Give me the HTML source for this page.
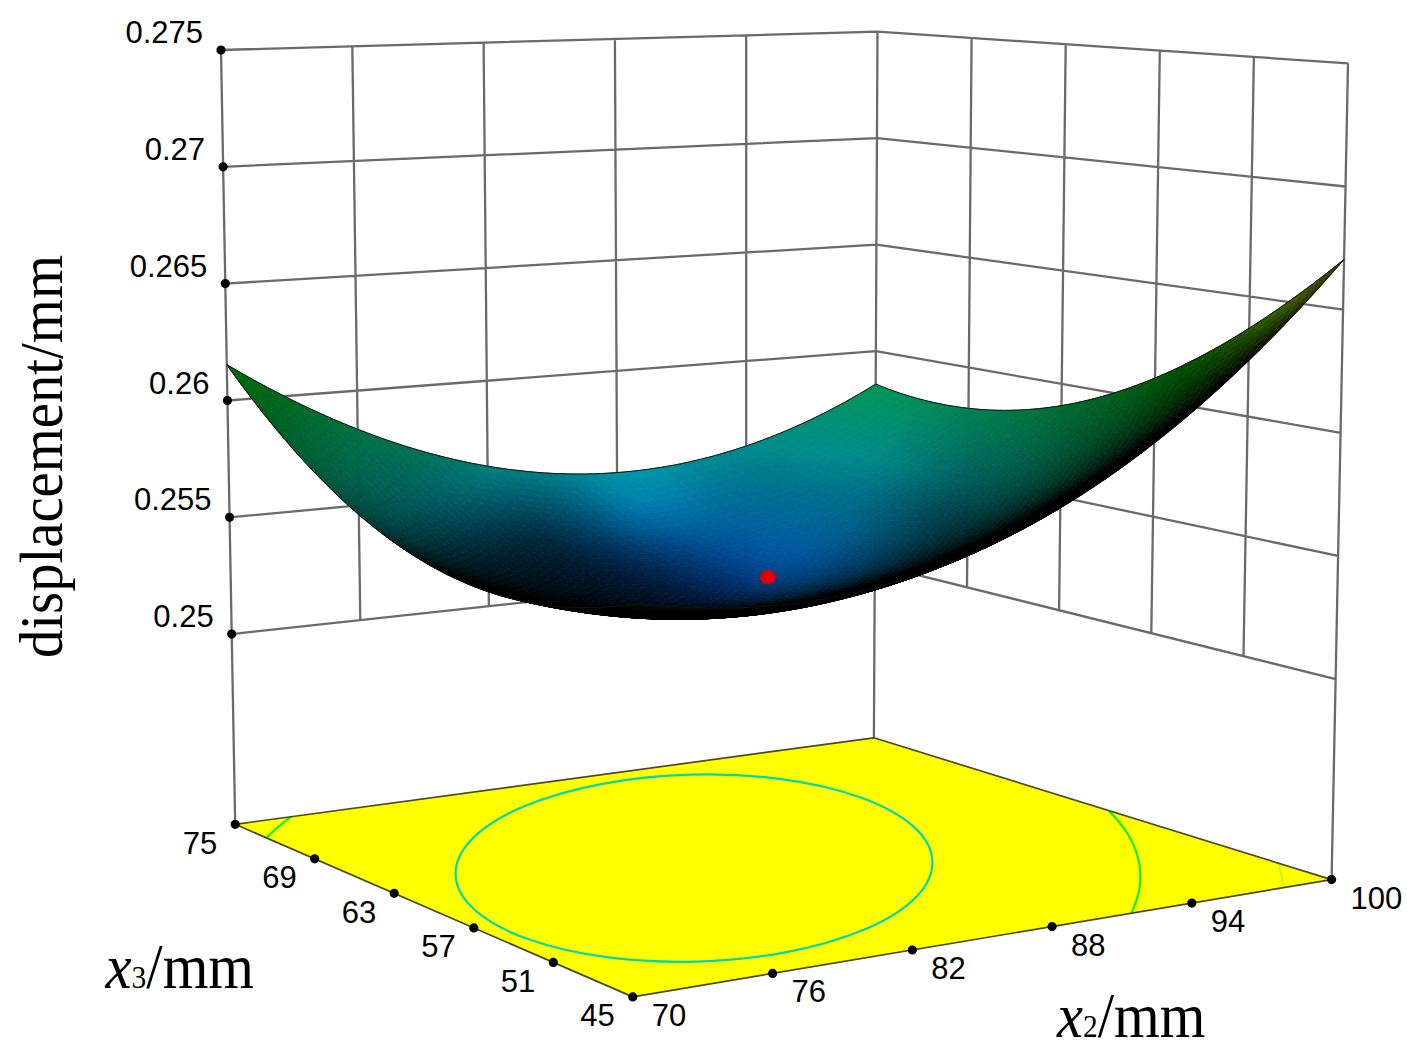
<!DOCTYPE html>
<html><head><meta charset="utf-8"><style>html,body{margin:0;padding:0;background:#fff;width:1407px;height:1062px;overflow:hidden}</style></head>
<body>
<svg width="1407" height="1062" viewBox="0 0 1407 1062" style="display:block">
<rect width="1407" height="1062" fill="#fff"/>
<path d="M235.2,824.3L221,50M360.3,620.2L352.3,46.3M488.9,606.2L483.6,42.6M617.6,592.2L614.9,39M746.2,578.3L746.2,35.3M873.9,737.8L877.5,31.6M231.7,634.1L874.8,564.3M229.6,517.3L875.3,457.8M227.4,400.5L875.9,351.2M225.3,283.6L876.4,244.7M223.1,166.8L877,138.1M221,50L877.5,31.6M967,587.3L971.6,37.9M1059.1,610.2L1065.7,44.3M1151.3,633.2L1159.8,50.6M1243.5,656.1L1253.9,57M1331.6,879.6L1348,63.3M874.8,564.3L1335.6,679.1M875.3,457.8L1338.1,555.9M875.9,351.2L1340.6,432.8M876.4,244.7L1343.1,309.6M877,138.1L1345.5,186.5M877.5,31.6L1348,63.3" stroke="#6a6a6a" stroke-width="2.3" fill="none"/>
<path d="M235.2,824.3L873.9,737.8L1331.6,879.6L632.8,996.9Z" fill="#ffff00"/>
<ellipse cx="694.0" cy="868.1" rx="238.5" ry="93.5" transform="rotate(-1.56 694.0 868.1)" fill="none" stroke="#00d8b0" stroke-width="2.2"/>
<path d="M291.2,816.7L289.9,817.6L288.9,818.4L287.9,819.2L286.9,819.9L285.9,820.7L285,821.5L284,822.3L283,823.1L281.9,824L280.8,824.9L279.7,825.8L278.6,826.7L277.6,827.6L276.5,828.5L275.5,829.4L274.5,830.3L273.5,831.1L272.6,832L271.7,832.8L270.8,833.6L269.9,834.5L269,835.3L268.2,836.1L267.3,837L266.4,837.8" stroke="#10f010" stroke-width="2.2" fill="none"/>
<path d="M1131.2,913.2L1131.6,912.4L1132.1,911.5L1132.5,910.4L1133,909.4L1133.4,908.4L1133.8,907.6L1134.1,906.8L1134.4,905.9L1134.8,905.1L1135.1,904.2L1135.5,903.2L1135.9,902.1L1136.2,901.2L1136.4,900.4L1136.7,899.6L1136.9,898.8L1137.2,897.9L1137.5,896.8L1137.8,895.8L1138,894.9L1138.2,894.1L1138.4,893.4L1138.6,892.5L1138.8,891.4L1139,890.4L1139.2,889.5L1139.3,888.8L1139.4,888L1139.6,887.1L1139.7,886L1139.8,885L1139.9,884.2L1140,883.5L1140.1,882.7L1140.2,881.6L1140.2,880.5L1140.3,879.7L1140.3,879L1140.3,878.2L1140.3,877.1L1140.3,876L1140.3,875.3L1140.3,874.6L1140.3,873.6L1140.3,872.5L1140.2,871.7L1140.2,870.9L1140.1,870.2L1140,869L1139.9,868L1139.8,867.3L1139.7,866.6L1139.6,865.5L1139.4,864.5L1139.3,863.7L1139.1,863L1139,862L1138.7,860.9L1138.6,860.2L1138.4,859.5L1138.2,858.4L1137.9,857.4L1137.7,856.7L1137.5,856L1137.2,854.8L1136.9,853.9L1136.7,853.2L1136.4,852.3L1136,851.2L1135.7,850.5L1135.5,849.8L1135,848.6L1134.7,847.8L1134.4,847.1L1134,846.1L1133.5,845L1133.2,844.4L1132.9,843.6L1132.3,842.3L1132,841.7L1131.6,841L1131,839.7L1130.6,839L1130.2,838.4L1129.5,837.1L1129.1,836.4L1128.7,835.7L1128,834.5L1127.5,833.7L1127.1,833.1L1126.3,831.8L1125.8,831.1L1125.4,830.5L1124.5,829.2L1124.1,828.5L1123.5,827.7L1122.7,826.6L1122.2,826L1121.4,825L1120.7,824.1L1120.2,823.4L1119.2,822.2L1118.7,821.5L1118,820.7L1117.1,819.6L1116.5,819L1115.5,817.9L1114.9,817.1L1114.2,816.4L1113.1,815.3L1112.5,814.6L1111.4,813.5L1110.7,812.8L1109.9,812L1108.9,811" stroke="#10f010" stroke-width="2.2" fill="none"/>
<path d="M1283.5,887.7L1283.4,887L1283.3,885.8L1283.1,884.8L1283,884.1L1282.9,883.4L1282.7,882.3L1282.6,881.2L1282.4,880.5L1282.3,879.8L1282.1,878.7L1281.9,877.7L1281.7,877L1281.6,876.3L1281.3,875.1L1281.1,874.1L1280.9,873.4L1280.7,872.7L1280.4,871.5L1280.2,870.6L1280,870L1279.7,869L1279.4,867.9L1279.2,867.2L1278.9,866.5L1278.6,865.4L1278.3,864.4L1278,863.7L1277.7,862.9" stroke="#b8f830" stroke-width="1.6" fill="none"/>
<path d="M632.8,996.9L235.2,824.3L873.9,737.8L1331.6,879.6L632.8,996.9" fill="none" stroke="#4a4a20" stroke-width="1.7" stroke-linejoin="round"/>
<path d="M227.1,634.1a4.6,4.6 0 1,0 9.2,0a4.6,4.6 0 1,0 -9.2,0zM225,517.3a4.6,4.6 0 1,0 9.2,0a4.6,4.6 0 1,0 -9.2,0zM222.8,400.5a4.6,4.6 0 1,0 9.2,0a4.6,4.6 0 1,0 -9.2,0zM220.7,283.6a4.6,4.6 0 1,0 9.2,0a4.6,4.6 0 1,0 -9.2,0zM218.5,166.8a4.6,4.6 0 1,0 9.2,0a4.6,4.6 0 1,0 -9.2,0zM216.4,50a4.6,4.6 0 1,0 9.2,0a4.6,4.6 0 1,0 -9.2,0zM230.6,824.3a4.6,4.6 0 1,0 9.2,0a4.6,4.6 0 1,0 -9.2,0zM628.2,996.9a4.6,4.6 0 1,0 9.2,0a4.6,4.6 0 1,0 -9.2,0zM310.1,858.8a4.6,4.6 0 1,0 9.2,0a4.6,4.6 0 1,0 -9.2,0zM768,973.4a4.6,4.6 0 1,0 9.2,0a4.6,4.6 0 1,0 -9.2,0zM389.6,893.3a4.6,4.6 0 1,0 9.2,0a4.6,4.6 0 1,0 -9.2,0zM907.7,950a4.6,4.6 0 1,0 9.2,0a4.6,4.6 0 1,0 -9.2,0zM469.2,927.9a4.6,4.6 0 1,0 9.2,0a4.6,4.6 0 1,0 -9.2,0zM1047.5,926.5a4.6,4.6 0 1,0 9.2,0a4.6,4.6 0 1,0 -9.2,0zM548.7,962.4a4.6,4.6 0 1,0 9.2,0a4.6,4.6 0 1,0 -9.2,0zM1187.2,903.1a4.6,4.6 0 1,0 9.2,0a4.6,4.6 0 1,0 -9.2,0zM628.2,996.9a4.6,4.6 0 1,0 9.2,0a4.6,4.6 0 1,0 -9.2,0zM1327,879.6a4.6,4.6 0 1,0 9.2,0a4.6,4.6 0 1,0 -9.2,0z" fill="#000"/>
<g font-family="Liberation Sans, sans-serif" font-size="31" fill="#000">
<text x="213.7" y="627.1" text-anchor="end">0.25</text>
<text x="211.6" y="510.3" text-anchor="end">0.255</text>
<text x="209.4" y="393.5" text-anchor="end">0.26</text>
<text x="207.3" y="276.6" text-anchor="end">0.265</text>
<text x="205.1" y="159.8" text-anchor="end">0.27</text>
<text x="203" y="43" text-anchor="end">0.275</text>
<text x="217.2" y="853.8" text-anchor="end">75</text>
<text x="296.7" y="888.3" text-anchor="end">69</text>
<text x="376.2" y="922.8" text-anchor="end">63</text>
<text x="455.8" y="957.4" text-anchor="end">57</text>
<text x="535.3" y="991.9" text-anchor="end">51</text>
<text x="614.8" y="1026.4" text-anchor="end">45</text>
<text x="651.8" y="1025.9" text-anchor="start">70</text>
<text x="791.6" y="1002.4" text-anchor="start">76</text>
<text x="931.3" y="979" text-anchor="start">82</text>
<text x="1071.1" y="955.5" text-anchor="start">88</text>
<text x="1210.8" y="932.1" text-anchor="start">94</text>
<text x="1350.6" y="908.6" text-anchor="start">100</text>
</g>
<g stroke-width=".8">
<path fill="#009557" stroke="#009557" d="M864.9 390.6l10.8-6.5 7.7 3.1-10.8 6.7z"/>
<path fill="#00955e" stroke="#00955e" d="M854.1 396.9l10.8-6.3 7.7 3.3-10.8 6.4z"/>
<path fill="#009459" stroke="#009459" d="M872.6 393.9l10.8-6.7 7.8 2.9-10.9 6.8z"/>
<path fill="#00935a" stroke="#00935a" d="M880.3 396.9l10.9-6.8 7.7 2.7-10.9 6.9z"/>
<path fill="#009464" stroke="#009464" d="M843.3 403l10.8-6.1 7.7 3.4-10.9 6.2z"/>
<path fill="#009460" stroke="#009460" d="M861.8 400.3l10.8-6.4 7.7 3-10.8 6.5z"/>
<path fill="#00936a" stroke="#00936a" d="M832.5 408.8l10.8-5.8 7.6 3.5-10.8 5.9z"/>
<path fill="#009361" stroke="#009361" d="M869.5 403.4l10.8-6.5 7.7 2.8-10.9 6.7z"/>
<path fill="#00925a" stroke="#00925a" d="M888 399.7l10.9-6.9 7.7 2.5-10.9 7z"/>
<path fill="#009466" stroke="#009466" d="M850.9 406.5l10.9-6.2 7.7 3.1-10.9 6.3z"/>
<path fill="#00926f" stroke="#00926f" d="M821.7 414.3l10.8-5.5 7.6 3.6-10.8 5.6z"/>
<path fill="#00905b" stroke="#00905b" d="M895.7 402.3l10.9-7 7.7 2.3-10.9 7.2z"/>
<path fill="#00936c" stroke="#00936c" d="M840.1 412.4l10.8-5.9 7.7 3.2-10.8 6.1z"/>
<path fill="#009368" stroke="#009368" d="M858.6 409.7l10.9-6.3 7.6 3-10.8 6.4z"/>
<path fill="#009262" stroke="#009262" d="M877.1 406.4l10.9-6.7 7.7 2.6-10.9 6.9z"/>
<path fill="#009174" stroke="#009174" d="M810.9 419.6l10.8-5.3 7.6 3.7-10.8 5.4z"/>
<path fill="#009271" stroke="#009271" d="M829.3 418l10.8-5.6 7.7 3.4-10.9 5.8z"/>
<path fill="#00926e" stroke="#00926e" d="M847.8 415.8l10.8-6.1 7.7 3.1-10.9 6.2z"/>
<path fill="#009162" stroke="#009162" d="M884.8 409.2l10.9-6.9 7.7 2.5-10.9 6.9z"/>
<path fill="#008f5b" stroke="#008f5b" d="M903.4 404.8l10.9-7.2 7.8 2.1-11 7.3z"/>
<path fill="#009269" stroke="#009269" d="M866.3 412.8l10.8-6.4 7.7 2.8-10.8 6.5z"/>
<path fill="#009173" stroke="#009173" d="M836.9 421.6l10.9-5.8 7.6 3.2-10.8 5.9z"/>
<path fill="#009078" stroke="#009078" d="M800.1 424.6l10.8-5 7.6 3.8-10.8 5.2z"/>
<path fill="#009076" stroke="#009076" d="M818.5 423.4l10.8-5.4 7.6 3.6-10.8 5.5z"/>
<path fill="#00916f" stroke="#00916f" d="M855.4 419l10.9-6.2 7.7 2.9-10.9 6.3z"/>
<path fill="#009169" stroke="#009169" d="M874 415.7l10.8-6.5 7.7 2.5-10.9 6.7z"/>
<path fill="#008f62" stroke="#008f62" d="M892.5 411.7l10.9-6.9 7.7 2.2-10.9 7.1z"/>
<path fill="#008d5a" stroke="#008d5a" d="M911.1 407l11-7.3 7.7 1.9-10.9 7.5z"/>
<path fill="#008e7c" stroke="#008e7c" d="M789.3 429.4l10.8-4.8 7.6 4-10.8 4.9z"/>
<path fill="#009078" stroke="#009078" d="M826.1 427.1l10.8-5.5 7.7 3.3-10.8 5.6z"/>
<path fill="#009175" stroke="#009175" d="M844.6 424.9l10.8-5.9 7.7 3-10.9 6z"/>
<path fill="#009070" stroke="#009070" d="M863.1 422l10.9-6.3 7.6 2.7-10.8 6.4z"/>
<path fill="#008d62" stroke="#008d62" d="M900.2 414.1l10.9-7.1 7.8 2.1-11 7.1z"/>
<path fill="#008b59" stroke="#008b59" d="M918.9 409.1l10.9-7.5 7.7 1.7-10.9 7.6z"/>
<path fill="#008f7a" stroke="#008f7a" d="M807.7 428.6l10.8-5.2 7.6 3.7-10.8 5.2z"/>
<path fill="#008f6a" stroke="#008f6a" d="M881.6 418.4l10.9-6.7 7.7 2.4-10.9 6.8z"/>
<path fill="#008d7f" stroke="#008d7f" d="M778.5 433.9l10.8-4.5 7.6 4.1-10.8 4.6z"/>
<path fill="#009076" stroke="#009076" d="M852.2 428l10.9-6 7.7 2.8-10.9 6.2z"/>
<path fill="#008958" stroke="#008958" d="M926.6 410.9l10.9-7.6 7.8 1.6-11 7.7z"/>
<path fill="#008e7e" stroke="#008e7e" d="M796.9 433.5l10.8-4.9 7.6 3.7-10.8 5.1z"/>
<path fill="#008f7d" stroke="#008f7d" d="M815.3 432.3l10.8-5.2 7.7 3.4-10.9 5.4z"/>
<path fill="#00907a" stroke="#00907a" d="M833.8 430.5l10.8-5.6 7.6 3.1-10.8 5.8z"/>
<path fill="#008f70" stroke="#008f70" d="M870.8 424.8l10.8-6.4 7.7 2.5-10.9 6.5z"/>
<path fill="#008b61" stroke="#008b61" d="M907.9 416.2l11-7.1 7.7 1.8-11 7.3z"/>
<path fill="#008e69" stroke="#008e69" d="M889.3 420.9l10.9-6.8 7.7 2.1-10.9 7z"/>
<path fill="#008c83" stroke="#008c83" d="M767.7 438.2l10.8-4.3 7.6 4.2-10.8 4.4z"/>
<path fill="#008d82" stroke="#008d82" d="M786.1 438.1l10.8-4.6 7.6 3.9-10.8 4.7z"/>
<path fill="#008e81" stroke="#008e81" d="M804.5 437.4l10.8-5.1 7.6 3.6-10.8 5.2z"/>
<path fill="#008f7b" stroke="#008f7b" d="M841.4 433.8l10.8-5.8 7.7 3-10.9 5.9z"/>
<path fill="#008f76" stroke="#008f76" d="M859.9 431l10.9-6.2 7.6 2.6-10.9 6.3z"/>
<path fill="#008757" stroke="#008757" d="M934.3 412.6l11-7.7 7.7 1.3-11 7.8z"/>
<path fill="#008f7e" stroke="#008f7e" d="M822.9 435.9l10.9-5.4 7.6 3.3-10.9 5.5z"/>
<path fill="#008e70" stroke="#008e70" d="M878.4 427.4l10.9-6.5 7.7 2.3-10.9 6.6z"/>
<path fill="#008c69" stroke="#008c69" d="M897 423.2l10.9-7 7.7 2-10.9 7.1z"/>
<path fill="#008960" stroke="#008960" d="M915.6 418.2l11-7.3 7.7 1.7-11 7.4z"/>
<path fill="#008d84" stroke="#008d84" d="M793.7 442.1l10.8-4.7 7.6 3.7-10.8 4.9z"/>
<path fill="#008c86" stroke="#008c86" d="M757 442.2l10.7-4 7.6 4.3-10.8 4.2z"/>
<path fill="#008c85" stroke="#008c85" d="M775.3 442.5l10.8-4.4 7.6 4-10.8 4.6z"/>
<path fill="#008d83" stroke="#008d83" d="M812.1 441.1l10.8-5.2 7.6 3.4-10.8 5.3z"/>
<path fill="#008e80" stroke="#008e80" d="M830.5 439.3l10.9-5.5 7.6 3.1-10.9 5.6z"/>
<path fill="#008e7c" stroke="#008e7c" d="M849 436.9l10.9-5.9 7.6 2.7-10.9 6z"/>
<path fill="#008e77" stroke="#008e77" d="M867.5 433.7l10.9-6.3 7.7 2.4-10.9 6.4z"/>
<path fill="#008c70" stroke="#008c70" d="M886.1 429.8l10.9-6.6 7.7 2.1-11 6.8z"/>
<path fill="#008967" stroke="#008967" d="M904.7 425.3l10.9-7.1 7.7 1.8-10.9 7.2z"/>
<path fill="#00875e" stroke="#00875e" d="M923.3 420l11-7.4 7.7 1.4-11 7.6z"/>
<path fill="#008555" stroke="#008555" d="M942 414l11-7.8 7.7 1.2-11 7.9z"/>
<path fill="#008c8a" stroke="#008c8a" d="M746.2 446l10.8-3.8 7.5 4.5-10.8 3.9z"/>
<path fill="#008c88" stroke="#008c88" d="M782.9 446.7l10.8-4.6 7.6 3.9-10.9 4.6z"/>
<path fill="#008c86" stroke="#008c86" d="M801.3 446l10.8-4.9 7.6 3.5-10.9 5z"/>
<path fill="#008d84" stroke="#008d84" d="M819.7 444.6l10.8-5.3 7.6 3.2-10.8 5.4z"/>
<path fill="#008d7d" stroke="#008d7d" d="M856.6 439.7l10.9-6 7.7 2.5-10.9 6.2z"/>
<path fill="#008c76" stroke="#008c76" d="M875.2 436.2l10.9-6.4 7.6 2.3-10.9 6.5z"/>
<path fill="#008a6f" stroke="#008a6f" d="M893.7 432.1l11-6.8 7.7 1.9-11 6.9z"/>
<path fill="#00855d" stroke="#00855d" d="M931 421.6l11-7.6 7.7 1.3-11 7.7z"/>
<path fill="#008254" stroke="#008254" d="M949.7 415.3l11-7.9 7.8 0.9-11.1 8.1z"/>
<path fill="#008c89" stroke="#008c89" d="M764.5 446.7l10.8-4.2 7.6 4.2-10.8 4.2z"/>
<path fill="#008e81" stroke="#008e81" d="M838.1 442.5l10.9-5.6 7.6 2.8-10.9 5.8z"/>
<path fill="#008766" stroke="#008766" d="M912.4 427.2l10.9-7.2 7.7 1.6-11 7.3z"/>
<path fill="#008b8c" stroke="#008b8c" d="M735.4 449.5l10.8-3.5 7.5 4.6-10.8 3.6z"/>
<path fill="#008c88" stroke="#008c88" d="M808.8 449.6l10.9-5 7.6 3.3-10.9 5.1z"/>
<path fill="#008a75" stroke="#008a75" d="M882.8 438.6l10.9-6.5 7.7 2-10.9 6.6z"/>
<path fill="#008b8b" stroke="#008b8b" d="M753.7 450.6l10.8-3.9 7.6 4.2-10.8 4.1z"/>
<path fill="#008b8b" stroke="#008b8b" d="M772.1 450.9l10.8-4.2 7.5 3.9-10.8 4.4z"/>
<path fill="#008c8a" stroke="#008c8a" d="M790.4 450.6l10.9-4.6 7.5 3.6-10.8 4.8z"/>
<path fill="#008d86" stroke="#008d86" d="M827.3 447.9l10.8-5.4 7.6 3-10.8 5.5z"/>
<path fill="#008c7c" stroke="#008c7c" d="M864.3 442.4l10.9-6.2 7.6 2.4-10.9 6.3z"/>
<path fill="#00876d" stroke="#00876d" d="M901.4 434.1l11-6.9 7.6 1.7-10.9 7z"/>
<path fill="#00825b" stroke="#00825b" d="M938.7 423l11-7.7 7.7 1.1-11 7.8z"/>
<path fill="#008052" stroke="#008052" d="M957.4 416.4l11.1-8.1 7.7 0.8-11 8.2z"/>
<path fill="#008d82" stroke="#008d82" d="M845.7 445.5l10.9-5.8 7.7 2.7-10.9 5.9z"/>
<path fill="#008564" stroke="#008564" d="M920 428.9l11-7.3 7.7 1.4-11 7.4z"/>
<path fill="#00888c" stroke="#00888c" d="M742.9 454.2l10.8-3.6 7.6 4.4-10.9 3.7z"/>
<path fill="#00878b" stroke="#00878b" d="M761.3 455l10.8-4.1 7.5 4.1-10.8 4.2z"/>
<path fill="#008b8b" stroke="#008b8b" d="M798 454.4l10.8-4.8 7.6 3.4-10.8 4.9z"/>
<path fill="#008c8a" stroke="#008c8a" d="M816.4 453l10.9-5.1 7.6 3.1-10.9 5.3z"/>
<path fill="#008874" stroke="#008874" d="M890.5 440.7l10.9-6.6 7.7 1.8-11 6.8z"/>
<path fill="#007f50" stroke="#007f50" d="M965.2 417.3l11-8.2 7.7 0.6-11 8.3z"/>
<path fill="#00898d" stroke="#00898d" d="M724.6 452.8l10.8-3.3 7.5 4.7-10.8 3.4z"/>
<path fill="#00888b" stroke="#00888b" d="M779.6 455l10.8-4.4 7.6 3.8-10.8 4.5z"/>
<path fill="#008c87" stroke="#008c87" d="M834.9 451l10.8-5.5 7.7 2.8-10.9 5.6z"/>
<path fill="#008c82" stroke="#008c82" d="M853.4 448.3l10.9-5.9 7.6 2.5-10.9 6z"/>
<path fill="#008a7c" stroke="#008a7c" d="M871.9 444.9l10.9-6.3 7.7 2.1-11 6.4z"/>
<path fill="#00856b" stroke="#00856b" d="M909.1 435.9l10.9-7 7.7 1.5-11 7.2z"/>
<path fill="#008262" stroke="#008262" d="M927.7 430.4l11-7.4 7.7 1.2-11 7.6z"/>
<path fill="#008059" stroke="#008059" d="M946.4 424.2l11-7.8 7.8 0.9-11.1 7.9z"/>
<path fill="#00848c" stroke="#00848c" d="M750.4 458.7l10.9-3.7 7.5 4.2-10.8 3.9z"/>
<path fill="#00888f" stroke="#00888f" d="M713.9 455.9l10.7-3.1 7.5 4.8-10.7 3.2z"/>
<path fill="#00848b" stroke="#00848b" d="M768.8 459.2l10.8-4.2 7.6 3.9-10.9 4.2z"/>
<path fill="#00868b" stroke="#00868b" d="M787.2 458.9l10.8-4.5 7.6 3.5-10.9 4.6z"/>
<path fill="#00888b" stroke="#00888b" d="M805.6 457.9l10.8-4.9 7.6 3.3-10.9 5z"/>
<path fill="#008c8b" stroke="#008c8b" d="M824 456.3l10.9-5.3 7.6 2.9-10.9 5.4z"/>
<path fill="#008c88" stroke="#008c88" d="M842.5 453.9l10.9-5.6 7.6 2.6-10.9 5.7z"/>
<path fill="#008a82" stroke="#008a82" d="M861 450.9l10.9-6 7.6 2.2-10.9 6.2z"/>
<path fill="#00887b" stroke="#00887b" d="M879.5 447.1l11-6.4 7.6 2-11 6.5z"/>
<path fill="#008572" stroke="#008572" d="M898.1 442.7l11-6.8 7.6 1.7-10.9 6.9z"/>
<path fill="#008269" stroke="#008269" d="M916.7 437.6l11-7.2 7.7 1.4-11 7.2z"/>
<path fill="#007e57" stroke="#007e57" d="M954.1 425.2l11.1-7.9 7.7 0.7-11.1 8.1z"/>
<path fill="#007d4e" stroke="#007d4e" d="M972.9 418l11-8.3 7.8 0.4-11.1 8.5z"/>
<path fill="#00858d" stroke="#00858d" d="M732.1 457.6l10.8-3.4 7.5 4.5-10.7 3.6z"/>
<path fill="#008060" stroke="#008060" d="M935.4 431.8l11-7.6 7.7 1-11 7.7z"/>
<path fill="#008891" stroke="#008891" d="M703.1 458.7l10.8-2.8 7.5 4.9-10.8 2.9z"/>
<path fill="#00818b" stroke="#00818b" d="M758 463.1l10.8-3.9 7.5 3.9-10.8 4.1z"/>
<path fill="#00828b" stroke="#00828b" d="M776.3 463.1l10.9-4.2 7.5 3.6-10.9 4.4z"/>
<path fill="#00878b" stroke="#00878b" d="M813.1 461.3l10.9-5 7.6 3-10.9 5.1z"/>
<path fill="#008a8b" stroke="#008a8b" d="M831.6 459.3l10.9-5.4 7.6 2.7-11 5.5z"/>
<path fill="#008b88" stroke="#008b88" d="M850.1 456.6l10.9-5.7 7.6 2.4-10.9 5.9z"/>
<path fill="#008679" stroke="#008679" d="M887.1 449.2l11-6.5 7.7 1.8-11 6.6z"/>
<path fill="#008370" stroke="#008370" d="M905.8 444.5l10.9-6.9 7.7 1.4-11 7.1z"/>
<path fill="#007b4b" stroke="#007b4b" d="M980.6 418.6l11.1-8.5 7.7 0.2-11.1 8.6z"/>
<path fill="#00848e" stroke="#00848e" d="M721.4 460.8l10.7-3.2 7.6 4.7-10.8 3.3z"/>
<path fill="#00828c" stroke="#00828c" d="M739.7 462.3l10.7-3.6 7.6 4.4-10.8 3.6z"/>
<path fill="#00848b" stroke="#00848b" d="M794.7 462.5l10.9-4.6 7.5 3.4-10.9 4.7z"/>
<path fill="#008981" stroke="#008981" d="M868.6 453.3l10.9-6.2 7.6 2.1-10.9 6.3z"/>
<path fill="#008066" stroke="#008066" d="M924.4 439l11-7.2 7.7 1.1-11 7.4z"/>
<path fill="#007d5d" stroke="#007d5d" d="M943.1 432.9l11-7.7 7.7 0.9-11 7.8z"/>
<path fill="#007c55" stroke="#007c55" d="M961.8 426.1l11.1-8.1 7.7 0.6-11.1 8.1z"/>
<path fill="#007e8b" stroke="#007e8b" d="M765.5 467.2l10.8-4.1 7.5 3.8-10.8 4.2z"/>
<path fill="#00888b" stroke="#00888b" d="M839.1 462.1l11-5.5 7.6 2.6-11 5.6z"/>
<path fill="#008995" stroke="#008995" d="M692.3 461.2l10.8-2.5 7.5 5-10.8 2.7z"/>
<path fill="#008491" stroke="#008491" d="M710.6 463.7l10.8-2.9 7.5 4.8-10.8 3z"/>
<path fill="#00808e" stroke="#00808e" d="M728.9 465.6l10.8-3.3 7.5 4.4-10.9 3.4z"/>
<path fill="#00808b" stroke="#00808b" d="M783.8 466.9l10.9-4.4 7.5 3.5-10.8 4.5z"/>
<path fill="#00858b" stroke="#00858b" d="M820.7 464.4l10.9-5.1 7.5 2.8-10.9 5.3z"/>
<path fill="#008987" stroke="#008987" d="M857.7 459.2l10.9-5.9 7.6 2.2-11 6z"/>
<path fill="#008377" stroke="#008377" d="M894.8 451.1l11-6.6 7.6 1.6-11 6.7z"/>
<path fill="#00806d" stroke="#00806d" d="M913.4 446.1l11-7.1 7.7 1.3-11 7.2z"/>
<path fill="#007d64" stroke="#007d64" d="M932.1 440.3l11-7.4 7.7 1-11.1 7.5z"/>
<path fill="#007a52" stroke="#007a52" d="M969.5 426.7l11.1-8.1 7.7 0.3-11.1 8.3z"/>
<path fill="#007949" stroke="#007949" d="M988.3 418.9l11.1-8.6 7.8 0.1-11.1 8.7z"/>
<path fill="#007f8c" stroke="#007f8c" d="M747.2 466.7l10.8-3.6 7.5 4.1-10.8 3.7z"/>
<path fill="#00828b" stroke="#00828b" d="M802.2 466l10.9-4.7 7.6 3.1-10.9 4.9z"/>
<path fill="#008780" stroke="#008780" d="M876.2 455.5l10.9-6.3 7.7 1.9-11 6.4z"/>
<path fill="#007b5b" stroke="#007b5b" d="M950.8 433.9l11-7.8 7.7 0.6-11 7.9z"/>
<path fill="#008090" stroke="#008090" d="M718.1 468.6l10.8-3 7.4 4.5-10.8 3.2z"/>
<path fill="#007c8b" stroke="#007c8b" d="M773 471.1l10.8-4.2 7.6 3.6-10.9 4.3z"/>
<path fill="#00868a" stroke="#00868a" d="M846.7 464.8l11-5.6 7.5 2.3-10.9 5.7z"/>
<path fill="#007d6a" stroke="#007d6a" d="M921.1 447.5l11-7.2 7.6 1.1-11 7.3z"/>
<path fill="#007746" stroke="#007746" d="M996.1 419.1l11.1-8.7 7.7-0.2-11.1 8.8z"/>
<path fill="#008a98" stroke="#008a98" d="M681.6 463.6l10.7-2.4 7.5 5.2-10.8 2.5z"/>
<path fill="#008494" stroke="#008494" d="M699.8 466.4l10.8-2.7 7.5 4.9-10.8 2.8z"/>
<path fill="#007d8e" stroke="#007d8e" d="M736.3 470.1l10.9-3.4 7.5 4.2-10.9 3.6z"/>
<path fill="#007c8c" stroke="#007c8c" d="M754.7 470.9l10.8-3.7 7.5 3.9-10.8 3.9z"/>
<path fill="#007e8b" stroke="#007e8b" d="M791.4 470.5l10.8-4.5 7.6 3.3-10.9 4.6z"/>
<path fill="#00808b" stroke="#00808b" d="M809.8 469.3l10.9-4.9 7.5 3-10.9 5z"/>
<path fill="#00838b" stroke="#00838b" d="M828.2 467.4l10.9-5.3 7.6 2.7-10.9 5.3z"/>
<path fill="#008786" stroke="#008786" d="M865.2 461.5l11-6 7.6 2-11 6.1z"/>
<path fill="#00847d" stroke="#00847d" d="M883.8 457.5l11-6.4 7.6 1.7-11 6.5z"/>
<path fill="#008074" stroke="#008074" d="M902.4 452.8l11-6.7 7.7 1.4-11.1 6.8z"/>
<path fill="#007a61" stroke="#007a61" d="M939.7 441.4l11.1-7.5 7.7 0.7-11.1 7.7z"/>
<path fill="#007959" stroke="#007959" d="M958.5 434.6l11-7.9 7.7 0.5-11 8z"/>
<path fill="#007850" stroke="#007850" d="M977.2 427.2l11.1-8.3 7.8 0.2-11.1 8.4z"/>
<path fill="#008c9c" stroke="#008c9c" d="M670.8 465.7l10.8-2.1 7.4 5.3-10.8 2.2z"/>
<path fill="#008093" stroke="#008093" d="M707.3 471.4l10.8-2.8 7.4 4.7-10.8 2.9z"/>
<path fill="#007c90" stroke="#007c90" d="M725.5 473.3l10.8-3.2 7.5 4.4-10.8 3.2z"/>
<path fill="#007a8d" stroke="#007a8d" d="M743.8 474.5l10.9-3.6 7.5 4.1-10.9 3.6z"/>
<path fill="#007a8c" stroke="#007a8c" d="M780.5 474.8l10.9-4.3 7.5 3.4-10.9 4.4z"/>
<path fill="#007c8b" stroke="#007c8b" d="M798.9 473.9l10.9-4.6 7.5 3.1-10.9 4.7z"/>
<path fill="#007f8b" stroke="#007f8b" d="M817.3 472.4l10.9-5 7.6 2.7-10.9 5.2z"/>
<path fill="#00818a" stroke="#00818a" d="M835.8 470.1l10.9-5.3 7.6 2.4-10.9 5.5z"/>
<path fill="#008488" stroke="#008488" d="M854.3 467.2l10.9-5.7 7.6 2.1-10.9 5.9z"/>
<path fill="#008584" stroke="#008584" d="M872.8 463.6l11-6.1 7.6 1.8-11 6.3z"/>
<path fill="#007d71" stroke="#007d71" d="M910 454.3l11.1-6.8 7.6 1.2-11 7z"/>
<path fill="#007a67" stroke="#007a67" d="M928.7 448.7l11-7.3 7.7 0.9-11 7.4z"/>
<path fill="#00785f" stroke="#00785f" d="M947.4 442.3l11.1-7.7 7.7 0.6-11.1 7.8z"/>
<path fill="#00764d" stroke="#00764d" d="M985 427.5l11.1-8.4 7.7-0.1-11.1 8.6z"/>
<path fill="#007544" stroke="#007544" d="M1003.8 419l11.1-8.8 7.8-0.3-11.2 8.9z"/>
<path fill="#008698" stroke="#008698" d="M689 468.9l10.8-2.5 7.5 5-10.8 2.6z"/>
<path fill="#00798c" stroke="#00798c" d="M762.2 475l10.8-3.9 7.5 3.7-10.8 4z"/>
<path fill="#00817b" stroke="#00817b" d="M891.4 459.3l11-6.5 7.6 1.5-11 6.7z"/>
<path fill="#007756" stroke="#007756" d="M966.2 435.2l11-8 7.8 0.3-11.1 8.1z"/>
<path fill="#008fa1" stroke="#008fa1" d="M660 467.5l10.8-1.8 7.4 5.4-10.7 2z"/>
<path fill="#00798f" stroke="#00798f" d="M733 477.7l10.8-3.2 7.5 4.1-10.8 3.4z"/>
<path fill="#00788c" stroke="#00788c" d="M788 478.3l10.9-4.4 7.5 3.2-10.9 4.5z"/>
<path fill="#007a8b" stroke="#007a8b" d="M806.4 477.1l10.9-4.7 7.6 2.9-10.9 4.8z"/>
<path fill="#008089" stroke="#008089" d="M843.4 472.7l10.9-5.5 7.6 2.3-11 5.6z"/>
<path fill="#008286" stroke="#008286" d="M861.9 469.5l10.9-5.9 7.6 2-10.9 6z"/>
<path fill="#007764" stroke="#007764" d="M936.4 449.7l11-7.4 7.7 0.7-11.1 7.5z"/>
<path fill="#007441" stroke="#007441" d="M1011.5 418.8l11.2-8.9 7.7-0.5-11.1 9.1z"/>
<path fill="#00889c" stroke="#00889c" d="M678.2 471.1l10.8-2.2 7.5 5.1-10.8 2.3z"/>
<path fill="#008197" stroke="#008197" d="M696.5 474l10.8-2.6 7.4 4.8-10.8 2.7z"/>
<path fill="#007c92" stroke="#007c92" d="M714.7 476.2l10.8-2.9 7.5 4.4-10.8 3.1z"/>
<path fill="#00778d" stroke="#00778d" d="M751.3 478.6l10.9-3.6 7.5 3.8-10.9 3.8z"/>
<path fill="#007d8a" stroke="#007d8a" d="M824.9 475.3l10.9-5.2 7.6 2.6-11 5.3z"/>
<path fill="#008382" stroke="#008382" d="M880.4 465.6l11-6.3 7.6 1.7-11 6.3z"/>
<path fill="#007e78" stroke="#007e78" d="M899 461l11-6.7 7.7 1.4-11 6.7z"/>
<path fill="#007a6e" stroke="#007a6e" d="M917.7 455.7l11-7 7.7 1-11.1 7.1z"/>
<path fill="#00765c" stroke="#00765c" d="M955.1 443l11.1-7.8 7.7 0.4-11.1 7.9z"/>
<path fill="#007554" stroke="#007554" d="M973.9 435.6l11.1-8.1 7.7 0.1-11.2 8.3z"/>
<path fill="#00754b" stroke="#00754b" d="M992.7 427.6l11.1-8.6 7.7-0.2-11.1 8.7z"/>
<path fill="#00778c" stroke="#00778c" d="M769.7 478.8l10.8-4 7.5 3.5-10.8 4.1z"/>
<path fill="#00778c" stroke="#00778c" d="M795.5 481.6l10.9-4.5 7.6 3-10.9 4.6z"/>
<path fill="#0091a4" stroke="#0091a4" d="M649.3 469.1l10.7-1.6 7.5 5.6-10.8 1.7z"/>
<path fill="#008aa0" stroke="#008aa0" d="M667.5 473.1l10.7-2 7.5 5.2-10.8 2.1z"/>
<path fill="#00839b" stroke="#00839b" d="M685.7 476.3l10.8-2.3 7.4 4.9-10.8 2.4z"/>
<path fill="#007892" stroke="#007892" d="M722.2 480.8l10.8-3.1 7.5 4.3-10.9 3.2z"/>
<path fill="#00768f" stroke="#00768f" d="M740.5 482l10.8-3.4 7.5 4-10.9 3.5z"/>
<path fill="#00798b" stroke="#00798b" d="M814 480.1l10.9-4.8 7.5 2.7-10.9 4.9z"/>
<path fill="#007e88" stroke="#007e88" d="M850.9 475.1l11-5.6 7.6 2.1-11 5.7z"/>
<path fill="#007f84" stroke="#007f84" d="M869.5 471.6l10.9-6 7.6 1.7-11 6.1z"/>
<path fill="#00807f" stroke="#00807f" d="M888 467.3l11-6.3 7.7 1.4-11.1 6.5z"/>
<path fill="#00776a" stroke="#00776a" d="M925.3 456.8l11.1-7.1 7.6 0.8-11.1 7.3z"/>
<path fill="#007561" stroke="#007561" d="M944 450.5l11.1-7.5 7.7 0.5-11.1 7.7z"/>
<path fill="#007459" stroke="#007459" d="M962.8 443.5l11.1-7.9 7.6 0.3-11.1 8z"/>
<path fill="#007348" stroke="#007348" d="M1000.4 427.5l11.1-8.7 7.8-0.3-11.2 8.7z"/>
<path fill="#00723e" stroke="#00723e" d="M1019.3 418.5l11.1-9.1 7.8-0.7-11.2 9.2z"/>
<path fill="#007c96" stroke="#007c96" d="M703.9 478.9l10.8-2.7 7.5 4.6-10.8 2.8z"/>
<path fill="#00758e" stroke="#00758e" d="M758.8 482.6l10.9-3.8 7.5 3.6-10.9 3.9z"/>
<path fill="#00758d" stroke="#00758d" d="M777.2 482.4l10.8-4.1 7.5 3.3-10.8 4.3z"/>
<path fill="#007c8a" stroke="#007c8a" d="M832.4 478l11-5.3 7.5 2.4-10.9 5.4z"/>
<path fill="#007b74" stroke="#007b74" d="M906.7 462.4l11-6.7 7.6 1.1-11 6.9z"/>
<path fill="#007451" stroke="#007451" d="M981.5 435.9l11.2-8.3 7.7-0.1-11.2 8.4z"/>
<path fill="#0085a0" stroke="#0085a0" d="M674.9 478.4l10.8-2.1 7.4 5-10.8 2.2z"/>
<path fill="#00768c" stroke="#00768c" d="M803.1 484.7l10.9-4.6 7.5 2.8-10.9 4.8z"/>
<path fill="#007d81" stroke="#007d81" d="M877 473.4l11-6.1 7.6 1.6-11 6.2z"/>
<path fill="#00735f" stroke="#00735f" d="M951.7 451.2l11.1-7.7 7.6 0.4-11.1 7.7z"/>
<path fill="#00703b" stroke="#00703b" d="M1027 417.9l11.2-9.2 7.8-0.9-11.2 9.3z"/>
<path fill="#0092a7" stroke="#0092a7" d="M638.5 470.5l10.8-1.4 7.4 5.7-10.8 1.5z"/>
<path fill="#008ca5" stroke="#008ca5" d="M656.7 474.8l10.8-1.7 7.4 5.3-10.8 1.9z"/>
<path fill="#007e9a" stroke="#007e9a" d="M693.1 481.3l10.8-2.4 7.5 4.7-10.9 2.6z"/>
<path fill="#007895" stroke="#007895" d="M711.4 483.6l10.8-2.8 7.4 4.4-10.8 2.9z"/>
<path fill="#007592" stroke="#007592" d="M729.6 485.2l10.9-3.2 7.4 4.1-10.8 3.3z"/>
<path fill="#00738f" stroke="#00738f" d="M747.9 486.1l10.9-3.5 7.5 3.7-10.9 3.7z"/>
<path fill="#00738e" stroke="#00738e" d="M766.3 486.3l10.9-3.9 7.5 3.5-10.9 4z"/>
<path fill="#00748d" stroke="#00748d" d="M784.7 485.9l10.8-4.3 7.6 3.1-11 4.4z"/>
<path fill="#00788b" stroke="#00788b" d="M821.5 482.9l10.9-4.9 7.6 2.5-11 5.1z"/>
<path fill="#007a89" stroke="#007a89" d="M840 480.5l10.9-5.4 7.6 2.2-11 5.5z"/>
<path fill="#007c86" stroke="#007c86" d="M858.5 477.3l11-5.7 7.5 1.8-10.9 5.9z"/>
<path fill="#007c7b" stroke="#007c7b" d="M895.6 468.9l11.1-6.5 7.6 1.3-11.1 6.6z"/>
<path fill="#007871" stroke="#007871" d="M914.3 463.7l11-6.9 7.6 1-11 6.9z"/>
<path fill="#007467" stroke="#007467" d="M932.9 457.8l11.1-7.3 7.7 0.7-11.1 7.3z"/>
<path fill="#007257" stroke="#007257" d="M970.4 443.9l11.1-8 7.7 0-11.1 8.1z"/>
<path fill="#00724e" stroke="#00724e" d="M989.2 435.9l11.2-8.4 7.7-0.3-11.2 8.6z"/>
<path fill="#007145" stroke="#007145" d="M1008.1 427.2l11.2-8.7 7.7-0.6-11.2 8.9z"/>
<path fill="#0093a8" stroke="#0093a8" d="M627.7 471.7l10.8-1.2 7.4 5.8-10.8 1.3z"/>
<path fill="#0087a4" stroke="#0087a4" d="M664.1 480.3l10.8-1.9 7.4 5.1-10.8 2z"/>
<path fill="#00809f" stroke="#00809f" d="M682.3 483.5l10.8-2.2 7.4 4.9-10.8 2.3z"/>
<path fill="#007999" stroke="#007999" d="M700.5 486.2l10.9-2.6 7.4 4.5-10.8 2.7z"/>
<path fill="#007292" stroke="#007292" d="M737.1 489.4l10.8-3.3 7.5 3.9-10.9 3.4z"/>
<path fill="#007190" stroke="#007190" d="M755.4 490l10.9-3.7 7.5 3.6-10.9 3.7z"/>
<path fill="#00718e" stroke="#00718e" d="M773.8 489.9l10.9-4 7.4 3.2-10.9 4.1z"/>
<path fill="#00748c" stroke="#00748c" d="M810.6 487.7l10.9-4.8 7.5 2.7-10.9 4.8z"/>
<path fill="#00768a" stroke="#00768a" d="M829 485.6l11-5.1 7.5 2.3-10.9 5.2z"/>
<path fill="#007983" stroke="#007983" d="M866.1 479.3l10.9-5.9 7.6 1.7-11 6z"/>
<path fill="#007a7e" stroke="#007a7e" d="M884.6 475.1l11-6.2 7.6 1.4-11 6.3z"/>
<path fill="#007977" stroke="#007977" d="M903.2 470.3l11.1-6.6 7.6 1-11.1 6.8z"/>
<path fill="#007264" stroke="#007264" d="M940.6 458.5l11.1-7.3 7.6 0.4-11.1 7.5z"/>
<path fill="#00715c" stroke="#00715c" d="M959.3 451.6l11.1-7.7 7.7 0.1-11.1 7.9z"/>
<path fill="#007154" stroke="#007154" d="M978.1 444l11.1-8.1 7.7-0.1-11.1 8.2z"/>
<path fill="#007042" stroke="#007042" d="M1015.8 426.8l11.2-8.9 7.8-0.8-11.2 9.1z"/>
<path fill="#006e38" stroke="#006e38" d="M1034.8 417.1l11.2-9.3 7.7-1-11.2 9.4z"/>
<path fill="#008ea8" stroke="#008ea8" d="M645.9 476.3l10.8-1.5 7.4 5.5-10.8 1.6z"/>
<path fill="#007595" stroke="#007595" d="M718.8 488.1l10.8-2.9 7.5 4.2-10.9 3z"/>
<path fill="#00738d" stroke="#00738d" d="M792.1 489.1l11-4.4 7.5 3-11 4.5z"/>
<path fill="#007887" stroke="#007887" d="M847.5 482.8l11-5.5 7.6 2-11 5.6z"/>
<path fill="#00746d" stroke="#00746d" d="M921.9 464.7l11-6.9 7.7 0.7-11.1 7.1z"/>
<path fill="#00704c" stroke="#00704c" d="M996.9 435.8l11.2-8.6 7.7-0.4-11.1 8.6z"/>
<path fill="#0092a7" stroke="#0092a7" d="M617 472.6l10.7-0.9 7.4 5.9-10.7 1z"/>
<path fill="#007b9e" stroke="#007b9e" d="M689.7 488.5l10.8-2.3 7.5 4.6-10.9 2.4z"/>
<path fill="#006f90" stroke="#006f90" d="M762.9 493.6l10.9-3.7 7.4 3.3-10.9 3.9z"/>
<path fill="#00738c" stroke="#00738c" d="M818.1 490.4l10.9-4.8 7.6 2.4-11 5z"/>
<path fill="#00767a" stroke="#00767a" d="M892.2 476.6l11-6.3 7.6 1.2-11 6.4z"/>
<path fill="#006f59" stroke="#006f59" d="M967 451.9l11.1-7.9 7.7 0-11.1 8z"/>
<path fill="#006c35" stroke="#006c35" d="M1042.5 416.2l11.2-9.4 7.8-1.2-11.2 9.5z"/>
<path fill="#008faa" stroke="#008faa" d="M635.1 477.6l10.8-1.3 7.4 5.6-10.8 1.4z"/>
<path fill="#0089a8" stroke="#0089a8" d="M653.3 481.9l10.8-1.6 7.4 5.2-10.8 1.7z"/>
<path fill="#0082a4" stroke="#0082a4" d="M671.5 485.5l10.8-2 7.4 5-10.8 2.1z"/>
<path fill="#007598" stroke="#007598" d="M708 490.8l10.8-2.7 7.4 4.3-10.8 2.8z"/>
<path fill="#007092" stroke="#007092" d="M744.5 493.4l10.9-3.4 7.5 3.6-10.9 3.5z"/>
<path fill="#00708f" stroke="#00708f" d="M781.2 493.2l10.9-4.1 7.5 3.1-10.9 4.2z"/>
<path fill="#007589" stroke="#007589" d="M836.6 488l10.9-5.2 7.6 2.1-11 5.3z"/>
<path fill="#007686" stroke="#007686" d="M855.1 484.9l11-5.6 7.5 1.8-11 5.7z"/>
<path fill="#007780" stroke="#007780" d="M873.6 481.1l11-6 7.6 1.5-11 6.1z"/>
<path fill="#007573" stroke="#007573" d="M910.8 471.5l11.1-6.8 7.6 0.9-11.1 6.9z"/>
<path fill="#007169" stroke="#007169" d="M929.5 465.6l11.1-7.1 7.6 0.6-11.1 7.2z"/>
<path fill="#006f61" stroke="#006f61" d="M948.2 459.1l11.1-7.5 7.7 0.3-11.1 7.6z"/>
<path fill="#006f51" stroke="#006f51" d="M985.8 444l11.1-8.2 7.8-0.4-11.2 8.4z"/>
<path fill="#006f49" stroke="#006f49" d="M1004.7 435.4l11.1-8.6 7.8-0.6-11.2 8.7z"/>
<path fill="#006e3f" stroke="#006e3f" d="M1023.6 426.2l11.2-9.1 7.7-0.9-11.2 9.2z"/>
<path fill="#007194" stroke="#007194" d="M726.2 492.4l10.9-3 7.4 4-10.8 3.1z"/>
<path fill="#00718e" stroke="#00718e" d="M799.6 492.2l11-4.5 7.5 2.7-11 4.6z"/>
<path fill="#0090a4" stroke="#0090a4" d="M606.2 473.3l10.8-0.7 7.4 6-10.8 0.8z"/>
<path fill="#008ea9" stroke="#008ea9" d="M624.4 478.6l10.7-1 7.4 5.7-10.8 1.1z"/>
<path fill="#008bab" stroke="#008bab" d="M642.5 483.3l10.8-1.4 7.4 5.3-10.8 1.5z"/>
<path fill="#007da2" stroke="#007da2" d="M678.9 490.6l10.8-2.1 7.4 4.7-10.8 2.2z"/>
<path fill="#00769c" stroke="#00769c" d="M697.1 493.2l10.9-2.4 7.4 4.4-10.9 2.5z"/>
<path fill="#006e91" stroke="#006e91" d="M770.3 497.1l10.9-3.9 7.5 3.2-10.9 4z"/>
<path fill="#00728b" stroke="#00728b" d="M825.6 493l11-5 7.5 2.2-11 5.1z"/>
<path fill="#007388" stroke="#007388" d="M844.1 490.2l11-5.3 7.5 1.9-11 5.5z"/>
<path fill="#00747d" stroke="#00747d" d="M881.2 482.7l11-6.1 7.6 1.3-11.1 6.2z"/>
<path fill="#007377" stroke="#007377" d="M899.8 477.9l11-6.4 7.6 1-11 6.6z"/>
<path fill="#00716f" stroke="#00716f" d="M918.4 472.5l11.1-6.9 7.6 0.7-11.1 7z"/>
<path fill="#006d5e" stroke="#006d5e" d="M955.9 459.5l11.1-7.6 7.7 0.1-11.2 7.7z"/>
<path fill="#006d56" stroke="#006d56" d="M974.7 452l11.1-8 7.7-0.2-11.2 8.1z"/>
<path fill="#006e4f" stroke="#006e4f" d="M993.5 443.8l11.2-8.4 7.7-0.5-11.2 8.5z"/>
<path fill="#006b32" stroke="#006b32" d="M1050.3 415.1l11.2-9.5 7.8-1.4-11.3 9.7z"/>
<path fill="#0084a8" stroke="#0084a8" d="M660.7 487.2l10.8-1.7 7.4 5.1-10.8 1.8z"/>
<path fill="#007297" stroke="#007297" d="M715.4 495.2l10.8-2.8 7.5 4.1-10.9 2.9z"/>
<path fill="#006f94" stroke="#006f94" d="M733.7 496.5l10.8-3.1 7.5 3.7-10.9 3.3z"/>
<path fill="#006e92" stroke="#006e92" d="M752 497.1l10.9-3.5 7.4 3.5-10.9 3.6z"/>
<path fill="#006f8f" stroke="#006f8f" d="M788.7 496.4l10.9-4.2 7.5 2.8-10.9 4.4z"/>
<path fill="#00708e" stroke="#00708e" d="M807.1 495l11-4.6 7.5 2.6-11 4.7z"/>
<path fill="#007483" stroke="#007483" d="M862.6 486.8l11-5.7 7.6 1.6-11 5.8z"/>
<path fill="#006e65" stroke="#006e65" d="M937.1 466.3l11.1-7.2 7.7 0.4-11.1 7.4z"/>
<path fill="#006d46" stroke="#006d46" d="M1012.4 434.9l11.2-8.7 7.7-0.8-11.2 8.9z"/>
<path fill="#006c3c" stroke="#006c3c" d="M1031.3 425.4l11.2-9.2 7.8-1.1-11.3 9.3z"/>
<path fill="#008bab" stroke="#008bab" d="M631.7 484.4l10.8-1.1 7.4 5.4-10.8 1.3z"/>
<path fill="#00718a" stroke="#00718a" d="M833.1 495.3l11-5.1 7.5 2.1-11 5.2z"/>
<path fill="#007073" stroke="#007073" d="M907.4 479.1l11-6.6 7.6 0.8-11 6.7z"/>
<path fill="#006c54" stroke="#006c54" d="M982.3 451.9l11.2-8.1 7.7-0.4-11.2 8.3z"/>
<path fill="#008ca0" stroke="#008ca0" d="M595.4 473.8l10.8-0.5 7.4 6.1-10.8 0.6z"/>
<path fill="#008da7" stroke="#008da7" d="M613.6 479.4l10.8-0.8 7.3 5.8-10.8 0.9z"/>
<path fill="#0086ab" stroke="#0086ab" d="M649.9 488.7l10.8-1.5 7.4 5.2-10.8 1.6z"/>
<path fill="#007fa7" stroke="#007fa7" d="M668.1 492.4l10.8-1.8 7.4 4.8-10.8 2z"/>
<path fill="#0078a1" stroke="#0078a1" d="M686.3 495.4l10.8-2.2 7.4 4.5-10.8 2.4z"/>
<path fill="#00729b" stroke="#00729b" d="M704.5 497.7l10.9-2.5 7.4 4.2-10.9 2.7z"/>
<path fill="#006e97" stroke="#006e97" d="M722.8 499.4l10.9-2.9 7.4 3.9-10.9 3z"/>
<path fill="#006d94" stroke="#006d94" d="M741.1 500.4l10.9-3.3 7.4 3.6-10.9 3.4z"/>
<path fill="#006c93" stroke="#006c93" d="M759.4 500.7l10.9-3.6 7.5 3.3-10.9 3.7z"/>
<path fill="#006d91" stroke="#006d91" d="M777.8 500.4l10.9-4 7.5 3-10.9 4.1z"/>
<path fill="#006e8f" stroke="#006e8f" d="M796.2 499.4l10.9-4.4 7.5 2.7-10.9 4.4z"/>
<path fill="#007186" stroke="#007186" d="M851.6 492.3l11-5.5 7.6 1.7-11.1 5.6z"/>
<path fill="#007180" stroke="#007180" d="M870.2 488.5l11-5.8 7.5 1.4-11 6z"/>
<path fill="#007079" stroke="#007079" d="M888.7 484.1l11.1-6.2 7.6 1.2-11.1 6.3z"/>
<path fill="#006e6b" stroke="#006e6b" d="M926 473.3l11.1-7 7.7 0.6-11.1 7z"/>
<path fill="#006c62" stroke="#006c62" d="M944.8 466.9l11.1-7.4 7.6 0.2-11.1 7.5z"/>
<path fill="#006b5b" stroke="#006b5b" d="M963.5 459.7l11.2-7.7 7.6-0.1-11.1 7.9z"/>
<path fill="#006c4c" stroke="#006c4c" d="M1001.2 443.4l11.2-8.5 7.7-0.6-11.2 8.6z"/>
<path fill="#006c43" stroke="#006c43" d="M1020.1 434.3l11.2-8.9 7.7-1-11.2 9z"/>
<path fill="#006a39" stroke="#006a39" d="M1039 424.4l11.3-9.3 7.7-1.2-11.3 9.4z"/>
<path fill="#00692f" stroke="#00692f" d="M1058 413.9l11.3-9.7 7.7-1.5-11.2 9.7z"/>
<path fill="#006f8d" stroke="#006f8d" d="M814.6 497.7l11-4.7 7.5 2.3-11 4.8z"/>
<path fill="#00889b" stroke="#00889b" d="M584.7 474l10.7-0.2 7.4 6.2-10.8 0.3z"/>
<path fill="#0089aa" stroke="#0089aa" d="M620.9 485.3l10.8-0.9 7.4 5.6-10.8 1z"/>
<path fill="#0086ac" stroke="#0086ac" d="M639.1 490l10.8-1.3 7.4 5.3-10.9 1.4z"/>
<path fill="#0081aa" stroke="#0081aa" d="M657.3 494l10.8-1.6 7.4 5-10.9 1.7z"/>
<path fill="#00739f" stroke="#00739f" d="M693.7 500.1l10.8-2.4 7.4 4.4-10.8 2.4z"/>
<path fill="#006e9a" stroke="#006e9a" d="M711.9 502.1l10.9-2.7 7.4 4-10.9 2.8z"/>
<path fill="#006c97" stroke="#006c97" d="M730.2 503.4l10.9-3 7.4 3.7-10.9 3.2z"/>
<path fill="#006b93" stroke="#006b93" d="M766.9 504.1l10.9-3.7 7.5 3.1-11 3.8z"/>
<path fill="#006c92" stroke="#006c92" d="M785.3 503.5l10.9-4.1 7.5 2.7-11 4.3z"/>
<path fill="#006f89" stroke="#006f89" d="M840.6 497.5l11-5.2 7.5 1.8-11 5.3z"/>
<path fill="#006f83" stroke="#006f83" d="M859.1 494.1l11.1-5.6 7.5 1.6-11 5.7z"/>
<path fill="#006d75" stroke="#006d75" d="M896.3 485.4l11.1-6.3 7.6 0.9-11.1 6.4z"/>
<path fill="#006d6f" stroke="#006d6f" d="M915 480l11-6.7 7.7 0.6-11.2 6.9z"/>
<path fill="#006b67" stroke="#006b67" d="M933.7 473.9l11.1-7 7.6 0.3-11.1 7.2z"/>
<path fill="#006a58" stroke="#006a58" d="M971.2 459.8l11.1-7.9 7.7-0.2-11.2 7.9z"/>
<path fill="#006a51" stroke="#006a51" d="M990 451.7l11.2-8.3 7.7-0.5-11.2 8.3z"/>
<path fill="#006b49" stroke="#006b49" d="M1008.9 442.9l11.2-8.6 7.7-0.9-11.2 8.8z"/>
<path fill="#00672c" stroke="#00672c" d="M1065.8 412.4l11.2-9.7 7.8-1.8-11.3 9.9z"/>
<path fill="#0089a3" stroke="#0089a3" d="M602.8 480l10.8-0.6 7.3 5.9-10.8 0.7z"/>
<path fill="#007aa5" stroke="#007aa5" d="M675.5 497.4l10.8-2 7.4 4.7-10.9 2z"/>
<path fill="#006b95" stroke="#006b95" d="M748.5 504.1l10.9-3.4 7.5 3.4-10.9 3.5z"/>
<path fill="#006d8f" stroke="#006d8f" d="M803.7 502.1l10.9-4.4 7.5 2.4-10.9 4.6z"/>
<path fill="#006e8d" stroke="#006e8d" d="M822.1 500.1l11-4.8 7.5 2.2-11 4.9z"/>
<path fill="#006e7c" stroke="#006e7c" d="M877.7 490.1l11-6 7.6 1.3-11 6z"/>
<path fill="#00695f" stroke="#00695f" d="M952.4 467.2l11.1-7.5 7.7 0.1-11.2 7.6z"/>
<path fill="#006a40" stroke="#006a40" d="M1027.8 433.4l11.2-9 7.7-1.1-11.2 9.1z"/>
<path fill="#006836" stroke="#006836" d="M1046.7 423.3l11.3-9.4 7.8-1.5-11.3 9.6z"/>
<path fill="#008495" stroke="#008495" d="M573.9 474l10.8 0 7.3 6.3-10.8 0.2z"/>
<path fill="#0081ac" stroke="#0081ac" d="M646.4 495.4l10.9-1.4 7.3 5.1-10.8 1.5z"/>
<path fill="#006b99" stroke="#006b99" d="M719.3 506.2l10.9-2.8 7.4 3.9-10.8 2.9z"/>
<path fill="#006d86" stroke="#006d86" d="M848.1 499.4l11-5.3 7.6 1.7-11.1 5.4z"/>
<path fill="#006a6b" stroke="#006a6b" d="M922.5 480.8l11.2-6.9 7.6 0.5-11.2 6.9z"/>
<path fill="#00694e" stroke="#00694e" d="M997.7 451.2l11.2-8.3 7.7-0.7-11.3 8.4z"/>
<path fill="#00859d" stroke="#00859d" d="M592 480.3l10.8-0.3 7.3 6-10.8 0.5z"/>
<path fill="#0086a6" stroke="#0086a6" d="M610.1 486l10.8-0.7 7.4 5.7-10.8 0.9z"/>
<path fill="#0085ab" stroke="#0085ab" d="M628.3 491l10.8-1 7.3 5.4-10.8 1.2z"/>
<path fill="#007ba8" stroke="#007ba8" d="M664.6 499.1l10.9-1.7 7.3 4.7-10.8 1.9z"/>
<path fill="#006f9d" stroke="#006f9d" d="M701.1 504.5l10.8-2.4 7.4 4.1-10.8 2.6z"/>
<path fill="#006a97" stroke="#006a97" d="M737.6 507.3l10.9-3.2 7.5 3.5-10.9 3.3z"/>
<path fill="#006a94" stroke="#006a94" d="M774.3 507.3l11-3.8 7.4 2.9-10.9 3.9z"/>
<path fill="#006b92" stroke="#006b92" d="M792.7 506.4l11-4.3 7.5 2.6-11 4.4z"/>
<path fill="#006c8f" stroke="#006c8f" d="M811.2 504.7l10.9-4.6 7.5 2.3-11 4.7z"/>
<path fill="#006d80" stroke="#006d80" d="M866.7 495.8l11-5.7 7.6 1.3-11.1 5.8z"/>
<path fill="#006b78" stroke="#006b78" d="M885.3 491.4l11-6 7.6 1-11.1 6.2z"/>
<path fill="#006a71" stroke="#006a71" d="M903.9 486.4l11.1-6.4 7.5 0.8-11 6.5z"/>
<path fill="#006863" stroke="#006863" d="M941.3 474.4l11.1-7.2 7.6 0.2-11.1 7.3z"/>
<path fill="#00675c" stroke="#00675c" d="M960 467.4l11.2-7.6 7.6-0.2-11.2 7.7z"/>
<path fill="#006855" stroke="#006855" d="M978.8 459.6l11.2-7.9 7.7-0.5-11.2 8.1z"/>
<path fill="#006946" stroke="#006946" d="M1016.6 442.2l11.2-8.8 7.7-1-11.3 8.9z"/>
<path fill="#006732" stroke="#006732" d="M1054.5 422l11.3-9.6 7.7-1.6-11.3 9.7z"/>
<path fill="#006628" stroke="#006628" d="M1073.5 410.8l11.3-9.9 7.8-1.9-11.3 10.1z"/>
<path fill="#0074a3" stroke="#0074a3" d="M682.8 502.1l10.9-2 7.4 4.4-10.9 2.2z"/>
<path fill="#006995" stroke="#006995" d="M756 507.6l10.9-3.5 7.4 3.2-10.9 3.6z"/>
<path fill="#006d8c" stroke="#006d8c" d="M829.6 502.4l11-4.9 7.5 1.9-11 5.1z"/>
<path fill="#00683c" stroke="#00683c" d="M1035.5 432.4l11.2-9.1 7.8-1.3-11.3 9.2z"/>
<path fill="#008197" stroke="#008197" d="M581.2 480.5l10.8-0.2 7.3 6.2-10.8 0.2z"/>
<path fill="#0082a0" stroke="#0082a0" d="M599.3 486.5l10.8-0.5 7.4 5.9-10.8 0.5z"/>
<path fill="#0081ac" stroke="#0081ac" d="M635.6 496.6l10.8-1.2 7.4 5.2-10.8 1.3z"/>
<path fill="#007cab" stroke="#007cab" d="M653.8 500.6l10.8-1.5 7.4 4.9-10.9 1.6z"/>
<path fill="#006899" stroke="#006899" d="M726.8 510.2l10.8-2.9 7.5 3.6-10.9 3z"/>
<path fill="#006a92" stroke="#006a92" d="M800.2 509.1l11-4.4 7.4 2.4-10.9 4.5z"/>
<path fill="#006b84" stroke="#006b84" d="M855.6 501.2l11.1-5.4 7.5 1.4-11 5.6z"/>
<path fill="#006a7c" stroke="#006a7c" d="M874.2 497.2l11.1-5.8 7.5 1.2-11.1 5.9z"/>
<path fill="#00676d" stroke="#00676d" d="M911.5 487.3l11-6.5 7.6 0.5-11.1 6.7z"/>
<path fill="#006868" stroke="#006868" d="M930.1 481.3l11.2-6.9 7.6 0.3-11.2 7z"/>
<path fill="#00665f" stroke="#00665f" d="M948.9 474.7l11.1-7.3 7.6-0.1-11.1 7.5z"/>
<path fill="#00684b" stroke="#00684b" d="M1005.3 450.6l11.3-8.4 7.6-0.9-11.2 8.5z"/>
<path fill="#006425" stroke="#006425" d="M1081.3 409.1l11.3-10.1 7.8-2-11.3 10.1z"/>
<path fill="#00818f" stroke="#00818f" d="M563.1 473.8l10.8 0.2 7.3 6.5-10.8-0.1z"/>
<path fill="#0083a8" stroke="#0083a8" d="M617.5 491.9l10.8-0.9 7.3 5.6-10.8 0.9z"/>
<path fill="#0076a6" stroke="#0076a6" d="M672 504l10.8-1.9 7.4 4.6-10.8 2z"/>
<path fill="#006fa1" stroke="#006fa1" d="M690.2 506.7l10.9-2.2 7.4 4.3-10.9 2.3z"/>
<path fill="#006b9c" stroke="#006b9c" d="M708.5 508.8l10.8-2.6 7.5 4-10.9 2.6z"/>
<path fill="#006897" stroke="#006897" d="M745.1 510.9l10.9-3.3 7.4 3.3-10.9 3.4z"/>
<path fill="#006896" stroke="#006896" d="M763.4 510.9l10.9-3.6 7.5 3-11 3.8z"/>
<path fill="#006994" stroke="#006994" d="M781.8 510.3l10.9-3.9 7.5 2.7-11 4z"/>
<path fill="#006b8e" stroke="#006b8e" d="M818.6 507.1l11-4.7 7.5 2.1-11 4.8z"/>
<path fill="#006b8a" stroke="#006b8a" d="M837.1 504.5l11-5.1 7.5 1.8-11 5.2z"/>
<path fill="#006874" stroke="#006874" d="M892.8 492.6l11.1-6.2 7.6 0.9-11.1 6.3z"/>
<path fill="#006659" stroke="#006659" d="M967.6 467.3l11.2-7.7 7.7-0.3-11.2 7.8z"/>
<path fill="#006752" stroke="#006752" d="M986.5 459.3l11.2-8.1 7.6-0.6-11.2 8.2z"/>
<path fill="#006743" stroke="#006743" d="M1024.2 441.3l11.3-8.9 7.7-1.2-11.3 9z"/>
<path fill="#006639" stroke="#006639" d="M1043.2 431.2l11.3-9.2 7.7-1.5-11.3 9.3z"/>
<path fill="#00652f" stroke="#00652f" d="M1062.2 420.5l11.3-9.7 7.8-1.7-11.3 9.7z"/>
<path fill="#007d99" stroke="#007d99" d="M588.5 486.7l10.8-0.2 7.4 5.9-10.9 0.4z"/>
<path fill="#006880" stroke="#006880" d="M863.2 502.8l11-5.6 7.5 1.3-11 5.7z"/>
<path fill="#006563" stroke="#006563" d="M937.7 481.7l11.2-7 7.6 0.1-11.2 7.1z"/>
<path fill="#007fa2" stroke="#007fa2" d="M606.7 492.4l10.8-0.5 7.3 5.6-10.8 0.7z"/>
<path fill="#007cab" stroke="#007cab" d="M643 501.9l10.8-1.3 7.3 5-10.8 1.4z"/>
<path fill="#0076a9" stroke="#0076a9" d="M661.1 505.6l10.9-1.6 7.4 4.7-10.9 1.7z"/>
<path fill="#0070a4" stroke="#0070a4" d="M679.4 508.7l10.8-2 7.4 4.4-10.9 2z"/>
<path fill="#00689b" stroke="#00689b" d="M715.9 512.8l10.9-2.6 7.4 3.7-11 2.8z"/>
<path fill="#006699" stroke="#006699" d="M734.2 513.9l10.9-3 7.4 3.4-10.9 3.1z"/>
<path fill="#006698" stroke="#006698" d="M752.5 514.3l10.9-3.4 7.4 3.2-10.9 3.4z"/>
<path fill="#006894" stroke="#006894" d="M789.2 513.1l11-4 7.5 2.5-11 4.2z"/>
<path fill="#006991" stroke="#006991" d="M807.7 511.6l10.9-4.5 7.5 2.2-11 4.6z"/>
<path fill="#006a8d" stroke="#006a8d" d="M826.1 509.3l11-4.8 7.5 1.9-11 4.9z"/>
<path fill="#006778" stroke="#006778" d="M881.7 498.5l11.1-5.9 7.6 1-11.1 6z"/>
<path fill="#00656f" stroke="#00656f" d="M900.4 493.6l11.1-6.3 7.5 0.7-11.1 6.4z"/>
<path fill="#006469" stroke="#006469" d="M919 488l11.1-6.7 7.6 0.4-11.1 6.8z"/>
<path fill="#00645c" stroke="#00645c" d="M956.5 474.8l11.1-7.5 7.7-0.2-11.2 7.6z"/>
<path fill="#006650" stroke="#006650" d="M994.1 458.8l11.2-8.2 7.7-0.8-11.2 8.4z"/>
<path fill="#006648" stroke="#006648" d="M1013 449.8l11.2-8.5 7.7-1.1-11.2 8.7z"/>
<path fill="#00663f" stroke="#00663f" d="M1031.9 440.2l11.3-9 7.7-1.4-11.2 9.1z"/>
<path fill="#00632c" stroke="#00632c" d="M1070 418.8l11.3-9.7 7.8-2-11.4 9.9z"/>
<path fill="#006222" stroke="#006222" d="M1089.1 407.1l11.3-10.1 7.8-2.3-11.4 10.3z"/>
<path fill="#007d8a" stroke="#007d8a" d="M552.3 473.4l10.8 0.4 7.3 6.6-10.8-0.3z"/>
<path fill="#007fa9" stroke="#007fa9" d="M624.8 497.5l10.8-0.9 7.4 5.3-10.9 1z"/>
<path fill="#006b9f" stroke="#006b9f" d="M697.6 511.1l10.9-2.3 7.4 4-10.9 2.4z"/>
<path fill="#006456" stroke="#006456" d="M975.3 467.1l11.2-7.8 7.6-0.5-11.2 8z"/>
<path fill="#007c90" stroke="#007c90" d="M570.4 480.4l10.8 0.1 7.3 6.2-10.8 0z"/>
<path fill="#006797" stroke="#006797" d="M770.8 514.1l11-3.8 7.4 2.8-10.9 3.9z"/>
<path fill="#006a87" stroke="#006a87" d="M844.6 506.4l11-5.2 7.6 1.6-11.1 5.3z"/>
<path fill="#006436" stroke="#006436" d="M1050.9 429.8l11.3-9.3 7.8-1.7-11.3 9.5z"/>
<path fill="#007a9b" stroke="#007a9b" d="M595.8 492.8l10.9-0.4 7.3 5.8-10.8 0.4z"/>
<path fill="#0071a6" stroke="#0071a6" d="M668.5 510.4l10.9-1.7 7.3 4.4-10.9 1.9z"/>
<path fill="#006599" stroke="#006599" d="M741.6 517.4l10.9-3.1 7.4 3.2-10.9 3.3z"/>
<path fill="#006891" stroke="#006891" d="M815.1 513.9l11-4.6 7.5 2-11 4.7z"/>
<path fill="#00667c" stroke="#00667c" d="M870.7 504.2l11-5.7 7.6 1.1-11.1 5.8z"/>
<path fill="#006373" stroke="#006373" d="M889.3 499.6l11.1-6 7.5 0.8-11.1 6.2z"/>
<path fill="#006265" stroke="#006265" d="M926.6 488.5l11.1-6.8 7.6 0.2-11.1 6.9z"/>
<path fill="#00625f" stroke="#00625f" d="M945.3 481.9l11.2-7.1 7.6-0.1-11.2 7.3z"/>
<path fill="#006545" stroke="#006545" d="M1020.7 448.9l11.2-8.7 7.8-1.3-11.3 8.9z"/>
<path fill="#00611e" stroke="#00611e" d="M1096.8 405l11.4-10.3 7.8-2.3-11.4 10.3z"/>
<path fill="#007b86" stroke="#007b86" d="M541.6 472.7l10.7 0.7 7.3 6.7-10.7-0.6z"/>
<path fill="#007ba4" stroke="#007ba4" d="M614 498.2l10.8-0.7 7.3 5.4-10.8 0.8z"/>
<path fill="#0076a9" stroke="#0076a9" d="M650.3 507l10.8-1.4 7.4 4.8-10.9 1.5z"/>
<path fill="#006ba1" stroke="#006ba1" d="M686.7 513.1l10.9-2 7.4 4.1-10.9 2.2z"/>
<path fill="#00659a" stroke="#00659a" d="M723.2 516.7l11-2.8 7.4 3.5-11 2.9z"/>
<path fill="#006259" stroke="#006259" d="M964.1 474.7l11.2-7.6 7.6-0.3-11.2 7.6z"/>
<path fill="#00788a" stroke="#00788a" d="M559.6 480.1l10.8 0.3 7.3 6.3-10.8-0.2z"/>
<path fill="#007aa9" stroke="#007aa9" d="M632.1 502.9l10.9-1 7.3 5.1-10.9 1.1z"/>
<path fill="#00679d" stroke="#00679d" d="M705 515.2l10.9-2.4 7.3 3.9-10.9 2.5z"/>
<path fill="#006599" stroke="#006599" d="M759.9 517.5l10.9-3.4 7.5 2.9-11 3.6z"/>
<path fill="#006697" stroke="#006697" d="M778.3 517l10.9-3.9 7.5 2.7-11 3.9z"/>
<path fill="#006794" stroke="#006794" d="M796.7 515.8l11-4.2 7.4 2.3-11 4.3z"/>
<path fill="#00688b" stroke="#00688b" d="M833.6 511.3l11-4.9 7.5 1.7-11 5z"/>
<path fill="#006784" stroke="#006784" d="M852.1 508.1l11.1-5.3 7.5 1.4-11.1 5.4z"/>
<path fill="#00616b" stroke="#00616b" d="M907.9 494.4l11.1-6.4 7.6 0.5-11.1 6.5z"/>
<path fill="#006353" stroke="#006353" d="M982.9 466.8l11.2-8 7.7-0.6-11.2 8z"/>
<path fill="#00654d" stroke="#00654d" d="M1001.8 458.2l11.2-8.4 7.7-0.9-11.3 8.4z"/>
<path fill="#00643c" stroke="#00643c" d="M1039.7 438.9l11.2-9.1 7.8-1.5-11.3 9.2z"/>
<path fill="#006232" stroke="#006232" d="M1058.7 428.3l11.3-9.5 7.7-1.8-11.3 9.6z"/>
<path fill="#006128" stroke="#006128" d="M1077.7 417l11.4-9.9 7.7-2.1-11.3 10z"/>
<path fill="#007892" stroke="#007892" d="M577.7 486.7l10.8 0 7.3 6.1-10.8 0.1z"/>
<path fill="#006378" stroke="#006378" d="M878.2 505.4l11.1-5.8 7.5 1-11.1 5.9z"/>
<path fill="#005f1b" stroke="#005f1b" d="M1104.6 402.7l11.4-10.3 7.8-2.6-11.4 10.5z"/>
<path fill="#00769d" stroke="#00769d" d="M603.2 498.6l10.8-0.4 7.3 5.5-10.8 0.6z"/>
<path fill="#006ba3" stroke="#006ba3" d="M675.8 515l10.9-1.9 7.4 4.3-10.9 2z"/>
<path fill="#00605c" stroke="#00605c" d="M952.9 482l11.2-7.3 7.6-0.3-11.2 7.4z"/>
<path fill="#007585" stroke="#007585" d="M548.9 479.5l10.7 0.6 7.3 6.4-10.8-0.4z"/>
<path fill="#0077a4" stroke="#0077a4" d="M621.3 503.7l10.8-0.8 7.3 5.2-10.8 0.9z"/>
<path fill="#0070a7" stroke="#0070a7" d="M657.6 511.9l10.9-1.5 7.3 4.6-10.8 1.6z"/>
<path fill="#00679e" stroke="#00679e" d="M694.1 517.4l10.9-2.2 7.3 4-10.9 2.3z"/>
<path fill="#00639a" stroke="#00639a" d="M730.6 520.3l11-2.9 7.4 3.4-11 3z"/>
<path fill="#00649a" stroke="#00649a" d="M749 520.8l10.9-3.3 7.4 3.1-11 3.3z"/>
<path fill="#006599" stroke="#006599" d="M767.3 520.6l11-3.6 7.4 2.7-11 3.7z"/>
<path fill="#006694" stroke="#006694" d="M804.1 518.2l11-4.3 7.5 2.1-11 4.4z"/>
<path fill="#00678f" stroke="#00678f" d="M822.6 516l11-4.7 7.5 1.8-11.1 4.8z"/>
<path fill="#006689" stroke="#006689" d="M841.1 513.1l11-5 7.5 1.5-11 5.2z"/>
<path fill="#00606e" stroke="#00606e" d="M896.8 500.6l11.1-6.2 7.6 0.6-11.1 6.3z"/>
<path fill="#005f67" stroke="#005f67" d="M915.5 495l11.1-6.5 7.6 0.3-11.2 6.7z"/>
<path fill="#005f62" stroke="#005f62" d="M934.2 488.8l11.1-6.9 7.6 0.1-11.1 7z"/>
<path fill="#006056" stroke="#006056" d="M971.7 474.4l11.2-7.6 7.7-0.6-11.3 7.8z"/>
<path fill="#00634a" stroke="#00634a" d="M1009.4 457.3l11.3-8.4 7.7-1.1-11.3 8.5z"/>
<path fill="#006342" stroke="#006342" d="M1028.4 447.8l11.3-8.9 7.7-1.4-11.3 9z"/>
<path fill="#006238" stroke="#006238" d="M1047.4 437.5l11.3-9.2 7.7-1.7-11.3 9.3z"/>
<path fill="#006025" stroke="#006025" d="M1085.5 415l11.3-10 7.8-2.3-11.4 10.2z"/>
<path fill="#007a83" stroke="#007a83" d="M530.8 471.8l10.8 0.9 7.3 6.8-10.8-0.8z"/>
<path fill="#00738a" stroke="#00738a" d="M566.9 486.5l10.8 0.2 7.3 6.2-10.8-0.1z"/>
<path fill="#0075a8" stroke="#0075a8" d="M639.4 508.1l10.9-1.1 7.3 4.9-10.8 1.2z"/>
<path fill="#00649c" stroke="#00649c" d="M712.3 519.2l10.9-2.5 7.4 3.6-10.9 2.7z"/>
<path fill="#007493" stroke="#007493" d="M585 492.9l10.8-0.1 7.4 5.8-10.9 0.3z"/>
<path fill="#006597" stroke="#006597" d="M785.7 519.7l11-3.9 7.4 2.4-11 4.1z"/>
<path fill="#006581" stroke="#006581" d="M859.6 509.6l11.1-5.4 7.5 1.2-11.1 5.6z"/>
<path fill="#006251" stroke="#006251" d="M990.6 466.2l11.2-8 7.6-0.9-11.2 8.2z"/>
<path fill="#00602f" stroke="#00602f" d="M1066.4 426.6l11.3-9.6 7.8-2-11.4 9.7z"/>
<path fill="#00729d" stroke="#00729d" d="M610.5 504.3l10.8-0.6 7.3 5.3-10.9 0.7z"/>
<path fill="#0066a0" stroke="#0066a0" d="M683.2 519.4l10.9-2 7.3 4.1-10.9 2.1z"/>
<path fill="#00639b" stroke="#00639b" d="M756.3 523.9l11-3.3 7.4 2.8-11 3.5z"/>
<path fill="#00658d" stroke="#00658d" d="M830 517.9l11.1-4.8 7.5 1.7-11.1 4.9z"/>
<path fill="#005f73" stroke="#005f73" d="M885.7 506.5l11.1-5.9 7.6 0.7-11.2 6z"/>
<path fill="#005d69" stroke="#005d69" d="M904.4 501.3l11.1-6.3 7.5 0.5-11.1 6.4z"/>
<path fill="#005e59" stroke="#005e59" d="M960.5 481.8l11.2-7.4 7.6-0.4-11.2 7.5z"/>
<path fill="#00613e" stroke="#00613e" d="M1036.1 446.5l11.3-9 7.7-1.6-11.3 9.1z"/>
<path fill="#005e21" stroke="#005e21" d="M1093.2 412.9l11.4-10.2 7.8-2.4-11.4 10.2z"/>
<path fill="#007a80" stroke="#007a80" d="M520 470.7l10.8 1.1 7.3 6.9-10.8-0.9z"/>
<path fill="#006f84" stroke="#006f84" d="M556.1 486.1l10.8 0.4 7.3 6.3-10.8-0.3z"/>
<path fill="#0072a3" stroke="#0072a3" d="M628.6 509l10.8-0.9 7.4 5-10.9 1.1z"/>
<path fill="#006ba3" stroke="#006ba3" d="M665 516.6l10.8-1.6 7.4 4.4-10.9 1.7z"/>
<path fill="#00639c" stroke="#00639c" d="M701.4 521.5l10.9-2.3 7.4 3.8-10.9 2.4z"/>
<path fill="#005e5f" stroke="#005e5f" d="M941.8 489l11.1-7 7.6-0.2-11.2 7.2z"/>
<path fill="#007381" stroke="#007381" d="M538.1 478.7l10.8 0.8 7.2 6.6-10.8-0.6z"/>
<path fill="#006f8b" stroke="#006f8b" d="M574.2 492.8l10.8 0.1 7.3 6-10.8 0z"/>
<path fill="#006fa5" stroke="#006fa5" d="M646.8 513.1l10.8-1.2 7.4 4.7-10.9 1.3z"/>
<path fill="#00619b" stroke="#00619b" d="M719.7 523l10.9-2.7 7.4 3.5-10.9 2.7z"/>
<path fill="#00619b" stroke="#00619b" d="M738 523.8l11-3 7.3 3.1-10.9 3.2z"/>
<path fill="#00649a" stroke="#00649a" d="M774.7 523.4l11-3.7 7.4 2.6-11 3.8z"/>
<path fill="#006597" stroke="#006597" d="M793.1 522.3l11-4.1 7.5 2.2-11 4.2z"/>
<path fill="#006593" stroke="#006593" d="M811.6 520.4l11-4.4 7.4 1.9-11 4.6z"/>
<path fill="#006486" stroke="#006486" d="M848.6 514.8l11-5.2 7.5 1.4-11.1 5.2z"/>
<path fill="#00627c" stroke="#00627c" d="M867.1 511l11.1-5.6 7.5 1.1-11.1 5.6z"/>
<path fill="#005c62" stroke="#005c62" d="M923 495.5l11.2-6.7 7.6 0.2-11.2 6.8z"/>
<path fill="#005f53" stroke="#005f53" d="M979.3 474l11.3-7.8 7.6-0.7-11.2 7.9z"/>
<path fill="#00614e" stroke="#00614e" d="M998.2 465.5l11.2-8.2 7.7-1-11.3 8.3z"/>
<path fill="#006247" stroke="#006247" d="M1017.1 456.3l11.3-8.5 7.7-1.3-11.3 8.6z"/>
<path fill="#006035" stroke="#006035" d="M1055.1 435.9l11.3-9.3 7.7-1.9-11.3 9.5z"/>
<path fill="#005f2b" stroke="#005f2b" d="M1074.1 424.7l11.4-9.7 7.7-2.1-11.3 9.8z"/>
<path fill="#005d17" stroke="#005d17" d="M1112.4 400.3l11.4-10.5 7.8-2.7-11.4 10.6z"/>
<path fill="#007094" stroke="#007094" d="M592.3 498.9l10.9-0.3 7.3 5.7-10.9 0.3z"/>
<path fill="#005c6d" stroke="#005c6d" d="M893.2 507.3l11.2-6 7.5 0.6-11.1 6.1z"/>
<path fill="#006d9d" stroke="#006d9d" d="M617.7 509.7l10.9-0.7 7.3 5.2-10.9 0.7z"/>
<path fill="#00629d" stroke="#00629d" d="M690.5 523.6l10.9-2.1 7.4 3.9-10.9 2.1z"/>
<path fill="#00727e" stroke="#00727e" d="M527.3 477.8l10.8 0.9 7.2 6.8-10.8-0.9z"/>
<path fill="#006a83" stroke="#006a83" d="M563.4 492.5l10.8 0.3 7.3 6.1-10.8-0.2z"/>
<path fill="#006ca2" stroke="#006ca2" d="M635.9 514.2l10.9-1.1 7.3 4.8-10.9 1.2z"/>
<path fill="#0065a0" stroke="#0065a0" d="M672.3 521.1l10.9-1.7 7.3 4.2-10.9 1.8z"/>
<path fill="#00609b" stroke="#00609b" d="M708.8 525.4l10.9-2.4 7.4 3.5-11 2.6z"/>
<path fill="#00609c" stroke="#00609c" d="M745.4 527.1l10.9-3.2 7.4 3-10.9 3.2z"/>
<path fill="#00629b" stroke="#00629b" d="M763.7 526.9l11-3.5 7.4 2.7-11 3.6z"/>
<path fill="#00639a" stroke="#00639a" d="M782.1 526.1l11-3.8 7.5 2.3-11.1 4z"/>
<path fill="#006491" stroke="#006491" d="M819 522.5l11-4.6 7.5 1.8-11 4.7z"/>
<path fill="#00638a" stroke="#00638a" d="M837.5 519.7l11.1-4.9 7.4 1.4-11 5.1z"/>
<path fill="#006282" stroke="#006282" d="M856 516.2l11.1-5.2 7.5 1.1-11.1 5.4z"/>
<path fill="#005a65" stroke="#005a65" d="M911.9 501.9l11.1-6.4 7.6 0.3-11.2 6.5z"/>
<path fill="#005c5c" stroke="#005c5c" d="M949.3 489l11.2-7.2 7.6-0.3-11.2 7.3z"/>
<path fill="#005c56" stroke="#005c56" d="M968.1 481.5l11.2-7.5 7.7-0.6-11.3 7.6z"/>
<path fill="#005e51" stroke="#005e51" d="M987 473.4l11.2-7.9 7.6-0.9-11.2 8z"/>
<path fill="#006043" stroke="#006043" d="M1024.8 455.1l11.3-8.6 7.7-1.5-11.4 8.8z"/>
<path fill="#005f3b" stroke="#005f3b" d="M1043.8 445l11.3-9.1 7.7-1.7-11.4 9.1z"/>
<path fill="#005e31" stroke="#005e31" d="M1062.8 434.2l11.3-9.5 7.8-2-11.4 9.6z"/>
<path fill="#005d28" stroke="#005d28" d="M1081.9 422.7l11.3-9.8 7.8-2.4-11.4 10z"/>
<path fill="#005b14" stroke="#005b14" d="M1120.2 397.7l11.4-10.6 7.8-2.9-11.5 10.8z"/>
<path fill="#007a7e" stroke="#007a7e" d="M509.2 469.4l10.8 1.3 7.3 7.1-10.8-1.2z"/>
<path fill="#006c7f" stroke="#006c7f" d="M545.3 485.5l10.8 0.6 7.3 6.4-10.8-0.6z"/>
<path fill="#006a8b" stroke="#006a8b" d="M581.5 498.9l10.8 0 7.3 5.7-10.8 0.1z"/>
<path fill="#0069a2" stroke="#0069a2" d="M654.1 517.9l10.9-1.3 7.3 4.5-10.9 1.5z"/>
<path fill="#005a5f" stroke="#005a5f" d="M930.6 495.8l11.2-6.8 7.5 0-11.1 6.8z"/>
<path fill="#006c95" stroke="#006c95" d="M599.6 504.6l10.9-0.3 7.2 5.4-10.8 0.5z"/>
<path fill="#005f9b" stroke="#005f9b" d="M727.1 526.5l10.9-2.7 7.4 3.3-11 2.8z"/>
<path fill="#006496" stroke="#006496" d="M800.6 524.6l11-4.2 7.4 2.1-11 4.3z"/>
<path fill="#005f78" stroke="#005f78" d="M874.6 512.1l11.1-5.6 7.5 0.8-11.1 5.8z"/>
<path fill="#00604b" stroke="#00604b" d="M1005.8 464.6l11.3-8.3 7.7-1.2-11.3 8.4z"/>
<path fill="#005c1e" stroke="#005c1e" d="M1101 410.5l11.4-10.2 7.8-2.6-11.5 10.4z"/>
<path fill="#00699c" stroke="#00699c" d="M625 514.9l10.9-0.7 7.3 4.9-10.9 0.9z"/>
<path fill="#005e9b" stroke="#005e9b" d="M697.9 527.5l10.9-2.1 7.3 3.7-10.9 2.2z"/>
<path fill="#00619c" stroke="#00619c" d="M771.1 529.7l11-3.6 7.4 2.5-11 3.7z"/>
<path fill="#006187" stroke="#006187" d="M845 521.3l11-5.1 7.5 1.3-11.1 5.1z"/>
<path fill="#005868" stroke="#005868" d="M900.8 508l11.1-6.1 7.5 0.4-11.1 6.2z"/>
<path fill="#005b53" stroke="#005b53" d="M975.7 481l11.3-7.6 7.6-0.8-11.3 7.7z"/>
<path fill="#005d37" stroke="#005d37" d="M1051.4 443.3l11.4-9.1 7.7-1.9-11.4 9.2z"/>
<path fill="#005c2d" stroke="#005c2d" d="M1070.5 432.3l11.4-9.6 7.7-2.2-11.4 9.7z"/>
<path fill="#005911" stroke="#005911" d="M1127.9 395l11.5-10.8 7.8-3-11.5 10.8z"/>
<path fill="#007b7d" stroke="#007b7d" d="M498.4 467.9l10.8 1.5 7.3 7.2-10.8-1.4z"/>
<path fill="#006b7b" stroke="#006b7b" d="M534.5 484.6l10.8 0.9 7.3 6.4-10.8-0.7z"/>
<path fill="#006582" stroke="#006582" d="M570.7 498.7l10.8 0.2 7.3 5.8-10.9-0.1z"/>
<path fill="#00679f" stroke="#00679f" d="M643.2 519.1l10.9-1.2 7.3 4.7-10.9 1.2z"/>
<path fill="#00609c" stroke="#00609c" d="M679.6 525.4l10.9-1.8 7.4 3.9-11 2z"/>
<path fill="#005760" stroke="#005760" d="M919.4 502.3l11.2-6.5 7.6 0-11.2 6.7z"/>
<path fill="#00727b" stroke="#00727b" d="M516.5 476.6l10.8 1.2 7.2 6.8-10.8-1.1z"/>
<path fill="#00667d" stroke="#00667d" d="M552.6 491.9l10.8 0.6 7.3 6.2-10.9-0.5z"/>
<path fill="#00668b" stroke="#00668b" d="M588.8 504.7l10.8-0.1 7.3 5.6-10.9 0.2z"/>
<path fill="#00649f" stroke="#00649f" d="M661.4 522.6l10.9-1.5 7.3 4.3-10.9 1.6z"/>
<path fill="#005d9a" stroke="#005d9a" d="M716.1 529.1l11-2.6 7.3 3.4-10.9 2.7z"/>
<path fill="#005e9b" stroke="#005e9b" d="M734.4 529.9l11-2.8 7.4 3-11 3z"/>
<path fill="#00609c" stroke="#00609c" d="M752.8 530.1l10.9-3.2 7.4 2.8-10.9 3.3z"/>
<path fill="#006299" stroke="#006299" d="M789.5 528.6l11.1-4 7.4 2.2-11 4z"/>
<path fill="#006395" stroke="#006395" d="M808 526.8l11-4.3 7.5 1.9-11.1 4.4z"/>
<path fill="#00628f" stroke="#00628f" d="M826.5 524.4l11-4.7 7.5 1.6-11.1 4.7z"/>
<path fill="#005f7d" stroke="#005f7d" d="M863.5 517.5l11.1-5.4 7.5 1-11.1 5.5z"/>
<path fill="#005c72" stroke="#005c72" d="M882.1 513.1l11.1-5.8 7.6 0.7-11.2 5.9z"/>
<path fill="#00585b" stroke="#00585b" d="M938.2 495.8l11.1-6.8 7.6-0.2-11.2 7z"/>
<path fill="#005a58" stroke="#005a58" d="M956.9 488.8l11.2-7.3 7.6-0.5-11.2 7.4z"/>
<path fill="#005d4e" stroke="#005d4e" d="M994.6 472.6l11.2-8 7.7-1.1-11.3 8.1z"/>
<path fill="#005f48" stroke="#005f48" d="M1013.5 463.5l11.3-8.4 7.6-1.3-11.3 8.5z"/>
<path fill="#005f40" stroke="#005f40" d="M1032.4 453.8l11.4-8.8 7.6-1.7-11.3 8.9z"/>
<path fill="#005a1a" stroke="#005a1a" d="M1108.7 408.1l11.5-10.4 7.7-2.7-11.4 10.4z"/>
<path fill="#006895" stroke="#006895" d="M606.9 510.2l10.8-0.5 7.3 5.2-10.8 0.6z"/>
<path fill="#005b24" stroke="#005b24" d="M1089.6 420.5l11.4-10 7.7-2.4-11.4 10z"/>
<path fill="#005b33" stroke="#005b33" d="M1059.1 441.5l11.4-9.2 7.7-2.1-11.4 9.4z"/>
<path fill="#00639a" stroke="#00639a" d="M632.3 520l10.9-0.9 7.3 4.7-10.9 1z"/>
<path fill="#005563" stroke="#005563" d="M908.3 508.5l11.1-6.2 7.6 0.2-11.2 6.3z"/>
<path fill="#00737a" stroke="#00737a" d="M505.7 475.2l10.8 1.4 7.2 6.9-10.8-1.3z"/>
<path fill="#006478" stroke="#006478" d="M541.8 491.2l10.8 0.7 7.2 6.3-10.8-0.6z"/>
<path fill="#006182" stroke="#006182" d="M577.9 504.6l10.9 0.1 7.2 5.7-10.8 0z"/>
<path fill="#00619b" stroke="#00619b" d="M650.5 523.8l10.9-1.2 7.3 4.4-10.9 1.3z"/>
<path fill="#005c99" stroke="#005c99" d="M686.9 529.5l11-2 7.3 3.8-10.9 2.1z"/>
<path fill="#005b99" stroke="#005b99" d="M705.2 531.3l10.9-2.2 7.4 3.5-11 2.3z"/>
<path fill="#005b9a" stroke="#005b9a" d="M723.5 532.6l10.9-2.7 7.4 3.2-11 2.8z"/>
<path fill="#005f9d" stroke="#005f9d" d="M760.2 533l10.9-3.3 7.4 2.6-11 3.4z"/>
<path fill="#00609c" stroke="#00609c" d="M778.5 532.3l11-3.7 7.5 2.2-11.1 3.8z"/>
<path fill="#006198" stroke="#006198" d="M797 530.8l11-4 7.4 2-11 4.1z"/>
<path fill="#00608c" stroke="#00608c" d="M833.9 526l11.1-4.7 7.4 1.3-11 4.9z"/>
<path fill="#005f82" stroke="#005f82" d="M852.4 522.6l11.1-5.1 7.5 1.1-11.1 5.2z"/>
<path fill="#005c78" stroke="#005c78" d="M871 518.6l11.1-5.5 7.5 0.8-11.1 5.6z"/>
<path fill="#00545c" stroke="#00545c" d="M927 502.5l11.2-6.7 7.5 0-11.2 6.7z"/>
<path fill="#005855" stroke="#005855" d="M964.5 488.4l11.2-7.4 7.6-0.7-11.2 7.5z"/>
<path fill="#005a50" stroke="#005a50" d="M983.3 480.3l11.3-7.7 7.6-1-11.2 7.9z"/>
<path fill="#005c4b" stroke="#005c4b" d="M1002.2 471.6l11.3-8.1 7.6-1.2-11.2 8.2z"/>
<path fill="#005d3c" stroke="#005d3c" d="M1040.1 452.2l11.3-8.9 7.7-1.8-11.3 9.1z"/>
<path fill="#005817" stroke="#005817" d="M1116.5 405.4l11.4-10.4 7.8-3-11.4 10.6z"/>
<path fill="#00570d" stroke="#00570d" d="M1135.7 392l11.5-10.8 7.8-3.2-11.5 11z"/>
<path fill="#007b7b" stroke="#007b7b" d="M487.6 466.2l10.8 1.7 7.3 7.3-10.9-1.7z"/>
<path fill="#006a78" stroke="#006a78" d="M523.7 483.5l10.8 1.1 7.3 6.6-10.9-1z"/>
<path fill="#00607b" stroke="#00607b" d="M559.8 498.2l10.9 0.5 7.2 5.9-10.8-0.3z"/>
<path fill="#00628b" stroke="#00628b" d="M596 510.4l10.9-0.2 7.3 5.3-10.9 0.4z"/>
<path fill="#005e9b" stroke="#005e9b" d="M668.7 527l10.9-1.6 7.3 4.1-10.9 1.7z"/>
<path fill="#006494" stroke="#006494" d="M614.2 515.5l10.8-0.6 7.3 5.1-10.8 0.7z"/>
<path fill="#005d9c" stroke="#005d9c" d="M741.8 533.1l11-3 7.4 2.9-11 3.1z"/>
<path fill="#006193" stroke="#006193" d="M815.4 528.8l11.1-4.4 7.4 1.6-11.1 4.6z"/>
<path fill="#00586d" stroke="#00586d" d="M889.6 513.9l11.2-5.9 7.5 0.5-11.2 6z"/>
<path fill="#005659" stroke="#005659" d="M945.7 495.8l11.2-7 7.6-0.4-11.2 7.1z"/>
<path fill="#005d45" stroke="#005d45" d="M1021.1 462.3l11.3-8.5 7.7-1.6-11.3 8.7z"/>
<path fill="#005a2a" stroke="#005a2a" d="M1078.2 430.2l11.4-9.7 7.7-2.4-11.4 9.8z"/>
<path fill="#005921" stroke="#005921" d="M1097.3 418.1l11.4-10 7.8-2.7-11.4 10.2z"/>
<path fill="#005e96" stroke="#005e96" d="M639.6 524.8l10.9-1 7.3 4.5-10.9 1.2z"/>
<path fill="#005898" stroke="#005898" d="M712.5 534.9l11-2.3 7.3 3.3-10.9 2.5z"/>
<path fill="#00609b" stroke="#00609b" d="M785.9 534.6l11.1-3.8 7.4 2.1-11.1 3.9z"/>
<path fill="#005c7e" stroke="#005c7e" d="M859.9 523.8l11.1-5.2 7.5 0.9-11.1 5.4z"/>
<path fill="#00525e" stroke="#00525e" d="M915.8 508.8l11.2-6.3 7.5 0-11.2 6.5z"/>
<path fill="#00594e" stroke="#00594e" d="M991 479.5l11.2-7.9 7.7-1.1-11.3 8z"/>
<path fill="#005b39" stroke="#005b39" d="M1047.8 450.6l11.3-9.1 7.7-1.9-11.3 9.1z"/>
<path fill="#006b76" stroke="#006b76" d="M512.9 482.2l10.8 1.3 7.2 6.7-10.8-1.2z"/>
<path fill="#005d75" stroke="#005d75" d="M549 497.6l10.8 0.6 7.3 6.1-10.9-0.5z"/>
<path fill="#005c81" stroke="#005c81" d="M585.2 510.4l10.8 0 7.3 5.5-10.9 0.1z"/>
<path fill="#005c98" stroke="#005c98" d="M657.8 528.3l10.9-1.3 7.3 4.2-10.9 1.4z"/>
<path fill="#007a77" stroke="#007a77" d="M476.8 464.2l10.8 2 7.2 7.3-10.8-1.8z"/>
<path fill="#007479" stroke="#007479" d="M494.8 473.5l10.9 1.7 7.2 7-10.8-1.5z"/>
<path fill="#006274" stroke="#006274" d="M530.9 490.2l10.9 1 7.2 6.4-10.8-0.9z"/>
<path fill="#005b79" stroke="#005b79" d="M567.1 504.3l10.8 0.3 7.3 5.8-10.9-0.2z"/>
<path fill="#005e8b" stroke="#005e8b" d="M603.3 515.9l10.9-0.4 7.3 5.2-10.9 0.4z"/>
<path fill="#005a97" stroke="#005a97" d="M676 531.2l10.9-1.7 7.4 3.9-11 1.8z"/>
<path fill="#005897" stroke="#005897" d="M694.3 533.4l10.9-2.1 7.3 3.6-10.9 2.2z"/>
<path fill="#005a9b" stroke="#005a9b" d="M730.8 535.9l11-2.8 7.4 3-11 2.9z"/>
<path fill="#005c9d" stroke="#005c9d" d="M749.2 536.1l11-3.1 7.3 2.7-11 3.2z"/>
<path fill="#005e9e" stroke="#005e9e" d="M767.5 535.7l11-3.4 7.4 2.3-11 3.6z"/>
<path fill="#006097" stroke="#006097" d="M804.4 532.9l11-4.1 7.4 1.8-11 4.2z"/>
<path fill="#006090" stroke="#006090" d="M822.8 530.6l11.1-4.6 7.5 1.5-11.1 4.7z"/>
<path fill="#005e88" stroke="#005e88" d="M841.4 527.5l11-4.9 7.5 1.2-11.1 5z"/>
<path fill="#005872" stroke="#005872" d="M878.5 519.5l11.1-5.6 7.5 0.6-11.1 5.7z"/>
<path fill="#005259" stroke="#005259" d="M934.5 502.5l11.2-6.7 7.6-0.3-11.2 6.8z"/>
<path fill="#005556" stroke="#005556" d="M953.3 495.5l11.2-7.1 7.6-0.6-11.2 7.2z"/>
<path fill="#005752" stroke="#005752" d="M972.1 487.8l11.2-7.5 7.7-0.8-11.3 7.6z"/>
<path fill="#005b48" stroke="#005b48" d="M1009.9 470.5l11.2-8.2 7.7-1.4-11.3 8.3z"/>
<path fill="#005c41" stroke="#005c41" d="M1028.8 460.9l11.3-8.7 7.7-1.6-11.3 8.7z"/>
<path fill="#00592f" stroke="#00592f" d="M1066.8 439.6l11.4-9.4 7.7-2.3-11.3 9.5z"/>
<path fill="#005826" stroke="#005826" d="M1085.9 427.9l11.4-9.8 7.8-2.5-11.4 9.9z"/>
<path fill="#00571d" stroke="#00571d" d="M1105.1 415.6l11.4-10.2 7.8-2.8-11.5 10.3z"/>
<path fill="#005614" stroke="#005614" d="M1124.3 402.6l11.4-10.6 7.8-3-11.4 10.7z"/>
<path fill="#00550a" stroke="#00550a" d="M1143.5 389l11.5-11 7.8-3.3-11.5 11z"/>
<path fill="#005f92" stroke="#005f92" d="M621.5 520.7l10.8-0.7 7.3 4.8-10.9 0.8z"/>
<path fill="#005567" stroke="#005567" d="M897.1 514.5l11.2-6 7.5 0.3-11.2 6.1z"/>
<path fill="#005993" stroke="#005993" d="M646.9 529.5l10.9-1.2 7.3 4.3-10.9 1.3z"/>
<path fill="#006272" stroke="#006272" d="M520.1 489l10.8 1.2 7.3 6.5-10.9-1.1z"/>
<path fill="#005772" stroke="#005772" d="M556.2 503.8l10.9 0.5 7.2 5.9-10.8-0.4z"/>
<path fill="#005881" stroke="#005881" d="M592.4 516l10.9-0.1 7.3 5.2-10.9 0.2z"/>
<path fill="#005794" stroke="#005794" d="M665.1 532.6l10.9-1.4 7.3 4-10.9 1.6z"/>
<path fill="#005595" stroke="#005595" d="M701.6 537.1l10.9-2.2 7.4 3.5-11 2.2z"/>
<path fill="#005698" stroke="#005698" d="M719.9 538.4l10.9-2.5 7.4 3.1-11 2.6z"/>
<path fill="#00599b" stroke="#00599b" d="M738.2 539l11-2.9 7.3 2.8-11 3z"/>
<path fill="#005e9d" stroke="#005e9d" d="M774.9 538.2l11-3.6 7.4 2.2-11 3.7z"/>
<path fill="#005f9a" stroke="#005f9a" d="M793.3 536.8l11.1-3.9 7.4 1.9-11.1 4.1z"/>
<path fill="#005f94" stroke="#005f94" d="M811.8 534.8l11-4.2 7.5 1.6-11.1 4.3z"/>
<path fill="#005c83" stroke="#005c83" d="M848.8 528.8l11.1-5 7.5 1.1-11.1 5.1z"/>
<path fill="#005978" stroke="#005978" d="M867.4 524.9l11.1-5.4 7.5 0.7-11.1 5.5z"/>
<path fill="#00505a" stroke="#00505a" d="M923.3 509l11.2-6.5 7.6-0.2-11.2 6.6z"/>
<path fill="#005155" stroke="#005155" d="M942.1 502.3l11.2-6.8 7.6-0.5-11.3 7z"/>
<path fill="#00564f" stroke="#00564f" d="M979.7 487.1l11.3-7.6 7.6-1-11.3 7.7z"/>
<path fill="#00584b" stroke="#00584b" d="M998.6 478.5l11.3-8 7.6-1.3-11.3 8.1z"/>
<path fill="#005a45" stroke="#005a45" d="M1017.5 469.2l11.3-8.3 7.7-1.6-11.4 8.5z"/>
<path fill="#005a3e" stroke="#005a3e" d="M1036.5 459.3l11.3-8.7 7.7-1.9-11.4 8.9z"/>
<path fill="#00572c" stroke="#00572c" d="M1074.6 437.4l11.3-9.5 7.8-2.4-11.4 9.7z"/>
<path fill="#005623" stroke="#005623" d="M1093.7 425.5l11.4-9.9 7.7-2.7-11.4 10.1z"/>
<path fill="#005307" stroke="#005307" d="M1151.3 385.7l11.5-11 7.9-3.5-11.6 11.2z"/>
<path fill="#007872" stroke="#007872" d="M466 462.1l10.8 2.1 7.2 7.5-10.8-2.1z"/>
<path fill="#007678" stroke="#007678" d="M484 471.7l10.8 1.8 7.3 7.2-10.9-1.8z"/>
<path fill="#006c75" stroke="#006c75" d="M502.1 480.7l10.8 1.5 7.2 6.8-10.8-1.4z"/>
<path fill="#005b70" stroke="#005b70" d="M538.2 496.7l10.8 0.9 7.2 6.2-10.8-0.8z"/>
<path fill="#005778" stroke="#005778" d="M574.3 510.2l10.9 0.2 7.2 5.6-10.8-0.1z"/>
<path fill="#005a89" stroke="#005a89" d="M610.6 521.1l10.9-0.4 7.2 4.9-10.9 0.6z"/>
<path fill="#00556d" stroke="#00556d" d="M886 520.2l11.1-5.7 7.5 0.4-11.1 5.9z"/>
<path fill="#005a90" stroke="#005a90" d="M628.7 525.6l10.9-0.8 7.3 4.7-10.9 0.8z"/>
<path fill="#005594" stroke="#005594" d="M683.3 535.2l11-1.8 7.3 3.7-11 1.9z"/>
<path fill="#005c9e" stroke="#005c9e" d="M756.5 538.9l11-3.2 7.4 2.5-11 3.3z"/>
<path fill="#005e8d" stroke="#005e8d" d="M830.3 532.2l11.1-4.7 7.4 1.3-11.1 4.8z"/>
<path fill="#005162" stroke="#005162" d="M904.6 514.9l11.2-6.1 7.5 0.2-11.1 6.2z"/>
<path fill="#005454" stroke="#005454" d="M960.9 495l11.2-7.2 7.6-0.7-11.3 7.3z"/>
<path fill="#005835" stroke="#005835" d="M1055.5 448.7l11.3-9.1 7.8-2.2-11.4 9.3z"/>
<path fill="#00551a" stroke="#00551a" d="M1112.8 412.9l11.5-10.3 7.8-2.9-11.5 10.4z"/>
<path fill="#005410" stroke="#005410" d="M1132.1 399.7l11.4-10.7 7.8-3.3-11.5 10.9z"/>
<path fill="#00548f" stroke="#00548f" d="M654.2 533.9l10.9-1.3 7.3 4.2-10.9 1.3z"/>
<path fill="#005599" stroke="#005599" d="M727.2 541.6l11-2.6 7.3 2.9-11 2.7z"/>
<path fill="#005d98" stroke="#005d98" d="M800.7 538.9l11.1-4.1 7.4 1.7-11.1 4.2z"/>
<path fill="#004d56" stroke="#004d56" d="M930.9 508.9l11.2-6.6 7.5-0.3-11.2 6.7z"/>
<path fill="#005748" stroke="#005748" d="M1006.2 477.3l11.3-8.1 7.6-1.4-11.3 8.2z"/>
<path fill="#005842" stroke="#005842" d="M1025.1 467.8l11.4-8.5 7.6-1.7-11.3 8.6z"/>
<path fill="#005528" stroke="#005528" d="M1082.3 435.2l11.4-9.7 7.7-2.5-11.4 9.7z"/>
<path fill="#005103" stroke="#005103" d="M1159.1 382.4l11.6-11.2 7.8-3.7-11.5 11.3z"/>
<path fill="#005a6d" stroke="#005a6d" d="M527.3 495.6l10.9 1.1 7.2 6.3-10.9-1z"/>
<path fill="#005270" stroke="#005270" d="M563.5 509.8l10.8 0.4 7.3 5.7-10.9-0.4z"/>
<path fill="#00547f" stroke="#00547f" d="M599.7 521.3l10.9-0.2 7.2 5.1-10.9 0.3z"/>
<path fill="#005672" stroke="#005672" d="M874.9 525.7l11.1-5.5 7.5 0.6-11.2 5.5z"/>
<path fill="#007676" stroke="#007676" d="M473.2 469.6l10.8 2.1 7.2 7.2-10.8-1.9z"/>
<path fill="#006e75" stroke="#006e75" d="M491.2 478.9l10.9 1.8 7.2 6.9-10.9-1.6z"/>
<path fill="#006471" stroke="#006471" d="M509.3 487.6l10.8 1.4 7.2 6.6-10.8-1.3z"/>
<path fill="#00546d" stroke="#00546d" d="M545.4 503l10.8 0.8 7.3 6-10.9-0.7z"/>
<path fill="#005277" stroke="#005277" d="M581.6 515.9l10.8 0.1 7.3 5.3-10.9 0z"/>
<path fill="#005587" stroke="#005587" d="M617.8 526.2l10.9-0.6 7.3 4.7-10.9 0.7z"/>
<path fill="#005290" stroke="#005290" d="M672.4 536.8l10.9-1.6 7.3 3.8-10.9 1.7z"/>
<path fill="#005292" stroke="#005292" d="M690.6 539l11-1.9 7.3 3.5-11 2z"/>
<path fill="#005395" stroke="#005395" d="M708.9 540.6l11-2.2 7.3 3.2-11 2.3z"/>
<path fill="#00589c" stroke="#00589c" d="M745.5 541.9l11-3 7.4 2.6-11 3.1z"/>
<path fill="#005b9e" stroke="#005b9e" d="M763.9 541.5l11-3.3 7.4 2.3-11 3.4z"/>
<path fill="#005d9d" stroke="#005d9d" d="M782.3 540.5l11-3.7 7.4 2.1-11 3.7z"/>
<path fill="#005d91" stroke="#005d91" d="M819.2 536.5l11.1-4.3 7.4 1.4-11.1 4.5z"/>
<path fill="#005c89" stroke="#005c89" d="M837.7 533.6l11.1-4.8 7.5 1.2-11.1 4.8z"/>
<path fill="#00597e" stroke="#00597e" d="M856.3 530l11.1-5.1 7.5 0.8-11.2 5.2z"/>
<path fill="#005267" stroke="#005267" d="M893.5 520.8l11.1-5.9 7.6 0.3-11.2 5.9z"/>
<path fill="#004f53" stroke="#004f53" d="M949.6 502l11.3-7 7.5-0.6-11.2 7.1z"/>
<path fill="#005350" stroke="#005350" d="M968.4 494.4l11.3-7.3 7.6-0.9-11.3 7.5z"/>
<path fill="#00554c" stroke="#00554c" d="M987.3 486.2l11.3-7.7 7.6-1.2-11.3 7.9z"/>
<path fill="#005631" stroke="#005631" d="M1063.2 446.7l11.4-9.3 7.7-2.2-11.4 9.3z"/>
<path fill="#00541f" stroke="#00541f" d="M1101.4 423l11.4-10.1 7.8-2.8-11.5 10.1z"/>
<path fill="#00520d" stroke="#00520d" d="M1139.8 396.6l11.5-10.9 7.8-3.3-11.5 10.9z"/>
<path fill="#00766d" stroke="#00766d" d="M455.2 459.7l10.8 2.4 7.2 7.5-10.8-2.2z"/>
<path fill="#00558c" stroke="#00558c" d="M636 530.3l10.9-0.8 7.3 4.4-10.9 1z"/>
<path fill="#004e5d" stroke="#004e5d" d="M912.2 515.2l11.1-6.2 7.6-0.1-11.2 6.3z"/>
<path fill="#00583a" stroke="#00583a" d="M1044.1 457.6l11.4-8.9 7.7-2-11.4 9z"/>
<path fill="#005316" stroke="#005316" d="M1120.6 410.1l11.5-10.4 7.7-3.1-11.4 10.5z"/>
<path fill="#005645" stroke="#005645" d="M1013.8 476l11.3-8.2 7.7-1.6-11.4 8.3z"/>
<path fill="#005369" stroke="#005369" d="M534.5 502l10.9 1 7.2 6.1-10.9-0.9z"/>
<path fill="#004d6e" stroke="#004d6e" d="M570.7 515.5l10.9 0.4 7.2 5.4-10.9-0.2z"/>
<path fill="#00507e" stroke="#00507e" d="M606.9 526.5l10.9-0.3 7.3 4.8-10.9 0.5z"/>
<path fill="#004f8b" stroke="#004f8b" d="M661.5 538.1l10.9-1.3 7.3 3.9-11 1.5z"/>
<path fill="#004f8d" stroke="#004f8d" d="M679.7 540.7l10.9-1.7 7.3 3.6-10.9 1.8z"/>
<path fill="#005194" stroke="#005194" d="M716.2 543.9l11-2.3 7.3 3-11 2.5z"/>
<path fill="#005599" stroke="#005599" d="M734.5 544.6l11-2.7 7.4 2.7-11 2.8z"/>
<path fill="#00589d" stroke="#00589d" d="M752.9 544.6l11-3.1 7.4 2.4-11.1 3.2z"/>
<path fill="#005c9b" stroke="#005c9b" d="M789.7 542.6l11-3.7 7.4 1.8-11 3.9z"/>
<path fill="#005c96" stroke="#005c96" d="M808.1 540.7l11.1-4.2 7.4 1.6-11.1 4.2z"/>
<path fill="#005b8e" stroke="#005b8e" d="M826.6 538.1l11.1-4.5 7.5 1.2-11.2 4.6z"/>
<path fill="#00526c" stroke="#00526c" d="M882.3 526.3l11.2-5.5 7.5 0.3-11.2 5.7z"/>
<path fill="#004b52" stroke="#004b52" d="M938.4 508.7l11.2-6.7 7.6-0.5-11.3 6.8z"/>
<path fill="#004f50" stroke="#004f50" d="M957.2 501.5l11.2-7.1 7.6-0.7-11.3 7.1z"/>
<path fill="#00544a" stroke="#00544a" d="M994.9 485.2l11.3-7.9 7.6-1.3-11.3 7.9z"/>
<path fill="#00542d" stroke="#00542d" d="M1070.9 444.5l11.4-9.3 7.7-2.5-11.4 9.5z"/>
<path fill="#005224" stroke="#005224" d="M1090 432.7l11.4-9.7 7.7-2.8-11.4 9.9z"/>
<path fill="#004f09" stroke="#004f09" d="M1147.6 393.3l11.5-10.9 7.9-3.6-11.6 11.1z"/>
<path fill="#004f00" stroke="#004f00" d="M1167 378.8l11.5-11.3 7.8-3.8-11.5 11.5z"/>
<path fill="#007468" stroke="#007468" d="M444.4 457.1l10.8 2.6 7.2 7.7-10.8-2.5z"/>
<path fill="#007074" stroke="#007074" d="M480.4 477l10.8 1.9 7.2 7.1-10.8-1.9z"/>
<path fill="#006570" stroke="#006570" d="M498.4 486l10.9 1.6 7.2 6.7-10.9-1.5z"/>
<path fill="#005b6c" stroke="#005b6c" d="M516.5 494.3l10.8 1.3 7.2 6.4-10.8-1.2z"/>
<path fill="#004e69" stroke="#004e69" d="M552.6 509.1l10.9 0.7 7.2 5.7-10.9-0.5z"/>
<path fill="#004e75" stroke="#004e75" d="M588.8 521.3l10.9 0 7.2 5.2-10.9 0.1z"/>
<path fill="#005084" stroke="#005084" d="M625.1 531l10.9-0.7 7.3 4.6-11 0.8z"/>
<path fill="#005678" stroke="#005678" d="M863.7 530.9l11.2-5.2 7.4 0.6-11.1 5.4z"/>
<path fill="#007571" stroke="#007571" d="M462.4 467.4l10.8 2.2 7.2 7.4-10.8-2.2z"/>
<path fill="#005089" stroke="#005089" d="M643.3 534.9l10.9-1 7.3 4.2-11 1.1z"/>
<path fill="#004f90" stroke="#004f90" d="M697.9 542.6l11-2 7.3 3.3-11 2.2z"/>
<path fill="#005b9e" stroke="#005b9e" d="M771.3 543.9l11-3.4 7.4 2.1-11.1 3.6z"/>
<path fill="#005984" stroke="#005984" d="M845.2 534.8l11.1-4.8 7.4 0.9-11.1 5z"/>
<path fill="#004e61" stroke="#004e61" d="M901 521.1l11.2-5.9 7.5 0-11.2 6.1z"/>
<path fill="#004c58" stroke="#004c58" d="M919.7 515.2l11.2-6.3 7.5-0.2-11.2 6.4z"/>
<path fill="#00514e" stroke="#00514e" d="M976 493.7l11.3-7.5 7.6-1-11.3 7.5z"/>
<path fill="#00573e" stroke="#00573e" d="M1032.8 466.2l11.3-8.6 7.7-1.9-11.4 8.7z"/>
<path fill="#005536" stroke="#005536" d="M1051.8 455.7l11.4-9 7.7-2.2-11.4 9.1z"/>
<path fill="#00511c" stroke="#00511c" d="M1109.1 420.2l11.5-10.1 7.8-3-11.5 10.3z"/>
<path fill="#005013" stroke="#005013" d="M1128.4 407.1l11.4-10.5 7.8-3.3-11.5 10.7z"/>
<path fill="#004b88" stroke="#004b88" d="M668.7 542.2l11-1.5 7.3 3.7-11 1.6z"/>
<path fill="#00549a" stroke="#00549a" d="M741.9 547.4l11-2.8 7.3 2.5-11 3z"/>
<path fill="#005a92" stroke="#005a92" d="M815.5 542.3l11.1-4.2 7.4 1.3-11.1 4.4z"/>
<path fill="#004a4f" stroke="#004a4f" d="M945.9 508.3l11.3-6.8 7.5-0.7-11.2 7z"/>
<path fill="#005347" stroke="#005347" d="M1002.5 483.9l11.3-7.9 7.6-1.5-11.3 8z"/>
<path fill="#004c64" stroke="#004c64" d="M541.7 508.2l10.9 0.9 7.2 5.9-10.8-0.8z"/>
<path fill="#00496c" stroke="#00496c" d="M577.9 521.1l10.9 0.2 7.2 5.3-10.9-0.1z"/>
<path fill="#004b7b" stroke="#004b7b" d="M614.2 531.5l10.9-0.5 7.2 4.7-10.9 0.5z"/>
<path fill="#00736c" stroke="#00736c" d="M451.6 464.9l10.8 2.5 7.2 7.4-10.9-2.3z"/>
<path fill="#006870" stroke="#006870" d="M487.6 484.1l10.8 1.9 7.2 6.8-10.8-1.7z"/>
<path fill="#005d6b" stroke="#005d6b" d="M505.6 492.8l10.9 1.5 7.2 6.5-10.9-1.4z"/>
<path fill="#005367" stroke="#005367" d="M523.7 500.8l10.8 1.2 7.2 6.2-10.8-1.1z"/>
<path fill="#004966" stroke="#004966" d="M559.8 515l10.9 0.5 7.2 5.6-10.9-0.4z"/>
<path fill="#004a74" stroke="#004a74" d="M596 526.6l10.9-0.1 7.3 5-10.9 0.2z"/>
<path fill="#004c81" stroke="#004c81" d="M632.3 535.7l11-0.8 7.2 4.3-10.9 0.9z"/>
<path fill="#004c8b" stroke="#004c8b" d="M687 544.4l10.9-1.8 7.3 3.5-10.9 1.9z"/>
<path fill="#004d8f" stroke="#004d8f" d="M705.2 546.1l11-2.2 7.3 3.2-11 2.2z"/>
<path fill="#005095" stroke="#005095" d="M723.5 547.1l11-2.5 7.4 2.8-11 2.6z"/>
<path fill="#00589e" stroke="#00589e" d="M760.2 547.1l11.1-3.2 7.3 2.3-11 3.3z"/>
<path fill="#005a9d" stroke="#005a9d" d="M778.6 546.2l11.1-3.6 7.4 2-11.1 3.6z"/>
<path fill="#005b99" stroke="#005b99" d="M797.1 544.6l11-3.9 7.4 1.6-11.1 4z"/>
<path fill="#005989" stroke="#005989" d="M834 539.4l11.2-4.6 7.4 1.1-11.1 4.7z"/>
<path fill="#005372" stroke="#005372" d="M871.2 531.7l11.1-5.4 7.5 0.5-11.2 5.5z"/>
<path fill="#004f66" stroke="#004f66" d="M889.8 526.8l11.2-5.7 7.5 0.2-11.2 5.8z"/>
<path fill="#004b5b" stroke="#004b5b" d="M908.5 521.3l11.2-6.1 7.5-0.1-11.2 6.2z"/>
<path fill="#004e4f" stroke="#004e4f" d="M964.7 500.8l11.3-7.1 7.6-1-11.3 7.3z"/>
<path fill="#00504b" stroke="#00504b" d="M983.6 492.7l11.3-7.5 7.6-1.3-11.3 7.7z"/>
<path fill="#005542" stroke="#005542" d="M1021.4 474.5l11.4-8.3 7.6-1.8-11.3 8.4z"/>
<path fill="#00543a" stroke="#00543a" d="M1040.4 464.4l11.4-8.7 7.7-2.1-11.4 8.8z"/>
<path fill="#005332" stroke="#005332" d="M1059.5 453.6l11.4-9.1 7.7-2.3-11.5 9.2z"/>
<path fill="#005129" stroke="#005129" d="M1078.6 442.2l11.4-9.5 7.7-2.6-11.4 9.6z"/>
<path fill="#005021" stroke="#005021" d="M1097.7 430.1l11.4-9.9 7.8-2.8-11.5 9.9z"/>
<path fill="#004f18" stroke="#004f18" d="M1116.9 417.4l11.5-10.3 7.7-3.1-11.5 10.3z"/>
<path fill="#004e0f" stroke="#004e0f" d="M1136.1 404l11.5-10.7 7.8-3.4-11.5 10.8z"/>
<path fill="#004d06" stroke="#004d06" d="M1155.4 389.9l11.6-11.1 7.8-3.6-11.6 11.1z"/>
<path fill="#024e00" stroke="#024e00" d="M1174.8 375.2l11.5-11.5 7.9-3.9-11.6 11.5z"/>
<path fill="#007363" stroke="#007363" d="M433.6 454.3l10.8 2.8 7.2 7.8-10.9-2.7z"/>
<path fill="#007173" stroke="#007173" d="M469.6 474.8l10.8 2.2 7.2 7.1-10.8-2z"/>
<path fill="#00567e" stroke="#00567e" d="M852.6 535.9l11.1-5 7.5 0.8-11.2 5z"/>
<path fill="#004b85" stroke="#004b85" d="M650.5 539.2l11-1.1 7.2 4.1-10.9 1.2z"/>
<path fill="#004954" stroke="#004954" d="M927.2 515.1l11.2-6.4 7.5-0.4-11.2 6.6z"/>
<path fill="#004660" stroke="#004660" d="M549 514.2l10.8 0.8 7.2 5.7-10.9-0.7z"/>
<path fill="#00456a" stroke="#00456a" d="M585.1 526.5l10.9 0.1 7.3 5.1-10.9 0z"/>
<path fill="#004778" stroke="#004778" d="M621.4 536.2l10.9-0.5 7.3 4.4-10.9 0.7z"/>
<path fill="#004885" stroke="#004885" d="M676 546l11-1.6 7.3 3.6-11 1.7z"/>
<path fill="#004989" stroke="#004989" d="M694.3 548l10.9-1.9 7.3 3.2-11 2z"/>
<path fill="#005096" stroke="#005096" d="M730.9 550l11-2.6 7.3 2.7-11 2.7z"/>
<path fill="#00549b" stroke="#00549b" d="M749.2 550.1l11-3 7.4 2.4-11.1 3z"/>
<path fill="#00579d" stroke="#00579d" d="M767.6 549.5l11-3.3 7.4 2-11.1 3.4z"/>
<path fill="#005996" stroke="#005996" d="M804.4 546.3l11.1-4 7.4 1.5-11.1 4.1z"/>
<path fill="#00588e" stroke="#00588e" d="M822.9 543.8l11.1-4.4 7.5 1.2-11.2 4.5z"/>
<path fill="#004b60" stroke="#004b60" d="M897.3 527.1l11.2-5.8 7.5 0-11.2 5.9z"/>
<path fill="#00494d" stroke="#00494d" d="M953.5 507.8l11.2-7 7.6-0.8-11.3 7z"/>
<path fill="#004d4c" stroke="#004d4c" d="M972.3 500l11.3-7.3 7.6-1.1-11.3 7.4z"/>
<path fill="#004f48" stroke="#004f48" d="M991.2 491.6l11.3-7.7 7.6-1.4-11.3 7.8z"/>
<path fill="#00533e" stroke="#00533e" d="M1029.1 472.8l11.3-8.4 7.7-2-11.4 8.6z"/>
<path fill="#005237" stroke="#005237" d="M1048.1 462.4l11.4-8.8 7.6-2.2-11.4 8.9z"/>
<path fill="#004e1d" stroke="#004e1d" d="M1105.4 427.3l11.5-9.9 7.7-3.1-11.5 10.1z"/>
<path fill="#004d15" stroke="#004d15" d="M1124.6 414.3l11.5-10.3 7.8-3.3-11.5 10.4z"/>
<path fill="#054d00" stroke="#054d00" d="M1182.6 371.3l11.6-11.5 7.8-4.1-11.6 11.7z"/>
<path fill="#00715f" stroke="#00715f" d="M422.7 451.4l10.9 2.9 7.1 7.9-10.8-2.9z"/>
<path fill="#007170" stroke="#007170" d="M458.7 472.5l10.9 2.3 7.2 7.3-10.9-2.3z"/>
<path fill="#005f6b" stroke="#005f6b" d="M494.8 491.1l10.8 1.7 7.2 6.6-10.8-1.6z"/>
<path fill="#005466" stroke="#005466" d="M512.8 499.4l10.9 1.4 7.2 6.3-10.9-1.3z"/>
<path fill="#004b61" stroke="#004b61" d="M530.9 507.1l10.8 1.1 7.3 6-10.9-1z"/>
<path fill="#004464" stroke="#004464" d="M567 520.7l10.9 0.4 7.2 5.4-10.9-0.3z"/>
<path fill="#004672" stroke="#004672" d="M603.3 531.7l10.9-0.2 7.2 4.7-10.9 0.3z"/>
<path fill="#005684" stroke="#005684" d="M841.5 540.6l11.1-4.7 7.4 0.8-11.1 4.9z"/>
<path fill="#007168" stroke="#007168" d="M440.7 462.2l10.9 2.7 7.1 7.6-10.8-2.6z"/>
<path fill="#006a70" stroke="#006a70" d="M476.8 482.1l10.8 2 7.2 7-10.9-2z"/>
<path fill="#00477e" stroke="#00477e" d="M639.6 540.1l10.9-0.9 7.3 4.2-11 1z"/>
<path fill="#004781" stroke="#004781" d="M657.8 543.4l10.9-1.2 7.3 3.8-11 1.3z"/>
<path fill="#004c8f" stroke="#004c8f" d="M712.5 549.3l11-2.2 7.4 2.9-11.1 2.4z"/>
<path fill="#00599c" stroke="#00599c" d="M786 548.2l11.1-3.6 7.3 1.7-11 3.8z"/>
<path fill="#005378" stroke="#005378" d="M860 536.7l11.2-5 7.4 0.6-11.1 5.1z"/>
<path fill="#004f6c" stroke="#004f6c" d="M878.6 532.3l11.2-5.5 7.5 0.3-11.2 5.6z"/>
<path fill="#004856" stroke="#004856" d="M916 521.3l11.2-6.2 7.5-0.2-11.2 6.3z"/>
<path fill="#004750" stroke="#004750" d="M934.7 514.9l11.2-6.6 7.6-0.5-11.3 6.6z"/>
<path fill="#005244" stroke="#005244" d="M1010.1 482.5l11.3-8 7.7-1.7-11.4 8.2z"/>
<path fill="#00512e" stroke="#00512e" d="M1067.1 451.4l11.5-9.2 7.7-2.5-11.5 9.3z"/>
<path fill="#004f26" stroke="#004f26" d="M1086.3 439.7l11.4-9.6 7.7-2.8-11.4 9.7z"/>
<path fill="#004c0c" stroke="#004c0c" d="M1143.9 400.7l11.5-10.8 7.8-3.6-11.5 10.9z"/>
<path fill="#004b03" stroke="#004b03" d="M1163.2 386.3l11.6-11.1 7.8-3.9-11.6 11.3z"/>
<path fill="#004583" stroke="#004583" d="M683.3 549.7l11-1.7 7.2 3.3-10.9 1.8z"/>
<path fill="#00549c" stroke="#00549c" d="M756.5 552.5l11.1-3 7.3 2.1-11 3.2z"/>
<path fill="#00494b" stroke="#00494b" d="M961 507l11.3-7 7.6-1-11.3 7.1z"/>
<path fill="#004c49" stroke="#004c49" d="M979.9 499l11.3-7.4 7.6-1.3-11.4 7.5z"/>
<path fill="#00513a" stroke="#00513a" d="M1036.7 471l11.4-8.6 7.6-2.1-11.4 8.7z"/>
<path fill="#004c1a" stroke="#004c1a" d="M1113.1 424.4l11.5-10.1 7.8-3.2-11.5 10.2z"/>
<path fill="#084c00" stroke="#084c00" d="M1190.4 367.4l11.6-11.7 7.9-4.2-11.7 11.7z"/>
<path fill="#00415d" stroke="#00415d" d="M556.1 520l10.9 0.7 7.2 5.5-10.9-0.6z"/>
<path fill="#004168" stroke="#004168" d="M592.4 531.7l10.9 0 7.2 4.8-10.9 0.1z"/>
<path fill="#005689" stroke="#005689" d="M830.3 545.1l11.2-4.5 7.4 1-11.2 4.5z"/>
<path fill="#007063" stroke="#007063" d="M429.9 459.3l10.8 2.9 7.2 7.7-10.8-2.8z"/>
<path fill="#006c6f" stroke="#006c6f" d="M465.9 479.8l10.9 2.3 7.1 7-10.8-2.1z"/>
<path fill="#005666" stroke="#005666" d="M502 497.8l10.8 1.6 7.2 6.4-10.9-1.5z"/>
<path fill="#004c60" stroke="#004c60" d="M520 505.8l10.9 1.3 7.2 6.1-10.9-1.2z"/>
<path fill="#00455c" stroke="#00455c" d="M538.1 513.2l10.9 1 7.1 5.8-10.8-0.9z"/>
<path fill="#004061" stroke="#004061" d="M574.2 526.2l10.9 0.3 7.3 5.2-11-0.3z"/>
<path fill="#00426f" stroke="#00426f" d="M610.5 536.5l10.9-0.3 7.3 4.6-11 0.4z"/>
<path fill="#004375" stroke="#004375" d="M628.7 540.8l10.9-0.7 7.2 4.3-10.9 0.7z"/>
<path fill="#00437a" stroke="#00437a" d="M646.8 544.4l11-1 7.2 3.9-10.9 1.1z"/>
<path fill="#004789" stroke="#004789" d="M701.5 551.3l11-2 7.3 3.1-11 2.1z"/>
<path fill="#004b90" stroke="#004b90" d="M719.8 552.4l11.1-2.4 7.3 2.8-11.1 2.4z"/>
<path fill="#005097" stroke="#005097" d="M738.2 552.8l11-2.7 7.3 2.4-11 2.8z"/>
<path fill="#00579d" stroke="#00579d" d="M774.9 551.6l11.1-3.4 7.4 1.9-11.1 3.5z"/>
<path fill="#005899" stroke="#005899" d="M793.4 550.1l11-3.8 7.4 1.6-11.1 3.9z"/>
<path fill="#005792" stroke="#005792" d="M811.8 547.9l11.1-4.1 7.4 1.3-11.1 4.2z"/>
<path fill="#00547e" stroke="#00547e" d="M848.9 541.6l11.1-4.9 7.5 0.7-11.2 5z"/>
<path fill="#004c66" stroke="#004c66" d="M886.1 532.7l11.2-5.6 7.5 0.1-11.2 5.7z"/>
<path fill="#00485a" stroke="#00485a" d="M904.8 527.2l11.2-5.9 7.5-0.1-11.3 6z"/>
<path fill="#004551" stroke="#004551" d="M923.5 521.2l11.2-6.3 7.5-0.5-11.2 6.4z"/>
<path fill="#005041" stroke="#005041" d="M1017.7 481l11.4-8.2 7.6-1.8-11.4 8.2z"/>
<path fill="#005033" stroke="#005033" d="M1055.7 460.3l11.4-8.9 7.7-2.4-11.4 9z"/>
<path fill="#004d22" stroke="#004d22" d="M1094 437l11.4-9.7 7.7-2.9-11.4 9.8z"/>
<path fill="#004a11" stroke="#004a11" d="M1132.4 411.1l11.5-10.4 7.8-3.5-11.6 10.6z"/>
<path fill="#004900" stroke="#004900" d="M1171 382.6l11.6-11.3 7.8-3.9-11.6 11.4z"/>
<path fill="#00705a" stroke="#00705a" d="M411.9 448.2l10.8 3.2 7.2 7.9-10.8-3z"/>
<path fill="#00706b" stroke="#00706b" d="M447.9 469.9l10.8 2.6 7.2 7.3-10.8-2.4z"/>
<path fill="#00626c" stroke="#00626c" d="M483.9 489.1l10.9 2 7.2 6.7-10.9-1.8z"/>
<path fill="#00447e" stroke="#00447e" d="M665 547.3l11-1.3 7.3 3.7-11 1.4z"/>
<path fill="#005072" stroke="#005072" d="M867.5 537.4l11.1-5.1 7.5 0.4-11.2 5.3z"/>
<path fill="#00454c" stroke="#00454c" d="M942.2 514.4l11.3-6.6 7.5-0.8-11.2 6.8z"/>
<path fill="#004e45" stroke="#004e45" d="M998.8 490.3l11.3-7.8 7.6-1.5-11.3 7.9z"/>
<path fill="#004e2a" stroke="#004e2a" d="M1074.8 449l11.5-9.3 7.7-2.7-11.5 9.5z"/>
<path fill="#004909" stroke="#004909" d="M1151.7 397.2l11.5-10.9 7.8-3.7-11.5 11z"/>
<path fill="#004849" stroke="#004849" d="M968.6 506.1l11.3-7.1 7.5-1.2-11.3 7.3z"/>
<path fill="#003c5a" stroke="#003c5a" d="M563.3 525.6l10.9 0.6 7.2 5.2-10.9-0.4z"/>
<path fill="#003d66" stroke="#003d66" d="M599.6 536.6l10.9-0.1 7.2 4.7-10.9 0.2z"/>
<path fill="#003f72" stroke="#003f72" d="M635.9 545.1l10.9-0.7 7.3 4-11 0.9z"/>
<path fill="#004382" stroke="#004382" d="M690.6 553.1l10.9-1.8 7.3 3.2-11 1.9z"/>
<path fill="#004689" stroke="#004689" d="M708.8 554.5l11-2.1 7.3 2.8-11 2.3z"/>
<path fill="#005098" stroke="#005098" d="M745.5 555.3l11-2.8 7.4 2.3-11.1 2.9z"/>
<path fill="#00539c" stroke="#00539c" d="M763.9 554.8l11-3.2 7.4 2-11.1 3.3z"/>
<path fill="#00569b" stroke="#00569b" d="M782.3 553.6l11.1-3.5 7.3 1.7-11.1 3.6z"/>
<path fill="#005383" stroke="#005383" d="M837.7 546.1l11.2-4.5 7.4 0.8-11.2 4.7z"/>
<path fill="#004455" stroke="#004455" d="M912.2 527.2l11.3-6 7.5-0.4-11.3 6.2z"/>
<path fill="#004f3d" stroke="#004f3d" d="M1025.3 479.2l11.4-8.2 7.6-2-11.4 8.4z"/>
<path fill="#004f37" stroke="#004f37" d="M1044.3 469l11.4-8.7 7.7-2.3-11.4 8.8z"/>
<path fill="#004a1e" stroke="#004a1e" d="M1101.7 434.2l11.4-9.8 7.8-3.1-11.5 10z"/>
<path fill="#004916" stroke="#004916" d="M1120.9 421.3l11.5-10.2 7.7-3.3-11.5 10.3z"/>
<path fill="#024800" stroke="#024800" d="M1178.8 378.8l11.6-11.4 7.8-4.2-11.6 11.5z"/>
<path fill="#0b4c00" stroke="#0b4c00" d="M1198.2 363.2l11.7-11.7 7.8-4.4-11.6 11.9z"/>
<path fill="#007056" stroke="#007056" d="M401.1 444.8l10.8 3.4 7.2 8.1-10.9-3.3z"/>
<path fill="#006e67" stroke="#006e67" d="M437.1 467.1l10.8 2.8 7.2 7.5-10.9-2.7z"/>
<path fill="#00646c" stroke="#00646c" d="M473.1 487l10.8 2.1 7.2 6.9-10.9-2.1z"/>
<path fill="#004e60" stroke="#004e60" d="M509.1 504.3l10.9 1.5 7.2 6.2-10.9-1.4z"/>
<path fill="#00445a" stroke="#00445a" d="M527.2 512l10.9 1.2 7.2 5.9-10.9-1.1z"/>
<path fill="#003f58" stroke="#003f58" d="M545.3 519.1l10.8 0.9 7.2 5.6-10.9-0.8z"/>
<path fill="#003c5f" stroke="#003c5f" d="M581.4 531.4l11 0.3 7.2 4.9-11-0.1z"/>
<path fill="#00558e" stroke="#00558e" d="M819.2 549.3l11.1-4.2 7.4 1-11.1 4.4z"/>
<path fill="#006f5e" stroke="#006f5e" d="M419.1 456.3l10.8 3 7.2 7.8-10.9-3z"/>
<path fill="#006e6e" stroke="#006e6e" d="M455.1 477.4l10.8 2.4 7.2 7.2-10.9-2.4z"/>
<path fill="#005967" stroke="#005967" d="M491.1 496l10.9 1.8 7.1 6.5-10.8-1.7z"/>
<path fill="#003e6d" stroke="#003e6d" d="M617.7 541.2l11-0.4 7.2 4.3-11 0.6z"/>
<path fill="#004077" stroke="#004077" d="M654.1 548.4l10.9-1.1 7.3 3.8-11 1.2z"/>
<path fill="#00417c" stroke="#00417c" d="M672.3 551.1l11-1.4 7.3 3.4-11 1.6z"/>
<path fill="#004b91" stroke="#004b91" d="M727.1 555.2l11.1-2.4 7.3 2.5-11.1 2.6z"/>
<path fill="#005696" stroke="#005696" d="M800.7 551.8l11.1-3.9 7.4 1.4-11.1 3.9z"/>
<path fill="#005078" stroke="#005078" d="M856.3 542.4l11.2-5 7.4 0.6-11.2 5z"/>
<path fill="#004d6b" stroke="#004d6b" d="M874.9 538l11.2-5.3 7.5 0.2-11.2 5.4z"/>
<path fill="#00485f" stroke="#00485f" d="M893.6 532.9l11.2-5.7 7.4 0-11.2 5.8z"/>
<path fill="#00434d" stroke="#00434d" d="M931 520.8l11.2-6.4 7.6-0.6-11.3 6.5z"/>
<path fill="#004449" stroke="#004449" d="M949.8 513.8l11.2-6.8 7.6-0.9-11.3 6.9z"/>
<path fill="#004b46" stroke="#004b46" d="M987.4 497.8l11.4-7.5 7.6-1.4-11.4 7.6z"/>
<path fill="#004d42" stroke="#004d42" d="M1006.4 488.9l11.3-7.9 7.6-1.8-11.3 8z"/>
<path fill="#004d2f" stroke="#004d2f" d="M1063.4 458l11.4-9 7.7-2.5-11.4 9.1z"/>
<path fill="#004c26" stroke="#004c26" d="M1082.5 446.5l11.5-9.5 7.7-2.8-11.5 9.6z"/>
<path fill="#00480e" stroke="#00480e" d="M1140.1 407.8l11.6-10.6 7.8-3.6-11.6 10.7z"/>
<path fill="#004706" stroke="#004706" d="M1159.5 393.6l11.5-11 7.8-3.8-11.6 11.1z"/>
<path fill="#004181" stroke="#004181" d="M697.8 556.4l11-1.9 7.3 3-11 1.9z"/>
<path fill="#00539b" stroke="#00539b" d="M771.2 556.9l11.1-3.3 7.3 1.8-11.1 3.3z"/>
<path fill="#003857" stroke="#003857" d="M570.5 531l10.9 0.4 7.2 5.1-10.9-0.3z"/>
<path fill="#006e5a" stroke="#006e5a" d="M408.2 453l10.9 3.3 7.1 7.8-10.8-3.1z"/>
<path fill="#006d6a" stroke="#006d6a" d="M444.2 474.7l10.9 2.7 7.1 7.2-10.8-2.6z"/>
<path fill="#005c67" stroke="#005c67" d="M480.2 493.9l10.9 2.1 7.2 6.6-10.9-2z"/>
<path fill="#00465a" stroke="#00465a" d="M516.3 510.6l10.9 1.4 7.2 6-10.9-1.3z"/>
<path fill="#003e55" stroke="#003e55" d="M534.4 518l10.9 1.1 7.1 5.7-10.9-1z"/>
<path fill="#003a54" stroke="#003a54" d="M552.4 524.8l10.9 0.8 7.2 5.4-10.9-0.7z"/>
<path fill="#00395d" stroke="#00395d" d="M588.6 536.5l11 0.1 7.2 4.8-11 0z"/>
<path fill="#003a64" stroke="#003a64" d="M606.8 541.4l10.9-0.2 7.2 4.5-10.9 0.3z"/>
<path fill="#003c6f" stroke="#003c6f" d="M643.1 549.3l11-0.9 7.2 3.9-11 1z"/>
<path fill="#003d74" stroke="#003d74" d="M661.3 552.3l11-1.2 7.3 3.6-11 1.3z"/>
<path fill="#004689" stroke="#004689" d="M716.1 557.5l11-2.3 7.3 2.7-11 2.3z"/>
<path fill="#004b92" stroke="#004b92" d="M734.4 557.9l11.1-2.6 7.3 2.4-11.1 2.7z"/>
<path fill="#004f98" stroke="#004f98" d="M752.8 557.7l11.1-2.9 7.3 2.1-11.1 3z"/>
<path fill="#005498" stroke="#005498" d="M789.6 555.4l11.1-3.6 7.4 1.4-11.1 3.8z"/>
<path fill="#005388" stroke="#005388" d="M826.6 550.5l11.1-4.4 7.4 1-11.1 4.4z"/>
<path fill="#00517d" stroke="#00517d" d="M845.1 547.1l11.2-4.7 7.4 0.6-11.1 4.8z"/>
<path fill="#004d71" stroke="#004d71" d="M863.7 543l11.2-5 7.5 0.3-11.2 5.2z"/>
<path fill="#004559" stroke="#004559" d="M901 533l11.2-5.8 7.5-0.2-11.2 5.8z"/>
<path fill="#00424f" stroke="#00424f" d="M919.7 527l11.3-6.2 7.5-0.5-11.3 6.3z"/>
<path fill="#004149" stroke="#004149" d="M938.5 520.3l11.3-6.5 7.5-0.8-11.3 6.6z"/>
<path fill="#004347" stroke="#004347" d="M957.3 513l11.3-6.9 7.5-1-11.3 7z"/>
<path fill="#004746" stroke="#004746" d="M976.1 505.1l11.3-7.3 7.6-1.3-11.3 7.4z"/>
<path fill="#004a43" stroke="#004a43" d="M995 496.5l11.4-7.6 7.6-1.7-11.4 7.8z"/>
<path fill="#004c3f" stroke="#004c3f" d="M1014 487.2l11.3-8 7.6-1.8-11.3 8.1z"/>
<path fill="#004d3a" stroke="#004d3a" d="M1032.9 477.4l11.4-8.4 7.7-2.2-11.4 8.5z"/>
<path fill="#004c33" stroke="#004c33" d="M1052 466.8l11.4-8.8 7.7-2.4-11.5 8.9z"/>
<path fill="#004b2b" stroke="#004b2b" d="M1071.1 455.6l11.4-9.1 7.7-2.7-11.5 9.2z"/>
<path fill="#004923" stroke="#004923" d="M1090.2 443.8l11.5-9.6 7.7-2.9-11.5 9.6z"/>
<path fill="#00481b" stroke="#00481b" d="M1109.4 431.3l11.5-10 7.7-3.2-11.5 10.1z"/>
<path fill="#004613" stroke="#004613" d="M1128.6 418.1l11.5-10.3 7.8-3.5-11.5 10.5z"/>
<path fill="#00450b" stroke="#00450b" d="M1147.9 404.3l11.6-10.7 7.7-3.7-11.5 10.8z"/>
<path fill="#004503" stroke="#004503" d="M1167.2 389.9l11.6-11.1 7.8-4.1-11.6 11.3z"/>
<path fill="#054600" stroke="#054600" d="M1186.6 374.7l11.6-11.5 7.9-4.2-11.7 11.6z"/>
<path fill="#0f4c00" stroke="#0f4c00" d="M1206.1 359l11.6-11.9 7.9-4.5-11.7 12z"/>
<path fill="#007052" stroke="#007052" d="M390.2 441.2l10.9 3.6 7.1 8.2-10.8-3.5z"/>
<path fill="#003b6a" stroke="#003b6a" d="M624.9 545.7l11-0.6 7.2 4.2-10.9 0.7z"/>
<path fill="#006d62" stroke="#006d62" d="M426.2 464.1l10.9 3 7.1 7.6-10.9-2.9z"/>
<path fill="#00666b" stroke="#00666b" d="M462.2 484.6l10.9 2.4 7.1 6.9-10.8-2.2z"/>
<path fill="#005061" stroke="#005061" d="M498.3 502.6l10.8 1.7 7.2 6.3-10.9-1.6z"/>
<path fill="#005491" stroke="#005491" d="M808.1 553.2l11.1-3.9 7.4 1.2-11.1 4.1z"/>
<path fill="#003e7a" stroke="#003e7a" d="M679.6 554.7l11-1.6 7.2 3.3-11 1.6z"/>
<path fill="#004965" stroke="#004965" d="M882.4 538.3l11.2-5.4 7.4 0.1-11.2 5.5z"/>
<path fill="#003555" stroke="#003555" d="M577.7 536.2l10.9 0.3 7.2 4.9-10.9-0.2z"/>
<path fill="#00386c" stroke="#00386c" d="M650.3 553.3l11-1 7.3 3.7-11 1.1z"/>
<path fill="#004081" stroke="#004081" d="M705.1 559.4l11-1.9 7.3 2.7-11 2.1z"/>
<path fill="#00458a" stroke="#00458a" d="M723.4 560.2l11-2.3 7.3 2.5-11 2.4z"/>
<path fill="#004f98" stroke="#004f98" d="M760.1 559.9l11.1-3 7.3 1.8-11.1 3.2z"/>
<path fill="#005299" stroke="#005299" d="M778.5 558.7l11.1-3.3 7.4 1.6-11.1 3.5z"/>
<path fill="#004e77" stroke="#004e77" d="M852.6 547.8l11.1-4.8 7.5 0.5-11.2 4.9z"/>
<path fill="#003f4b" stroke="#003f4b" d="M927.2 526.6l11.3-6.3 7.5-0.7-11.3 6.4z"/>
<path fill="#003f46" stroke="#003f46" d="M946 519.6l11.3-6.6 7.5-0.9-11.3 6.7z"/>
<path fill="#004643" stroke="#004643" d="M983.7 503.9l11.3-7.4 7.6-1.5-11.4 7.5z"/>
<path fill="#004840" stroke="#004840" d="M1002.6 495l11.4-7.8 7.6-1.7-11.4 7.8z"/>
<path fill="#00492f" stroke="#00492f" d="M1059.6 464.5l11.5-8.9 7.6-2.6-11.4 9z"/>
<path fill="#004827" stroke="#004827" d="M1078.7 453l11.5-9.2 7.7-2.9-11.5 9.4z"/>
<path fill="#004410" stroke="#004410" d="M1136.4 414.8l11.5-10.5 7.8-3.6-11.6 10.5z"/>
<path fill="#004308" stroke="#004308" d="M1155.7 400.7l11.5-10.8 7.8-3.9-11.6 10.9z"/>
<path fill="#124d00" stroke="#124d00" d="M1213.9 354.6l11.7-12 7.8-4.7-11.6 12.1z"/>
<path fill="#003661" stroke="#003661" d="M614 546l10.9-0.3 7.3 4.3-11 0.4z"/>
<path fill="#00704f" stroke="#00704f" d="M379.4 437.4l10.8 3.8 7.2 8.3-10.9-3.7z"/>
<path fill="#006c5e" stroke="#006c5e" d="M415.4 461l10.8 3.1 7.1 7.7-10.8-3.1z"/>
<path fill="#00696a" stroke="#00696a" d="M451.4 482l10.8 2.6 7.2 7.1-10.9-2.5z"/>
<path fill="#005362" stroke="#005362" d="M487.4 500.6l10.9 2 7.1 6.4-10.9-1.8z"/>
<path fill="#003e54" stroke="#003e54" d="M523.5 516.7l10.9 1.3 7.1 5.8-10.9-1.2z"/>
<path fill="#003850" stroke="#003850" d="M541.5 523.8l10.9 1 7.2 5.5-10.9-0.9z"/>
<path fill="#003551" stroke="#003551" d="M559.6 530.3l10.9 0.7 7.2 5.2-10.9-0.6z"/>
<path fill="#005394" stroke="#005394" d="M797 557l11.1-3.8 7.4 1.4-11.2 3.8z"/>
<path fill="#006e56" stroke="#006e56" d="M397.4 449.5l10.8 3.5 7.2 8-10.9-3.4z"/>
<path fill="#00355b" stroke="#00355b" d="M595.8 541.4l11 0 7.2 4.6-11 0.1z"/>
<path fill="#003767" stroke="#003767" d="M632.2 550l10.9-0.7 7.2 4-10.9 0.7z"/>
<path fill="#006b66" stroke="#006b66" d="M433.3 471.8l10.9 2.9 7.2 7.3-10.9-2.7z"/>
<path fill="#005f67" stroke="#005f67" d="M469.4 491.7l10.8 2.2 7.2 6.7-10.9-2.1z"/>
<path fill="#00485a" stroke="#00485a" d="M505.4 509l10.9 1.6 7.2 6.1-10.9-1.5z"/>
<path fill="#003a72" stroke="#003a72" d="M668.6 556l11-1.3 7.2 3.3-11 1.4z"/>
<path fill="#003d79" stroke="#003d79" d="M686.8 558l11-1.6 7.3 3-11 1.8z"/>
<path fill="#004b93" stroke="#004b93" d="M741.7 560.4l11.1-2.7 7.3 2.2-11.1 2.8z"/>
<path fill="#00528c" stroke="#00528c" d="M815.5 554.6l11.1-4.1 7.4 1-11.2 4.2z"/>
<path fill="#005082" stroke="#005082" d="M834 551.5l11.1-4.4 7.5 0.7-11.2 4.5z"/>
<path fill="#004a6a" stroke="#004a6a" d="M871.2 543.5l11.2-5.2 7.4 0.2-11.2 5.2z"/>
<path fill="#00455e" stroke="#00455e" d="M889.8 538.5l11.2-5.5 7.5-0.2-11.2 5.7z"/>
<path fill="#004153" stroke="#004153" d="M908.5 532.8l11.2-5.8 7.5-0.4-11.2 6z"/>
<path fill="#004a3c" stroke="#004a3c" d="M1021.6 485.5l11.3-8.1 7.7-2.1-11.4 8.2z"/>
<path fill="#004b36" stroke="#004b36" d="M1040.6 475.3l11.4-8.5 7.6-2.3-11.4 8.6z"/>
<path fill="#00461f" stroke="#00461f" d="M1097.9 440.9l11.5-9.6 7.7-3.1-11.5 9.7z"/>
<path fill="#004517" stroke="#004517" d="M1117.1 428.2l11.5-10.1 7.8-3.3-11.6 10.1z"/>
<path fill="#004300" stroke="#004300" d="M1175 386l11.6-11.3 7.8-4.1-11.6 11.3z"/>
<path fill="#084500" stroke="#084500" d="M1194.4 370.6l11.7-11.6 7.8-4.4-11.6 11.7z"/>
<path fill="#004245" stroke="#004245" d="M964.8 512.1l11.3-7 7.6-1.2-11.3 7.1z"/>
<path fill="#004082" stroke="#004082" d="M712.4 562.3l11-2.1 7.3 2.6-11.1 2.2z"/>
<path fill="#003d46" stroke="#003d46" d="M934.7 526l11.3-6.4 7.5-0.8-11.3 6.5z"/>
<path fill="#004540" stroke="#004540" d="M991.2 502.5l11.4-7.5 7.6-1.7-11.4 7.6z"/>
<path fill="#00472a" stroke="#00472a" d="M1067.3 462l11.4-9 7.7-2.7-11.5 9.1z"/>
<path fill="#00410c" stroke="#00410c" d="M1144.1 411.2l11.6-10.5 7.7-3.8-11.6 10.7z"/>
<path fill="#164e00" stroke="#164e00" d="M1221.8 350l11.6-12.1 7.9-4.8-11.7 12.3z"/>
<path fill="#005196" stroke="#005196" d="M785.9 560.5l11.1-3.5 7.3 1.4-11.1 3.6z"/>
<path fill="#003253" stroke="#003253" d="M584.9 541.2l10.9 0.2 7.2 4.7-10.9-0.2z"/>
<path fill="#00335f" stroke="#00335f" d="M621.2 550.4l11-0.4 7.2 4-11 0.5z"/>
<path fill="#00704b" stroke="#00704b" d="M368.5 433.4l10.9 4 7.1 8.4-10.9-3.9z"/>
<path fill="#006e53" stroke="#006e53" d="M386.5 445.8l10.9 3.7 7.1 8.1-10.9-3.6z"/>
<path fill="#006a61" stroke="#006a61" d="M422.5 468.7l10.8 3.1 7.2 7.5-10.9-3z"/>
<path fill="#006167" stroke="#006167" d="M458.5 489.2l10.9 2.5 7.1 6.8-10.9-2.4z"/>
<path fill="#004b5c" stroke="#004b5c" d="M494.5 507.2l10.9 1.8 7.2 6.2-10.9-1.7z"/>
<path fill="#00384e" stroke="#00384e" d="M530.6 522.6l10.9 1.2 7.2 5.6-10.9-1.1z"/>
<path fill="#00334c" stroke="#00334c" d="M548.7 529.4l10.9 0.9 7.2 5.3-10.9-0.8z"/>
<path fill="#00314e" stroke="#00314e" d="M566.8 535.6l10.9 0.6 7.2 5-10.9-0.5z"/>
<path fill="#003464" stroke="#003464" d="M639.4 554l10.9-0.7 7.3 3.8-11 0.8z"/>
<path fill="#00366a" stroke="#00366a" d="M657.6 557.1l11-1.1 7.2 3.4-11 1.2z"/>
<path fill="#003871" stroke="#003871" d="M675.8 559.4l11-1.4 7.3 3.2-11.1 1.5z"/>
<path fill="#00458c" stroke="#00458c" d="M730.7 562.8l11-2.4 7.3 2.3-11 2.5z"/>
<path fill="#004b94" stroke="#004b94" d="M749 562.7l11.1-2.8 7.3 2-11.1 2.9z"/>
<path fill="#004f97" stroke="#004f97" d="M767.4 561.9l11.1-3.2 7.4 1.8-11.1 3.2z"/>
<path fill="#005190" stroke="#005190" d="M804.3 558.4l11.2-3.8 7.3 1.1-11.1 3.9z"/>
<path fill="#004d7c" stroke="#004d7c" d="M841.4 552.3l11.2-4.5 7.4 0.6-11.2 4.6z"/>
<path fill="#004a70" stroke="#004a70" d="M860 548.4l11.2-4.9 7.4 0.2-11.2 5z"/>
<path fill="#004663" stroke="#004663" d="M878.6 543.7l11.2-5.2 7.5 0-11.3 5.3z"/>
<path fill="#003e4d" stroke="#003e4d" d="M916 532.6l11.2-6 7.5-0.6-11.3 6.1z"/>
<path fill="#00473d" stroke="#00473d" d="M1010.2 493.3l11.4-7.8 7.6-2-11.4 8z"/>
<path fill="#004832" stroke="#004832" d="M1048.2 473.1l11.4-8.6 7.7-2.5-11.5 8.8z"/>
<path fill="#004523" stroke="#004523" d="M1086.4 450.3l11.5-9.4 7.7-3-11.5 9.5z"/>
<path fill="#004214" stroke="#004214" d="M1124.8 424.9l11.6-10.1 7.7-3.6-11.6 10.3z"/>
<path fill="#004005" stroke="#004005" d="M1163.4 396.9l11.6-10.9 7.8-4.1-11.6 11.1z"/>
<path fill="#0a4500" stroke="#0a4500" d="M1202.3 366.3l11.6-11.7 7.9-4.6-11.7 11.9z"/>
<path fill="#003259" stroke="#003259" d="M603 546.1l11-0.1 7.2 4.4-11 0.2z"/>
<path fill="#006c5a" stroke="#006c5a" d="M404.5 457.6l10.9 3.4 7.1 7.7-10.9-3.2z"/>
<path fill="#006968" stroke="#006968" d="M440.5 479.3l10.9 2.7 7.1 7.2-10.9-2.7z"/>
<path fill="#005763" stroke="#005763" d="M476.5 498.5l10.9 2.1 7.1 6.6-10.9-2.1z"/>
<path fill="#004054" stroke="#004054" d="M512.6 515.2l10.9 1.5 7.1 5.9-10.9-1.4z"/>
<path fill="#003b78" stroke="#003b78" d="M694.1 561.2l11-1.8 7.3 2.9-11.1 1.9z"/>
<path fill="#005087" stroke="#005087" d="M822.8 555.7l11.2-4.2 7.4 0.8-11.2 4.3z"/>
<path fill="#004257" stroke="#004257" d="M897.3 538.5l11.2-5.7 7.5-0.2-11.3 5.7z"/>
<path fill="#003e43" stroke="#003e43" d="M953.5 518.8l11.3-6.7 7.6-1.1-11.4 6.8z"/>
<path fill="#004243" stroke="#004243" d="M972.4 511l11.3-7.1 7.5-1.4-11.3 7.2z"/>
<path fill="#004838" stroke="#004838" d="M1029.2 483.5l11.4-8.2 7.6-2.2-11.4 8.3z"/>
<path fill="#00441b" stroke="#00441b" d="M1105.6 437.9l11.5-9.7 7.7-3.3-11.5 9.9z"/>
<path fill="#024100" stroke="#024100" d="M1182.8 381.9l11.6-11.3 7.9-4.3-11.7 11.5z"/>
<path fill="#00305c" stroke="#00305c" d="M628.4 554.5l11-0.5 7.2 3.9-11 0.6z"/>
<path fill="#003468" stroke="#003468" d="M664.8 560.6l11-1.2 7.2 3.3-11 1.3z"/>
<path fill="#004083" stroke="#004083" d="M719.6 565l11.1-2.2 7.3 2.4-11.1 2.3z"/>
<path fill="#00468d" stroke="#00468d" d="M738 565.2l11-2.5 7.3 2.1-11 2.6z"/>
<path fill="#004f92" stroke="#004f92" d="M793.2 562l11.1-3.6 7.4 1.2-11.2 3.7z"/>
<path fill="#004769" stroke="#004769" d="M867.4 548.7l11.2-5 7.4 0.1-11.2 5.2z"/>
<path fill="#003b48" stroke="#003b48" d="M923.4 532.1l11.3-6.1 7.5-0.7-11.3 6.2z"/>
<path fill="#00433d" stroke="#00433d" d="M998.8 500.9l11.4-7.6 7.6-1.8-11.4 7.7z"/>
<path fill="#00452e" stroke="#00452e" d="M1055.8 470.8l11.5-8.8 7.6-2.6-11.4 8.8z"/>
<path fill="#004426" stroke="#004426" d="M1074.9 459.4l11.5-9.1 7.7-2.9-11.5 9.2z"/>
<path fill="#004011" stroke="#004011" d="M1132.5 421.5l11.6-10.3 7.7-3.6-11.5 10.3z"/>
<path fill="#003e09" stroke="#003e09" d="M1151.8 407.6l11.6-10.7 7.8-3.9-11.6 10.8z"/>
<path fill="#0e4500" stroke="#0e4500" d="M1210.1 361.9l11.7-11.9 7.8-4.6-11.7 11.9z"/>
<path fill="#002f51" stroke="#002f51" d="M592.1 545.9l10.9 0.2 7.2 4.5-10.9-0.1z"/>
<path fill="#007146" stroke="#007146" d="M357.7 429.2l10.8 4.2 7.1 8.5-10.8-4z"/>
<path fill="#006e4f" stroke="#006e4f" d="M375.6 441.9l10.9 3.9 7.1 8.2-10.8-3.8z"/>
<path fill="#006c56" stroke="#006c56" d="M393.6 454l10.9 3.6 7.1 7.9-10.9-3.5z"/>
<path fill="#006864" stroke="#006864" d="M429.6 476.3l10.9 3 7.1 7.2-10.9-2.8z"/>
<path fill="#005a63" stroke="#005a63" d="M465.6 496.1l10.9 2.4 7.1 6.6-10.9-2.2z"/>
<path fill="#004355" stroke="#004355" d="M501.7 513.5l10.9 1.7 7.1 6-10.9-1.6z"/>
<path fill="#003249" stroke="#003249" d="M537.8 528.3l10.9 1.1 7.2 5.4-11-1z"/>
<path fill="#002f49" stroke="#002f49" d="M555.9 534.8l10.9 0.8 7.2 5.1-11-0.7z"/>
<path fill="#004e95" stroke="#004e95" d="M774.8 563.7l11.1-3.2 7.3 1.5-11.1 3.3z"/>
<path fill="#002e4c" stroke="#002e4c" d="M574 540.7l10.9 0.5 7.2 4.7-11-0.3z"/>
<path fill="#002f57" stroke="#002f57" d="M610.2 550.6l11-0.2 7.2 4.1-11 0.3z"/>
<path fill="#006a5d" stroke="#006a5d" d="M411.6 465.5l10.9 3.2 7.1 7.6-10.9-3.2z"/>
<path fill="#006467" stroke="#006467" d="M447.6 486.5l10.9 2.7 7.1 6.9-10.9-2.5z"/>
<path fill="#004e5d" stroke="#004e5d" d="M483.6 505.1l10.9 2.1 7.2 6.3-10.9-2z"/>
<path fill="#00394e" stroke="#00394e" d="M519.7 521.2l10.9 1.4 7.2 5.7-10.9-1.3z"/>
<path fill="#003262" stroke="#003262" d="M646.6 557.9l11-0.8 7.2 3.5-11 1z"/>
<path fill="#003770" stroke="#003770" d="M683 562.7l11.1-1.5 7.2 3-11 1.6z"/>
<path fill="#003b79" stroke="#003b79" d="M701.3 564.2l11.1-1.9 7.2 2.7-11 2z"/>
<path fill="#004b94" stroke="#004b94" d="M756.3 564.8l11.1-2.9 7.4 1.8-11.1 3z"/>
<path fill="#004f8a" stroke="#004f8a" d="M811.7 559.6l11.1-3.9 7.4 0.9-11.2 4.1z"/>
<path fill="#004d80" stroke="#004d80" d="M830.2 556.6l11.2-4.3 7.4 0.7-11.2 4.4z"/>
<path fill="#004a75" stroke="#004a75" d="M848.8 553l11.2-4.6 7.4 0.3-11.2 4.8z"/>
<path fill="#00435c" stroke="#00435c" d="M886 543.8l11.3-5.3 7.4-0.2-11.2 5.5z"/>
<path fill="#003e51" stroke="#003e51" d="M904.7 538.3l11.3-5.7 7.4-0.5-11.2 5.8z"/>
<path fill="#003b43" stroke="#003b43" d="M942.2 525.3l11.3-6.5 7.5-1-11.3 6.6z"/>
<path fill="#003d40" stroke="#003d40" d="M961 517.8l11.4-6.8 7.5-1.3-11.4 6.9z"/>
<path fill="#004140" stroke="#004140" d="M979.9 509.7l11.3-7.2 7.6-1.6-11.4 7.3z"/>
<path fill="#00453a" stroke="#00453a" d="M1017.8 491.5l11.4-8 7.6-2.1-11.5 8.1z"/>
<path fill="#004635" stroke="#004635" d="M1036.8 481.4l11.4-8.3 7.6-2.3-11.4 8.4z"/>
<path fill="#00421f" stroke="#00421f" d="M1094.1 447.4l11.5-9.5 7.7-3.1-11.5 9.6z"/>
<path fill="#004118" stroke="#004118" d="M1113.3 434.8l11.5-9.9 7.7-3.4-11.5 10z"/>
<path fill="#003e02" stroke="#003e02" d="M1171.2 393l11.6-11.1 7.8-4.1-11.6 11.1z"/>
<path fill="#043f00" stroke="#043f00" d="M1190.6 377.8l11.7-11.5 7.8-4.4-11.7 11.6z"/>
<path fill="#1a5000" stroke="#1a5000" d="M1229.6 345.4l11.7-12.3 7.9-4.9-11.7 12.4z"/>
<path fill="#004084" stroke="#004084" d="M726.9 567.5l11.1-2.3 7.3 2.2-11.1 2.4z"/>
<path fill="#002c4f" stroke="#002c4f" d="M599.3 550.5l10.9 0.1 7.2 4.2-11 0.1z"/>
<path fill="#006f4b" stroke="#006f4b" d="M364.8 437.9l10.8 4 7.2 8.3-10.9-3.9z"/>
<path fill="#006c53" stroke="#006c53" d="M382.8 450.2l10.8 3.8 7.1 8-10.8-3.7z"/>
<path fill="#006a5a" stroke="#006a5a" d="M400.7 462l10.9 3.5 7.1 7.6-10.9-3.3z"/>
<path fill="#006666" stroke="#006666" d="M436.7 483.7l10.9 2.8 7.1 7.1-10.9-2.8z"/>
<path fill="#00525e" stroke="#00525e" d="M472.7 502.9l10.9 2.2 7.2 6.4-10.9-2.1z"/>
<path fill="#003b4e" stroke="#003b4e" d="M508.8 519.6l10.9 1.6 7.2 5.8-11-1.5z"/>
<path fill="#002e45" stroke="#002e45" d="M544.9 533.8l11 1 7.1 5.2-10.9-0.9z"/>
<path fill="#002d54" stroke="#002d54" d="M617.4 554.8l11-0.3 7.2 4-11 0.4z"/>
<path fill="#002e5a" stroke="#002e5a" d="M635.6 558.5l11-0.6 7.2 3.7-11 0.7z"/>
<path fill="#003060" stroke="#003060" d="M653.8 561.6l11-1 7.2 3.4-11 1.1z"/>
<path fill="#003267" stroke="#003267" d="M672 564l11-1.3 7.3 3.1-11.1 1.4z"/>
<path fill="#00366f" stroke="#00366f" d="M690.3 565.8l11-1.6 7.3 2.8-11.1 1.7z"/>
<path fill="#00468d" stroke="#00468d" d="M745.3 567.4l11-2.6 7.4 1.9-11.2 2.7z"/>
<path fill="#004d92" stroke="#004d92" d="M782.1 565.3l11.1-3.3 7.3 1.3-11.1 3.5z"/>
<path fill="#004d8d" stroke="#004d8d" d="M800.5 563.3l11.2-3.7 7.3 1.1-11.1 3.8z"/>
<path fill="#004c84" stroke="#004c84" d="M819 560.7l11.2-4.1 7.4 0.8-11.2 4.2z"/>
<path fill="#00476e" stroke="#00476e" d="M856.2 553.5l11.2-4.8 7.4 0.3-11.2 4.8z"/>
<path fill="#004362" stroke="#004362" d="M874.8 549l11.2-5.2 7.5 0-11.3 5.2z"/>
<path fill="#003f56" stroke="#003f56" d="M893.5 543.8l11.2-5.5 7.5-0.4-11.3 5.6z"/>
<path fill="#003b4b" stroke="#003b4b" d="M912.2 537.9l11.2-5.8 7.5-0.6-11.3 5.9z"/>
<path fill="#00393f" stroke="#00393f" d="M949.7 524.4l11.3-6.6 7.5-1.2-11.3 6.7z"/>
<path fill="#003c3e" stroke="#003c3e" d="M968.5 516.6l11.4-6.9 7.5-1.5-11.3 7.1z"/>
<path fill="#00423a" stroke="#00423a" d="M1006.4 499.2l11.4-7.7 7.5-2-11.4 7.8z"/>
<path fill="#004336" stroke="#004336" d="M1025.3 489.5l11.5-8.1 7.6-2.2-11.5 8.2z"/>
<path fill="#004431" stroke="#004431" d="M1044.4 479.2l11.4-8.4 7.7-2.6-11.5 8.6z"/>
<path fill="#00422a" stroke="#00422a" d="M1063.5 468.2l11.4-8.8 7.7-2.8-11.5 9z"/>
<path fill="#004123" stroke="#004123" d="M1082.6 456.6l11.5-9.2 7.7-3-11.6 9.3z"/>
<path fill="#003f1b" stroke="#003f1b" d="M1101.8 444.4l11.5-9.6 7.7-3.3-11.6 9.7z"/>
<path fill="#003e15" stroke="#003e15" d="M1121 431.5l11.5-10 7.8-3.6-11.6 10.1z"/>
<path fill="#003d0e" stroke="#003d0e" d="M1140.3 417.9l11.5-10.3 7.8-3.8-11.6 10.5z"/>
<path fill="#003c07" stroke="#003c07" d="M1159.6 403.8l11.6-10.8 7.8-4.1-11.6 10.9z"/>
<path fill="#003c00" stroke="#003c00" d="M1179 388.9l11.6-11.1 7.8-4.3-11.6 11.2z"/>
<path fill="#073e00" stroke="#073e00" d="M1198.4 373.5l11.7-11.6 7.8-4.6-11.7 11.7z"/>
<path fill="#1f5300" stroke="#1f5300" d="M1237.5 340.6l11.7-12.4 7.9-5.1-11.8 12.5z"/>
<path fill="#007041" stroke="#007041" d="M346.8 424.9l10.9 4.3 7.1 8.7-10.9-4.3z"/>
<path fill="#002c46" stroke="#002c46" d="M563 540l11 0.7 7.1 4.9-10.9-0.6z"/>
<path fill="#002b4a" stroke="#002b4a" d="M581.1 545.6l11 0.3 7.2 4.6-11-0.2z"/>
<path fill="#006860" stroke="#006860" d="M418.7 473.1l10.9 3.2 7.1 7.4-10.9-3.1z"/>
<path fill="#005d64" stroke="#005d64" d="M454.7 493.6l10.9 2.5 7.1 6.8-10.9-2.5z"/>
<path fill="#004657" stroke="#004657" d="M490.8 511.5l10.9 2 7.1 6.1-10.9-1.8z"/>
<path fill="#003348" stroke="#003348" d="M526.9 527l10.9 1.3 7.1 5.5-10.9-1.2z"/>
<path fill="#004a93" stroke="#004a93" d="M763.7 566.7l11.1-3 7.3 1.6-11.1 3.1z"/>
<path fill="#003a79" stroke="#003a79" d="M708.6 567l11-2 7.3 2.5-11.1 2.1z"/>
<path fill="#004a7a" stroke="#004a7a" d="M837.6 557.4l11.2-4.4 7.4 0.5-11.2 4.5z"/>
<path fill="#003944" stroke="#003944" d="M930.9 531.5l11.3-6.2 7.5-0.9-11.3 6.3z"/>
<path fill="#00403d" stroke="#00403d" d="M987.4 508.2l11.4-7.3 7.6-1.7-11.4 7.4z"/>
<path fill="#114600" stroke="#114600" d="M1217.9 357.3l11.7-11.9 7.9-4.8-11.8 12z"/>
<path fill="#00294d" stroke="#00294d" d="M606.4 554.9l11-0.1 7.2 4.1-11 0.2z"/>
<path fill="#002c58" stroke="#002c58" d="M642.8 562.3l11-0.7 7.2 3.5-11 0.8z"/>
<path fill="#003166" stroke="#003166" d="M679.2 567.2l11.1-1.4 7.2 2.9-11 1.5z"/>
<path fill="#004085" stroke="#004085" d="M734.2 569.8l11.1-2.4 7.2 2-11.1 2.6z"/>
<path fill="#004b87" stroke="#004b87" d="M807.9 564.5l11.1-3.8 7.4 0.9-11.2 3.9z"/>
<path fill="#00405a" stroke="#00405a" d="M882.2 549l11.3-5.2 7.4-0.3-11.3 5.4z"/>
<path fill="#003b4f" stroke="#003b4f" d="M900.9 543.5l11.3-5.6 7.4-0.5-11.3 5.7z"/>
<path fill="#00383c" stroke="#00383c" d="M957.2 523.3l11.3-6.7 7.6-1.3-11.4 6.8z"/>
<path fill="#004037" stroke="#004037" d="M1013.9 497.3l11.4-7.8 7.6-2.1-11.4 7.9z"/>
<path fill="#004132" stroke="#004132" d="M1032.9 487.4l11.5-8.2 7.6-2.4-11.5 8.3z"/>
<path fill="#003e1f" stroke="#003e1f" d="M1090.2 453.7l11.6-9.3 7.6-3.2-11.5 9.4z"/>
<path fill="#003c18" stroke="#003c18" d="M1109.4 441.2l11.6-9.7 7.7-3.5-11.6 9.9z"/>
<path fill="#003904" stroke="#003904" d="M1167.4 399.8l11.6-10.9 7.8-4.2-11.7 11z"/>
<path fill="#023a00" stroke="#023a00" d="M1186.8 384.7l11.6-11.2 7.8-4.5-11.6 11.4z"/>
<path fill="#245500" stroke="#245500" d="M1245.3 335.6l11.8-12.5 7.8-5.1-11.7 12.5z"/>
<path fill="#006d4f" stroke="#006d4f" d="M371.9 446.3l10.9 3.9 7.1 8.1-10.9-3.9z"/>
<path fill="#006a56" stroke="#006a56" d="M389.9 458.3l10.8 3.7 7.1 7.8-10.8-3.6z"/>
<path fill="#00675c" stroke="#00675c" d="M407.8 469.8l10.9 3.3 7.1 7.5-10.9-3.3z"/>
<path fill="#005f63" stroke="#005f63" d="M443.8 490.8l10.9 2.8 7.1 6.8-10.9-2.7z"/>
<path fill="#004a59" stroke="#004a59" d="M479.9 509.4l10.9 2.1 7.1 6.3-10.9-2.1z"/>
<path fill="#003448" stroke="#003448" d="M515.9 525.5l11 1.5 7.1 5.6-11-1.4z"/>
<path fill="#00468d" stroke="#00468d" d="M752.5 569.4l11.2-2.7 7.3 1.7-11.2 2.9z"/>
<path fill="#006f3c" stroke="#006f3c" d="M335.9 420.3l10.9 4.6 7.1 8.7-10.9-4.5z"/>
<path fill="#006f47" stroke="#006f47" d="M353.9 433.6l10.9 4.3 7.1 8.4-10.9-4.2z"/>
<path fill="#002a42" stroke="#002a42" d="M552.1 539.1l10.9 0.9 7.2 5-11-0.8z"/>
<path fill="#002944" stroke="#002944" d="M570.2 545l10.9 0.6 7.2 4.7-11-0.5z"/>
<path fill="#002948" stroke="#002948" d="M588.3 550.3l11 0.2 7.1 4.4-11-0.1z"/>
<path fill="#006662" stroke="#006662" d="M425.8 480.6l10.9 3.1 7.1 7.1-10.9-3z"/>
<path fill="#00555f" stroke="#00555f" d="M461.8 500.4l10.9 2.5 7.2 6.5-11-2.4z"/>
<path fill="#003e50" stroke="#003e50" d="M497.9 517.8l10.9 1.8 7.1 5.9-10.9-1.7z"/>
<path fill="#002d43" stroke="#002d43" d="M534 532.6l10.9 1.2 7.2 5.3-11-1.1z"/>
<path fill="#002a52" stroke="#002a52" d="M624.6 558.9l11-0.4 7.2 3.8-11 0.5z"/>
<path fill="#002e5e" stroke="#002e5e" d="M661 565.1l11-1.1 7.2 3.2-11 1.2z"/>
<path fill="#003570" stroke="#003570" d="M697.5 568.7l11.1-1.7 7.2 2.6-11 1.8z"/>
<path fill="#003a7b" stroke="#003a7b" d="M715.8 569.6l11.1-2.1 7.3 2.3-11.1 2.2z"/>
<path fill="#004a91" stroke="#004a91" d="M771 568.4l11.1-3.1 7.3 1.5-11.1 3.2z"/>
<path fill="#004b8e" stroke="#004b8e" d="M789.4 566.8l11.1-3.5 7.4 1.2-11.2 3.5z"/>
<path fill="#004a7e" stroke="#004a7e" d="M826.4 561.6l11.2-4.2 7.4 0.6-11.2 4.3z"/>
<path fill="#004773" stroke="#004773" d="M845 558l11.2-4.5 7.4 0.3-11.3 4.6z"/>
<path fill="#004467" stroke="#004467" d="M863.6 553.8l11.2-4.8 7.4 0-11.2 5z"/>
<path fill="#00373f" stroke="#00373f" d="M938.4 530.7l11.3-6.3 7.5-1.1-11.3 6.4z"/>
<path fill="#003c3c" stroke="#003c3c" d="M976.1 515.3l11.3-7.1 7.6-1.6-11.4 7.2z"/>
<path fill="#00412c" stroke="#00412c" d="M1052 476.8l11.5-8.6 7.6-2.6-11.5 8.6z"/>
<path fill="#003f26" stroke="#003f26" d="M1071.1 465.6l11.5-9 7.6-2.9-11.5 9.1z"/>
<path fill="#003b11" stroke="#003b11" d="M1128.7 428l11.6-10.1 7.7-3.6-11.6 10.2z"/>
<path fill="#003a0b" stroke="#003a0b" d="M1148 414.3l11.6-10.5 7.8-4-11.7 10.6z"/>
<path fill="#144700" stroke="#144700" d="M1225.7 352.6l11.8-12 7.8-5-11.7 12.2z"/>
<path fill="#003846" stroke="#003846" d="M919.6 537.4l11.3-5.9 7.5-0.8-11.3 6z"/>
<path fill="#003e3a" stroke="#003e3a" d="M995 506.6l11.4-7.4 7.5-1.9-11.4 7.6z"/>
<path fill="#0a3e00" stroke="#0a3e00" d="M1206.2 369l11.7-11.7 7.8-4.7-11.7 11.8z"/>
<path fill="#003c53" stroke="#003c53" d="M889.6 548.9l11.3-5.4 7.4-0.4-11.3 5.5z"/>
<path fill="#003e33" stroke="#003e33" d="M1021.5 495.3l11.4-7.9 7.6-2.3-11.4 8z"/>
<path fill="#003a1b" stroke="#003a1b" d="M1097.9 450.6l11.5-9.4 7.7-3.3-11.5 9.5z"/>
<path fill="#003601" stroke="#003601" d="M1175.1 395.7l11.7-11 7.8-4.3-11.7 11.1z"/>
<path fill="#004186" stroke="#004186" d="M741.4 572l11.1-2.6 7.3 1.9-11.1 2.6z"/>
<path fill="#006a52" stroke="#006a52" d="M379 454.4l10.9 3.9 7.1 7.9-10.9-3.8z"/>
<path fill="#006759" stroke="#006759" d="M397 466.2l10.8 3.6 7.1 7.5-10.9-3.5z"/>
<path fill="#005860" stroke="#005860" d="M450.9 497.7l10.9 2.7 7.1 6.6-10.9-2.5z"/>
<path fill="#004252" stroke="#004252" d="M487 515.7l10.9 2.1 7.1 6-10.9-2z"/>
<path fill="#002e42" stroke="#002e42" d="M523 531.2l11 1.4 7.1 5.4-10.9-1.3z"/>
<path fill="#002646" stroke="#002646" d="M595.4 554.8l11 0.1 7.2 4.2-11 0z"/>
<path fill="#00274b" stroke="#00274b" d="M613.6 559.1l11-0.2 7.2 3.9-11 0.3z"/>
<path fill="#002850" stroke="#002850" d="M631.8 562.8l11-0.5 7.2 3.6-11 0.6z"/>
<path fill="#002a56" stroke="#002a56" d="M650 565.9l11-0.8 7.2 3.3-11 0.9z"/>
<path fill="#002d5d" stroke="#002d5d" d="M668.2 568.4l11-1.2 7.3 3-11.1 1.3z"/>
<path fill="#003066" stroke="#003066" d="M686.5 570.2l11-1.5 7.3 2.7-11.1 1.6z"/>
<path fill="#003570" stroke="#003570" d="M704.8 571.4l11-1.8 7.3 2.4-11.1 2z"/>
<path fill="#00468d" stroke="#00468d" d="M759.8 571.3l11.2-2.9 7.3 1.6-11.2 3z"/>
<path fill="#004989" stroke="#004989" d="M796.7 568l11.2-3.5 7.3 1-11.2 3.6z"/>
<path fill="#004981" stroke="#004981" d="M815.2 565.5l11.2-3.9 7.4 0.7-11.2 4z"/>
<path fill="#004777" stroke="#004777" d="M833.8 562.3l11.2-4.3 7.3 0.4-11.2 4.4z"/>
<path fill="#00405f" stroke="#00405f" d="M871 554l11.2-5 7.4-0.1-11.2 5z"/>
<path fill="#00353c" stroke="#00353c" d="M945.9 529.7l11.3-6.4 7.5-1.2-11.3 6.5z"/>
<path fill="#00373a" stroke="#00373a" d="M964.7 522.1l11.4-6.8 7.5-1.5-11.4 6.9z"/>
<path fill="#003f2e" stroke="#003f2e" d="M1040.5 485.1l11.5-8.3 7.6-2.6-11.5 8.4z"/>
<path fill="#003c22" stroke="#003c22" d="M1078.7 462.8l11.5-9.1 7.7-3.1-11.5 9.2z"/>
<path fill="#003915" stroke="#003915" d="M1117.1 437.9l11.6-9.9 7.7-3.5-11.6 9.9z"/>
<path fill="#003708" stroke="#003708" d="M1155.7 410.4l11.7-10.6 7.7-4.1-11.6 10.7z"/>
<path fill="#184800" stroke="#184800" d="M1233.6 347.8l11.7-12.2 7.9-5.1-11.8 12.3z"/>
<path fill="#295700" stroke="#295700" d="M1253.2 330.5l11.7-12.5 7.9-5.4-11.8 12.7z"/>
<path fill="#006e37" stroke="#006e37" d="M325 415.6l10.9 4.7 7.1 8.8-10.9-4.6z"/>
<path fill="#006e42" stroke="#006e42" d="M343 429.1l10.9 4.5 7.1 8.5-10.9-4.4z"/>
<path fill="#00655f" stroke="#00655f" d="M414.9 477.3l10.9 3.3 7.1 7.2-10.9-3.1z"/>
<path fill="#00273f" stroke="#00273f" d="M559.2 544.2l11 0.8 7.1 4.8-11-0.7z"/>
<path fill="#002642" stroke="#002642" d="M577.3 549.8l11 0.5 7.1 4.5-10.9-0.4z"/>
<path fill="#006d4b" stroke="#006d4b" d="M361 442.1l10.9 4.2 7.1 8.1-10.9-4z"/>
<path fill="#006263" stroke="#006263" d="M432.9 487.8l10.9 3 7.1 6.9-10.9-2.8z"/>
<path fill="#004d5a" stroke="#004d5a" d="M468.9 507l11 2.4 7.1 6.3-11-2.3z"/>
<path fill="#003749" stroke="#003749" d="M505 523.8l10.9 1.7 7.1 5.7-10.9-1.6z"/>
<path fill="#00293f" stroke="#00293f" d="M541.1 538l11 1.1 7.1 5.1-11-1z"/>
<path fill="#003b7c" stroke="#003b7c" d="M723.1 572l11.1-2.2 7.2 2.2-11.1 2.3z"/>
<path fill="#00498d" stroke="#00498d" d="M778.3 570l11.1-3.2 7.3 1.2-11.1 3.4z"/>
<path fill="#00446b" stroke="#00446b" d="M852.3 558.4l11.3-4.6 7.4 0.2-11.3 4.7z"/>
<path fill="#003849" stroke="#003849" d="M908.3 543.1l11.3-5.7 7.5-0.7-11.3 5.8z"/>
<path fill="#003541" stroke="#003541" d="M927.1 536.7l11.3-6 7.5-1-11.4 6.2z"/>
<path fill="#003a39" stroke="#003a39" d="M983.6 513.8l11.4-7.2 7.5-1.7-11.4 7.2z"/>
<path fill="#003c37" stroke="#003c37" d="M1002.5 504.9l11.4-7.6 7.6-2-11.4 7.6z"/>
<path fill="#003e28" stroke="#003e28" d="M1059.6 474.2l11.5-8.6 7.6-2.8-11.5 8.7z"/>
<path fill="#00380e" stroke="#00380e" d="M1136.4 424.5l11.6-10.2 7.7-3.9-11.6 10.3z"/>
<path fill="#043800" stroke="#043800" d="M1194.6 380.4l11.6-11.4 7.8-4.6-11.6 11.5z"/>
<path fill="#0c3d00" stroke="#0c3d00" d="M1214 364.4l11.7-11.8 7.9-4.8-11.7 11.9z"/>
<path fill="#002549" stroke="#002549" d="M620.8 563.1l11-0.3 7.2 3.7-11.1 0.4z"/>
<path fill="#002955" stroke="#002955" d="M657.2 569.3l11-0.9 7.2 3.1-11 1z"/>
<path fill="#003066" stroke="#003066" d="M693.7 573l11.1-1.6 7.2 2.6-11.1 1.7z"/>
<path fill="#004186" stroke="#004186" d="M748.7 573.9l11.1-2.6 7.3 1.7-11.1 2.7z"/>
<path fill="#00467a" stroke="#00467a" d="M822.6 566.3l11.2-4 7.3 0.5-11.2 4.1z"/>
<path fill="#003c58" stroke="#003c58" d="M878.4 553.9l11.2-5 7.4-0.3-11.2 5.1z"/>
<path fill="#003c30" stroke="#003c30" d="M1029.1 493.1l11.4-8 7.6-2.5-11.4 8.2z"/>
<path fill="#00391e" stroke="#00391e" d="M1086.4 459.8l11.5-9.2 7.7-3.2-11.6 9.3z"/>
<path fill="#003718" stroke="#003718" d="M1105.6 447.4l11.5-9.5 7.7-3.5-11.5 9.6z"/>
<path fill="#003405" stroke="#003405" d="M1163.5 406.4l11.6-10.7 7.8-4.2-11.7 10.8z"/>
<path fill="#006856" stroke="#006856" d="M386.1 462.4l10.9 3.8 7 7.6-10.9-3.6z"/>
<path fill="#00515c" stroke="#00515c" d="M458 504.5l10.9 2.5 7.1 6.4-10.9-2.4z"/>
<path fill="#003a4c" stroke="#003a4c" d="M494.1 521.8l10.9 2 7.1 5.8-10.9-1.9z"/>
<path fill="#002440" stroke="#002440" d="M584.5 554.4l10.9 0.4 7.2 4.3-11-0.3z"/>
<path fill="#006d31" stroke="#006d31" d="M314.1 410.6l10.9 5 7.1 8.9-10.9-4.8z"/>
<path fill="#006e3d" stroke="#006e3d" d="M332.1 424.5l10.9 4.6 7.1 8.6-10.9-4.5z"/>
<path fill="#00655b" stroke="#00655b" d="M404 473.8l10.9 3.5 7.1 7.4-10.9-3.4z"/>
<path fill="#006361" stroke="#006361" d="M422 484.7l10.9 3.1 7.1 7.1-10.9-3.1z"/>
<path fill="#00293e" stroke="#00293e" d="M530.2 536.7l10.9 1.3 7.1 5.2-10.9-1.2z"/>
<path fill="#00243d" stroke="#00243d" d="M566.3 549.1l11 0.7 7.2 4.6-11-0.6z"/>
<path fill="#006d47" stroke="#006d47" d="M350.1 437.7l10.9 4.4 7.1 8.3-10.9-4.3z"/>
<path fill="#006b4f" stroke="#006b4f" d="M368.1 450.4l10.9 4 7.1 8-10.9-3.9z"/>
<path fill="#005b60" stroke="#005b60" d="M440 494.9l10.9 2.8 7.1 6.8-10.9-2.8z"/>
<path fill="#004655" stroke="#004655" d="M476 513.4l11 2.3 7.1 6.1-11-2.1z"/>
<path fill="#003043" stroke="#003043" d="M512.1 529.6l10.9 1.6 7.2 5.5-11-1.5z"/>
<path fill="#002444" stroke="#002444" d="M602.6 559.1l11 0 7.2 4-11.1 0.1z"/>
<path fill="#00274f" stroke="#00274f" d="M639 566.5l11-0.6 7.2 3.4-11.1 0.7z"/>
<path fill="#002c5d" stroke="#002c5d" d="M675.4 571.5l11.1-1.3 7.2 2.8-11.1 1.4z"/>
<path fill="#003572" stroke="#003572" d="M712 574l11.1-2 7.2 2.3-11.1 2z"/>
<path fill="#00458a" stroke="#00458a" d="M767.1 573l11.2-3 7.3 1.4-11.2 3z"/>
<path fill="#004789" stroke="#004789" d="M785.6 571.4l11.1-3.4 7.3 1.1-11.1 3.5z"/>
<path fill="#004783" stroke="#004783" d="M804 569.1l11.2-3.6 7.4 0.8-11.2 3.8z"/>
<path fill="#00436f" stroke="#00436f" d="M841.1 562.8l11.2-4.4 7.4 0.3-11.2 4.5z"/>
<path fill="#004064" stroke="#004064" d="M859.7 558.7l11.3-4.7 7.4-0.1-11.3 4.9z"/>
<path fill="#00384c" stroke="#00384c" d="M897 548.6l11.3-5.5 7.5-0.6-11.3 5.6z"/>
<path fill="#003543" stroke="#003543" d="M915.8 542.5l11.3-5.8 7.4-0.8-11.3 5.9z"/>
<path fill="#00333c" stroke="#00333c" d="M934.5 535.9l11.4-6.2 7.5-1.1-11.4 6.3z"/>
<path fill="#003338" stroke="#003338" d="M953.4 528.6l11.3-6.5 7.5-1.4-11.4 6.6z"/>
<path fill="#003637" stroke="#003637" d="M972.2 520.7l11.4-6.9 7.5-1.7-11.4 7z"/>
<path fill="#003936" stroke="#003936" d="M991.1 512.1l11.4-7.2 7.6-2-11.4 7.4z"/>
<path fill="#003b33" stroke="#003b33" d="M1010.1 502.9l11.4-7.6 7.6-2.2-11.5 7.8z"/>
<path fill="#003c2a" stroke="#003c2a" d="M1048.1 482.6l11.5-8.4 7.6-2.7-11.5 8.5z"/>
<path fill="#003a24" stroke="#003a24" d="M1067.2 471.5l11.5-8.7 7.7-3-11.5 8.9z"/>
<path fill="#003611" stroke="#003611" d="M1124.8 434.4l11.6-9.9 7.7-3.8-11.6 10.1z"/>
<path fill="#00350b" stroke="#00350b" d="M1144.1 420.7l11.6-10.3 7.8-4-11.6 10.5z"/>
<path fill="#003400" stroke="#003400" d="M1182.9 391.5l11.7-11.1 7.8-4.5-11.7 11.2z"/>
<path fill="#073700" stroke="#073700" d="M1202.4 375.9l11.6-11.5 7.9-4.7-11.7 11.6z"/>
<path fill="#0f3d00" stroke="#0f3d00" d="M1221.9 359.7l11.7-11.9 7.8-5-11.7 12z"/>
<path fill="#1c4900" stroke="#1c4900" d="M1241.4 342.8l11.8-12.3 7.8-5.2-11.7 12.4z"/>
<path fill="#2e5900" stroke="#2e5900" d="M1261 325.3l11.8-12.7 7.9-5.4-11.8 12.8z"/>
<path fill="#00253c" stroke="#00253c" d="M548.2 543.2l11 1 7.1 4.9-10.9-0.9z"/>
<path fill="#003b7d" stroke="#003b7d" d="M730.3 574.3l11.1-2.3 7.3 1.9-11.1 2.4z"/>
<path fill="#004a56" stroke="#004a56" d="M465.1 511l10.9 2.4 7.1 6.3-10.9-2.4z"/>
<path fill="#003345" stroke="#003345" d="M501.2 527.7l10.9 1.9 7.1 5.6-10.9-1.8z"/>
<path fill="#00223b" stroke="#00223b" d="M573.5 553.8l11 0.6 7.1 4.4-11-0.5z"/>
<path fill="#002243" stroke="#002243" d="M609.7 563.2l11.1-0.1 7.1 3.8-11 0.2z"/>
<path fill="#002347" stroke="#002347" d="M627.9 566.9l11.1-0.4 7.1 3.5-11 0.5z"/>
<path fill="#00254d" stroke="#00254d" d="M646.1 570l11.1-0.7 7.2 3.2-11.1 0.9z"/>
<path fill="#002854" stroke="#002854" d="M664.4 572.5l11-1 7.2 2.9-11 1.2z"/>
<path fill="#002b5d" stroke="#002b5d" d="M682.6 574.4l11.1-1.4 7.2 2.7-11.1 1.5z"/>
<path fill="#003067" stroke="#003067" d="M700.9 575.7l11.1-1.7 7.2 2.3-11.1 1.8z"/>
<path fill="#004185" stroke="#004185" d="M756 575.7l11.1-2.7 7.3 1.4-11.1 2.9z"/>
<path fill="#004487" stroke="#004487" d="M774.4 574.4l11.2-3 7.3 1.2-11.2 3.1z"/>
<path fill="#00457c" stroke="#00457c" d="M811.4 570.1l11.2-3.8 7.3 0.6-11.2 3.9z"/>
<path fill="#004372" stroke="#004372" d="M829.9 566.9l11.2-4.1 7.4 0.4-11.2 4.2z"/>
<path fill="#004067" stroke="#004067" d="M848.5 563.2l11.2-4.5 7.4 0.1-11.2 4.5z"/>
<path fill="#003d5c" stroke="#003d5c" d="M867.1 558.8l11.3-4.9 7.4-0.2-11.3 5z"/>
<path fill="#003546" stroke="#003546" d="M904.5 548.1l11.3-5.6 7.4-0.7-11.3 5.6z"/>
<path fill="#00323d" stroke="#00323d" d="M923.2 541.8l11.3-5.9 7.5-1-11.3 6z"/>
<path fill="#003535" stroke="#003535" d="M979.7 519.1l11.4-7 7.6-1.8-11.5 7.1z"/>
<path fill="#003733" stroke="#003733" d="M998.7 510.3l11.4-7.4 7.5-2-11.4 7.4z"/>
<path fill="#00392c" stroke="#00392c" d="M1036.7 490.8l11.4-8.2 7.6-2.6-11.4 8.3z"/>
<path fill="#003926" stroke="#003926" d="M1055.7 480l11.5-8.5 7.7-2.8-11.5 8.6z"/>
<path fill="#003720" stroke="#003720" d="M1074.9 468.7l11.5-8.9 7.6-3.1-11.5 9z"/>
<path fill="#00351a" stroke="#00351a" d="M1094 456.7l11.6-9.3 7.7-3.4-11.6 9.4z"/>
<path fill="#003414" stroke="#003414" d="M1113.3 444l11.5-9.6 7.7-3.6-11.6 9.7z"/>
<path fill="#00330e" stroke="#00330e" d="M1132.5 430.8l11.6-10.1 7.8-3.8-11.7 10.1z"/>
<path fill="#003209" stroke="#003209" d="M1151.9 416.9l11.6-10.5 7.7-4.1-11.6 10.6z"/>
<path fill="#023200" stroke="#023200" d="M1190.7 387.1l11.7-11.2 7.8-4.6-11.7 11.3z"/>
<path fill="#093600" stroke="#093600" d="M1210.2 371.3l11.7-11.6 7.8-4.9-11.7 11.8z"/>
<path fill="#335a00" stroke="#335a00" d="M1268.9 320l11.8-12.8 7.9-5.6-11.8 13z"/>
<path fill="#006b2c" stroke="#006b2c" d="M303.2 405.5l10.9 5.1 7.1 9.1-10.9-5.1z"/>
<path fill="#006c37" stroke="#006c37" d="M321.2 419.7l10.9 4.8 7.1 8.7-10.9-4.7z"/>
<path fill="#006558" stroke="#006558" d="M393.1 470.2l10.9 3.6 7.1 7.5-10.9-3.6z"/>
<path fill="#00635d" stroke="#00635d" d="M411.1 481.3l10.9 3.4 7.1 7.1-10.9-3.3z"/>
<path fill="#005e60" stroke="#005e60" d="M429.1 491.8l10.9 3.1 7.1 6.8-10.9-3z"/>
<path fill="#002539" stroke="#002539" d="M537.3 542l10.9 1.2 7.2 5-11-1.1z"/>
<path fill="#006d42" stroke="#006d42" d="M339.2 433.2l10.9 4.5 7.1 8.4-10.9-4.4z"/>
<path fill="#006b4b" stroke="#006b4b" d="M357.2 446.1l10.9 4.3 7.1 8.1-11-4.2z"/>
<path fill="#006952" stroke="#006952" d="M375.2 458.5l10.9 3.9 7 7.8-10.9-3.9z"/>
<path fill="#00545c" stroke="#00545c" d="M447.1 501.7l10.9 2.8 7.1 6.5-10.9-2.7z"/>
<path fill="#003e4e" stroke="#003e4e" d="M483.1 519.7l11 2.1 7.1 5.9-11-2z"/>
<path fill="#00223e" stroke="#00223e" d="M591.6 558.8l11 0.3 7.1 4.1-11-0.2z"/>
<path fill="#003573" stroke="#003573" d="M719.2 576.3l11.1-2 7.3 2-11.1 2.2z"/>
<path fill="#002a3e" stroke="#002a3e" d="M519.2 535.2l11 1.5 7.1 5.3-11-1.4z"/>
<path fill="#002239" stroke="#002239" d="M555.4 548.2l10.9 0.9 7.2 4.7-11-0.8z"/>
<path fill="#003b7e" stroke="#003b7e" d="M737.6 576.3l11.1-2.4 7.3 1.8-11.2 2.5z"/>
<path fill="#004584" stroke="#004584" d="M792.9 572.6l11.1-3.5 7.4 1-11.2 3.5z"/>
<path fill="#003950" stroke="#003950" d="M885.8 553.7l11.2-5.1 7.5-0.5-11.3 5.3z"/>
<path fill="#003038" stroke="#003038" d="M942 534.9l11.4-6.3 7.4-1.3-11.3 6.4z"/>
<path fill="#003235" stroke="#003235" d="M960.8 527.3l11.4-6.6 7.5-1.6-11.4 6.8z"/>
<path fill="#003830" stroke="#003830" d="M1017.6 500.9l11.5-7.8 7.6-2.3-11.5 7.8z"/>
<path fill="#003103" stroke="#003103" d="M1171.2 402.3l11.7-10.8 7.8-4.4-11.7 11z"/>
<path fill="#123e00" stroke="#123e00" d="M1229.7 354.8l11.7-12 7.9-5.1-11.8 12.2z"/>
<path fill="#204b00" stroke="#204b00" d="M1249.3 337.7l11.7-12.4 7.9-5.3-11.8 12.5z"/>
<path fill="#002246" stroke="#002246" d="M635.1 570.5l11-0.5 7.2 3.4-11 0.5z"/>
<path fill="#002754" stroke="#002754" d="M671.6 575.6l11-1.2 7.2 2.8-11.1 1.2z"/>
<path fill="#004083" stroke="#004083" d="M763.3 577.3l11.1-2.9 7.3 1.3-11.2 3z"/>
<path fill="#00406b" stroke="#00406b" d="M837.3 567.4l11.2-4.2 7.4 0.1-11.3 4.4z"/>
<path fill="#003d60" stroke="#003d60" d="M855.9 563.3l11.2-4.5 7.4-0.1-11.3 4.7z"/>
<path fill="#003140" stroke="#003140" d="M911.9 547.4l11.3-5.6 7.5-0.9-11.4 5.7z"/>
<path fill="#003332" stroke="#003332" d="M987.2 517.4l11.5-7.1 7.5-2-11.4 7.3z"/>
<path fill="#003628" stroke="#003628" d="M1044.3 488.3l11.4-8.3 7.7-2.7-11.6 8.3z"/>
<path fill="#003522" stroke="#003522" d="M1063.4 477.3l11.5-8.6 7.6-3-11.5 8.7z"/>
<path fill="#003111" stroke="#003111" d="M1120.9 440.5l11.6-9.7 7.7-3.8-11.6 9.9z"/>
<path fill="#00300c" stroke="#00300c" d="M1140.2 427l11.7-10.1 7.7-4-11.6 10.2z"/>
<path fill="#043000" stroke="#043000" d="M1198.5 382.6l11.7-11.3 7.8-4.7-11.8 11.4z"/>
<path fill="#385a00" stroke="#385a00" d="M1276.8 314.6l11.8-13 7.9-5.7-11.8 13.1z"/>
<path fill="#004251" stroke="#004251" d="M472.2 517.3l10.9 2.4 7.1 6-10.9-2.3z"/>
<path fill="#00203d" stroke="#00203d" d="M598.7 563l11 0.2 7.2 3.9-11-0.1z"/>
<path fill="#003068" stroke="#003068" d="M708.1 578.1l11.1-1.8 7.3 2.2-11.1 1.9z"/>
<path fill="#006a26" stroke="#006a26" d="M292.3 400.2l10.9 5.3 7.1 9.1-10.9-5.2z"/>
<path fill="#006b31" stroke="#006b31" d="M310.3 414.6l10.9 5.1 7.1 8.8-10.9-5z"/>
<path fill="#00635a" stroke="#00635a" d="M400.2 477.7l10.9 3.6 7.1 7.2-10.9-3.4z"/>
<path fill="#00605f" stroke="#00605f" d="M418.2 488.5l10.9 3.3 7.1 6.9-11-3.1z"/>
<path fill="#00585d" stroke="#00585d" d="M436.2 498.7l10.9 3 7.1 6.6-11-2.8z"/>
<path fill="#002d3f" stroke="#002d3f" d="M508.3 533.4l10.9 1.8 7.1 5.4-11-1.7z"/>
<path fill="#002236" stroke="#002236" d="M544.4 547.1l11 1.1 7.1 4.8-11-1z"/>
<path fill="#006c3d" stroke="#006c3d" d="M328.3 428.5l10.9 4.7 7.1 8.5-10.9-4.6z"/>
<path fill="#006b47" stroke="#006b47" d="M346.3 441.7l10.9 4.4 7 8.2-10.9-4.3z"/>
<path fill="#00694f" stroke="#00694f" d="M364.2 454.3l11 4.2 7 7.8-10.9-4z"/>
<path fill="#006655" stroke="#006655" d="M382.2 466.3l10.9 3.9 7.1 7.5-10.9-3.7z"/>
<path fill="#004d58" stroke="#004d58" d="M454.2 508.3l10.9 2.7 7.1 6.3-11-2.6z"/>
<path fill="#003748" stroke="#003748" d="M490.2 525.7l11 2 7.1 5.7-11-1.9z"/>
<path fill="#002037" stroke="#002037" d="M562.5 553l11 0.8 7.1 4.5-11-0.7z"/>
<path fill="#002039" stroke="#002039" d="M580.6 558.3l11 0.5 7.1 4.2-11-0.4z"/>
<path fill="#002141" stroke="#002141" d="M616.9 567.1l11-0.2 7.2 3.6-11 0.3z"/>
<path fill="#00244c" stroke="#00244c" d="M653.3 573.4l11.1-0.9 7.2 3.1-11.1 0.9z"/>
<path fill="#002b5d" stroke="#002b5d" d="M689.8 577.2l11.1-1.5 7.2 2.4-11.1 1.6z"/>
<path fill="#003674" stroke="#003674" d="M726.5 578.5l11.1-2.2 7.2 1.9-11.1 2.2z"/>
<path fill="#004383" stroke="#004383" d="M781.7 575.7l11.2-3.1 7.3 1-11.2 3.3z"/>
<path fill="#00437d" stroke="#00437d" d="M800.2 573.6l11.2-3.5 7.3 0.7-11.2 3.6z"/>
<path fill="#004275" stroke="#004275" d="M818.7 570.8l11.2-3.9 7.4 0.5-11.3 4z"/>
<path fill="#003549" stroke="#003549" d="M893.2 553.4l11.3-5.3 7.4-0.7-11.3 5.4z"/>
<path fill="#002f38" stroke="#002f38" d="M930.7 540.9l11.3-6 7.5-1.2-11.4 6.1z"/>
<path fill="#003032" stroke="#003032" d="M968.3 525.9l11.4-6.8 7.5-1.7-11.4 6.9z"/>
<path fill="#00352f" stroke="#00352f" d="M1006.2 508.3l11.4-7.4 7.6-2.3-11.5 7.6z"/>
<path fill="#00341c" stroke="#00341c" d="M1082.5 465.7l11.5-9 7.7-3.3-11.6 9.1z"/>
<path fill="#003217" stroke="#003217" d="M1101.7 453.4l11.6-9.4 7.6-3.5-11.5 9.5z"/>
<path fill="#002e01" stroke="#002e01" d="M1179 398.1l11.7-11 7.8-4.5-11.7 11.1z"/>
<path fill="#0b3500" stroke="#0b3500" d="M1218 366.6l11.7-11.8 7.8-4.9-11.7 11.8z"/>
<path fill="#254d00" stroke="#254d00" d="M1257.1 332.5l11.8-12.5 7.9-5.4-11.8 12.6z"/>
<path fill="#002639" stroke="#002639" d="M526.3 540.6l11 1.4 7.1 5.1-11-1.3z"/>
<path fill="#003c7d" stroke="#003c7d" d="M744.8 578.2l11.2-2.5 7.3 1.6-11.2 2.6z"/>
<path fill="#003954" stroke="#003954" d="M874.5 558.7l11.3-5 7.4-0.3-11.3 5z"/>
<path fill="#002e34" stroke="#002e34" d="M949.5 533.7l11.3-6.4 7.5-1.4-11.3 6.5z"/>
<path fill="#00362c" stroke="#00362c" d="M1025.2 498.6l11.5-7.8 7.6-2.5-11.5 7.9z"/>
<path fill="#002f06" stroke="#002f06" d="M1159.6 412.9l11.6-10.6 7.8-4.2-11.7 10.6z"/>
<path fill="#163f00" stroke="#163f00" d="M1237.5 349.9l11.8-12.2 7.8-5.2-11.7 12.3z"/>
<path fill="#003c63" stroke="#003c63" d="M844.6 567.7l11.3-4.4 7.3 0.1-11.2 4.4z"/>
<path fill="#003324" stroke="#003324" d="M1051.8 485.6l11.6-8.3 7.6-2.9-11.6 8.4z"/>
<path fill="#002d0e" stroke="#002d0e" d="M1128.6 436.9l11.6-9.9 7.8-3.9-11.7 10z"/>
<path fill="#003a4a" stroke="#003a4a" d="M479.3 523.4l10.9 2.3 7.1 5.8-11-2.2z"/>
<path fill="#001f33" stroke="#001f33" d="M551.5 552l11 1 7.1 4.6-11-0.9z"/>
<path fill="#001e38" stroke="#001e38" d="M587.7 562.6l11 0.4 7.2 4-11.1-0.3z"/>
<path fill="#001f40" stroke="#001f40" d="M624.1 570.8l11-0.3 7.2 3.4-11.1 0.4z"/>
<path fill="#002145" stroke="#002145" d="M642.3 573.9l11-0.5 7.2 3.1-11.1 0.7z"/>
<path fill="#00234c" stroke="#00234c" d="M660.5 576.5l11.1-0.9 7.1 2.8-11 1z"/>
<path fill="#002654" stroke="#002654" d="M678.7 578.4l11.1-1.2 7.2 2.5-11.1 1.3z"/>
<path fill="#003069" stroke="#003069" d="M715.4 580.4l11.1-1.9 7.2 1.9-11.1 2z"/>
<path fill="#003f80" stroke="#003f80" d="M770.5 578.7l11.2-3 7.3 1.2-11.2 3z"/>
<path fill="#00417d" stroke="#00417d" d="M789 576.9l11.2-3.3 7.3 0.8-11.2 3.4z"/>
<path fill="#003f6d" stroke="#003f6d" d="M826 571.4l11.3-4 7.3 0.3-11.2 4z"/>
<path fill="#003142" stroke="#003142" d="M900.6 552.8l11.3-5.4 7.4-0.8-11.3 5.5z"/>
<path fill="#002e3a" stroke="#002e3a" d="M919.3 546.6l11.4-5.7 7.4-1.1-11.3 5.9z"/>
<path fill="#002f30" stroke="#002f30" d="M975.8 524.3l11.4-6.9 7.6-1.8-11.5 6.9z"/>
<path fill="#00312e" stroke="#00312e" d="M994.8 515.6l11.4-7.3 7.5-2.1-11.4 7.3z"/>
<path fill="#00321e" stroke="#00321e" d="M1071 474.4l11.5-8.7 7.6-3.2-11.5 8.9z"/>
<path fill="#002f13" stroke="#002f13" d="M1109.4 450l11.5-9.5 7.7-3.6-11.6 9.6z"/>
<path fill="#002c00" stroke="#002c00" d="M1186.8 393.7l11.7-11.1 7.7-4.6-11.7 11.2z"/>
<path fill="#062e00" stroke="#062e00" d="M1206.2 378l11.8-11.4 7.8-4.9-11.8 11.5z"/>
<path fill="#294d00" stroke="#294d00" d="M1265 327.2l11.8-12.6 7.9-5.6-11.8 12.7z"/>
<path fill="#3b5800" stroke="#3b5800" d="M1284.7 309l11.8-13.1 7.9-5.8-11.8 13.2z"/>
<path fill="#006921" stroke="#006921" d="M281.4 394.7l10.9 5.5 7.1 9.2-10.9-5.3z"/>
<path fill="#00692c" stroke="#00692c" d="M299.4 409.4l10.9 5.2 7.1 8.9-10.9-5.1z"/>
<path fill="#00605c" stroke="#00605c" d="M407.3 485.1l10.9 3.4 7 7.1-10.9-3.4z"/>
<path fill="#005b5d" stroke="#005b5d" d="M425.2 495.6l11 3.1 7 6.8-10.9-3.1z"/>
<path fill="#005159" stroke="#005159" d="M443.2 505.5l11 2.8 7 6.4-10.9-2.7z"/>
<path fill="#002739" stroke="#002739" d="M515.3 538.9l11 1.7 7.1 5.2-11-1.6z"/>
<path fill="#006a37" stroke="#006a37" d="M317.4 423.5l10.9 5 7.1 8.6-11-4.9z"/>
<path fill="#006b42" stroke="#006b42" d="M335.4 437.1l10.9 4.6 7 8.3-10.9-4.6z"/>
<path fill="#006a4b" stroke="#006a4b" d="M353.3 450l10.9 4.3 7.1 8-10.9-4.3z"/>
<path fill="#006752" stroke="#006752" d="M371.3 462.3l10.9 4 7.1 7.7-10.9-4z"/>
<path fill="#006357" stroke="#006357" d="M389.3 474l10.9 3.7 7.1 7.4-11-3.7z"/>
<path fill="#004653" stroke="#004653" d="M461.2 514.7l11 2.6 7.1 6.1-11-2.4z"/>
<path fill="#001e3b" stroke="#001e3b" d="M605.9 567l11 0.1 7.2 3.7-11.1 0z"/>
<path fill="#002b5e" stroke="#002b5e" d="M697 579.7l11.1-1.6 7.3 2.3-11.2 1.7z"/>
<path fill="#003041" stroke="#003041" d="M497.3 531.5l11 1.9 7 5.5-10.9-1.8z"/>
<path fill="#002235" stroke="#002235" d="M533.4 545.8l11 1.3 7.1 4.9-11-1.2z"/>
<path fill="#001e35" stroke="#001e35" d="M569.6 557.6l11 0.7 7.1 4.3-11-0.6z"/>
<path fill="#003674" stroke="#003674" d="M733.7 580.4l11.1-2.2 7.3 1.7-11.2 2.3z"/>
<path fill="#003c7c" stroke="#003c7c" d="M752.1 579.9l11.2-2.6 7.2 1.4-11.1 2.7z"/>
<path fill="#004076" stroke="#004076" d="M807.5 574.4l11.2-3.6 7.3 0.6-11.2 3.7z"/>
<path fill="#003958" stroke="#003958" d="M863.2 563.4l11.3-4.7 7.4-0.3-11.3 4.8z"/>
<path fill="#00354d" stroke="#00354d" d="M881.9 558.4l11.3-5 7.4-0.6-11.3 5.2z"/>
<path fill="#002c34" stroke="#002c34" d="M938.1 539.8l11.4-6.1 7.5-1.3-11.4 6.2z"/>
<path fill="#002d31" stroke="#002d31" d="M957 532.4l11.3-6.5 7.5-1.6-11.4 6.6z"/>
<path fill="#00322c" stroke="#00322c" d="M1013.7 506.2l11.5-7.6 7.6-2.4-11.5 7.7z"/>
<path fill="#003328" stroke="#003328" d="M1032.8 496.2l11.5-7.9 7.5-2.7-11.5 8.1z"/>
<path fill="#003019" stroke="#003019" d="M1090.1 462.5l11.6-9.1 7.7-3.4-11.6 9.2z"/>
<path fill="#002c09" stroke="#002c09" d="M1148 423.1l11.6-10.2 7.7-4.2-11.6 10.4z"/>
<path fill="#002c04" stroke="#002c04" d="M1167.3 408.7l11.7-10.6 7.8-4.4-11.7 10.7z"/>
<path fill="#0e3500" stroke="#0e3500" d="M1225.8 361.7l11.7-11.8 7.9-5.1-11.8 11.9z"/>
<path fill="#193f00" stroke="#193f00" d="M1245.4 344.8l11.7-12.3 7.9-5.3-11.8 12.3z"/>
<path fill="#002044" stroke="#002044" d="M649.4 577.2l11.1-0.7 7.2 2.9-11.1 0.8z"/>
<path fill="#003e7b" stroke="#003e7b" d="M777.8 579.9l11.2-3 7.3 0.9-11.2 3.1z"/>
<path fill="#003b65" stroke="#003b65" d="M833.4 571.7l11.2-4 7.4 0.1-11.3 4.2z"/>
<path fill="#002f1f" stroke="#002f1f" d="M1059.4 482.8l11.6-8.4 7.6-3-11.6 8.5z"/>
<path fill="#002b10" stroke="#002b10" d="M1117 446.5l11.6-9.6 7.7-3.8-11.6 9.7z"/>
<path fill="#001d3a" stroke="#001d3a" d="M613 570.8l11.1 0 7.1 3.5-11.1 0.2z"/>
<path fill="#002654" stroke="#002654" d="M685.9 581l11.1-1.3 7.2 2.4-11.1 1.4z"/>
<path fill="#006826" stroke="#006826" d="M288.5 404.1l10.9 5.3 7.1 9-10.9-5.2z"/>
<path fill="#005d5d" stroke="#005d5d" d="M414.3 492.2l10.9 3.4 7.1 6.8-10.9-3.3z"/>
<path fill="#00545a" stroke="#00545a" d="M432.3 502.4l10.9 3.1 7.1 6.5-11-3z"/>
<path fill="#004a54" stroke="#004a54" d="M450.3 512l10.9 2.7 7.1 6.3-11-2.7z"/>
<path fill="#003344" stroke="#003344" d="M486.3 529.3l11 2.2 7.1 5.6-11-2.1z"/>
<path fill="#002335" stroke="#002335" d="M522.4 544.2l11 1.6 7.1 5-11-1.5z"/>
<path fill="#00681b" stroke="#00681b" d="M270.5 389.1l10.9 5.6 7.1 9.4-10.9-5.6z"/>
<path fill="#006931" stroke="#006931" d="M306.5 418.4l10.9 5.1 7 8.7-10.9-5z"/>
<path fill="#006a3c" stroke="#006a3c" d="M324.4 432.2l11 4.9 7 8.3-10.9-4.7z"/>
<path fill="#006a46" stroke="#006a46" d="M342.4 445.4l10.9 4.6 7.1 8-10.9-4.4z"/>
<path fill="#00684e" stroke="#00684e" d="M360.4 458l10.9 4.3 7.1 7.7-11-4.1z"/>
<path fill="#006454" stroke="#006454" d="M378.4 470l10.9 4 7 7.4-10.9-3.8z"/>
<path fill="#006159" stroke="#006159" d="M396.3 481.4l11 3.7 7 7.1-10.9-3.6z"/>
<path fill="#003f4d" stroke="#003f4d" d="M468.3 521l11 2.4 7 5.9-10.9-2.3z"/>
<path fill="#001f32" stroke="#001f32" d="M540.5 550.8l11 1.2 7.1 4.7-11-1.1z"/>
<path fill="#001d31" stroke="#001d31" d="M558.6 556.7l11 0.9 7.1 4.4-11-0.8z"/>
<path fill="#001c33" stroke="#001c33" d="M576.7 562l11 0.6 7.1 4.1-11-0.5z"/>
<path fill="#001c36" stroke="#001c36" d="M594.8 566.7l11.1 0.3 7.1 3.8-11-0.1z"/>
<path fill="#001e3e" stroke="#001e3e" d="M631.2 574.3l11.1-0.4 7.1 3.3-11.1 0.4z"/>
<path fill="#00224b" stroke="#00224b" d="M667.7 579.4l11-1 7.2 2.6-11.1 1.2z"/>
<path fill="#002b5f" stroke="#002b5f" d="M704.2 582.1l11.2-1.7 7.2 2-11.2 1.8z"/>
<path fill="#00316a" stroke="#00316a" d="M722.6 582.4l11.1-2 7.2 1.8-11.1 2.1z"/>
<path fill="#003674" stroke="#003674" d="M740.9 582.2l11.2-2.3 7.3 1.5-11.2 2.4z"/>
<path fill="#003e77" stroke="#003e77" d="M796.3 577.8l11.2-3.4 7.3 0.7-11.2 3.5z"/>
<path fill="#003d6f" stroke="#003d6f" d="M814.8 575.1l11.2-3.7 7.4 0.3-11.3 3.9z"/>
<path fill="#00395b" stroke="#00395b" d="M852 567.8l11.2-4.4 7.4-0.2-11.3 4.5z"/>
<path fill="#003550" stroke="#003550" d="M870.6 563.2l11.3-4.8 7.4-0.4-11.3 4.9z"/>
<path fill="#003145" stroke="#003145" d="M889.3 558l11.3-5.2 7.4-0.7-11.3 5.3z"/>
<path fill="#002e3c" stroke="#002e3c" d="M908 552.1l11.3-5.5 7.5-0.9-11.4 5.6z"/>
<path fill="#002b34" stroke="#002b34" d="M926.8 545.7l11.3-5.9 7.5-1.2-11.4 6z"/>
<path fill="#002a30" stroke="#002a30" d="M945.6 538.6l11.4-6.2 7.4-1.5-11.4 6.3z"/>
<path fill="#002b2d" stroke="#002b2d" d="M964.4 530.9l11.4-6.6 7.5-1.8-11.4 6.7z"/>
<path fill="#002d2d" stroke="#002d2d" d="M983.3 522.5l11.5-6.9 7.5-2.1-11.5 7.1z"/>
<path fill="#002f2b" stroke="#002f2b" d="M1002.3 513.5l11.4-7.3 7.6-2.3-11.5 7.5z"/>
<path fill="#003028" stroke="#003028" d="M1021.3 503.9l11.5-7.7 7.5-2.5-11.5 7.8z"/>
<path fill="#003024" stroke="#003024" d="M1040.3 493.7l11.5-8.1 7.6-2.8-11.5 8.2z"/>
<path fill="#002e1a" stroke="#002e1a" d="M1078.6 471.4l11.5-8.9 7.7-3.3-11.6 9z"/>
<path fill="#002c15" stroke="#002c15" d="M1097.8 459.2l11.6-9.2 7.6-3.5-11.6 9.3z"/>
<path fill="#002a0b" stroke="#002a0b" d="M1136.3 433.1l11.7-10 7.7-4-11.7 10.1z"/>
<path fill="#002906" stroke="#002906" d="M1155.7 419.1l11.6-10.4 7.8-4.3-11.7 10.5z"/>
<path fill="#002902" stroke="#002902" d="M1175.1 404.4l11.7-10.7 7.7-4.5-11.7 10.8z"/>
<path fill="#022a00" stroke="#022a00" d="M1194.5 389.2l11.7-11.2 7.8-4.8-11.7 11.3z"/>
<path fill="#082d00" stroke="#082d00" d="M1214 373.2l11.8-11.5 7.8-5-11.8 11.7z"/>
<path fill="#103400" stroke="#103400" d="M1233.6 356.7l11.8-11.9 7.8-5.3-11.8 12.1z"/>
<path fill="#1c4000" stroke="#1c4000" d="M1253.2 339.5l11.8-12.3 7.9-5.5-11.9 12.5z"/>
<path fill="#2d4d00" stroke="#2d4d00" d="M1272.9 321.7l11.8-12.7 7.9-5.7-11.9 12.8z"/>
<path fill="#3d5400" stroke="#3d5400" d="M1292.6 303.3l11.8-13.2 7.9-5.9-11.8 13.3z"/>
<path fill="#002a3b" stroke="#002a3b" d="M504.4 537.1l10.9 1.8 7.1 5.3-11-1.7z"/>
<path fill="#003b7a" stroke="#003b7a" d="M759.4 581.4l11.1-2.7 7.3 1.2-11.2 2.8z"/>
<path fill="#001f31" stroke="#001f31" d="M529.5 549.3l11 1.5 7.1 4.8-11-1.4z"/>
<path fill="#001b30" stroke="#001b30" d="M565.7 561.2l11 0.8 7.1 4.2-11-0.7z"/>
<path fill="#001b35" stroke="#001b35" d="M602 570.7l11 0.1 7.1 3.7-11-0.1z"/>
<path fill="#001d3d" stroke="#001d3d" d="M638.3 577.6l11.1-0.4 7.2 3-11.1 0.6z"/>
<path fill="#001f44" stroke="#001f44" d="M656.6 580.2l11.1-0.8 7.1 2.8-11.1 0.9z"/>
<path fill="#002655" stroke="#002655" d="M693.1 583.5l11.1-1.4 7.2 2.1-11.1 1.6z"/>
<path fill="#00316a" stroke="#00316a" d="M729.8 584.3l11.1-2.1 7.3 1.6-11.2 2.3z"/>
<path fill="#003c75" stroke="#003c75" d="M785.1 580.9l11.2-3.1 7.3 0.8-11.2 3.2z"/>
<path fill="#003c6f" stroke="#003c6f" d="M803.6 578.6l11.2-3.5 7.3 0.5-11.2 3.6z"/>
<path fill="#003a67" stroke="#003a67" d="M822.1 575.6l11.3-3.9 7.3 0.3-11.3 3.9z"/>
<path fill="#003553" stroke="#003553" d="M859.3 567.7l11.3-4.5 7.4-0.3-11.3 4.6z"/>
<path fill="#003148" stroke="#003148" d="M878 562.9l11.3-4.9 7.4-0.6-11.4 5z"/>
<path fill="#002830" stroke="#002830" d="M934.2 544.6l11.4-6 7.4-1.4-11.4 6.1z"/>
<path fill="#00282c" stroke="#00282c" d="M953 537.2l11.4-6.3 7.5-1.7-11.4 6.4z"/>
<path fill="#002c27" stroke="#002c27" d="M1009.8 511.4l11.5-7.5 7.5-2.4-11.4 7.5z"/>
<path fill="#002d24" stroke="#002d24" d="M1028.8 501.5l11.5-7.8 7.6-2.7-11.5 7.9z"/>
<path fill="#002c1b" stroke="#002c1b" d="M1067 479.9l11.6-8.5 7.6-3.2-11.6 8.6z"/>
<path fill="#002a17" stroke="#002a17" d="M1086.2 468.2l11.6-9 7.6-3.4-11.6 9z"/>
<path fill="#002912" stroke="#002912" d="M1105.4 455.8l11.6-9.3 7.7-3.7-11.6 9.4z"/>
<path fill="#002709" stroke="#002709" d="M1144 429.2l11.7-10.1 7.7-4.2-11.7 10.2z"/>
<path fill="#002604" stroke="#002604" d="M1163.4 414.9l11.7-10.5 7.7-4.4-11.7 10.6z"/>
<path fill="#0a2c00" stroke="#0a2c00" d="M1221.8 368.4l11.8-11.7 7.8-5.1-11.8 11.7z"/>
<path fill="#133400" stroke="#133400" d="M1241.4 351.6l11.8-12.1 7.8-5.3-11.8 12.1z"/>
<path fill="#3d4f00" stroke="#3d4f00" d="M1300.5 297.5l11.8-13.3 8-6-11.9 13.3z"/>
<path fill="#00575a" stroke="#00575a" d="M421.4 499.1l10.9 3.3 7 6.6-10.9-3.2z"/>
<path fill="#004d56" stroke="#004d56" d="M439.3 509l11 3 7 6.3-10.9-2.9z"/>
<path fill="#00434f" stroke="#00434f" d="M457.3 518.3l11 2.7 7.1 6-11-2.6z"/>
<path fill="#002d3e" stroke="#002d3e" d="M493.4 535l11 2.1 7 5.4-10.9-2z"/>
<path fill="#006816" stroke="#006816" d="M259.6 383.2l10.9 5.9 7.1 9.4-11-5.8z"/>
<path fill="#00672c" stroke="#00672c" d="M295.6 413.2l10.9 5.2 7 8.8-10.9-5.2z"/>
<path fill="#006837" stroke="#006837" d="M313.5 427.2l10.9 5 7.1 8.5-10.9-4.9z"/>
<path fill="#006941" stroke="#006941" d="M331.5 440.7l10.9 4.7 7.1 8.2-11-4.6z"/>
<path fill="#006721" stroke="#006721" d="M277.6 398.5l10.9 5.6 7.1 9.1-11-5.5z"/>
<path fill="#00684a" stroke="#00684a" d="M349.5 453.6l10.9 4.4 7 7.9-10.9-4.4z"/>
<path fill="#006551" stroke="#006551" d="M367.4 465.9l11 4.1 7 7.6-10.9-4.1z"/>
<path fill="#006256" stroke="#006256" d="M385.4 477.6l10.9 3.8 7.1 7.2-11-3.7z"/>
<path fill="#005e5a" stroke="#005e5a" d="M403.4 488.6l10.9 3.6 7.1 6.9-11-3.4z"/>
<path fill="#001c39" stroke="#001c39" d="M620.1 574.5l11.1-0.2 7.1 3.3-11 0.3z"/>
<path fill="#00224b" stroke="#00224b" d="M674.8 582.2l11.1-1.2 7.2 2.5-11.1 1.2z"/>
<path fill="#003747" stroke="#003747" d="M475.4 527l10.9 2.3 7.1 5.7-11-2.2z"/>
<path fill="#002536" stroke="#002536" d="M511.4 542.5l11 1.7 7.1 5.1-11-1.6z"/>
<path fill="#001c2f" stroke="#001c2f" d="M547.6 555.6l11 1.1 7.1 4.5-11-1z"/>
<path fill="#001b32" stroke="#001b32" d="M583.8 566.2l11 0.5 7.2 4-11.1-0.4z"/>
<path fill="#002b5f" stroke="#002b5f" d="M711.4 584.2l11.2-1.8 7.2 1.9-11.1 1.9z"/>
<path fill="#003673" stroke="#003673" d="M748.2 583.8l11.2-2.4 7.2 1.3-11.2 2.6z"/>
<path fill="#003a77" stroke="#003a77" d="M766.6 582.7l11.2-2.8 7.3 1-11.2 2.9z"/>
<path fill="#00385d" stroke="#00385d" d="M840.7 572l11.3-4.2 7.3-0.1-11.3 4.3z"/>
<path fill="#002d3e" stroke="#002d3e" d="M896.7 557.4l11.3-5.3 7.4-0.8-11.3 5.3z"/>
<path fill="#002a36" stroke="#002a36" d="M915.4 551.3l11.4-5.6 7.4-1.1-11.4 5.7z"/>
<path fill="#00292a" stroke="#00292a" d="M971.9 529.2l11.4-6.7 7.5-1.9-11.4 6.8z"/>
<path fill="#002b29" stroke="#002b29" d="M990.8 520.6l11.5-7.1 7.5-2.1-11.4 7.1z"/>
<path fill="#002d20" stroke="#002d20" d="M1047.9 491l11.5-8.2 7.6-2.9-11.5 8.3z"/>
<path fill="#00280d" stroke="#00280d" d="M1124.7 442.8l11.6-9.7 7.7-3.9-11.6 9.8z"/>
<path fill="#002600" stroke="#002600" d="M1182.8 400l11.7-10.8 7.8-4.7-11.7 11z"/>
<path fill="#042700" stroke="#042700" d="M1202.3 384.5l11.7-11.3 7.8-4.8-11.7 11.3z"/>
<path fill="#204000" stroke="#204000" d="M1261 334.2l11.9-12.5 7.8-5.6-11.8 12.6z"/>
<path fill="#304c00" stroke="#304c00" d="M1280.7 316.1l11.9-12.8 7.9-5.8-11.9 12.9z"/>
<path fill="#00396f" stroke="#00396f" d="M792.4 581.8l11.2-3.2 7.3 0.6-11.3 3.3z"/>
<path fill="#003967" stroke="#003967" d="M810.9 579.2l11.2-3.6 7.3 0.3-11.2 3.7z"/>
<path fill="#00314b" stroke="#00314b" d="M866.7 567.5l11.3-4.6 7.3-0.5-11.3 4.7z"/>
<path fill="#00252b" stroke="#00252b" d="M941.6 543.3l11.4-6.1 7.5-1.6-11.4 6.2z"/>
<path fill="#002923" stroke="#002923" d="M1017.4 509l11.4-7.5 7.6-2.6-11.5 7.7z"/>
<path fill="#002818" stroke="#002818" d="M1074.6 476.8l11.6-8.6 7.6-3.4-11.5 8.8z"/>
<path fill="#002613" stroke="#002613" d="M1093.8 464.8l11.6-9 7.7-3.6-11.6 9.2z"/>
<path fill="#002306" stroke="#002306" d="M1151.7 425.1l11.7-10.2 7.7-4.3-11.7 10.3z"/>
<path fill="#0c2b00" stroke="#0c2b00" d="M1229.6 363.3l11.8-11.7 7.8-5.3-11.8 11.9z"/>
<path fill="#3b4800" stroke="#3b4800" d="M1308.4 291.5l11.9-13.3 7.9-6.2-11.9 13.5z"/>
<path fill="#001a38" stroke="#001a38" d="M627.3 577.9l11-0.3 7.2 3.2-11.1 0.3z"/>
<path fill="#001e43" stroke="#001e43" d="M663.7 583.1l11.1-0.9 7.2 2.5-11.1 1z"/>
<path fill="#005156" stroke="#005156" d="M428.4 505.8l10.9 3.2 7.1 6.4-11-3z"/>
<path fill="#004751" stroke="#004751" d="M446.4 515.4l10.9 2.9 7.1 6.1-11-2.8z"/>
<path fill="#002738" stroke="#002738" d="M500.5 540.5l10.9 2 7.1 5.2-11-1.9z"/>
<path fill="#006911" stroke="#006911" d="M248.7 377.2l10.9 6 7 9.5-10.9-5.9z"/>
<path fill="#006731" stroke="#006731" d="M302.6 422l10.9 5.2 7.1 8.6-11-5.1z"/>
<path fill="#00683c" stroke="#00683c" d="M320.6 435.8l10.9 4.9 7 8.3-10.9-4.8z"/>
<path fill="#00661c" stroke="#00661c" d="M266.6 392.7l11 5.8 7 9.2-10.9-5.7z"/>
<path fill="#006626" stroke="#006626" d="M284.6 407.7l11 5.5 7 8.8-10.9-5.3z"/>
<path fill="#006846" stroke="#006846" d="M338.5 449l11 4.6 7 7.9-11-4.5z"/>
<path fill="#00664d" stroke="#00664d" d="M356.5 461.5l10.9 4.4 7.1 7.6-11-4.2z"/>
<path fill="#006253" stroke="#006253" d="M374.5 473.5l10.9 4.1 7 7.3-10.9-4z"/>
<path fill="#005f57" stroke="#005f57" d="M392.4 484.9l11 3.7 7 7.1-11-3.7z"/>
<path fill="#005b5a" stroke="#005b5a" d="M410.4 495.7l11 3.4 7 6.7-11-3.3z"/>
<path fill="#003c4a" stroke="#003c4a" d="M464.4 524.4l11 2.6 7 5.8-11-2.5z"/>
<path fill="#002031" stroke="#002031" d="M518.5 547.7l11 1.6 7.1 4.9-11-1.5z"/>
<path fill="#001c2e" stroke="#001c2e" d="M536.6 554.2l11 1.4 7.1 4.6-11-1.2z"/>
<path fill="#001a2d" stroke="#001a2d" d="M554.7 560.2l11 1 7.1 4.3-11-0.9z"/>
<path fill="#00192e" stroke="#00192e" d="M572.8 565.5l11 0.7 7.1 4.1-11-0.7z"/>
<path fill="#001931" stroke="#001931" d="M590.9 570.3l11.1 0.4 7.1 3.7-11.1-0.3z"/>
<path fill="#001a34" stroke="#001a34" d="M609.1 574.4l11 0.1 7.2 3.4-11.1 0z"/>
<path fill="#001c3d" stroke="#001c3d" d="M645.5 580.8l11.1-0.6 7.1 2.9-11.1 0.6z"/>
<path fill="#00224b" stroke="#00224b" d="M682 584.7l11.1-1.2 7.2 2.3-11.1 1.3z"/>
<path fill="#002655" stroke="#002655" d="M700.3 585.8l11.1-1.6 7.3 2-11.2 1.7z"/>
<path fill="#002c60" stroke="#002c60" d="M718.7 586.2l11.1-1.9 7.2 1.8-11.1 1.9z"/>
<path fill="#00316a" stroke="#00316a" d="M737 586.1l11.2-2.3 7.2 1.5-11.2 2.3z"/>
<path fill="#003671" stroke="#003671" d="M755.4 585.3l11.2-2.6 7.3 1.1-11.2 2.7z"/>
<path fill="#003455" stroke="#003455" d="M848 572l11.3-4.3 7.4-0.2-11.3 4.4z"/>
<path fill="#002d41" stroke="#002d41" d="M885.3 562.4l11.4-5 7.4-0.8-11.4 5.1z"/>
<path fill="#002730" stroke="#002730" d="M922.8 550.3l11.4-5.7 7.4-1.3-11.3 5.8z"/>
<path fill="#002528" stroke="#002528" d="M960.5 535.6l11.4-6.4 7.5-1.8-11.4 6.5z"/>
<path fill="#002825" stroke="#002825" d="M998.4 518.5l11.4-7.1 7.6-2.4-11.5 7.3z"/>
<path fill="#002a20" stroke="#002a20" d="M1036.4 498.9l11.5-7.9 7.6-2.8-11.5 8z"/>
<path fill="#00240b" stroke="#00240b" d="M1132.4 439l11.6-9.8 7.7-4.1-11.6 9.9z"/>
<path fill="#002302" stroke="#002302" d="M1171.1 410.6l11.7-10.6 7.8-4.5-11.7 10.7z"/>
<path fill="#052500" stroke="#052500" d="M1210.1 379.7l11.7-11.3 7.8-5.1-11.7 11.5z"/>
<path fill="#153400" stroke="#153400" d="M1249.2 346.3l11.8-12.1 7.9-5.5-11.8 12.3z"/>
<path fill="#324900" stroke="#324900" d="M1288.6 310.4l11.9-12.9 7.9-6-11.9 13.1z"/>
<path fill="#003141" stroke="#003141" d="M482.4 532.8l11 2.2 7.1 5.5-11-2.1z"/>
<path fill="#003972" stroke="#003972" d="M773.9 583.8l11.2-2.9 7.3 0.9-11.3 3z"/>
<path fill="#00375e" stroke="#00375e" d="M829.4 575.9l11.3-3.9 7.3 0-11.3 4.1z"/>
<path fill="#002a37" stroke="#002a37" d="M904.1 556.6l11.3-5.3 7.4-1-11.3 5.4z"/>
<path fill="#002728" stroke="#002728" d="M979.4 527.4l11.4-6.8 7.6-2.1-11.5 6.9z"/>
<path fill="#00291c" stroke="#00291c" d="M1055.5 488.2l11.5-8.3 7.6-3.1-11.5 8.4z"/>
<path fill="#00250f" stroke="#00250f" d="M1113.1 452.2l11.6-9.4 7.7-3.8-11.7 9.5z"/>
<path fill="#012300" stroke="#012300" d="M1190.6 395.5l11.7-11 7.8-4.8-11.8 11.1z"/>
<path fill="#234000" stroke="#234000" d="M1268.9 328.7l11.8-12.6 7.9-5.7-11.9 12.7z"/>
<path fill="#003767" stroke="#003767" d="M799.6 582.5l11.3-3.3 7.3 0.4-11.3 3.4z"/>
<path fill="#002414" stroke="#002414" d="M1082.3 473.6l11.5-8.8 7.7-3.4-11.6 8.8z"/>
<path fill="#002233" stroke="#002233" d="M507.5 545.8l11 1.9 7.1 5-11-1.8z"/>
<path fill="#001a2b" stroke="#001a2b" d="M543.7 559l11 1.2 7.1 4.4-11.1-1.1z"/>
<path fill="#00182d" stroke="#00182d" d="M579.9 569.6l11 0.7 7.1 3.8-11-0.5z"/>
<path fill="#001833" stroke="#001833" d="M616.2 577.9l11.1 0 7.1 3.2-11.1 0.1z"/>
<path fill="#001e43" stroke="#001e43" d="M670.9 585.7l11.1-1 7.2 2.4-11.1 1.1z"/>
<path fill="#002655" stroke="#002655" d="M707.5 587.9l11.2-1.7 7.2 1.8-11.2 1.8z"/>
<path fill="#003168" stroke="#003168" d="M744.2 587.6l11.2-2.3 7.3 1.2-11.2 2.4z"/>
<path fill="#00304c" stroke="#00304c" d="M855.4 571.9l11.3-4.4 7.3-0.4-11.3 4.5z"/>
<path fill="#002d43" stroke="#002d43" d="M874 567.1l11.3-4.7 7.4-0.7-11.3 4.9z"/>
<path fill="#00232b" stroke="#00232b" d="M930.3 549.1l11.3-5.8 7.5-1.5-11.4 5.9z"/>
<path fill="#002227" stroke="#002227" d="M949.1 541.8l11.4-6.2 7.5-1.7-11.5 6.3z"/>
<path fill="#002522" stroke="#002522" d="M1005.9 516.3l11.5-7.3 7.5-2.4-11.5 7.4z"/>
<path fill="#00261f" stroke="#00261f" d="M1024.9 506.6l11.5-7.7 7.6-2.7-11.6 7.8z"/>
<path fill="#002108" stroke="#002108" d="M1140.1 435l11.6-9.9 7.7-4.2-11.7 10z"/>
<path fill="#002004" stroke="#002004" d="M1159.4 420.9l11.7-10.3 7.8-4.4-11.8 10.4z"/>
<path fill="#072400" stroke="#072400" d="M1217.9 374.8l11.7-11.5 7.8-5.1-11.8 11.6z"/>
<path fill="#0d2a00" stroke="#0d2a00" d="M1237.4 358.2l11.8-11.9 7.9-5.3-11.9 11.9z"/>
<path fill="#324500" stroke="#324500" d="M1296.5 304.6l11.9-13.1 7.9-6-11.9 13.2z"/>
<path fill="#384000" stroke="#384000" d="M1316.3 285.5l11.9-13.5 7.9-6.2-11.9 13.5z"/>
<path fill="#004a52" stroke="#004a52" d="M435.4 512.4l11 3 7 6.2-11-2.9z"/>
<path fill="#006736" stroke="#006736" d="M309.6 430.7l11 5.1 7 8.4-11-5z"/>
<path fill="#006a0b" stroke="#006a0b" d="M237.7 371l11 6.2 7 9.6-10.9-6.1z"/>
<path fill="#006616" stroke="#006616" d="M255.7 386.8l10.9 5.9 7.1 9.3-11-5.8z"/>
<path fill="#006521" stroke="#006521" d="M273.7 402l10.9 5.7 7.1 9-11-5.6z"/>
<path fill="#00652c" stroke="#00652c" d="M291.7 416.7l10.9 5.3 7 8.7-10.9-5.3z"/>
<path fill="#006741" stroke="#006741" d="M327.6 444.2l10.9 4.8 7 8-10.9-4.7z"/>
<path fill="#006649" stroke="#006649" d="M345.5 457l11 4.5 7 7.8-10.9-4.5z"/>
<path fill="#006350" stroke="#006350" d="M363.5 469.3l11 4.2 7 7.4-11-4.1z"/>
<path fill="#006054" stroke="#006054" d="M381.5 480.9l10.9 4 7 7.1-10.9-3.8z"/>
<path fill="#005c58" stroke="#005c58" d="M399.4 492l11 3.7 7 6.8-10.9-3.6z"/>
<path fill="#005557" stroke="#005557" d="M417.4 502.5l11 3.3 7 6.6-10.9-3.3z"/>
<path fill="#00404c" stroke="#00404c" d="M453.4 521.6l11 2.8 7 5.9-10.9-2.7z"/>
<path fill="#003544" stroke="#003544" d="M471.4 530.3l11 2.5 7.1 5.6-11-2.4z"/>
<path fill="#001a37" stroke="#001a37" d="M634.4 581.1l11.1-0.3 7.1 2.9-11.1 0.5z"/>
<path fill="#001b3c" stroke="#001b3c" d="M652.6 583.7l11.1-0.6 7.2 2.6-11.1 0.8z"/>
<path fill="#002b3b" stroke="#002b3b" d="M489.5 538.4l11 2.1 7 5.3-11-2z"/>
<path fill="#001d2d" stroke="#001d2d" d="M525.6 552.7l11 1.5 7.1 4.8-11.1-1.5z"/>
<path fill="#00182b" stroke="#00182b" d="M561.8 564.6l11 0.9 7.1 4.1-11.1-0.8z"/>
<path fill="#00182f" stroke="#00182f" d="M598 574.1l11.1 0.3 7.1 3.5-11.1-0.2z"/>
<path fill="#00224c" stroke="#00224c" d="M689.2 587.1l11.1-1.3 7.2 2.1-11.1 1.4z"/>
<path fill="#002c60" stroke="#002c60" d="M725.9 588l11.1-1.9 7.2 1.5-11.1 2.1z"/>
<path fill="#00356d" stroke="#00356d" d="M762.7 586.5l11.2-2.7 7.2 1-11.2 2.8z"/>
<path fill="#00376c" stroke="#00376c" d="M781.1 584.8l11.3-3 7.2 0.7-11.2 3.1z"/>
<path fill="#00355f" stroke="#00355f" d="M818.2 579.6l11.2-3.7 7.3 0.2-11.2 3.8z"/>
<path fill="#003356" stroke="#003356" d="M836.7 576.1l11.3-4.1 7.4-0.1-11.3 4.1z"/>
<path fill="#002939" stroke="#002939" d="M892.7 561.7l11.4-5.1 7.4-0.9-11.4 5.2z"/>
<path fill="#002631" stroke="#002631" d="M911.5 555.7l11.3-5.4 7.5-1.2-11.4 5.5z"/>
<path fill="#002325" stroke="#002325" d="M968 533.9l11.4-6.5 7.5-2-11.5 6.7z"/>
<path fill="#002524" stroke="#002524" d="M986.9 525.4l11.5-6.9 7.5-2.2-11.5 7z"/>
<path fill="#00261c" stroke="#00261c" d="M1044 496.2l11.5-8 7.6-3-11.6 8.1z"/>
<path fill="#002518" stroke="#002518" d="M1063.1 485.2l11.5-8.4 7.7-3.2-11.6 8.5z"/>
<path fill="#002310" stroke="#002310" d="M1101.5 461.4l11.6-9.2 7.6-3.7-11.6 9.3z"/>
<path fill="#00210c" stroke="#00210c" d="M1120.7 448.5l11.7-9.5 7.7-4-11.7 9.6z"/>
<path fill="#002001" stroke="#002001" d="M1178.9 406.2l11.7-10.7 7.7-4.7-11.7 10.8z"/>
<path fill="#022100" stroke="#022100" d="M1198.3 390.8l11.8-11.1 7.8-4.9-11.8 11.2z"/>
<path fill="#183400" stroke="#183400" d="M1257.1 341l11.8-12.3 7.8-5.6-11.8 12.4z"/>
<path fill="#253f00" stroke="#253f00" d="M1276.7 323.1l11.9-12.7 7.9-5.8-11.9 12.8z"/>
<path fill="#006b05" stroke="#006b05" d="M226.8 364.7l10.9 6.3 7.1 9.7-11-6.2z"/>
<path fill="#006711" stroke="#006711" d="M244.8 380.7l10.9 6.1 7 9.4-10.9-6z"/>
<path fill="#00641c" stroke="#00641c" d="M262.7 396.2l11 5.8 7 9.1-10.9-5.7z"/>
<path fill="#006426" stroke="#006426" d="M280.7 411.1l11 5.6 7 8.7-11-5.4z"/>
<path fill="#006531" stroke="#006531" d="M298.7 425.4l10.9 5.3 7 8.5-10.9-5.2z"/>
<path fill="#00663b" stroke="#00663b" d="M316.6 439.2l11 5 7 8.1-11-4.9z"/>
<path fill="#006645" stroke="#006645" d="M334.6 452.3l10.9 4.7 7.1 7.8-11-4.6z"/>
<path fill="#00644c" stroke="#00644c" d="M352.6 464.8l10.9 4.5 7 7.5-10.9-4.3z"/>
<path fill="#006152" stroke="#006152" d="M370.5 476.8l11 4.1 7 7.3-11-4.1z"/>
<path fill="#005c55" stroke="#005c55" d="M388.5 488.2l10.9 3.8 7.1 6.9-11-3.7z"/>
<path fill="#005858" stroke="#005858" d="M406.5 498.9l10.9 3.6 7.1 6.6-11-3.5z"/>
<path fill="#004e54" stroke="#004e54" d="M424.5 509.1l10.9 3.3 7 6.3-10.9-3.2z"/>
<path fill="#00444e" stroke="#00444e" d="M442.4 518.7l11 2.9 7.1 6-11-2.8z"/>
<path fill="#003946" stroke="#003946" d="M460.5 527.6l10.9 2.7 7.1 5.7-11-2.6z"/>
<path fill="#002e3e" stroke="#002e3e" d="M478.5 536l11 2.4 7 5.4-11-2.3z"/>
<path fill="#002535" stroke="#002535" d="M496.5 543.8l11 2 7.1 5.1-11.1-1.9z"/>
<path fill="#001e2e" stroke="#001e2e" d="M514.6 550.9l11 1.8 7 4.8-11-1.7z"/>
<path fill="#001a2a" stroke="#001a2a" d="M532.6 557.5l11.1 1.5 7 4.5-11-1.4z"/>
<path fill="#001829" stroke="#001829" d="M550.7 563.5l11.1 1.1 7 4.2-11-1z"/>
<path fill="#00172a" stroke="#00172a" d="M568.8 568.8l11.1 0.8 7.1 4-11.1-0.8z"/>
<path fill="#00172c" stroke="#00172c" d="M587 573.6l11 0.5 7.1 3.6-11-0.4z"/>
<path fill="#00172e" stroke="#00172e" d="M605.1 577.7l11.1 0.2 7.1 3.3-11.1 0z"/>
<path fill="#001732" stroke="#001732" d="M623.3 581.2l11.1-0.1 7.1 3.1-11.1 0.2z"/>
<path fill="#001936" stroke="#001936" d="M641.5 584.2l11.1-0.5 7.2 2.8-11.1 0.5z"/>
<path fill="#001b3c" stroke="#001b3c" d="M659.8 586.5l11.1-0.8 7.2 2.5-11.2 0.9z"/>
<path fill="#001e43" stroke="#001e43" d="M678.1 588.2l11.1-1.1 7.2 2.2-11.2 1.2z"/>
<path fill="#00224c" stroke="#00224c" d="M696.4 589.3l11.1-1.4 7.2 1.9-11.2 1.5z"/>
<path fill="#002755" stroke="#002755" d="M714.7 589.8l11.2-1.8 7.2 1.7-11.2 1.8z"/>
<path fill="#002c5f" stroke="#002c5f" d="M733.1 589.7l11.1-2.1 7.3 1.3-11.2 2.2z"/>
<path fill="#003066" stroke="#003066" d="M751.5 588.9l11.2-2.4 7.2 1.1-11.2 2.5z"/>
<path fill="#003368" stroke="#003368" d="M769.9 587.6l11.2-2.8 7.3 0.8-11.2 2.9z"/>
<path fill="#003466" stroke="#003466" d="M788.4 585.6l11.2-3.1 7.3 0.5-11.2 3.3z"/>
<path fill="#00335f" stroke="#00335f" d="M806.9 583l11.3-3.4 7.3 0.3-11.3 3.5z"/>
<path fill="#003257" stroke="#003257" d="M825.5 579.9l11.2-3.8 7.4-0.1-11.3 3.9z"/>
<path fill="#002f4d" stroke="#002f4d" d="M844.1 576l11.3-4.1 7.3-0.3-11.3 4.3z"/>
<path fill="#002c44" stroke="#002c44" d="M862.7 571.6l11.3-4.5 7.4-0.5-11.4 4.6z"/>
<path fill="#00293b" stroke="#00293b" d="M881.4 566.6l11.3-4.9 7.4-0.8-11.4 5z"/>
<path fill="#002532" stroke="#002532" d="M900.1 560.9l11.4-5.2 7.4-1.1-11.4 5.3z"/>
<path fill="#00222b" stroke="#00222b" d="M918.9 554.6l11.4-5.5 7.4-1.4-11.4 5.7z"/>
<path fill="#002026" stroke="#002026" d="M937.7 547.7l11.4-5.9 7.4-1.6-11.4 6z"/>
<path fill="#002023" stroke="#002023" d="M956.5 540.2l11.5-6.3 7.4-1.8-11.4 6.4z"/>
<path fill="#002121" stroke="#002121" d="M975.4 532.1l11.5-6.7 7.5-2.1-11.5 6.8z"/>
<path fill="#002220" stroke="#002220" d="M994.4 523.3l11.5-7 7.5-2.3-11.5 7.1z"/>
<path fill="#00221e" stroke="#00221e" d="M1013.4 514l11.5-7.4 7.5-2.6-11.5 7.4z"/>
<path fill="#00231b" stroke="#00231b" d="M1032.4 504l11.6-7.8 7.5-2.9-11.5 7.9z"/>
<path fill="#002218" stroke="#002218" d="M1051.5 493.3l11.6-8.1 7.6-3.1-11.6 8.2z"/>
<path fill="#002114" stroke="#002114" d="M1070.7 482.1l11.6-8.5 7.6-3.4-11.6 8.6z"/>
<path fill="#002010" stroke="#002010" d="M1089.9 470.2l11.6-8.8 7.6-3.6-11.6 8.9z"/>
<path fill="#001f0d" stroke="#001f0d" d="M1109.1 457.8l11.6-9.3 7.7-3.9-11.6 9.4z"/>
<path fill="#001e09" stroke="#001e09" d="M1128.4 444.6l11.7-9.6 7.6-4.1-11.6 9.8z"/>
<path fill="#001d06" stroke="#001d06" d="M1147.7 430.9l11.7-10 7.7-4.3-11.7 10.1z"/>
<path fill="#001d03" stroke="#001d03" d="M1167.1 416.6l11.8-10.4 7.7-4.6-11.7 10.5z"/>
<path fill="#001d00" stroke="#001d00" d="M1186.6 401.6l11.7-10.8 7.8-4.8-11.8 10.9z"/>
<path fill="#031e00" stroke="#031e00" d="M1206.1 386l11.8-11.2 7.7-5-11.7 11.3z"/>
<path fill="#082200" stroke="#082200" d="M1225.6 369.8l11.8-11.6 7.8-5.3-11.8 11.7z"/>
<path fill="#0f2900" stroke="#0f2900" d="M1245.2 352.9l11.9-11.9 7.8-5.5-11.8 12.1z"/>
<path fill="#1a3300" stroke="#1a3300" d="M1264.9 335.5l11.8-12.4 7.9-5.7-11.9 12.5z"/>
<path fill="#273d00" stroke="#273d00" d="M1284.6 317.4l11.9-12.8 7.9-5.9-11.9 12.9z"/>
<path fill="#313f00" stroke="#313f00" d="M1304.4 298.7l11.9-13.2 7.9-6.2-11.9 13.3z"/>
<path fill="#343800" stroke="#343800" d="M1324.2 279.3l11.9-13.5 8-6.4-12 13.7z"/>
<path fill="#001b2a" stroke="#001b2a" d="M521.6 555.8l11 1.7 7.1 4.6-11-1.6z"/>
<path fill="#001627" stroke="#001627" d="M557.8 567.8l11 1 7.1 4-11-0.9z"/>
<path fill="#00152b" stroke="#00152b" d="M594.1 577.3l11 0.4 7.1 3.5-11-0.4z"/>
<path fill="#001e43" stroke="#001e43" d="M685.2 590.5l11.2-1.2 7.1 2-11.1 1.3z"/>
<path fill="#002755" stroke="#002755" d="M721.9 591.5l11.2-1.8 7.2 1.4-11.2 2z"/>
<path fill="#002f62" stroke="#002f62" d="M758.7 590.1l11.2-2.5 7.3 0.9-11.3 2.6z"/>
<path fill="#003162" stroke="#003162" d="M777.2 588.5l11.2-2.9 7.3 0.7-11.3 2.9z"/>
<path fill="#003056" stroke="#003056" d="M814.2 583.4l11.3-3.5 7.3 0-11.3 3.7z"/>
<path fill="#002e4e" stroke="#002e4e" d="M832.8 579.9l11.3-3.9 7.3-0.1-11.3 4z"/>
<path fill="#002433" stroke="#002433" d="M888.7 565.9l11.4-5 7.4-1-11.4 5.1z"/>
<path fill="#00212b" stroke="#00212b" d="M907.5 559.9l11.4-5.3 7.4-1.2-11.4 5.4z"/>
<path fill="#001d1f" stroke="#001d1f" d="M964 538.5l11.4-6.4 7.5-2-11.4 6.5z"/>
<path fill="#001e1e" stroke="#001e1e" d="M982.9 530.1l11.5-6.8 7.5-2.2-11.5 6.8z"/>
<path fill="#001f17" stroke="#001f17" d="M1040 501.2l11.5-7.9 7.6-3-11.6 8z"/>
<path fill="#001e14" stroke="#001e14" d="M1059.1 490.3l11.6-8.2 7.6-3.3-11.6 8.4z"/>
<path fill="#001c0d" stroke="#001c0d" d="M1097.5 466.7l11.6-8.9 7.7-3.8-11.7 9.1z"/>
<path fill="#001b0a" stroke="#001b0a" d="M1116.8 454l11.6-9.4 7.7-3.9-11.7 9.4z"/>
<path fill="#001901" stroke="#001901" d="M1174.9 412.1l11.7-10.5 7.7-4.7-11.7 10.6z"/>
<path fill="#011a00" stroke="#011a00" d="M1194.3 396.9l11.8-10.9 7.8-4.9-11.8 11z"/>
<path fill="#112800" stroke="#112800" d="M1253.1 347.6l11.8-12.1 7.8-5.6-11.8 12.2z"/>
<path fill="#1c3200" stroke="#1c3200" d="M1272.7 329.9l11.9-12.5 7.9-5.8-11.9 12.6z"/>
<path fill="#002938" stroke="#002938" d="M485.5 541.5l11 2.3 7 5.2-11-2.2z"/>
<path fill="#006321" stroke="#006321" d="M269.8 405.4l10.9 5.7 7 8.9-10.9-5.6z"/>
<path fill="#00632b" stroke="#00632b" d="M287.7 420l11 5.4 7 8.6-11-5.4z"/>
<path fill="#006540" stroke="#006540" d="M323.6 447.4l11 4.9 7 7.9-11-4.8z"/>
<path fill="#006448" stroke="#006448" d="M341.6 460.2l11 4.6 7 7.7-11-4.5z"/>
<path fill="#00614e" stroke="#00614e" d="M359.6 472.5l10.9 4.3 7 7.3-10.9-4.2z"/>
<path fill="#005e53" stroke="#005e53" d="M377.5 484.1l11 4.1 7 7-11-4z"/>
<path fill="#005956" stroke="#005956" d="M395.5 495.2l11 3.7 7 6.7-11-3.6z"/>
<path fill="#005255" stroke="#005255" d="M413.5 505.6l11 3.5 7 6.4-11-3.4z"/>
<path fill="#003d49" stroke="#003d49" d="M449.5 524.8l11 2.8 7 5.8-11-2.7z"/>
<path fill="#003341" stroke="#003341" d="M467.5 533.4l11 2.6 7 5.5-11-2.5z"/>
<path fill="#001731" stroke="#001731" d="M630.4 584.4l11.1-0.2 7.2 2.8-11.1 0.4z"/>
<path fill="#001835" stroke="#001835" d="M648.7 587l11.1-0.5 7.1 2.6-11.1 0.6z"/>
<path fill="#00680c" stroke="#00680c" d="M233.8 374.5l11 6.2 7 9.5-11-6.2z"/>
<path fill="#006517" stroke="#006517" d="M251.8 390.2l10.9 6 7.1 9.2-11-5.9z"/>
<path fill="#006536" stroke="#006536" d="M305.7 434l10.9 5.2 7 8.2-10.9-5.1z"/>
<path fill="#00474f" stroke="#00474f" d="M431.5 515.5l10.9 3.2 7.1 6.1-11-3.1z"/>
<path fill="#002030" stroke="#002030" d="M503.5 549l11.1 1.9 7 4.9-11-1.8z"/>
<path fill="#001728" stroke="#001728" d="M539.7 562.1l11 1.4 7.1 4.3-11.1-1.3z"/>
<path fill="#001528" stroke="#001528" d="M575.9 572.8l11.1 0.8 7.1 3.7-11.1-0.6z"/>
<path fill="#00162d" stroke="#00162d" d="M612.2 581.2l11.1 0 7.1 3.2-11.1 0z"/>
<path fill="#001b3b" stroke="#001b3b" d="M666.9 589.1l11.2-0.9 7.1 2.3-11.1 1z"/>
<path fill="#00224c" stroke="#00224c" d="M703.5 591.3l11.2-1.5 7.2 1.7-11.2 1.7z"/>
<path fill="#002b5d" stroke="#002b5d" d="M740.3 591.1l11.2-2.2 7.2 1.2-11.2 2.3z"/>
<path fill="#002b45" stroke="#002b45" d="M851.4 575.9l11.3-4.3 7.3-0.4-11.3 4.3z"/>
<path fill="#00283c" stroke="#00283c" d="M870 571.2l11.4-4.6 7.3-0.7-11.3 4.7z"/>
<path fill="#001f25" stroke="#001f25" d="M926.3 553.4l11.4-5.7 7.4-1.5-11.4 5.8z"/>
<path fill="#001d21" stroke="#001d21" d="M945.1 546.2l11.4-6 7.5-1.7-11.4 6.1z"/>
<path fill="#001e1c" stroke="#001e1c" d="M1001.9 521.1l11.5-7.1 7.5-2.6-11.5 7.2z"/>
<path fill="#001f1a" stroke="#001f1a" d="M1020.9 511.4l11.5-7.4 7.6-2.8-11.6 7.6z"/>
<path fill="#001a07" stroke="#001a07" d="M1136.1 440.7l11.6-9.8 7.7-4.2-11.7 9.8z"/>
<path fill="#001a04" stroke="#001a04" d="M1155.4 426.7l11.7-10.1 7.8-4.5-11.8 10.2z"/>
<path fill="#041c00" stroke="#041c00" d="M1213.9 381.1l11.7-11.3 7.8-5.2-11.8 11.4z"/>
<path fill="#092000" stroke="#092000" d="M1233.4 364.6l11.8-11.7 7.9-5.3-11.9 11.8z"/>
<path fill="#283900" stroke="#283900" d="M1292.5 311.6l11.9-12.9 7.9-6.1-11.9 13z"/>
<path fill="#2f3800" stroke="#2f3800" d="M1312.3 292.6l11.9-13.3 7.9-6.2-11.9 13.4z"/>
<path fill="#00315e" stroke="#00315e" d="M795.7 586.3l11.2-3.3 7.3 0.4-11.3 3.3z"/>
<path fill="#001d11" stroke="#001d11" d="M1078.3 478.8l11.6-8.6 7.6-3.5-11.6 8.7z"/>
<path fill="#002e5d" stroke="#002e5d" d="M765.9 591.1l11.3-2.6 7.2 0.7-11.2 2.7z"/>
<path fill="#002c4d" stroke="#002c4d" d="M821.5 583.6l11.3-3.7 7.3 0-11.3 3.7z"/>
<path fill="#00202c" stroke="#00202c" d="M896.1 565l11.4-5.1 7.4-1.1-11.4 5.1z"/>
<path fill="#001a1b" stroke="#001a1b" d="M971.5 536.6l11.4-6.5 7.5-2.2-11.5 6.6z"/>
<path fill="#001b13" stroke="#001b13" d="M1047.5 498.3l11.6-8 7.6-3.1-11.6 8z"/>
<path fill="#00180a" stroke="#00180a" d="M1105.1 463.1l11.7-9.1 7.6-3.9-11.7 9.2z"/>
<path fill="#001600" stroke="#001600" d="M1182.6 407.5l11.7-10.6 7.8-4.8-11.8 10.7z"/>
<path fill="#122700" stroke="#122700" d="M1260.9 342.1l11.8-12.2 7.9-5.7-11.9 12.3z"/>
<path fill="#002c3b" stroke="#002c3b" d="M474.5 539l11 2.5 7 5.3-11-2.4z"/>
<path fill="#006226" stroke="#006226" d="M276.8 414.4l10.9 5.6 7 8.6-10.9-5.5z"/>
<path fill="#006444" stroke="#006444" d="M330.6 455.4l11 4.8 7 7.8-11-4.7z"/>
<path fill="#00624b" stroke="#00624b" d="M348.6 468l11 4.5 7 7.4-11-4.4z"/>
<path fill="#005f50" stroke="#005f50" d="M366.6 479.9l10.9 4.2 7 7.1-11-4.1z"/>
<path fill="#005a53" stroke="#005a53" d="M384.5 491.2l11 4 7 6.8-11-3.9z"/>
<path fill="#005655" stroke="#005655" d="M402.5 502l11 3.6 7 6.5-11-3.5z"/>
<path fill="#003743" stroke="#003743" d="M456.5 530.7l11 2.7 7 5.6-11-2.7z"/>
<path fill="#001c2b" stroke="#001c2b" d="M510.6 554l11 1.8 7.1 4.7-11.1-1.7z"/>
<path fill="#001827" stroke="#001827" d="M528.7 560.5l11 1.6 7 4.4-11-1.4z"/>
<path fill="#001625" stroke="#001625" d="M546.7 566.5l11.1 1.3 7.1 4.1-11.1-1.2z"/>
<path fill="#001526" stroke="#001526" d="M564.9 571.9l11 0.9 7.1 3.9-11.1-0.9z"/>
<path fill="#001427" stroke="#001427" d="M583 576.7l11.1 0.6 7.1 3.5-11.1-0.5z"/>
<path fill="#001429" stroke="#001429" d="M601.2 580.8l11 0.4 7.1 3.2-11.1-0.2z"/>
<path fill="#001630" stroke="#001630" d="M637.6 587.4l11.1-0.4 7.1 2.7-11.1 0.4z"/>
<path fill="#001a3b" stroke="#001a3b" d="M674.1 591.5l11.1-1 7.2 2.1-11.2 1.1z"/>
<path fill="#001e43" stroke="#001e43" d="M692.4 592.6l11.1-1.3 7.2 1.9-11.2 1.3z"/>
<path fill="#00224b" stroke="#00224b" d="M710.7 593.2l11.2-1.7 7.2 1.6-11.2 1.7z"/>
<path fill="#002654" stroke="#002654" d="M729.1 593.1l11.2-2 7.2 1.3-11.2 2.1z"/>
<path fill="#002b5a" stroke="#002b5a" d="M747.5 592.4l11.2-2.3 7.2 1-11.2 2.4z"/>
<path fill="#002a45" stroke="#002a45" d="M840.1 579.9l11.3-4 7.3-0.4-11.3 4.1z"/>
<path fill="#002434" stroke="#002434" d="M877.4 570.6l11.3-4.7 7.4-0.9-11.4 4.8z"/>
<path fill="#001d25" stroke="#001d25" d="M914.9 558.8l11.4-5.4 7.4-1.4-11.4 5.5z"/>
<path fill="#001a1d" stroke="#001a1d" d="M952.6 544.6l11.4-6.1 7.5-1.9-11.5 6.2z"/>
<path fill="#001b1a" stroke="#001b1a" d="M990.4 527.9l11.5-6.8 7.5-2.5-11.5 7z"/>
<path fill="#001b16" stroke="#001b16" d="M1028.4 508.8l11.6-7.6 7.5-2.9-11.5 7.7z"/>
<path fill="#001708" stroke="#001708" d="M1124.4 450.1l11.7-9.4 7.6-4.2-11.6 9.6z"/>
<path fill="#001602" stroke="#001602" d="M1163.1 422.3l11.8-10.2 7.7-4.6-11.8 10.4z"/>
<path fill="#021700" stroke="#021700" d="M1202.1 392.1l11.8-11 7.7-5.1-11.8 11.1z"/>
<path fill="#0a1f00" stroke="#0a1f00" d="M1241.2 359.4l11.9-11.8 7.8-5.5-11.9 11.9z"/>
<path fill="#1d2f00" stroke="#1d2f00" d="M1280.6 324.2l11.9-12.6 7.9-6-12 12.7z"/>
<path fill="#00631c" stroke="#00631c" d="M258.8 399.5l11 5.9 7 9-11-5.8z"/>
<path fill="#006511" stroke="#006511" d="M240.8 384l11 6.2 7 9.3-11-6.1z"/>
<path fill="#006330" stroke="#006330" d="M294.7 428.6l11 5.4 7 8.3-11-5.2z"/>
<path fill="#00643a" stroke="#00643a" d="M312.7 442.3l10.9 5.1 7 8-10.9-4.9z"/>
<path fill="#004b51" stroke="#004b51" d="M420.5 512.1l11 3.4 7 6.2-11-3.3z"/>
<path fill="#00414b" stroke="#00414b" d="M438.5 521.7l11 3.1 7 5.9-11-3z"/>
<path fill="#002332" stroke="#002332" d="M492.5 546.8l11 2.2 7.1 5-11-2.1z"/>
<path fill="#00152c" stroke="#00152c" d="M619.3 584.4l11.1 0 7.2 3-11.2 0.1z"/>
<path fill="#001835" stroke="#001835" d="M655.8 589.7l11.1-0.6 7.2 2.4-11.2 0.7z"/>
<path fill="#002f5b" stroke="#002f5b" d="M784.4 589.2l11.3-2.9 7.2 0.4-11.2 3.1z"/>
<path fill="#002e55" stroke="#002e55" d="M802.9 586.7l11.3-3.3 7.3 0.2-11.3 3.4z"/>
<path fill="#00273c" stroke="#00273c" d="M858.7 575.5l11.3-4.3 7.4-0.6-11.4 4.4z"/>
<path fill="#001b20" stroke="#001b20" d="M933.7 552l11.4-5.8 7.5-1.6-11.5 5.8z"/>
<path fill="#001b18" stroke="#001b18" d="M1009.4 518.6l11.5-7.2 7.5-2.6-11.5 7.3z"/>
<path fill="#001a10" stroke="#001a10" d="M1066.7 487.2l11.6-8.4 7.6-3.4-11.6 8.5z"/>
<path fill="#00190d" stroke="#00190d" d="M1085.9 475.4l11.6-8.7 7.6-3.6-11.6 8.8z"/>
<path fill="#001605" stroke="#001605" d="M1143.7 436.5l11.7-9.8 7.7-4.4-11.7 10z"/>
<path fill="#051a00" stroke="#051a00" d="M1221.6 376l11.8-11.4 7.8-5.2-11.8 11.5z"/>
<path fill="#273400" stroke="#273400" d="M1300.4 305.6l11.9-13 7.9-6.1-12 13.1z"/>
<path fill="#001625" stroke="#001625" d="M535.7 565.1l11 1.4 7.1 4.2-11.1-1.3z"/>
<path fill="#001325" stroke="#001325" d="M571.9 575.8l11.1 0.9 7.1 3.6-11.1-0.7z"/>
<path fill="#001e42" stroke="#001e42" d="M699.5 594.5l11.2-1.3 7.2 1.6-11.2 1.5z"/>
<path fill="#002652" stroke="#002652" d="M736.3 594.5l11.2-2.1 7.2 1.1-11.2 2.2z"/>
<path fill="#002956" stroke="#002956" d="M754.7 593.5l11.2-2.4 7.3 0.8-11.3 2.5z"/>
<path fill="#002844" stroke="#002844" d="M828.8 583.6l11.3-3.7 7.3-0.3-11.3 3.9z"/>
<path fill="#001f2c" stroke="#001f2c" d="M884.7 569.8l11.4-4.8 7.4-1.1-11.4 4.9z"/>
<path fill="#001c25" stroke="#001c25" d="M903.5 563.9l11.4-5.1 7.4-1.3-11.4 5.3z"/>
<path fill="#001719" stroke="#001719" d="M960 542.8l11.5-6.2 7.4-2.1-11.5 6.3z"/>
<path fill="#001817" stroke="#001817" d="M978.9 534.5l11.5-6.6 7.5-2.3-11.5 6.7z"/>
<path fill="#001712" stroke="#001712" d="M1036 506l11.5-7.7 7.6-3.1-11.6 7.8z"/>
<path fill="#001408" stroke="#001408" d="M1112.7 459.3l11.7-9.2 7.7-4-11.7 9.3z"/>
<path fill="#001301" stroke="#001301" d="M1170.8 417.9l11.8-10.4 7.7-4.7-11.8 10.5z"/>
<path fill="#001300" stroke="#001300" d="M1190.3 402.8l11.8-10.7 7.7-5-11.8 10.9z"/>
<path fill="#0b1d00" stroke="#0b1d00" d="M1249 354l11.9-11.9 7.8-5.6-11.9 12z"/>
<path fill="#132500" stroke="#132500" d="M1268.7 336.5l11.9-12.3 7.8-5.9-11.9 12.4z"/>
<path fill="#00303e" stroke="#00303e" d="M463.5 536.3l11 2.7 7 5.4-11-2.6z"/>
<path fill="#001f2d" stroke="#001f2d" d="M499.6 551.9l11 2.1 7 4.8-11-2z"/>
<path fill="#006247" stroke="#006247" d="M337.6 463.3l11 4.7 7 7.5-11-4.6z"/>
<path fill="#00604d" stroke="#00604d" d="M355.6 475.5l11 4.4 6.9 7.2-10.9-4.3z"/>
<path fill="#005c51" stroke="#005c51" d="M373.5 487.1l11 4.1 7 6.9-11-4z"/>
<path fill="#005754" stroke="#005754" d="M391.5 498.1l11 3.9 7 6.6-11-3.8z"/>
<path fill="#001328" stroke="#001328" d="M608.2 584.2l11.1 0.2 7.1 3.1-11.1-0.2z"/>
<path fill="#001734" stroke="#001734" d="M662.9 592.2l11.2-0.7 7.1 2.2-11.1 0.8z"/>
<path fill="#006121" stroke="#006121" d="M265.8 408.6l11 5.8 7 8.7-11-5.7z"/>
<path fill="#006317" stroke="#006317" d="M247.8 393.4l11 6.1 7 9.1-11-6z"/>
<path fill="#00612b" stroke="#00612b" d="M283.8 423.1l10.9 5.5 7 8.5-11-5.5z"/>
<path fill="#006235" stroke="#006235" d="M301.7 437.1l11 5.2 7 8.2-11-5.2z"/>
<path fill="#00633f" stroke="#00633f" d="M319.7 450.5l10.9 4.9 7 7.9-11-4.9z"/>
<path fill="#004f52" stroke="#004f52" d="M409.5 508.6l11 3.5 7 6.3-11-3.4z"/>
<path fill="#00454c" stroke="#00454c" d="M427.5 518.4l11 3.3 7 6-11-3.2z"/>
<path fill="#003b46" stroke="#003b46" d="M445.5 527.7l11 3 7 5.6-11-2.8z"/>
<path fill="#002735" stroke="#002735" d="M481.5 544.4l11 2.4 7.1 5.1-11.1-2.3z"/>
<path fill="#001928" stroke="#001928" d="M517.6 558.8l11.1 1.7 7 4.6-11.1-1.7z"/>
<path fill="#001424" stroke="#001424" d="M553.8 570.7l11.1 1.2 7 3.9-11.1-1z"/>
<path fill="#001326" stroke="#001326" d="M590.1 580.3l11.1 0.5 7 3.4-11.1-0.5z"/>
<path fill="#00142b" stroke="#00142b" d="M626.4 587.5l11.2-0.1 7.1 2.7-11.2 0.2z"/>
<path fill="#00152f" stroke="#00152f" d="M644.7 590.1l11.1-0.4 7.1 2.5-11.1 0.5z"/>
<path fill="#001a3a" stroke="#001a3a" d="M681.2 593.7l11.2-1.1 7.1 1.9-11.1 1.2z"/>
<path fill="#00224a" stroke="#00224a" d="M717.9 594.8l11.2-1.7 7.2 1.4-11.2 1.8z"/>
<path fill="#002b57" stroke="#002b57" d="M773.2 591.9l11.2-2.7 7.3 0.6-11.3 2.8z"/>
<path fill="#002b53" stroke="#002b53" d="M791.7 589.8l11.2-3.1 7.3 0.3-11.3 3.2z"/>
<path fill="#002a4c" stroke="#002a4c" d="M810.2 587l11.3-3.4 7.3 0-11.3 3.5z"/>
<path fill="#00253c" stroke="#00253c" d="M847.4 579.6l11.3-4.1 7.3-0.5-11.3 4.2z"/>
<path fill="#002234" stroke="#002234" d="M866 575l11.4-4.4 7.3-0.8-11.3 4.5z"/>
<path fill="#00191f" stroke="#00191f" d="M922.3 557.5l11.4-5.5 7.4-1.6-11.4 5.7z"/>
<path fill="#00181b" stroke="#00181b" d="M941.1 550.4l11.5-5.8 7.4-1.8-11.5 5.9z"/>
<path fill="#001716" stroke="#001716" d="M997.9 525.6l11.5-7 7.5-2.5-11.5 7z"/>
<path fill="#001714" stroke="#001714" d="M1016.9 516.1l11.5-7.3 7.6-2.8-11.6 7.4z"/>
<path fill="#00170f" stroke="#00170f" d="M1055.1 495.2l11.6-8 7.6-3.3-11.6 8.1z"/>
<path fill="#00160d" stroke="#00160d" d="M1074.3 483.9l11.6-8.5 7.6-3.5-11.7 8.5z"/>
<path fill="#00150a" stroke="#00150a" d="M1093.5 471.9l11.6-8.8 7.6-3.8-11.6 8.9z"/>
<path fill="#001306" stroke="#001306" d="M1132.1 446.1l11.6-9.6 7.7-4.2-11.7 9.7z"/>
<path fill="#001303" stroke="#001303" d="M1151.4 432.3l11.7-10 7.7-4.4-11.7 10z"/>
<path fill="#031400" stroke="#031400" d="M1209.8 387.1l11.8-11.1 7.8-5.1-11.8 11.2z"/>
<path fill="#061800" stroke="#061800" d="M1229.4 370.9l11.8-11.5 7.8-5.4-11.8 11.6z"/>
<path fill="#1d2c00" stroke="#1d2c00" d="M1288.4 318.3l12-12.7 7.8-6-11.9 12.8z"/>
<path fill="#00254e" stroke="#00254e" d="M743.5 595.7l11.2-2.2 7.2 0.9-11.2 2.3z"/>
<path fill="#002230" stroke="#002230" d="M488.5 549.6l11.1 2.3 7 4.9-11.1-2.2z"/>
<path fill="#006049" stroke="#006049" d="M344.6 470.9l11 4.6 7 7.3-11-4.5z"/>
<path fill="#005d4e" stroke="#005d4e" d="M362.6 482.8l10.9 4.3 7 7-11-4.2z"/>
<path fill="#005851" stroke="#005851" d="M380.5 494.1l11 4 7 6.7-11-3.9z"/>
<path fill="#003441" stroke="#003441" d="M452.5 533.5l11 2.8 7 5.5-11-2.7z"/>
<path fill="#001624" stroke="#001624" d="M524.6 563.4l11.1 1.7 7 4.3-11-1.6z"/>
<path fill="#001422" stroke="#001422" d="M542.7 569.4l11.1 1.3 7 4.1-11-1.3z"/>
<path fill="#001322" stroke="#001322" d="M560.8 574.8l11.1 1 7.1 3.8-11.1-1z"/>
<path fill="#001223" stroke="#001223" d="M579 579.6l11.1 0.7 7 3.4-11.1-0.6z"/>
<path fill="#001327" stroke="#001327" d="M615.3 587.3l11.1 0.2 7.1 2.8-11.1 0z"/>
<path fill="#00152e" stroke="#00152e" d="M651.8 592.7l11.1-0.5 7.2 2.3-11.2 0.6z"/>
<path fill="#001a3a" stroke="#001a3a" d="M688.4 595.7l11.1-1.2 7.2 1.8-11.2 1.3z"/>
<path fill="#001d41" stroke="#001d41" d="M706.7 596.3l11.2-1.5 7.2 1.5-11.2 1.6z"/>
<path fill="#002149" stroke="#002149" d="M725.1 596.3l11.2-1.8 7.2 1.2-11.3 1.9z"/>
<path fill="#002950" stroke="#002950" d="M780.4 592.6l11.3-2.8 7.2 0.4-11.3 2.9z"/>
<path fill="#00284a" stroke="#00284a" d="M798.9 590.2l11.3-3.2 7.3 0.1-11.3 3.3z"/>
<path fill="#00233b" stroke="#00233b" d="M836.1 583.5l11.3-3.9 7.3-0.4-11.3 3.9z"/>
<path fill="#002133" stroke="#002133" d="M854.7 579.2l11.3-4.2 7.4-0.7-11.4 4.3z"/>
<path fill="#001e2c" stroke="#001e2c" d="M873.4 574.3l11.3-4.5 7.4-1-11.4 4.7z"/>
<path fill="#001b25" stroke="#001b25" d="M892.1 568.8l11.4-4.9 7.4-1.1-11.4 5z"/>
<path fill="#00181f" stroke="#00181f" d="M910.9 562.8l11.4-5.3 7.4-1.4-11.5 5.3z"/>
<path fill="#00161a" stroke="#00161a" d="M929.7 556.1l11.4-5.7 7.4-1.7-11.4 5.7z"/>
<path fill="#001417" stroke="#001417" d="M948.5 548.7l11.5-5.9 7.4-2-11.4 6.1z"/>
<path fill="#001415" stroke="#001415" d="M967.4 540.8l11.5-6.3 7.5-2.2-11.5 6.4z"/>
<path fill="#001413" stroke="#001413" d="M986.4 532.3l11.5-6.7 7.5-2.5-11.5 6.8z"/>
<path fill="#001411" stroke="#001411" d="M1005.4 523.1l11.5-7 7.5-2.7-11.5 7.1z"/>
<path fill="#001310" stroke="#001310" d="M1024.4 513.4l11.6-7.4 7.5-3-11.6 7.5z"/>
<path fill="#00120c" stroke="#00120c" d="M1062.7 492l11.6-8.1 7.5-3.5-11.6 8.3z"/>
<path fill="#00110a" stroke="#00110a" d="M1081.8 480.4l11.7-8.5 7.6-3.7-11.7 8.7z"/>
<path fill="#001006" stroke="#001006" d="M1120.4 455.4l11.7-9.3 7.6-4.1-11.7 9.4z"/>
<path fill="#001004" stroke="#001004" d="M1139.7 442l11.7-9.7 7.7-4.4-11.7 9.8z"/>
<path fill="#000f02" stroke="#000f02" d="M1159.1 427.9l11.7-10 7.7-4.6-11.7 10.1z"/>
<path fill="#000f00" stroke="#000f00" d="M1178.5 413.3l11.8-10.5 7.7-4.8-11.7 10.5z"/>
<path fill="#011000" stroke="#011000" d="M1198 398l11.8-10.9 7.8-5-11.8 10.9z"/>
<path fill="#031200" stroke="#031200" d="M1217.6 382.1l11.8-11.2 7.8-5.3-11.8 11.3z"/>
<path fill="#061500" stroke="#061500" d="M1237.2 365.6l11.8-11.6 7.8-5.5-11.8 11.7z"/>
<path fill="#0c1b00" stroke="#0c1b00" d="M1256.8 348.5l11.9-12 7.8-5.8-11.8 12.1z"/>
<path fill="#142200" stroke="#142200" d="M1276.5 330.7l11.9-12.4 7.9-5.9-11.9 12.5z"/>
<path fill="#00611c" stroke="#00611c" d="M254.8 402.6l11 6 7 8.8-11-5.9z"/>
<path fill="#00612f" stroke="#00612f" d="M290.7 431.6l11 5.5 7 8.2-11-5.3z"/>
<path fill="#006239" stroke="#006239" d="M308.7 445.3l11 5.2 6.9 7.9-10.9-5.1z"/>
<path fill="#006242" stroke="#006242" d="M326.6 458.4l11 4.9 7 7.6-11-4.8z"/>
<path fill="#006025" stroke="#006025" d="M272.8 417.4l11 5.7 6.9 8.5-10.9-5.6z"/>
<path fill="#005353" stroke="#005353" d="M398.5 504.8l11 3.8 7 6.4-11-3.7z"/>
<path fill="#00494e" stroke="#00494e" d="M416.5 515l11 3.4 7 6.1-11-3.4z"/>
<path fill="#003f48" stroke="#003f48" d="M434.5 524.5l11 3.2 7 5.8-11.1-3.1z"/>
<path fill="#002b38" stroke="#002b38" d="M470.5 541.8l11 2.6 7 5.2-11-2.5z"/>
<path fill="#001b29" stroke="#001b29" d="M506.6 556.8l11 2 7 4.6-11-1.9z"/>
<path fill="#001225" stroke="#001225" d="M597.1 583.7l11.1 0.5 7.1 3.1-11.1-0.3z"/>
<path fill="#001733" stroke="#001733" d="M670.1 594.5l11.1-0.8 7.2 2-11.2 1z"/>
<path fill="#00132a" stroke="#00132a" d="M633.5 590.3l11.2-0.2 7.1 2.6-11.2 0.3z"/>
<path fill="#002851" stroke="#002851" d="M761.9 594.4l11.3-2.5 7.2 0.7-11.3 2.6z"/>
<path fill="#002643" stroke="#002643" d="M817.5 587.1l11.3-3.5 7.3-0.1-11.4 3.6z"/>
<path fill="#00130e" stroke="#00130e" d="M1043.5 503l11.6-7.8 7.6-3.2-11.6 7.9z"/>
<path fill="#001107" stroke="#001107" d="M1101.1 468.2l11.6-8.9 7.7-3.9-11.7 9z"/>
<path fill="#001221" stroke="#001221" d="M549.8 573.5l11 1.3 7.1 3.8-11.1-1.2z"/>
<path fill="#001d3f" stroke="#001d3f" d="M713.9 597.9l11.2-1.6 7.1 1.3-11.2 1.7z"/>
<path fill="#002146" stroke="#002146" d="M732.2 597.6l11.3-1.9 7.2 1-11.3 2z"/>
<path fill="#002547" stroke="#002547" d="M787.6 593.1l11.3-2.9 7.3 0.2-11.3 3z"/>
<path fill="#001f32" stroke="#001f32" d="M843.4 583.1l11.3-3.9 7.3-0.6-11.3 4.1z"/>
<path fill="#001c2b" stroke="#001c2b" d="M862 578.6l11.4-4.3 7.3-0.8-11.4 4.4z"/>
<path fill="#001418" stroke="#001418" d="M918.2 561.4l11.5-5.3 7.4-1.7-11.5 5.5z"/>
<path fill="#001215" stroke="#001215" d="M937.1 554.4l11.4-5.7 7.5-1.8-11.5 5.8z"/>
<path fill="#00100f" stroke="#00100f" d="M993.9 529.9l11.5-6.8 7.5-2.6-11.6 6.9z"/>
<path fill="#00100d" stroke="#00100d" d="M1012.9 520.5l11.5-7.1 7.5-2.9-11.5 7.3z"/>
<path fill="#000e08" stroke="#000e08" d="M1070.2 488.7l11.6-8.3 7.6-3.5-11.6 8.3z"/>
<path fill="#000c04" stroke="#000c04" d="M1128 451.4l11.7-9.4 7.7-4.3-11.7 9.5z"/>
<path fill="#000c02" stroke="#000c02" d="M1147.4 437.7l11.7-9.8 7.7-4.5-11.8 9.9z"/>
<path fill="#010d00" stroke="#010d00" d="M1205.8 393l11.8-10.9 7.8-5.2-11.9 11.1z"/>
<path fill="#030f00" stroke="#030f00" d="M1225.4 376.9l11.8-11.3 7.8-5.4-11.9 11.4z"/>
<path fill="#002533" stroke="#002533" d="M477.5 547.1l11 2.5 7 5-11-2.4z"/>
<path fill="#001825" stroke="#001825" d="M513.6 561.5l11 1.9 7.1 4.4-11.1-1.8z"/>
<path fill="#005d4b" stroke="#005d4b" d="M351.6 478.3l11 4.5 6.9 7.1-11-4.4z"/>
<path fill="#00594f" stroke="#00594f" d="M369.5 489.9l11 4.2 7 6.8-11-4.2z"/>
<path fill="#003843" stroke="#003843" d="M441.4 530.4l11.1 3.1 7 5.6-11.1-3z"/>
<path fill="#001122" stroke="#001122" d="M586 583.1l11.1 0.6 7.1 3.3-11.1-0.6z"/>
<path fill="#001732" stroke="#001732" d="M677.2 596.7l11.2-1 7.1 1.9-11.2 1z"/>
<path fill="#006034" stroke="#006034" d="M297.7 440l11 5.3 7 8-11-5.2z"/>
<path fill="#00613d" stroke="#00613d" d="M315.7 453.3l10.9 5.1 7 7.7-11-5z"/>
<path fill="#006045" stroke="#006045" d="M333.6 466.1l11 4.8 7 7.4-11-4.7z"/>
<path fill="#005f20" stroke="#005f20" d="M261.8 411.5l11 5.9 7 8.6-11-5.8z"/>
<path fill="#005f2a" stroke="#005f2a" d="M279.8 426l10.9 5.6 7 8.4-11-5.6z"/>
<path fill="#005551" stroke="#005551" d="M387.5 500.9l11 3.9 7 6.5-11-3.8z"/>
<path fill="#004d4f" stroke="#004d4f" d="M405.5 511.3l11 3.7 7 6.1-11.1-3.5z"/>
<path fill="#00424a" stroke="#00424a" d="M423.5 521.1l11 3.4 6.9 5.9-11-3.3z"/>
<path fill="#001d2b" stroke="#001d2b" d="M495.5 554.6l11.1 2.2 7 4.7-11.1-2.1z"/>
<path fill="#002e3b" stroke="#002e3b" d="M459.5 539.1l11 2.7 7 5.3-11.1-2.7z"/>
<path fill="#001422" stroke="#001422" d="M531.7 567.8l11 1.6 7.1 4.1-11.1-1.5z"/>
<path fill="#001221" stroke="#001221" d="M567.9 578.6l11.1 1 7 3.5-11.1-0.9z"/>
<path fill="#001124" stroke="#001124" d="M604.2 587l11.1 0.3 7.1 3-11.1-0.2z"/>
<path fill="#001226" stroke="#001226" d="M622.4 590.3l11.1 0 7.1 2.7-11.1 0.1z"/>
<path fill="#001329" stroke="#001329" d="M640.6 593l11.2-0.3 7.1 2.4-11.2 0.4z"/>
<path fill="#00142d" stroke="#00142d" d="M658.9 595.1l11.2-0.6 7.1 2.2-11.2 0.7z"/>
<path fill="#001939" stroke="#001939" d="M695.5 597.6l11.2-1.3 7.2 1.6-11.3 1.3z"/>
<path fill="#00244a" stroke="#00244a" d="M750.7 596.7l11.2-2.3 7.2 0.8-11.2 2.3z"/>
<path fill="#00254b" stroke="#00254b" d="M769.1 595.2l11.3-2.6 7.2 0.5-11.3 2.7z"/>
<path fill="#002441" stroke="#002441" d="M806.2 590.4l11.3-3.3 7.2 0-11.3 3.3z"/>
<path fill="#001924" stroke="#001924" d="M880.7 573.5l11.4-4.7 7.4-1-11.4 4.7z"/>
<path fill="#00161e" stroke="#00161e" d="M899.5 567.8l11.4-5 7.3-1.4-11.4 5.1z"/>
<path fill="#001112" stroke="#001112" d="M956 546.9l11.4-6.1 7.5-2.1-11.5 6.2z"/>
<path fill="#001111" stroke="#001111" d="M974.9 538.7l11.5-6.4 7.5-2.4-11.6 6.6z"/>
<path fill="#000f0a" stroke="#000f0a" d="M1051.1 499.9l11.6-7.9 7.5-3.3-11.6 8z"/>
<path fill="#000d07" stroke="#000d07" d="M1089.4 476.9l11.7-8.7 7.6-3.8-11.7 8.8z"/>
<path fill="#000c01" stroke="#000c01" d="M1166.8 423.4l11.7-10.1 7.8-4.8-11.8 10.3z"/>
<path fill="#000c00" stroke="#000c00" d="M1186.3 408.5l11.7-10.5 7.8-5-11.8 10.7z"/>
<path fill="#071300" stroke="#071300" d="M1245 360.2l11.8-11.7 7.9-5.7-11.9 11.9z"/>
<path fill="#0c1900" stroke="#0c1900" d="M1264.7 342.8l11.8-12.1 7.9-5.8-11.9 12.2z"/>
<path fill="#00223a" stroke="#00223a" d="M824.7 587.1l11.4-3.6 7.3-0.4-11.4 3.8z"/>
<path fill="#000f0c" stroke="#000f0c" d="M1031.9 510.5l11.6-7.5 7.6-3.1-11.6 7.6z"/>
<path fill="#000d05" stroke="#000d05" d="M1108.7 464.4l11.7-9 7.6-4-11.7 9.1z"/>
<path fill="#001c3d" stroke="#001c3d" d="M721 599.3l11.2-1.7 7.2 1.1-11.2 1.8z"/>
<path fill="#001a29" stroke="#001a29" d="M850.7 582.7l11.3-4.1 7.3-0.7-11.3 4.1z"/>
<path fill="#001013" stroke="#001013" d="M925.6 559.9l11.5-5.5 7.4-1.7-11.5 5.5z"/>
<path fill="#000c0b" stroke="#000c0b" d="M1001.3 527.4l11.6-6.9 7.5-2.7-11.6 7z"/>
<path fill="#000802" stroke="#000802" d="M1135.7 447.2l11.7-9.5 7.6-4.4-11.7 9.6z"/>
<path fill="#010a00" stroke="#010a00" d="M1213.5 388l11.9-11.1 7.7-5.3-11.8 11.2z"/>
<path fill="#001a27" stroke="#001a27" d="M502.5 559.4l11.1 2.1 7 4.5-11.1-2z"/>
<path fill="#005a4c" stroke="#005a4c" d="M358.5 485.5l11 4.4 7 6.8-11-4.3z"/>
<path fill="#003c45" stroke="#003c45" d="M430.4 527.1l11 3.3 7 5.7-11-3.2z"/>
<path fill="#002936" stroke="#002936" d="M466.4 544.4l11.1 2.7 7 5.1-11.1-2.6z"/>
<path fill="#001220" stroke="#001220" d="M538.7 572l11.1 1.5 7 3.9-11.1-1.4z"/>
<path fill="#00111f" stroke="#00111f" d="M556.8 577.4l11.1 1.2 7 3.6-11.1-1.1z"/>
<path fill="#001021" stroke="#001021" d="M593.1 586.4l11.1 0.6 7.1 3.1-11.2-0.5z"/>
<path fill="#001125" stroke="#001125" d="M629.5 593.1l11.1-0.1 7.1 2.5-11.1 0.2z"/>
<path fill="#00142c" stroke="#00142c" d="M666 597.4l11.2-0.7 7.1 1.9-11.2 0.8z"/>
<path fill="#001937" stroke="#001937" d="M702.6 599.2l11.3-1.3 7.1 1.4-11.2 1.4z"/>
<path fill="#002144" stroke="#002144" d="M757.9 597.5l11.2-2.3 7.2 0.6-11.2 2.4z"/>
<path fill="#002243" stroke="#002243" d="M776.3 595.8l11.3-2.7 7.3 0.3-11.3 2.8z"/>
<path fill="#00213e" stroke="#00213e" d="M794.9 593.4l11.3-3 7.2 0-11.3 3.2z"/>
<path fill="#001723" stroke="#001723" d="M869.3 577.9l11.4-4.4 7.4-1-11.4 4.5z"/>
<path fill="#001217" stroke="#001217" d="M906.8 566.5l11.4-5.1 7.4-1.5-11.4 5.2z"/>
<path fill="#000e10" stroke="#000e10" d="M944.5 552.7l11.5-5.8 7.4-2-11.5 5.9z"/>
<path fill="#000d0c" stroke="#000d0c" d="M982.3 536.5l11.6-6.6 7.4-2.5-11.5 6.7z"/>
<path fill="#000a07" stroke="#000a07" d="M1058.6 496.7l11.6-8 7.6-3.5-11.6 8.1z"/>
<path fill="#000a05" stroke="#000a05" d="M1077.8 485.2l11.6-8.3 7.6-3.7-11.6 8.4z"/>
<path fill="#000801" stroke="#000801" d="M1155 433.3l11.8-9.9 7.7-4.6-11.8 10z"/>
<path fill="#000900" stroke="#000900" d="M1194 403.7l11.8-10.7 7.7-5-11.8 10.7z"/>
<path fill="#030d00" stroke="#030d00" d="M1233.1 371.6l11.9-11.4 7.8-5.5-11.9 11.5z"/>
<path fill="#006038" stroke="#006038" d="M304.7 448.1l11 5.2 6.9 7.8-11-5.1z"/>
<path fill="#006041" stroke="#006041" d="M322.6 461.1l11 5 7 7.5-11-4.9z"/>
<path fill="#005e48" stroke="#005e48" d="M340.6 473.6l11 4.7 6.9 7.2-11-4.6z"/>
<path fill="#005e25" stroke="#005e25" d="M268.8 420.2l11 5.8 6.9 8.4-11-5.6z"/>
<path fill="#005f2e" stroke="#005f2e" d="M286.7 434.4l11 5.6 7 8.1-11-5.5z"/>
<path fill="#00564f" stroke="#00564f" d="M376.5 496.7l11 4.2 7 6.6-11.1-4.1z"/>
<path fill="#005150" stroke="#005150" d="M394.5 507.5l11 3.8 6.9 6.3-11-3.8z"/>
<path fill="#00464b" stroke="#00464b" d="M412.4 517.6l11.1 3.5 6.9 6-11-3.4z"/>
<path fill="#00202e" stroke="#00202e" d="M484.5 552.2l11 2.4 7 4.8-11-2.3z"/>
<path fill="#001522" stroke="#001522" d="M520.6 566l11.1 1.8 7 4.2-11.1-1.7z"/>
<path fill="#00323e" stroke="#00323e" d="M448.4 536.1l11.1 3 6.9 5.3-11-2.8z"/>
<path fill="#001120" stroke="#001120" d="M574.9 582.2l11.1 0.9 7.1 3.3-11.1-0.7z"/>
<path fill="#001631" stroke="#001631" d="M684.3 598.6l11.2-1 7.1 1.6-11.2 1.2z"/>
<path fill="#001123" stroke="#001123" d="M611.3 590.1l11.1 0.2 7.1 2.8-11.2-0.1z"/>
<path fill="#001228" stroke="#001228" d="M647.7 595.5l11.2-0.4 7.1 2.3-11.2 0.5z"/>
<path fill="#001f42" stroke="#001f42" d="M739.4 598.7l11.3-2 7.2 0.8-11.3 2.2z"/>
<path fill="#001f38" stroke="#001f38" d="M813.4 590.4l11.3-3.3 7.3-0.2-11.3 3.4z"/>
<path fill="#001d30" stroke="#001d30" d="M832 586.9l11.4-3.8 7.3-0.4-11.4 3.8z"/>
<path fill="#00141c" stroke="#00141c" d="M888.1 572.5l11.4-4.7 7.3-1.3-11.4 4.8z"/>
<path fill="#000d0e" stroke="#000d0e" d="M963.4 544.9l11.5-6.2 7.4-2.2-11.5 6.2z"/>
<path fill="#000c0a" stroke="#000c0a" d="M1020.4 517.8l11.5-7.3 7.6-3-11.6 7.4z"/>
<path fill="#000b08" stroke="#000b08" d="M1039.5 507.5l11.6-7.6 7.5-3.2-11.6 7.7z"/>
<path fill="#000904" stroke="#000904" d="M1097 473.2l11.7-8.8 7.6-3.9-11.7 8.8z"/>
<path fill="#000903" stroke="#000903" d="M1116.3 460.5l11.7-9.1 7.7-4.2-11.8 9.2z"/>
<path fill="#000900" stroke="#000900" d="M1174.5 418.8l11.8-10.3 7.7-4.8-11.8 10.3z"/>
<path fill="#071000" stroke="#071000" d="M1252.8 354.7l11.9-11.9 7.8-5.7-11.9 11.9z"/>
<path fill="#001835" stroke="#001835" d="M709.8 600.7l11.2-1.4 7.2 1.2-11.3 1.5z"/>
<path fill="#001f3d" stroke="#001f3d" d="M765.1 598.2l11.2-2.4 7.3 0.4-11.3 2.5z"/>
<path fill="#001521" stroke="#001521" d="M858 582l11.3-4.1 7.4-0.9-11.4 4.2z"/>
<path fill="#000d11" stroke="#000d11" d="M914.2 565.1l11.4-5.2 7.4-1.7-11.4 5.3z"/>
<path fill="#000b0d" stroke="#000b0d" d="M933 558.2l11.5-5.5 7.4-1.9-11.5 5.6z"/>
<path fill="#000908" stroke="#000908" d="M989.8 534.1l11.5-6.7 7.5-2.6-11.5 6.7z"/>
<path fill="#000501" stroke="#000501" d="M1143.3 442.9l11.7-9.6 7.7-4.5-11.7 9.7z"/>
<path fill="#000600" stroke="#000600" d="M1201.7 398.7l11.8-10.7 7.8-5.2-11.9 10.8z"/>
<path fill="#010700" stroke="#010700" d="M1221.3 382.8l11.8-11.2 7.8-5.4-11.9 11.3z"/>
<path fill="#001c29" stroke="#001c29" d="M491.5 557.1l11 2.3 7 4.6-11-2.2z"/>
<path fill="#00131f" stroke="#00131f" d="M527.6 570.3l11.1 1.7 7 4-11.1-1.6z"/>
<path fill="#004047" stroke="#004047" d="M419.4 523.7l11 3.4 7 5.8-11-3.4z"/>
<path fill="#002d39" stroke="#002d39" d="M455.4 541.6l11 2.8 7 5.2-11-2.7z"/>
<path fill="#00101e" stroke="#00101e" d="M563.8 581.1l11.1 1.1 7.1 3.5-11.1-1z"/>
<path fill="#001530" stroke="#001530" d="M691.4 600.4l11.2-1.2 7.2 1.5-11.2 1.3z"/>
<path fill="#005f3c" stroke="#005f3c" d="M311.6 456l11 5.1 7 7.6-11-5.1z"/>
<path fill="#005e43" stroke="#005e43" d="M329.6 468.7l11 4.9 6.9 7.3-11-4.8z"/>
<path fill="#005b49" stroke="#005b49" d="M347.5 480.9l11 4.6 7 6.9-11-4.5z"/>
<path fill="#005d29" stroke="#005d29" d="M275.7 428.8l11 5.6 7 8.2-11-5.6z"/>
<path fill="#005e32" stroke="#005e32" d="M293.7 442.6l11 5.5 6.9 7.9-11-5.4z"/>
<path fill="#00574d" stroke="#00574d" d="M365.5 492.4l11 4.3 6.9 6.7-11-4.2z"/>
<path fill="#00524e" stroke="#00524e" d="M383.4 503.4l11.1 4.1 6.9 6.3-11-3.9z"/>
<path fill="#004b4d" stroke="#004b4d" d="M401.4 513.8l11 3.8 7 6.1-11-3.7z"/>
<path fill="#001723" stroke="#001723" d="M509.5 564l11.1 2 7 4.3-11.1-1.9z"/>
<path fill="#003640" stroke="#003640" d="M437.4 532.9l11 3.2 7 5.5-11-3.1z"/>
<path fill="#002431" stroke="#002431" d="M473.4 549.6l11.1 2.6 7 4.9-11.1-2.5z"/>
<path fill="#00111e" stroke="#00111e" d="M545.7 576l11.1 1.4 7 3.7-11.1-1.2z"/>
<path fill="#00101f" stroke="#00101f" d="M582 585.7l11.1 0.7 7 3.2-11.1-0.7z"/>
<path fill="#001020" stroke="#001020" d="M600.1 589.6l11.2 0.5 7 2.9-11.1-0.4z"/>
<path fill="#001021" stroke="#001021" d="M618.3 593l11.2 0.1 7.1 2.6-11.2 0z"/>
<path fill="#001023" stroke="#001023" d="M636.6 595.7l11.1-0.2 7.1 2.4-11.1 0.2z"/>
<path fill="#001127" stroke="#001127" d="M654.8 597.9l11.2-0.5 7.1 2-11.2 0.6z"/>
<path fill="#00132b" stroke="#00132b" d="M673.1 599.4l11.2-0.8 7.1 1.8-11.2 0.9z"/>
<path fill="#001b3a" stroke="#001b3a" d="M728.2 600.5l11.2-1.8 7.2 1-11.2 1.8z"/>
<path fill="#001d3d" stroke="#001d3d" d="M746.6 599.7l11.3-2.2 7.2 0.7-11.3 2.2z"/>
<path fill="#001e3a" stroke="#001e3a" d="M783.6 596.2l11.3-2.8 7.2 0.2-11.3 2.8z"/>
<path fill="#001d35" stroke="#001d35" d="M802.1 593.6l11.3-3.2 7.3-0.1-11.4 3.2z"/>
<path fill="#001b2e" stroke="#001b2e" d="M820.7 590.3l11.3-3.4 7.3-0.4-11.4 3.5z"/>
<path fill="#001827" stroke="#001827" d="M839.3 586.5l11.4-3.8 7.3-0.7-11.4 3.9z"/>
<path fill="#00121b" stroke="#00121b" d="M876.7 577l11.4-4.5 7.3-1.2-11.4 4.6z"/>
<path fill="#001015" stroke="#001015" d="M895.4 571.3l11.4-4.8 7.4-1.4-11.5 4.9z"/>
<path fill="#000a0b" stroke="#000a0b" d="M951.9 550.8l11.5-5.9 7.4-2.2-11.5 6z"/>
<path fill="#00090a" stroke="#00090a" d="M970.8 542.7l11.5-6.2 7.5-2.4-11.5 6.3z"/>
<path fill="#000807" stroke="#000807" d="M1008.8 524.8l11.6-7 7.5-2.9-11.6 7.1z"/>
<path fill="#000706" stroke="#000706" d="M1027.9 514.9l11.6-7.4 7.5-3.1-11.6 7.5z"/>
<path fill="#000705" stroke="#000705" d="M1047 504.4l11.6-7.7 7.6-3.4-11.7 7.9z"/>
<path fill="#000604" stroke="#000604" d="M1066.2 493.3l11.6-8.1 7.6-3.6-11.7 8.2z"/>
<path fill="#000603" stroke="#000603" d="M1085.4 481.6l11.6-8.4 7.6-3.9-11.7 8.6z"/>
<path fill="#000502" stroke="#000502" d="M1104.6 469.3l11.7-8.8 7.6-4.1-11.7 9z"/>
<path fill="#000501" stroke="#000501" d="M1123.9 456.4l11.8-9.2 7.6-4.3-11.7 9.3z"/>
<path fill="#000500" stroke="#000500" d="M1162.7 428.8l11.8-10 7.7-4.8-11.8 10.1z"/>
<path fill="#000500" stroke="#000500" d="M1182.2 414l11.8-10.3 7.7-5-11.8 10.5z"/>
<path fill="#030a00" stroke="#030a00" d="M1240.9 366.2l11.9-11.5 7.8-5.7-11.9 11.7z"/>
<path fill="#00152d" stroke="#00152d" d="M698.6 602l11.2-1.3 7.1 1.3-11.2 1.4z"/>
<path fill="#001420" stroke="#001420" d="M516.5 568.4l11.1 1.9 7 4.1-11.1-1.8z"/>
<path fill="#005d3f" stroke="#005d3f" d="M318.6 463.6l11 5.1 6.9 7.4-11-5z"/>
<path fill="#005b45" stroke="#005b45" d="M336.5 476.1l11 4.8 7 7-11.1-4.7z"/>
<path fill="#004448" stroke="#004448" d="M408.4 520l11 3.7 7 5.8-11.1-3.5z"/>
<path fill="#00303b" stroke="#00303b" d="M444.4 538.5l11 3.1 7 5.3-11.1-3z"/>
<path fill="#001f2b" stroke="#001f2b" d="M480.4 554.6l11.1 2.5 7 4.7-11.1-2.4z"/>
<path fill="#000f1d" stroke="#000f1d" d="M570.9 584.7l11.1 1 7 3.2-11.1-0.8z"/>
<path fill="#000f1e" stroke="#000f1e" d="M607.2 592.6l11.1 0.4 7.1 2.7-11.1-0.3z"/>
<path fill="#001022" stroke="#001022" d="M643.7 598.1l11.1-0.2 7.1 2.1-11.2 0.4z"/>
<path fill="#001329" stroke="#001329" d="M680.2 601.3l11.2-0.9 7.2 1.6-11.2 1z"/>
<path fill="#001935" stroke="#001935" d="M735.4 601.5l11.2-1.8 7.2 0.7-11.3 2z"/>
<path fill="#001b37" stroke="#001b37" d="M753.8 600.4l11.3-2.2 7.2 0.5-11.3 2.3z"/>
<path fill="#001b35" stroke="#001b35" d="M772.3 598.7l11.3-2.5 7.2 0.2-11.3 2.7z"/>
<path fill="#00182b" stroke="#00182b" d="M809.3 593.5l11.4-3.2 7.2-0.3-11.3 3.4z"/>
<path fill="#001624" stroke="#001624" d="M827.9 590l11.4-3.5 7.3-0.6-11.4 3.7z"/>
<path fill="#001018" stroke="#001018" d="M865.3 581.2l11.4-4.2 7.3-1.1-11.4 4.4z"/>
<path fill="#000e13" stroke="#000e13" d="M884 575.9l11.4-4.6 7.3-1.3-11.4 4.7z"/>
<path fill="#000b0f" stroke="#000b0f" d="M902.7 570l11.5-4.9 7.4-1.6-11.5 5.1z"/>
<path fill="#00090b" stroke="#00090b" d="M921.6 563.5l11.4-5.3 7.4-1.8-11.5 5.4z"/>
<path fill="#000709" stroke="#000709" d="M940.4 556.4l11.5-5.6 7.4-2.1-11.5 5.8z"/>
<path fill="#000607" stroke="#000607" d="M959.3 548.7l11.5-6 7.5-2.3-11.6 6.1z"/>
<path fill="#000505" stroke="#000505" d="M978.3 540.4l11.5-6.3 7.5-2.6-11.6 6.5z"/>
<path fill="#000403" stroke="#000403" d="M1016.3 522l11.6-7.1 7.5-3-11.6 7.2z"/>
<path fill="#000302" stroke="#000302" d="M1035.4 511.9l11.6-7.5 7.5-3.2-11.6 7.5z"/>
<path fill="#000201" stroke="#000201" d="M1092.9 477.9l11.7-8.6 7.6-3.9-11.7 8.6z"/>
<path fill="#000100" stroke="#000100" d="M1112.2 465.4l11.7-9 7.7-4.2-11.8 9.1z"/>
<path fill="#000200" stroke="#000200" d="M1151 438.5l11.7-9.7 7.7-4.7-11.8 9.8z"/>
<path fill="#000200" stroke="#000200" d="M1170.4 424.1l11.8-10.1 7.7-4.8-11.8 10.2z"/>
<path fill="#000200" stroke="#000200" d="M1189.9 409.2l11.8-10.5 7.7-5.1-11.8 10.6z"/>
<path fill="#000300" stroke="#000300" d="M1209.4 393.6l11.9-10.8 7.7-5.3-11.8 10.9z"/>
<path fill="#010500" stroke="#010500" d="M1229 377.5l11.9-11.3 7.8-5.5-11.9 11.3z"/>
<path fill="#005c2d" stroke="#005c2d" d="M282.7 437l11 5.6 6.9 8-11-5.5z"/>
<path fill="#005d36" stroke="#005d36" d="M300.6 450.6l11 5.4 7 7.6-11-5.2z"/>
<path fill="#00534c" stroke="#00534c" d="M372.4 499.2l11 4.2 7 6.5-11-4.1z"/>
<path fill="#004e4d" stroke="#004e4d" d="M390.4 509.9l11 3.9 7 6.2-11.1-3.8z"/>
<path fill="#001925" stroke="#001925" d="M498.5 561.8l11 2.2 7 4.4-11.1-2.1z"/>
<path fill="#00111d" stroke="#00111d" d="M534.6 574.4l11.1 1.6 7 3.9-11.1-1.5z"/>
<path fill="#00584a" stroke="#00584a" d="M354.5 487.9l11 4.5 6.9 6.8-11-4.4z"/>
<path fill="#003a42" stroke="#003a42" d="M426.4 529.5l11 3.4 7 5.6-11.1-3.3z"/>
<path fill="#002733" stroke="#002733" d="M462.4 546.9l11 2.7 7 5-11.1-2.7z"/>
<path fill="#00101c" stroke="#00101c" d="M552.7 579.9l11.1 1.2 7.1 3.6-11.2-1.2z"/>
<path fill="#000f1d" stroke="#000f1d" d="M589 588.9l11.1 0.7 7.1 3-11.1-0.6z"/>
<path fill="#000f20" stroke="#000f20" d="M625.4 595.7l11.2 0 7.1 2.4-11.2 0.1z"/>
<path fill="#001125" stroke="#001125" d="M661.9 600l11.2-0.6 7.1 1.9-11.2 0.7z"/>
<path fill="#001732" stroke="#001732" d="M716.9 602l11.3-1.5 7.2 1-11.3 1.7z"/>
<path fill="#001a31" stroke="#001a31" d="M790.8 596.4l11.3-2.8 7.2-0.1-11.3 3z"/>
<path fill="#00131e" stroke="#00131e" d="M846.6 585.9l11.4-3.9 7.3-0.8-11.4 4z"/>
<path fill="#000504" stroke="#000504" d="M997.3 531.5l11.5-6.7 7.5-2.8-11.6 6.8z"/>
<path fill="#000202" stroke="#000202" d="M1054.5 501.2l11.7-7.9 7.5-3.5-11.6 8z"/>
<path fill="#000201" stroke="#000201" d="M1073.7 489.8l11.7-8.2 7.5-3.7-11.6 8.3z"/>
<path fill="#000100" stroke="#000100" d="M1131.6 452.2l11.7-9.3 7.7-4.4-11.8 9.4z"/>
<path fill="#001227" stroke="#001227" d="M687.4 603l11.2-1 7.1 1.4-11.2 1.1z"/>
<path fill="#001730" stroke="#001730" d="M742.5 602.4l11.3-2 7.2 0.6-11.3 2.1z"/>
<path fill="#001321" stroke="#001321" d="M816.6 593.4l11.3-3.4 7.3-0.4-11.4 3.4z"/>
<path fill="#000b10" stroke="#000b10" d="M872.6 580.3l11.4-4.4 7.3-1.2-11.4 4.5z"/>
<path fill="#00090c" stroke="#00090c" d="M891.3 574.7l11.4-4.7 7.4-1.4-11.5 4.8z"/>
<path fill="#000404" stroke="#000404" d="M947.8 554.5l11.5-5.8 7.4-2.2-11.5 5.9z"/>
<path fill="#000203" stroke="#000203" d="M966.7 546.5l11.6-6.1 7.4-2.4-11.5 6.2z"/>
<path fill="#000000" stroke="#000000" d="M1023.8 519.1l11.6-7.2 7.5-3.2-11.6 7.3z"/>
<path fill="#000000" stroke="#000000" d="M1100.5 474l11.7-8.6 7.6-4.1-11.7 8.7z"/>
<path fill="#000000" stroke="#000000" d="M1158.6 433.9l11.8-9.8 7.7-4.7-11.8 9.9z"/>
<path fill="#000000" stroke="#000000" d="M1178.1 419.4l11.8-10.2 7.7-5-11.8 10.3z"/>
<path fill="#001521" stroke="#001521" d="M505.4 566.3l11.1 2.1 7 4.2-11.1-2z"/>
<path fill="#005b41" stroke="#005b41" d="M325.5 471.1l11 5 6.9 7.1-11-4.8z"/>
<path fill="#00484a" stroke="#00484a" d="M397.3 516.2l11.1 3.8 6.9 6-11-3.8z"/>
<path fill="#00343d" stroke="#00343d" d="M433.3 535.2l11.1 3.3 6.9 5.4-11-3.2z"/>
<path fill="#00222e" stroke="#00222e" d="M469.3 551.9l11.1 2.7 7 4.8-11.1-2.6z"/>
<path fill="#005c31" stroke="#005c31" d="M289.6 445.1l11 5.5 7 7.8-11.1-5.4z"/>
<path fill="#005c3a" stroke="#005c3a" d="M307.6 458.4l11 5.2 6.9 7.5-11-5.1z"/>
<path fill="#00504c" stroke="#00504c" d="M379.4 505.8l11 4.1 6.9 6.3-11-4.1z"/>
<path fill="#00121d" stroke="#00121d" d="M523.5 572.6l11.1 1.8 7 4-11.1-1.7z"/>
<path fill="#00101b" stroke="#00101b" d="M541.6 578.4l11.1 1.5 7 3.6-11.1-1.4z"/>
<path fill="#005947" stroke="#005947" d="M343.4 483.2l11.1 4.7 6.9 6.9-11-4.6z"/>
<path fill="#00554a" stroke="#00554a" d="M361.4 494.8l11 4.4 7 6.6-11.1-4.3z"/>
<path fill="#003e44" stroke="#003e44" d="M415.3 526l11.1 3.5 6.9 5.7-11-3.5z"/>
<path fill="#002b36" stroke="#002b36" d="M451.3 543.9l11.1 3 6.9 5-11-2.9z"/>
<path fill="#001b27" stroke="#001b27" d="M487.4 559.4l11.1 2.4 6.9 4.5-11.1-2.3z"/>
<path fill="#000f1b" stroke="#000f1b" d="M559.7 583.5l11.2 1.2 7 3.4-11.2-1.1z"/>
<path fill="#000e1b" stroke="#000e1b" d="M577.9 588.1l11.1 0.8 7.1 3.1-11.2-0.8z"/>
<path fill="#000e1c" stroke="#000e1c" d="M596.1 592l11.1 0.6 7.1 2.8-11.2-0.5z"/>
<path fill="#000e1d" stroke="#000e1d" d="M614.3 595.4l11.1 0.3 7.1 2.5-11.2-0.2z"/>
<path fill="#000e1e" stroke="#000e1e" d="M632.5 598.2l11.2-0.1 7 2.3-11.1 0.1z"/>
<path fill="#000f20" stroke="#000f20" d="M650.7 600.4l11.2-0.4 7.1 2-11.2 0.4z"/>
<path fill="#001023" stroke="#001023" d="M669 602l11.2-0.7 7.2 1.7-11.3 0.7z"/>
<path fill="#00162e" stroke="#00162e" d="M724.1 603.2l11.3-1.7 7.1 0.9-11.3 1.8z"/>
<path fill="#00182f" stroke="#00182f" d="M761 601l11.3-2.3 7.2 0.4-11.3 2.4z"/>
<path fill="#00172c" stroke="#00172c" d="M779.5 599.1l11.3-2.7 7.2 0.1-11.3 2.8z"/>
<path fill="#001527" stroke="#001527" d="M798 596.5l11.3-3 7.3-0.1-11.4 3z"/>
<path fill="#00101b" stroke="#00101b" d="M835.2 589.6l11.4-3.7 7.3-0.7-11.4 3.8z"/>
<path fill="#000708" stroke="#000708" d="M910.1 568.6l11.5-5.1 7.3-1.7-11.4 5.2z"/>
<path fill="#000506" stroke="#000506" d="M928.9 561.8l11.5-5.4 7.4-1.9-11.5 5.5z"/>
<path fill="#000100" stroke="#000100" d="M1004.7 528.8l11.6-6.8 7.5-2.9-11.6 6.9z"/>
<path fill="#000000" stroke="#000000" d="M1042.9 508.7l11.6-7.5 7.6-3.4-11.7 7.6z"/>
<path fill="#000000" stroke="#000000" d="M1081.3 486.2l11.6-8.3 7.6-3.9-11.7 8.4z"/>
<path fill="#000000" stroke="#000000" d="M1119.8 461.3l11.8-9.1 7.6-4.3-11.7 9.2z"/>
<path fill="#000000" stroke="#000000" d="M1197.6 404.2l11.8-10.6 7.8-5.2-11.9 10.7z"/>
<path fill="#000000" stroke="#000000" d="M1217.2 388.4l11.8-10.9 7.8-5.5-11.9 11.1z"/>
<path fill="#00142a" stroke="#00142a" d="M705.7 603.4l11.2-1.4 7.2 1.2-11.3 1.4z"/>
<path fill="#000e15" stroke="#000e15" d="M853.9 585.2l11.4-4 7.3-0.9-11.4 4.1z"/>
<path fill="#000101" stroke="#000101" d="M985.7 538l11.6-6.5 7.4-2.7-11.5 6.6z"/>
<path fill="#000000" stroke="#000000" d="M1062.1 497.8l11.6-8 7.6-3.6-11.7 8z"/>
<path fill="#000000" stroke="#000000" d="M1139.2 447.9l11.8-9.4 7.6-4.6-11.7 9.6z"/>
<path fill="#000609" stroke="#000609" d="M879.9 579.2l11.4-4.5 7.3-1.3-11.4 4.5z"/>
<path fill="#000000" stroke="#000000" d="M955.2 552.4l11.5-5.9 7.5-2.3-11.6 5.9z"/>
<path fill="#000000" stroke="#000000" d="M1166.3 429.3l11.8-9.9 7.7-4.9-11.8 10z"/>
<path fill="#004b4a" stroke="#004b4a" d="M386.3 512.1l11 4.1 7 6-11.1-3.9z"/>
<path fill="#00383f" stroke="#00383f" d="M422.3 531.7l11 3.5 7 5.5-11.1-3.4z"/>
<path fill="#002631" stroke="#002631" d="M458.3 549l11 2.9 7 4.9-11.1-2.8z"/>
<path fill="#001723" stroke="#001723" d="M494.3 564l11.1 2.3 7 4.3-11.1-2.2z"/>
<path fill="#000d1a" stroke="#000d1a" d="M584.9 591.2l11.2 0.8 7 2.9-11.2-0.7z"/>
<path fill="#000d1b" stroke="#000d1b" d="M621.3 598l11.2 0.2 7.1 2.3-11.2-0.1z"/>
<path fill="#000e1e" stroke="#000e1e" d="M657.8 602.4l11.2-0.4 7.1 1.7-11.2 0.6z"/>
<path fill="#000f21" stroke="#000f21" d="M676.1 603.7l11.3-0.7 7.1 1.5-11.3 0.8z"/>
<path fill="#001329" stroke="#001329" d="M731.2 604.2l11.3-1.8 7.2 0.7-11.3 1.9z"/>
<path fill="#001429" stroke="#001429" d="M749.7 603.1l11.3-2.1 7.2 0.5-11.3 2.2z"/>
<path fill="#001222" stroke="#001222" d="M786.7 599.3l11.3-2.8 7.2-0.1-11.3 2.9z"/>
<path fill="#00101d" stroke="#00101d" d="M805.2 596.4l11.4-3 7.2-0.4-11.3 3.2z"/>
<path fill="#000e17" stroke="#000e17" d="M823.8 593l11.4-3.4 7.3-0.6-11.4 3.5z"/>
<path fill="#000406" stroke="#000406" d="M898.6 573.4l11.5-4.8 7.4-1.6-11.5 4.9z"/>
<path fill="#000101" stroke="#000101" d="M936.3 560l11.5-5.5 7.4-2.1-11.5 5.6z"/>
<path fill="#000000" stroke="#000000" d="M1012.2 526l11.6-6.9 7.5-3.1-11.6 7z"/>
<path fill="#000000" stroke="#000000" d="M1031.3 516l11.6-7.3 7.5-3.3-11.6 7.4z"/>
<path fill="#000000" stroke="#000000" d="M1088.8 482.4l11.7-8.4 7.6-4-11.7 8.5z"/>
<path fill="#000000" stroke="#000000" d="M1108.1 470l11.7-8.7 7.7-4.2-11.8 8.8z"/>
<path fill="#000000" stroke="#000000" d="M1185.8 414.5l11.8-10.3 7.7-5.1-11.8 10.4z"/>
<path fill="#005b34" stroke="#005b34" d="M296.5 453l11.1 5.4 6.9 7.6-11.1-5.3z"/>
<path fill="#005b3d" stroke="#005b3d" d="M314.5 466l11 5.1 6.9 7.3-11-5.1z"/>
<path fill="#00131e" stroke="#00131e" d="M512.4 570.6l11.1 2 7 4.1-11.1-2z"/>
<path fill="#00101b" stroke="#00101b" d="M530.5 576.7l11.1 1.7 7 3.7-11.1-1.6z"/>
<path fill="#000e19" stroke="#000e19" d="M548.6 582.1l11.1 1.4 7 3.5-11.1-1.4z"/>
<path fill="#005943" stroke="#005943" d="M332.4 478.4l11 4.8 7 7-11.1-4.8z"/>
<path fill="#005547" stroke="#005547" d="M350.4 490.2l11 4.6 6.9 6.7-11-4.5z"/>
<path fill="#00514a" stroke="#00514a" d="M368.3 501.5l11.1 4.3 6.9 6.3-11-4.2z"/>
<path fill="#004245" stroke="#004245" d="M404.3 522.2l11 3.8 7 5.7-11.1-3.6z"/>
<path fill="#002e38" stroke="#002e38" d="M440.3 540.7l11 3.2 7 5.1-11.1-3z"/>
<path fill="#001e29" stroke="#001e29" d="M476.3 556.8l11.1 2.6 6.9 4.6-11-2.5z"/>
<path fill="#001227" stroke="#001227" d="M712.8 604.6l11.3-1.4 7.1 1-11.2 1.5z"/>
<path fill="#000e19" stroke="#000e19" d="M566.7 587l11.2 1.1 7 3.1-11.1-1z"/>
<path fill="#000d1a" stroke="#000d1a" d="M603.1 594.9l11.2 0.5 7 2.6-11.2-0.4z"/>
<path fill="#000d1c" stroke="#000d1c" d="M639.6 600.5l11.1-0.1 7.1 2-11.2 0.3z"/>
<path fill="#001024" stroke="#001024" d="M694.5 604.5l11.2-1.1 7.1 1.2-11.2 1.2z"/>
<path fill="#001427" stroke="#001427" d="M768.2 601.5l11.3-2.4 7.2 0.2-11.3 2.5z"/>
<path fill="#000b12" stroke="#000b12" d="M842.5 589l11.4-3.8 7.3-0.8-11.4 3.8z"/>
<path fill="#00090d" stroke="#00090d" d="M861.2 584.4l11.4-4.1 7.3-1.1-11.4 4.2z"/>
<path fill="#000203" stroke="#000203" d="M917.5 567l11.4-5.2 7.4-1.8-11.5 5.2z"/>
<path fill="#000000" stroke="#000000" d="M974.2 544.2l11.5-6.2 7.5-2.6-11.6 6.3z"/>
<path fill="#000000" stroke="#000000" d="M993.2 535.4l11.5-6.6 7.5-2.8-11.6 6.7z"/>
<path fill="#000000" stroke="#000000" d="M1050.4 505.4l11.7-7.6 7.5-3.6-11.7 7.8z"/>
<path fill="#000000" stroke="#000000" d="M1069.6 494.2l11.7-8 7.5-3.8-11.6 8.2z"/>
<path fill="#000000" stroke="#000000" d="M1127.5 457.1l11.7-9.2 7.7-4.4-11.8 9.2z"/>
<path fill="#000000" stroke="#000000" d="M1146.9 443.5l11.7-9.6 7.7-4.6-11.8 9.6z"/>
<path fill="#000000" stroke="#000000" d="M1205.3 399.1l11.9-10.7 7.7-5.3-11.9 10.8z"/>
<path fill="#000d1c" stroke="#000d1c" d="M664.9 604.3l11.2-0.6 7.1 1.6-11.2 0.7z"/>
<path fill="#000d18" stroke="#000d18" d="M793.9 599.3l11.3-2.9 7.3-0.2-11.4 2.9z"/>
<path fill="#000102" stroke="#000102" d="M887.2 577.9l11.4-4.5 7.4-1.5-11.5 4.6z"/>
<path fill="#000000" stroke="#000000" d="M943.7 558l11.5-5.6 7.4-2.3-11.5 5.7z"/>
<path fill="#000000" stroke="#000000" d="M1174 424.5l11.8-10 7.7-5-11.9 10.1z"/>
<path fill="#004d48" stroke="#004d48" d="M375.3 507.9l11 4.2 6.9 6.2-11-4.1z"/>
<path fill="#003c41" stroke="#003c41" d="M411.2 528.1l11.1 3.6 6.9 5.6-11.1-3.5z"/>
<path fill="#002933" stroke="#002933" d="M447.2 546l11.1 3 6.9 5-11.1-3z"/>
<path fill="#001a25" stroke="#001a25" d="M483.3 561.5l11 2.5 7 4.4-11.1-2.4z"/>
<path fill="#001022" stroke="#001022" d="M720 605.7l11.2-1.5 7.2 0.8-11.3 1.6z"/>
<path fill="#005937" stroke="#005937" d="M303.4 460.7l11.1 5.3 6.9 7.3-11-5.2z"/>
<path fill="#00111b" stroke="#00111b" d="M519.4 574.7l11.1 2 7 3.8-11.1-1.8z"/>
<path fill="#000e19" stroke="#000e19" d="M537.5 580.5l11.1 1.6 7 3.5-11.1-1.5z"/>
<path fill="#00593f" stroke="#00593f" d="M321.4 473.3l11 5.1 6.9 7-11-4.9z"/>
<path fill="#005644" stroke="#005644" d="M339.3 485.4l11.1 4.8 6.9 6.8-11.1-4.7z"/>
<path fill="#005247" stroke="#005247" d="M357.3 497l11 4.5 7 6.4-11.1-4.4z"/>
<path fill="#004647" stroke="#004647" d="M393.2 518.3l11.1 3.9 6.9 5.9-11.1-3.9z"/>
<path fill="#00323a" stroke="#00323a" d="M429.2 537.3l11.1 3.4 6.9 5.3-11.1-3.3z"/>
<path fill="#00212c" stroke="#00212c" d="M465.2 554l11.1 2.8 7 4.7-11.1-2.7z"/>
<path fill="#00141f" stroke="#00141f" d="M501.3 568.4l11.1 2.2 7 4.1-11.1-2.1z"/>
<path fill="#000c18" stroke="#000c18" d="M573.8 590.2l11.1 1 7 3-11.1-0.9z"/>
<path fill="#000c18" stroke="#000c18" d="M591.9 594.2l11.2 0.7 7 2.7-11.1-0.6z"/>
<path fill="#000c18" stroke="#000c18" d="M610.1 597.6l11.2 0.4 7.1 2.4-11.2-0.3z"/>
<path fill="#000c19" stroke="#000c19" d="M628.4 600.4l11.2 0.1 7 2.2-11.2 0z"/>
<path fill="#000c1a" stroke="#000c1a" d="M646.6 602.7l11.2-0.3 7.1 1.9-11.2 0.3z"/>
<path fill="#000f20" stroke="#000f20" d="M701.6 605.8l11.2-1.2 7.2 1.1-11.3 1.3z"/>
<path fill="#001122" stroke="#001122" d="M738.4 605l11.3-1.9 7.2 0.6-11.3 1.9z"/>
<path fill="#001121" stroke="#001121" d="M756.9 603.7l11.3-2.2 7.2 0.3-11.4 2.2z"/>
<path fill="#000f1d" stroke="#000f1d" d="M775.4 601.8l11.3-2.5 7.2 0-11.3 2.6z"/>
<path fill="#000b13" stroke="#000b13" d="M812.5 596.2l11.3-3.2 7.3-0.5-11.4 3.3z"/>
<path fill="#00080e" stroke="#00080e" d="M831.1 592.5l11.4-3.5 7.3-0.8-11.5 3.6z"/>
<path fill="#000609" stroke="#000609" d="M849.8 588.2l11.4-3.8 7.3-1-11.5 3.9z"/>
<path fill="#000405" stroke="#000405" d="M868.5 583.4l11.4-4.2 7.3-1.3-11.4 4.3z"/>
<path fill="#000000" stroke="#000000" d="M906 571.9l11.5-4.9 7.3-1.8-11.5 5z"/>
<path fill="#000000" stroke="#000000" d="M924.8 565.2l11.5-5.2 7.4-2-11.5 5.3z"/>
<path fill="#000000" stroke="#000000" d="M962.6 550.1l11.6-5.9 7.4-2.5-11.6 6z"/>
<path fill="#000000" stroke="#000000" d="M981.6 541.7l11.6-6.3 7.4-2.7-11.6 6.4z"/>
<path fill="#000000" stroke="#000000" d="M1000.6 532.7l11.6-6.7 7.5-3-11.6 6.8z"/>
<path fill="#000000" stroke="#000000" d="M1019.7 523l11.6-7 7.5-3.2-11.6 7.1z"/>
<path fill="#000000" stroke="#000000" d="M1038.8 512.8l11.6-7.4 7.5-3.4-11.6 7.5z"/>
<path fill="#000000" stroke="#000000" d="M1057.9 502l11.7-7.8 7.6-3.6-11.7 7.8z"/>
<path fill="#000000" stroke="#000000" d="M1077.2 490.6l11.6-8.2 7.6-3.9-11.7 8.3z"/>
<path fill="#000000" stroke="#000000" d="M1096.4 478.5l11.7-8.5 7.6-4.1-11.7 8.6z"/>
<path fill="#000000" stroke="#000000" d="M1115.7 465.9l11.8-8.8 7.6-4.4-11.8 9z"/>
<path fill="#000000" stroke="#000000" d="M1135.1 452.7l11.8-9.2 7.6-4.6-11.8 9.4z"/>
<path fill="#000000" stroke="#000000" d="M1154.5 438.9l11.8-9.6 7.7-4.8-11.8 9.7z"/>
<path fill="#000000" stroke="#000000" d="M1193.5 409.5l11.8-10.4 7.7-5.2-11.8 10.5z"/>
<path fill="#000d18" stroke="#000d18" d="M555.6 585.6l11.1 1.4 7.1 3.2-11.2-1.2z"/>
<path fill="#000e1e" stroke="#000e1e" d="M683.2 605.3l11.3-0.8 7.1 1.3-11.3 1z"/>
<path fill="#004e46" stroke="#004e46" d="M364.2 503.5l11.1 4.4 6.9 6.3-11.1-4.3z"/>
<path fill="#004042" stroke="#004042" d="M400.1 524.2l11.1 3.9 6.9 5.7-11-3.8z"/>
<path fill="#002c35" stroke="#002c35" d="M436.1 542.7l11.1 3.3 6.9 5-11.1-3.1z"/>
<path fill="#001c27" stroke="#001c27" d="M472.2 558.8l11.1 2.7 6.9 4.5-11.1-2.6z"/>
<path fill="#000b16" stroke="#000b16" d="M599 597l11.1 0.6 7.1 2.5-11.2-0.5z"/>
<path fill="#000b17" stroke="#000b17" d="M635.4 602.7l11.2 0 7.1 1.9-11.2 0.1z"/>
<path fill="#000b18" stroke="#000b18" d="M653.7 604.6l11.2-0.3 7.1 1.7-11.2 0.4z"/>
<path fill="#000d1c" stroke="#000d1c" d="M708.7 607l11.3-1.3 7.1 0.9-11.3 1.4z"/>
<path fill="#000c18" stroke="#000c18" d="M764 604l11.4-2.2 7.2 0.1-11.4 2.3z"/>
<path fill="#000a13" stroke="#000a13" d="M782.6 601.9l11.3-2.6 7.2-0.2-11.3 2.7z"/>
<path fill="#00080e" stroke="#00080e" d="M801.1 599.1l11.4-2.9 7.2-0.4-11.4 3z"/>
<path fill="#000305" stroke="#000305" d="M838.3 591.8l11.5-3.6 7.2-0.9-11.4 3.7z"/>
<path fill="#000101" stroke="#000101" d="M857 587.3l11.5-3.9 7.3-1.2-11.5 4.1z"/>
<path fill="#000000" stroke="#000000" d="M894.5 576.5l11.5-4.6 7.3-1.7-11.5 4.7z"/>
<path fill="#000000" stroke="#000000" d="M913.3 570.2l11.5-5 7.4-1.9-11.5 5.1z"/>
<path fill="#000000" stroke="#000000" d="M932.2 563.3l11.5-5.3 7.4-2.2-11.5 5.5z"/>
<path fill="#000000" stroke="#000000" d="M970 547.7l11.6-6 7.4-2.6-11.6 6.1z"/>
<path fill="#000000" stroke="#000000" d="M989 539.1l11.6-6.4 7.5-2.9-11.6 6.5z"/>
<path fill="#000000" stroke="#000000" d="M1046.3 509.5l11.6-7.5 7.6-3.6-11.7 7.6z"/>
<path fill="#000000" stroke="#000000" d="M1065.5 498.4l11.7-7.8 7.5-3.8-11.7 7.9z"/>
<path fill="#000000" stroke="#000000" d="M1123.3 461.7l11.8-9 7.6-4.4-11.8 9z"/>
<path fill="#000000" stroke="#000000" d="M1142.7 448.3l11.8-9.4 7.7-4.7-11.9 9.5z"/>
<path fill="#000000" stroke="#000000" d="M1181.6 419.6l11.9-10.1 7.7-5.1-11.9 10.2z"/>
<path fill="#000f18" stroke="#000f18" d="M526.4 578.7l11.1 1.8 7 3.6-11.2-1.7z"/>
<path fill="#000c16" stroke="#000c16" d="M562.6 589l11.2 1.2 7 3.1-11.2-1.1z"/>
<path fill="#00583a" stroke="#00583a" d="M310.4 468.1l11 5.2 6.9 7.2-11-5.2z"/>
<path fill="#005640" stroke="#005640" d="M328.3 480.5l11 4.9 6.9 6.9-11-4.9z"/>
<path fill="#005344" stroke="#005344" d="M346.2 492.3l11.1 4.7 6.9 6.5-11-4.6z"/>
<path fill="#004847" stroke="#004847" d="M382.2 514.2l11 4.1 6.9 5.9-11-4z"/>
<path fill="#00363c" stroke="#00363c" d="M418.1 533.8l11.1 3.5 6.9 5.4-11.1-3.5z"/>
<path fill="#00242e" stroke="#00242e" d="M454.1 551l11.1 3 7 4.8-11.1-2.9z"/>
<path fill="#001620" stroke="#001620" d="M490.2 566l11.1 2.4 7 4.2-11.1-2.3z"/>
<path fill="#00121b" stroke="#00121b" d="M508.3 572.6l11.1 2.1 7 4-11.2-2.1z"/>
<path fill="#000d1c" stroke="#000d1c" d="M727.1 606.6l11.3-1.6 7.2 0.6-11.3 1.7z"/>
<path fill="#000d17" stroke="#000d17" d="M544.5 584.1l11.1 1.5 7 3.4-11.1-1.4z"/>
<path fill="#000b16" stroke="#000b16" d="M580.8 593.3l11.1 0.9 7.1 2.8-11.2-0.8z"/>
<path fill="#000b16" stroke="#000b16" d="M617.2 600.1l11.2 0.3 7 2.3-11.2-0.2z"/>
<path fill="#000c19" stroke="#000c19" d="M672 606l11.2-0.7 7.1 1.5-11.2 0.7z"/>
<path fill="#000c1a" stroke="#000c1a" d="M690.3 606.8l11.3-1 7.1 1.2-11.3 1z"/>
<path fill="#000d1b" stroke="#000d1b" d="M745.6 605.6l11.3-1.9 7.1 0.3-11.3 2.1z"/>
<path fill="#000509" stroke="#000509" d="M819.7 595.8l11.4-3.3 7.2-0.7-11.4 3.4z"/>
<path fill="#000000" stroke="#000000" d="M875.8 582.2l11.4-4.3 7.3-1.4-11.4 4.4z"/>
<path fill="#000000" stroke="#000000" d="M951.1 555.8l11.5-5.7 7.4-2.4-11.5 5.8z"/>
<path fill="#000000" stroke="#000000" d="M1008.1 529.8l11.6-6.8 7.5-3.1-11.7 6.9z"/>
<path fill="#000000" stroke="#000000" d="M1027.2 519.9l11.6-7.1 7.5-3.3-11.7 7.2z"/>
<path fill="#000000" stroke="#000000" d="M1084.7 486.8l11.7-8.3 7.6-4-11.7 8.4z"/>
<path fill="#000000" stroke="#000000" d="M1104 474.5l11.7-8.6 7.6-4.2-11.7 8.7z"/>
<path fill="#000000" stroke="#000000" d="M1162.2 434.2l11.8-9.7 7.6-4.9-11.8 9.8z"/>
<path fill="#000a14" stroke="#000a14" d="M642.5 604.7l11.2-0.1 7.1 1.8-11.3 0.2z"/>
<path fill="#00070e" stroke="#00070e" d="M771.2 604.2l11.4-2.3 7.2-0.1-11.4 2.5z"/>
<path fill="#000000" stroke="#000000" d="M845.6 591l11.4-3.7 7.3-1-11.4 3.7z"/>
<path fill="#000000" stroke="#000000" d="M901.8 574.9l11.5-4.7 7.4-1.8-11.5 4.8z"/>
<path fill="#000000" stroke="#000000" d="M920.7 568.4l11.5-5.1 7.4-2-11.6 5.1z"/>
<path fill="#000000" stroke="#000000" d="M977.4 545.2l11.6-6.1 7.5-2.8-11.6 6.2z"/>
<path fill="#000000" stroke="#000000" d="M1053.8 506l11.7-7.6 7.5-3.7-11.7 7.7z"/>
<path fill="#000000" stroke="#000000" d="M1130.9 457.3l11.8-9 7.6-4.6-11.7 9.1z"/>
<path fill="#004f44" stroke="#004f44" d="M353.2 498.9l11 4.6 6.9 6.4-11.1-4.5z"/>
<path fill="#004444" stroke="#004444" d="M389.1 520.2l11 4 7 5.8-11.1-3.9z"/>
<path fill="#003037" stroke="#003037" d="M425 539.2l11.1 3.5 6.9 5.2-11-3.4z"/>
<path fill="#001f29" stroke="#001f29" d="M461.1 555.9l11.1 2.9 6.9 4.6-11.1-2.8z"/>
<path fill="#000c15" stroke="#000c15" d="M551.5 587.6l11.1 1.4 7 3.2-11.2-1.4z"/>
<path fill="#00553c" stroke="#00553c" d="M317.3 475.3l11 5.2 6.9 6.9-11.1-5z"/>
<path fill="#005341" stroke="#005341" d="M335.2 487.4l11 4.9 7 6.6-11.1-4.7z"/>
<path fill="#004a45" stroke="#004a45" d="M371.1 509.9l11.1 4.3 6.9 6-11.1-4.2z"/>
<path fill="#00393e" stroke="#00393e" d="M407.1 530l11 3.8 6.9 5.4-11-3.7z"/>
<path fill="#002730" stroke="#002730" d="M443 547.9l11.1 3.1 7 4.9-11.1-3.1z"/>
<path fill="#001822" stroke="#001822" d="M479.1 563.4l11.1 2.6 7 4.3-11.2-2.5z"/>
<path fill="#00131d" stroke="#00131d" d="M497.2 570.3l11.1 2.3 6.9 4-11.1-2.2z"/>
<path fill="#000f18" stroke="#000f18" d="M515.2 576.6l11.2 2.1 6.9 3.7-11.1-1.9z"/>
<path fill="#000a14" stroke="#000a14" d="M587.8 596.2l11.2 0.8 7 2.6-11.2-0.7z"/>
<path fill="#000a14" stroke="#000a14" d="M606 599.6l11.2 0.5 7 2.4-11.2-0.4z"/>
<path fill="#000a14" stroke="#000a14" d="M624.2 602.5l11.2 0.2 7.1 2-11.2-0.1z"/>
<path fill="#000a16" stroke="#000a16" d="M679.1 607.5l11.2-0.7 7.1 1.2-11.2 0.9z"/>
<path fill="#000a16" stroke="#000a16" d="M697.4 608l11.3-1 7.1 1-11.3 1.1z"/>
<path fill="#000b16" stroke="#000b16" d="M715.8 608l11.3-1.4 7.2 0.7-11.3 1.5z"/>
<path fill="#000912" stroke="#000912" d="M752.7 606.1l11.3-2.1 7.2 0.2-11.3 2.2z"/>
<path fill="#000509" stroke="#000509" d="M789.8 601.8l11.3-2.7 7.2-0.3-11.3 2.8z"/>
<path fill="#000305" stroke="#000305" d="M808.3 598.8l11.4-3 7.2-0.6-11.3 3.1z"/>
<path fill="#000000" stroke="#000000" d="M826.9 595.2l11.4-3.4 7.3-0.8-11.4 3.5z"/>
<path fill="#000000" stroke="#000000" d="M864.3 586.3l11.5-4.1 7.3-1.3-11.5 4.1z"/>
<path fill="#000000" stroke="#000000" d="M958.5 553.5l11.5-5.8 7.4-2.5-11.5 5.9z"/>
<path fill="#000000" stroke="#000000" d="M996.5 536.3l11.6-6.5 7.4-3-11.6 6.6z"/>
<path fill="#000000" stroke="#000000" d="M1034.6 516.7l11.7-7.2 7.5-3.5-11.7 7.3z"/>
<path fill="#000000" stroke="#000000" d="M1073 494.7l11.7-7.9 7.6-3.9-11.8 8z"/>
<path fill="#000000" stroke="#000000" d="M1111.6 470.4l11.7-8.7 7.6-4.4-11.7 8.8z"/>
<path fill="#000000" stroke="#000000" d="M1150.3 443.7l11.9-9.5 7.6-4.8-11.8 9.6z"/>
<path fill="#000d16" stroke="#000d16" d="M533.3 582.4l11.2 1.7 7 3.5-11.2-1.7z"/>
<path fill="#000b14" stroke="#000b14" d="M569.6 592.2l11.2 1.1 7 2.9-11.2-1z"/>
<path fill="#000a15" stroke="#000a15" d="M734.3 607.3l11.3-1.7 7.1 0.5-11.3 1.8z"/>
<path fill="#000a15" stroke="#000a15" d="M660.8 606.4l11.2-0.4 7.1 1.5-11.3 0.5z"/>
<path fill="#000000" stroke="#000000" d="M883.1 580.9l11.4-4.4 7.3-1.6-11.4 4.5z"/>
<path fill="#000000" stroke="#000000" d="M939.6 561.3l11.5-5.5 7.4-2.3-11.6 5.6z"/>
<path fill="#000000" stroke="#000000" d="M1015.5 526.8l11.7-6.9 7.4-3.2-11.6 7z"/>
<path fill="#000000" stroke="#000000" d="M1092.3 482.9l11.7-8.4 7.6-4.1-11.8 8.4z"/>
<path fill="#000000" stroke="#000000" d="M1169.8 429.4l11.8-9.8 7.7-5-11.8 9.9z"/>
<path fill="#000000" stroke="#000000" d="M909.2 573.2l11.5-4.8 7.3-2-11.5 5z"/>
<path fill="#004543" stroke="#004543" d="M378 516l11.1 4.2 6.9 5.9-11.1-4.2z"/>
<path fill="#003339" stroke="#003339" d="M414 535.5l11 3.7 7 5.3-11.1-3.6z"/>
<path fill="#00222b" stroke="#00222b" d="M450 552.8l11.1 3.1 6.9 4.7-11.1-3z"/>
<path fill="#000912" stroke="#000912" d="M613 602.1l11.2 0.4 7.1 2.1-11.3-0.3z"/>
<path fill="#000811" stroke="#000811" d="M631.3 604.6l11.2 0.1 7 1.9-11.2 0z"/>
<path fill="#000811" stroke="#000811" d="M686.2 608.9l11.2-0.9 7.1 1.1-11.2 0.9z"/>
<path fill="#000509" stroke="#000509" d="M759.9 606.4l11.3-2.2 7.2 0.1-11.4 2.2z"/>
<path fill="#000205" stroke="#000205" d="M778.4 604.3l11.4-2.5 7.2-0.2-11.4 2.5z"/>
<path fill="#000000" stroke="#000000" d="M815.6 598.3l11.3-3.1 7.3-0.7-11.4 3.2z"/>
<path fill="#000000" stroke="#000000" d="M834.2 594.5l11.4-3.5 7.3-1-11.5 3.6z"/>
<path fill="#000000" stroke="#000000" d="M852.9 590l11.4-3.7 7.3-1.3-11.5 3.9z"/>
<path fill="#000000" stroke="#000000" d="M965.9 551.1l11.5-5.9 7.5-2.7-11.6 6z"/>
<path fill="#000000" stroke="#000000" d="M984.9 542.5l11.6-6.2 7.4-2.9-11.6 6.3z"/>
<path fill="#000000" stroke="#000000" d="M1042.1 513.3l11.7-7.3 7.5-3.6-11.7 7.4z"/>
<path fill="#000000" stroke="#000000" d="M1061.3 502.4l11.7-7.7 7.5-3.8-11.7 7.8z"/>
<path fill="#000000" stroke="#000000" d="M1119.2 466.1l11.7-8.8 7.7-4.5-11.8 8.9z"/>
<path fill="#000000" stroke="#000000" d="M1138.6 452.8l11.7-9.1 7.7-4.7-11.8 9.2z"/>
<path fill="#005041" stroke="#005041" d="M342.1 494.2l11.1 4.7 6.8 6.5-11-4.7z"/>
<path fill="#000c14" stroke="#000c14" d="M540.3 585.9l11.2 1.7 6.9 3.2-11.1-1.5z"/>
<path fill="#000a12" stroke="#000a12" d="M576.6 595.2l11.2 1 7 2.7-11.2-0.9z"/>
<path fill="#00533d" stroke="#00533d" d="M324.1 482.4l11.1 5 6.9 6.8-11.1-5z"/>
<path fill="#004b43" stroke="#004b43" d="M360 505.4l11.1 4.5 6.9 6.1-11.1-4.4z"/>
<path fill="#003d3f" stroke="#003d3f" d="M396 526.1l11.1 3.9 6.9 5.5-11.1-3.8z"/>
<path fill="#002a32" stroke="#002a32" d="M432 544.5l11 3.4 7 4.9-11.1-3.3z"/>
<path fill="#001b24" stroke="#001b24" d="M468 560.6l11.1 2.8 6.9 4.4-11.1-2.7z"/>
<path fill="#00151e" stroke="#00151e" d="M486 567.8l11.2 2.5 6.9 4.1-11.1-2.4z"/>
<path fill="#001019" stroke="#001019" d="M504.1 574.4l11.1 2.2 7 3.9-11.1-2.2z"/>
<path fill="#00060d" stroke="#00060d" d="M741.4 607.9l11.3-1.8 7.2 0.3-11.4 1.9z"/>
<path fill="#000a13" stroke="#000a13" d="M558.4 590.8l11.2 1.4 7 3-11.2-1.3z"/>
<path fill="#000d16" stroke="#000d16" d="M522.2 580.5l11.1 1.9 7 3.5-11.1-1.8z"/>
<path fill="#000912" stroke="#000912" d="M594.8 598.9l11.2 0.7 7 2.5-11.2-0.7z"/>
<path fill="#000811" stroke="#000811" d="M649.5 606.6l11.3-0.2 7 1.6-11.2 0.3z"/>
<path fill="#000812" stroke="#000812" d="M667.8 608l11.3-0.5 7.1 1.4-11.3 0.6z"/>
<path fill="#000811" stroke="#000811" d="M704.5 609.1l11.3-1.1 7.2 0.8-11.3 1.2z"/>
<path fill="#00070f" stroke="#00070f" d="M723 608.8l11.3-1.5 7.1 0.6-11.3 1.5z"/>
<path fill="#000000" stroke="#000000" d="M797 601.6l11.3-2.8 7.3-0.5-11.4 2.9z"/>
<path fill="#000000" stroke="#000000" d="M871.6 585l11.5-4.1 7.3-1.5-11.5 4.3z"/>
<path fill="#000000" stroke="#000000" d="M890.4 579.4l11.4-4.5 7.4-1.7-11.5 4.6z"/>
<path fill="#000000" stroke="#000000" d="M928 566.4l11.6-5.1 7.3-2.2-11.5 5.2z"/>
<path fill="#000000" stroke="#000000" d="M946.9 559.1l11.6-5.6 7.4-2.4-11.6 5.6z"/>
<path fill="#000000" stroke="#000000" d="M1003.9 533.4l11.6-6.6 7.5-3.1-11.6 6.6z"/>
<path fill="#000000" stroke="#000000" d="M1023 523.7l11.6-7 7.5-3.4-11.6 7.1z"/>
<path fill="#000000" stroke="#000000" d="M1080.5 490.9l11.8-8 7.5-4.1-11.7 8.2z"/>
<path fill="#000000" stroke="#000000" d="M1099.8 478.8l11.8-8.4 7.6-4.3-11.8 8.5z"/>
<path fill="#000000" stroke="#000000" d="M1158 439l11.8-9.6 7.7-4.9-11.9 9.7z"/>
<path fill="#00070f" stroke="#00070f" d="M620 604.3l11.3 0.3 7 2-11.2-0.2z"/>
<path fill="#000000" stroke="#000000" d="M822.8 597.7l11.4-3.2 7.2-0.9-11.4 3.3z"/>
<path fill="#004641" stroke="#004641" d="M366.9 511.6l11.1 4.4 6.9 5.9-11.1-4.3z"/>
<path fill="#00373a" stroke="#00373a" d="M402.9 531.7l11.1 3.8 6.9 5.4-11.1-3.8z"/>
<path fill="#00252d" stroke="#00252d" d="M438.9 549.5l11.1 3.3 6.9 4.8-11.1-3.2z"/>
<path fill="#000204" stroke="#000204" d="M748.5 608.3l11.4-1.9 7.1 0.1-11.3 2z"/>
<path fill="#00503e" stroke="#00503e" d="M331 489.2l11.1 5 6.9 6.5-11.1-4.9z"/>
<path fill="#000911" stroke="#000911" d="M565.4 593.9l11.2 1.3 7 2.8-11.2-1.2z"/>
<path fill="#004c40" stroke="#004c40" d="M349 500.7l11 4.7 6.9 6.2-11-4.6z"/>
<path fill="#004140" stroke="#004140" d="M384.9 521.9l11.1 4.2 6.9 5.6-11.1-4z"/>
<path fill="#002e34" stroke="#002e34" d="M420.9 540.9l11.1 3.6 6.9 5-11.1-3.4z"/>
<path fill="#001e26" stroke="#001e26" d="M456.9 557.6l11.1 3 6.9 4.5-11.1-2.9z"/>
<path fill="#001720" stroke="#001720" d="M474.9 565.1l11.1 2.7 7 4.2-11.2-2.6z"/>
<path fill="#00121a" stroke="#00121a" d="M493 572l11.1 2.4 7 3.9-11.2-2.3z"/>
<path fill="#000c13" stroke="#000c13" d="M529.2 584.1l11.1 1.8 7 3.4-11.2-1.7z"/>
<path fill="#000a12" stroke="#000a12" d="M547.3 589.3l11.1 1.5 7 3.1-11.2-1.4z"/>
<path fill="#000910" stroke="#000910" d="M583.6 598l11.2 0.9 7 2.5-11.2-0.8z"/>
<path fill="#000810" stroke="#000810" d="M601.8 601.4l11.2 0.7 7 2.2-11.2-0.5z"/>
<path fill="#00070e" stroke="#00070e" d="M656.6 608.3l11.2-0.3 7.1 1.5-11.3 0.4z"/>
<path fill="#00060d" stroke="#00060d" d="M674.9 609.5l11.3-0.6 7.1 1.1-11.3 0.8z"/>
<path fill="#00060c" stroke="#00060c" d="M693.3 610l11.2-0.9 7.2 0.9-11.3 1.1z"/>
<path fill="#000408" stroke="#000408" d="M730.1 609.4l11.3-1.5 7.1 0.4-11.3 1.6z"/>
<path fill="#000000" stroke="#000000" d="M767 606.5l11.4-2.2 7.2-0.2-11.4 2.4z"/>
<path fill="#000000" stroke="#000000" d="M785.6 604.1l11.4-2.5 7.2-0.4-11.4 2.7z"/>
<path fill="#000000" stroke="#000000" d="M804.2 601.2l11.4-2.9 7.2-0.6-11.4 3z"/>
<path fill="#000000" stroke="#000000" d="M841.4 593.6l11.5-3.6 7.2-1.1-11.4 3.7z"/>
<path fill="#000000" stroke="#000000" d="M860.1 588.9l11.5-3.9 7.3-1.3-11.5 3.9z"/>
<path fill="#000000" stroke="#000000" d="M878.9 583.7l11.5-4.3 7.3-1.6-11.5 4.3z"/>
<path fill="#000000" stroke="#000000" d="M897.7 577.8l11.5-4.6 7.3-1.8-11.5 4.6z"/>
<path fill="#000000" stroke="#000000" d="M916.5 571.4l11.5-5 7.4-2.1-11.6 5z"/>
<path fill="#000000" stroke="#000000" d="M935.4 564.3l11.5-5.2 7.4-2.4-11.6 5.4z"/>
<path fill="#000000" stroke="#000000" d="M954.3 556.7l11.6-5.6 7.4-2.6-11.6 5.7z"/>
<path fill="#000000" stroke="#000000" d="M973.3 548.5l11.6-6 7.4-2.8-11.6 6.1z"/>
<path fill="#000000" stroke="#000000" d="M992.3 539.7l11.6-6.3 7.5-3.1-11.7 6.5z"/>
<path fill="#000000" stroke="#000000" d="M1011.4 530.3l11.6-6.6 7.5-3.3-11.7 6.8z"/>
<path fill="#000000" stroke="#000000" d="M1030.5 520.4l11.6-7.1 7.5-3.5-11.7 7.2z"/>
<path fill="#000000" stroke="#000000" d="M1049.6 509.8l11.7-7.4 7.5-3.7-11.7 7.5z"/>
<path fill="#000000" stroke="#000000" d="M1068.8 498.7l11.7-7.8 7.6-3.9-11.7 7.8z"/>
<path fill="#000000" stroke="#000000" d="M1088.1 487l11.7-8.2 7.6-4.2-11.8 8.3z"/>
<path fill="#000000" stroke="#000000" d="M1107.4 474.6l11.8-8.5 7.6-4.4-11.8 8.7z"/>
<path fill="#000000" stroke="#000000" d="M1126.8 461.7l11.8-8.9 7.6-4.6-11.8 9z"/>
<path fill="#000000" stroke="#000000" d="M1146.2 448.2l11.8-9.2 7.6-4.8-11.8 9.3z"/>
<path fill="#000e16" stroke="#000e16" d="M511.1 578.3l11.1 2.2 7 3.6-11.2-2z"/>
<path fill="#00070f" stroke="#00070f" d="M638.3 606.6l11.2 0 7.1 1.7-11.3 0.1z"/>
<path fill="#00050b" stroke="#00050b" d="M711.7 610l11.3-1.2 7.1 0.6-11.3 1.4z"/>
<path fill="#00473f" stroke="#00473f" d="M355.9 507l11 4.6 6.9 6-11.1-4.5z"/>
<path fill="#003a3c" stroke="#003a3c" d="M391.8 527.7l11.1 4 6.9 5.4-11.1-3.9z"/>
<path fill="#00282f" stroke="#00282f" d="M427.8 546.1l11.1 3.4 6.9 4.9-11.1-3.4z"/>
<path fill="#000910" stroke="#000910" d="M554.2 592.5l11.2 1.4 7 2.9-11.2-1.3z"/>
<path fill="#00070e" stroke="#00070e" d="M590.6 600.6l11.2 0.8 7 2.4-11.2-0.8z"/>
<path fill="#00060d" stroke="#00060d" d="M608.8 603.8l11.2 0.5 7.1 2.1-11.3-0.5z"/>
<path fill="#00050a" stroke="#00050a" d="M663.6 609.9l11.3-0.4 7.1 1.3-11.3 0.4z"/>
<path fill="#000000" stroke="#000000" d="M737.2 609.9l11.3-1.6 7.2 0.2-11.4 1.7z"/>
<path fill="#000000" stroke="#000000" d="M792.8 603.9l11.4-2.7 7.2-0.5-11.4 2.7z"/>
<path fill="#000000" stroke="#000000" d="M811.4 600.7l11.4-3 7.2-0.8-11.4 3.1z"/>
<path fill="#000000" stroke="#000000" d="M830 596.9l11.4-3.3 7.3-1-11.5 3.4z"/>
<path fill="#000000" stroke="#000000" d="M867.4 587.6l11.5-3.9 7.3-1.6-11.5 4.1z"/>
<path fill="#000000" stroke="#000000" d="M886.2 582.1l11.5-4.3 7.3-1.8-11.5 4.5z"/>
<path fill="#000000" stroke="#000000" d="M923.8 569.3l11.6-5 7.3-2.2-11.5 5.1z"/>
<path fill="#000000" stroke="#000000" d="M942.7 562.1l11.6-5.4 7.4-2.5-11.6 5.5z"/>
<path fill="#000000" stroke="#000000" d="M999.7 536.8l11.7-6.5 7.4-3.1-11.6 6.5z"/>
<path fill="#000000" stroke="#000000" d="M1018.8 527.2l11.7-6.8 7.4-3.4-11.6 6.9z"/>
<path fill="#000000" stroke="#000000" d="M1076.4 494.8l11.7-7.8 7.5-4.1-11.7 8z"/>
<path fill="#000000" stroke="#000000" d="M1095.6 482.9l11.8-8.3 7.6-4.2-11.8 8.3z"/>
<path fill="#004c3d" stroke="#004c3d" d="M337.9 495.8l11.1 4.9 6.9 6.3-11.1-4.8z"/>
<path fill="#00423f" stroke="#00423f" d="M373.8 517.6l11.1 4.3 6.9 5.8-11.1-4.3z"/>
<path fill="#003135" stroke="#003135" d="M409.8 537.1l11.1 3.8 6.9 5.2-11.1-3.7z"/>
<path fill="#002028" stroke="#002028" d="M445.8 554.4l11.1 3.2 6.9 4.6-11.1-3.1z"/>
<path fill="#001921" stroke="#001921" d="M463.8 562.2l11.1 2.9 6.9 4.3-11.1-2.8z"/>
<path fill="#00131b" stroke="#00131b" d="M481.8 569.4l11.2 2.6 6.9 4-11.1-2.5z"/>
<path fill="#000c13" stroke="#000c13" d="M518 582.1l11.2 2 6.9 3.5-11.2-2z"/>
<path fill="#000000" stroke="#000000" d="M755.7 608.5l11.3-2 7.2 0-11.4 2z"/>
<path fill="#000f17" stroke="#000f17" d="M499.9 576l11.2 2.3 6.9 3.8-11.2-2.3z"/>
<path fill="#000a11" stroke="#000a11" d="M536.1 587.6l11.2 1.7 6.9 3.2-11.1-1.7z"/>
<path fill="#00080f" stroke="#00080f" d="M572.4 596.8l11.2 1.2 7 2.6-11.2-1.1z"/>
<path fill="#00060c" stroke="#00060c" d="M627.1 606.4l11.2 0.2 7 1.8-11.2-0.1z"/>
<path fill="#00050b" stroke="#00050b" d="M645.3 608.4l11.3-0.1 7 1.6-11.2 0.1z"/>
<path fill="#000409" stroke="#000409" d="M682 610.8l11.3-0.8 7.1 1.1-11.3 0.8z"/>
<path fill="#000307" stroke="#000307" d="M700.4 611.1l11.3-1.1 7.1 0.8-11.4 1.1z"/>
<path fill="#000204" stroke="#000204" d="M718.8 610.8l11.3-1.4 7.1 0.5-11.3 1.5z"/>
<path fill="#000000" stroke="#000000" d="M774.2 606.5l11.4-2.4 7.2-0.2-11.4 2.4z"/>
<path fill="#000000" stroke="#000000" d="M848.7 592.6l11.4-3.7 7.3-1.3-11.5 3.8z"/>
<path fill="#000000" stroke="#000000" d="M961.7 554.2l11.6-5.7 7.4-2.7-11.6 5.8z"/>
<path fill="#000000" stroke="#000000" d="M980.7 545.8l11.6-6.1 7.4-2.9-11.6 6.1z"/>
<path fill="#000000" stroke="#000000" d="M1037.9 517l11.7-7.2 7.5-3.6-11.7 7.3z"/>
<path fill="#000000" stroke="#000000" d="M1057.1 506.2l11.7-7.5 7.6-3.9-11.8 7.7z"/>
<path fill="#000000" stroke="#000000" d="M1115 470.4l11.8-8.7 7.6-4.5-11.8 8.8z"/>
<path fill="#000000" stroke="#000000" d="M1134.4 457.2l11.8-9 7.6-4.7-11.8 9.1z"/>
<path fill="#000000" stroke="#000000" d="M905 576l11.5-4.6 7.3-2.1-11.5 4.8z"/>
<path fill="#00060b" stroke="#00060b" d="M597.6 603l11.2 0.8 7 2.1-11.2-0.6z"/>
<path fill="#000000" stroke="#000000" d="M800 603.4l11.4-2.7 7.2-0.7-11.5 2.8z"/>
<path fill="#000000" stroke="#000000" d="M874.7 586.2l11.5-4.1 7.3-1.6-11.5 4.1z"/>
<path fill="#000000" stroke="#000000" d="M931.2 567.2l11.5-5.1 7.4-2.4-11.6 5.2z"/>
<path fill="#000000" stroke="#000000" d="M1007.2 533.7l11.6-6.5 7.5-3.3-11.7 6.6z"/>
<path fill="#000000" stroke="#000000" d="M1083.9 490.9l11.7-8 7.6-4.2-11.8 8.1z"/>
<path fill="#00483d" stroke="#00483d" d="M344.8 502.2l11.1 4.8 6.8 6.1-11.1-4.7z"/>
<path fill="#003d3c" stroke="#003d3c" d="M380.7 523.4l11.1 4.3 6.9 5.5-11.1-4.1z"/>
<path fill="#002b30" stroke="#002b30" d="M416.7 542.4l11.1 3.7 6.9 4.9-11.2-3.6z"/>
<path fill="#00433d" stroke="#00433d" d="M362.7 513.1l11.1 4.5 6.9 5.8-11.1-4.4z"/>
<path fill="#003437" stroke="#003437" d="M398.7 533.2l11.1 3.9 6.9 5.3-11.2-3.9z"/>
<path fill="#00232a" stroke="#00232a" d="M434.7 551l11.1 3.4 6.9 4.7-11.2-3.3z"/>
<path fill="#001c23" stroke="#001c23" d="M452.7 559.1l11.1 3.1 6.9 4.4-11.1-3.1z"/>
<path fill="#00151d" stroke="#00151d" d="M470.7 566.6l11.1 2.8 7 4.1-11.2-2.8z"/>
<path fill="#000d13" stroke="#000d13" d="M506.8 579.8l11.2 2.3 6.9 3.5-11.1-2.1z"/>
<path fill="#00090f" stroke="#00090f" d="M543.1 590.8l11.1 1.7 7 3-11.2-1.6z"/>
<path fill="#00070d" stroke="#00070d" d="M561.2 595.5l11.2 1.3 7 2.7-11.2-1.2z"/>
<path fill="#00070c" stroke="#00070c" d="M579.4 599.5l11.2 1.1 7 2.4-11.2-1z"/>
<path fill="#000409" stroke="#000409" d="M634.1 608.3l11.2 0.1 7.1 1.6-11.3 0z"/>
<path fill="#000408" stroke="#000408" d="M652.4 610l11.2-0.1 7.1 1.3-11.3 0.3z"/>
<path fill="#000306" stroke="#000306" d="M670.7 611.2l11.3-0.4 7.1 1.1-11.3 0.5z"/>
<path fill="#000001" stroke="#000001" d="M707.4 611.9l11.4-1.1 7.1 0.6-11.4 1.2z"/>
<path fill="#000000" stroke="#000000" d="M725.9 611.4l11.3-1.5 7.1 0.3-11.3 1.6z"/>
<path fill="#000000" stroke="#000000" d="M744.3 610.2l11.4-1.7 7.1 0-11.3 1.9z"/>
<path fill="#000000" stroke="#000000" d="M781.4 606.3l11.4-2.4 7.2-0.5-11.4 2.5z"/>
<path fill="#000000" stroke="#000000" d="M818.6 600l11.4-3.1 7.2-0.9-11.4 3.1z"/>
<path fill="#000000" stroke="#000000" d="M837.2 596l11.5-3.4 7.2-1.2-11.4 3.5z"/>
<path fill="#000000" stroke="#000000" d="M855.9 591.4l11.5-3.8 7.3-1.4-11.5 3.8z"/>
<path fill="#000000" stroke="#000000" d="M950.1 559.7l11.6-5.5 7.4-2.6-11.6 5.6z"/>
<path fill="#000000" stroke="#000000" d="M988.1 542.9l11.6-6.1 7.5-3.1-11.7 6.3z"/>
<path fill="#000000" stroke="#000000" d="M1026.3 523.9l11.6-6.9 7.5-3.5-11.7 6.9z"/>
<path fill="#000000" stroke="#000000" d="M1064.6 502.5l11.8-7.7 7.5-3.9-11.8 7.7z"/>
<path fill="#000000" stroke="#000000" d="M1103.2 478.7l11.8-8.3 7.6-4.4-11.8 8.4z"/>
<path fill="#001017" stroke="#001017" d="M488.8 573.5l11.1 2.5 6.9 3.8-11.1-2.4z"/>
<path fill="#000a10" stroke="#000a10" d="M524.9 585.6l11.2 2 7 3.2-11.2-1.8z"/>
<path fill="#000000" stroke="#000000" d="M762.8 608.5l11.4-2 7.2-0.2-11.4 2.1z"/>
<path fill="#00050a" stroke="#00050a" d="M615.8 605.9l11.3 0.5 7 1.9-11.3-0.4z"/>
<path fill="#000204" stroke="#000204" d="M689.1 611.9l11.3-0.8 7 0.8-11.3 0.9z"/>
<path fill="#000000" stroke="#000000" d="M893.5 580.5l11.5-4.5 7.3-1.9-11.5 4.5z"/>
<path fill="#000000" stroke="#000000" d="M912.3 574.1l11.5-4.8 7.4-2.1-11.6 4.9z"/>
<path fill="#000000" stroke="#000000" d="M969.1 551.6l11.6-5.8 7.4-2.9-11.6 6z"/>
<path fill="#000000" stroke="#000000" d="M1045.4 513.5l11.7-7.3 7.5-3.7-11.7 7.3z"/>
<path fill="#000000" stroke="#000000" d="M1122.6 466l11.8-8.8 7.6-4.6-11.9 8.8z"/>
<path fill="#003e3a" stroke="#003e3a" d="M369.6 519l11.1 4.4 6.9 5.7-11.1-4.4z"/>
<path fill="#002e31" stroke="#002e31" d="M405.5 538.5l11.2 3.9 6.8 5-11.1-3.7z"/>
<path fill="#00060b" stroke="#00060b" d="M568.2 598.3l11.2 1.2 7 2.5-11.2-1.1z"/>
<path fill="#00050a" stroke="#00050a" d="M586.4 602l11.2 1 7 2.3-11.2-0.9z"/>
<path fill="#000205" stroke="#000205" d="M641.1 610l11.3 0 7 1.5-11.3 0z"/>
<path fill="#000000" stroke="#000000" d="M714.5 612.6l11.4-1.2 7.1 0.4-11.4 1.3z"/>
<path fill="#000000" stroke="#000000" d="M788.6 605.9l11.4-2.5 7.1-0.6-11.4 2.6z"/>
<path fill="#000000" stroke="#000000" d="M807.1 602.8l11.5-2.8 7.2-0.9-11.5 3z"/>
<path fill="#000000" stroke="#000000" d="M844.5 594.9l11.4-3.5 7.3-1.4-11.5 3.6z"/>
<path fill="#000000" stroke="#000000" d="M863.2 590l11.5-3.8 7.3-1.6-11.5 4z"/>
<path fill="#000000" stroke="#000000" d="M938.5 564.9l11.6-5.2 7.4-2.5-11.6 5.3z"/>
<path fill="#000000" stroke="#000000" d="M995.5 540l11.7-6.3 7.4-3.2-11.7 6.4z"/>
<path fill="#000000" stroke="#000000" d="M1014.6 530.5l11.7-6.6 7.4-3.5-11.7 6.8z"/>
<path fill="#000000" stroke="#000000" d="M1072.1 498.6l11.8-7.7 7.5-4.1-11.7 7.8z"/>
<path fill="#000000" stroke="#000000" d="M1091.4 486.8l11.8-8.1 7.6-4.3-11.8 8.2z"/>
<path fill="#00443b" stroke="#00443b" d="M351.6 508.4l11.1 4.7 6.9 5.9-11.1-4.6z"/>
<path fill="#003738" stroke="#003738" d="M387.6 529.1l11.1 4.1 6.8 5.3-11.1-4z"/>
<path fill="#00252b" stroke="#00252b" d="M423.5 547.4l11.2 3.6 6.8 4.8-11.1-3.5z"/>
<path fill="#001e25" stroke="#001e25" d="M441.5 555.8l11.2 3.3 6.9 4.4-11.2-3.2z"/>
<path fill="#00171e" stroke="#00171e" d="M459.6 563.5l11.1 3.1 6.9 4.1-11.1-2.9z"/>
<path fill="#000d14" stroke="#000d14" d="M495.7 577.4l11.1 2.4 7 3.7-11.2-2.4z"/>
<path fill="#00080e" stroke="#00080e" d="M531.9 589l11.2 1.8 6.9 3.1-11.2-1.8z"/>
<path fill="#000000" stroke="#000000" d="M770 608.4l11.4-2.1 7.2-0.4-11.5 2.3z"/>
<path fill="#001219" stroke="#001219" d="M477.6 570.7l11.2 2.8 6.9 3.9-11.2-2.7z"/>
<path fill="#000a10" stroke="#000a10" d="M513.8 583.5l11.1 2.1 7 3.4-11.2-2.1z"/>
<path fill="#00070c" stroke="#00070c" d="M550 593.9l11.2 1.6 7 2.8-11.2-1.5z"/>
<path fill="#000408" stroke="#000408" d="M604.6 605.3l11.2 0.6 7 2-11.2-0.6z"/>
<path fill="#000307" stroke="#000307" d="M622.8 607.9l11.3 0.4 7 1.7-11.3-0.3z"/>
<path fill="#000103" stroke="#000103" d="M659.4 611.5l11.3-0.3 7.1 1.2-11.3 0.4z"/>
<path fill="#000001" stroke="#000001" d="M677.8 612.4l11.3-0.5 7 0.9-11.3 0.6z"/>
<path fill="#000000" stroke="#000000" d="M696.1 612.8l11.3-0.9 7.1 0.7-11.3 0.9z"/>
<path fill="#000000" stroke="#000000" d="M733 611.8l11.3-1.6 7.2 0.2-11.4 1.6z"/>
<path fill="#000000" stroke="#000000" d="M751.5 610.4l11.3-1.9 7.2-0.1-11.4 2z"/>
<path fill="#000000" stroke="#000000" d="M825.8 599.1l11.4-3.1 7.3-1.1-11.5 3.2z"/>
<path fill="#000000" stroke="#000000" d="M882 584.6l11.5-4.1 7.3-1.9-11.6 4.3z"/>
<path fill="#000000" stroke="#000000" d="M900.8 578.6l11.5-4.5 7.3-2-11.5 4.6z"/>
<path fill="#000000" stroke="#000000" d="M919.6 572.1l11.6-4.9 7.3-2.3-11.5 5z"/>
<path fill="#000000" stroke="#000000" d="M957.5 557.2l11.6-5.6 7.4-2.7-11.6 5.6z"/>
<path fill="#000000" stroke="#000000" d="M976.5 548.9l11.6-6 7.4-2.9-11.6 6z"/>
<path fill="#000000" stroke="#000000" d="M1033.7 520.4l11.7-6.9 7.5-3.7-11.7 7.1z"/>
<path fill="#000000" stroke="#000000" d="M1052.9 509.8l11.7-7.3 7.5-3.9-11.7 7.4z"/>
<path fill="#000000" stroke="#000000" d="M1110.8 474.4l11.8-8.4 7.5-4.6-11.8 8.6z"/>
<path fill="#000408" stroke="#000408" d="M575.2 600.9l11.2 1.1 7 2.4-11.3-1.1z"/>
<path fill="#000000" stroke="#000000" d="M851.7 593.6l11.5-3.6 7.3-1.4-11.5 3.6z"/>
<path fill="#003f39" stroke="#003f39" d="M358.5 514.4l11.1 4.6 6.9 5.7-11.2-4.4z"/>
<path fill="#003133" stroke="#003133" d="M394.4 534.5l11.1 4 6.9 5.2-11.1-4z"/>
<path fill="#000000" stroke="#000000" d="M777.1 608.2l11.5-2.3 7.1-0.5-11.4 2.4z"/>
<path fill="#003937" stroke="#003937" d="M376.5 524.7l11.1 4.4 6.8 5.4-11.1-4.2z"/>
<path fill="#00282c" stroke="#00282c" d="M412.4 543.7l11.1 3.7 6.9 4.9-11.1-3.7z"/>
<path fill="#002026" stroke="#002026" d="M430.4 552.3l11.1 3.5 6.9 4.5-11.1-3.4z"/>
<path fill="#001920" stroke="#001920" d="M448.4 560.3l11.2 3.2 6.9 4.3-11.2-3.1z"/>
<path fill="#000e14" stroke="#000e14" d="M484.5 574.7l11.2 2.7 6.9 3.7-11.2-2.5z"/>
<path fill="#00080d" stroke="#00080d" d="M520.7 586.9l11.2 2.1 6.9 3.1-11.2-1.9z"/>
<path fill="#00060a" stroke="#00060a" d="M557 596.8l11.2 1.5 7 2.6-11.3-1.4z"/>
<path fill="#000305" stroke="#000305" d="M611.6 607.3l11.2 0.6 7 1.8-11.2-0.4z"/>
<path fill="#000203" stroke="#000203" d="M629.8 609.7l11.3 0.3 7 1.5-11.2-0.1z"/>
<path fill="#000101" stroke="#000101" d="M648.1 611.5l11.3 0 7.1 1.3-11.3 0.1z"/>
<path fill="#000000" stroke="#000000" d="M684.8 613.4l11.3-0.6 7.1 0.7-11.3 0.8z"/>
<path fill="#000000" stroke="#000000" d="M703.2 613.5l11.3-0.9 7.1 0.5-11.3 1z"/>
<path fill="#000000" stroke="#000000" d="M721.6 613.1l11.4-1.3 7.1 0.2-11.4 1.4z"/>
<path fill="#000000" stroke="#000000" d="M758.6 610.4l11.4-2 7.1-0.2-11.4 2z"/>
<path fill="#000000" stroke="#000000" d="M795.7 605.4l11.4-2.6 7.2-0.7-11.4 2.7z"/>
<path fill="#000000" stroke="#000000" d="M814.3 602.1l11.5-3 7.2-1-11.5 3.1z"/>
<path fill="#000000" stroke="#000000" d="M833 598.1l11.5-3.2 7.2-1.3-11.5 3.4z"/>
<path fill="#000000" stroke="#000000" d="M889.2 582.9l11.6-4.3 7.3-1.9-11.6 4.3z"/>
<path fill="#000000" stroke="#000000" d="M908.1 576.7l11.5-4.6 7.4-2.2-11.6 4.7z"/>
<path fill="#000000" stroke="#000000" d="M945.9 562.5l11.6-5.3 7.4-2.7-11.7 5.4z"/>
<path fill="#000000" stroke="#000000" d="M964.9 554.5l11.6-5.6 7.4-2.9-11.7 5.7z"/>
<path fill="#000000" stroke="#000000" d="M983.9 546l11.6-6 7.4-3.1-11.6 6.1z"/>
<path fill="#000000" stroke="#000000" d="M1002.9 536.9l11.7-6.4 7.4-3.3-11.6 6.4z"/>
<path fill="#000000" stroke="#000000" d="M1022 527.2l11.7-6.8 7.5-3.5-11.7 6.8z"/>
<path fill="#000000" stroke="#000000" d="M1041.2 516.9l11.7-7.1 7.5-3.8-11.7 7.2z"/>
<path fill="#000000" stroke="#000000" d="M1060.4 506l11.7-7.4 7.6-4-11.8 7.5z"/>
<path fill="#000000" stroke="#000000" d="M1079.7 494.6l11.7-7.8 7.6-4.2-11.8 7.9z"/>
<path fill="#000000" stroke="#000000" d="M1099 482.6l11.8-8.2 7.5-4.4-11.8 8.2z"/>
<path fill="#00131a" stroke="#00131a" d="M466.5 567.8l11.1 2.9 6.9 4-11.1-2.8z"/>
<path fill="#000b10" stroke="#000b10" d="M502.6 581.1l11.2 2.4 6.9 3.4-11.2-2.3z"/>
<path fill="#00070b" stroke="#00070b" d="M538.8 592.1l11.2 1.8 7 2.9-11.2-1.7z"/>
<path fill="#000407" stroke="#000407" d="M593.4 604.4l11.2 0.9 7 2-11.3-0.7z"/>
<path fill="#000000" stroke="#000000" d="M666.5 612.8l11.3-0.4 7 1-11.3 0.5z"/>
<path fill="#000000" stroke="#000000" d="M740.1 612l11.4-1.6 7.1 0-11.4 1.7z"/>
<path fill="#000000" stroke="#000000" d="M870.5 588.6l11.5-4 7.2-1.7-11.5 4z"/>
<path fill="#000000" stroke="#000000" d="M927 569.9l11.5-5 7.4-2.4-11.6 5z"/>
<path fill="#003433" stroke="#003433" d="M383.3 530.3l11.1 4.2 6.9 5.2-11.1-4.1z"/>
<path fill="#000407" stroke="#000407" d="M563.9 599.5l11.3 1.4 6.9 2.4-11.2-1.3z"/>
<path fill="#000102" stroke="#000102" d="M618.6 609.3l11.2 0.4 7.1 1.7-11.3-0.4z"/>
<path fill="#000000" stroke="#000000" d="M691.9 614.3l11.3-0.8 7.1 0.6-11.4 0.9z"/>
<path fill="#000000" stroke="#000000" d="M765.7 610.2l11.4-2 7.2-0.4-11.4 2.1z"/>
<path fill="#000000" stroke="#000000" d="M821.5 601.2l11.5-3.1 7.2-1.1-11.4 3.1z"/>
<path fill="#000000" stroke="#000000" d="M840.2 597l11.5-3.4 7.3-1.4-11.5 3.5z"/>
<path fill="#000000" stroke="#000000" d="M896.5 581l11.6-4.3 7.3-2.1-11.6 4.4z"/>
<path fill="#000000" stroke="#000000" d="M953.2 559.9l11.7-5.4 7.3-2.8-11.6 5.5z"/>
<path fill="#000000" stroke="#000000" d="M972.2 551.7l11.7-5.7 7.4-3-11.7 5.8z"/>
<path fill="#000000" stroke="#000000" d="M1029.5 523.7l11.7-6.8 7.5-3.7-11.7 6.9z"/>
<path fill="#000000" stroke="#000000" d="M1048.7 513.2l11.7-7.2 7.5-3.9-11.7 7.3z"/>
<path fill="#003a36" stroke="#003a36" d="M365.3 520.3l11.2 4.4 6.8 5.6-11.1-4.4z"/>
<path fill="#002b2d" stroke="#002b2d" d="M401.3 539.7l11.1 4 6.9 4.9-11.2-3.9z"/>
<path fill="#002227" stroke="#002227" d="M419.3 548.6l11.1 3.7 6.9 4.6-11.2-3.6z"/>
<path fill="#001b21" stroke="#001b21" d="M437.3 556.9l11.1 3.4 6.9 4.4-11.1-3.3z"/>
<path fill="#001015" stroke="#001015" d="M473.4 571.9l11.1 2.8 6.9 3.9-11.1-2.8z"/>
<path fill="#00090d" stroke="#00090d" d="M509.5 584.6l11.2 2.3 6.9 3.3-11.2-2.2z"/>
<path fill="#000509" stroke="#000509" d="M545.8 595.1l11.2 1.7 6.9 2.7-11.2-1.6z"/>
<path fill="#000000" stroke="#000000" d="M784.3 607.8l11.4-2.4 7.2-0.6-11.4 2.4z"/>
<path fill="#00151b" stroke="#00151b" d="M455.3 564.7l11.2 3.1 6.9 4.1-11.2-3z"/>
<path fill="#000c11" stroke="#000c11" d="M491.4 578.6l11.2 2.5 6.9 3.5-11.2-2.4z"/>
<path fill="#00070b" stroke="#00070b" d="M527.6 590.2l11.2 1.9 7 3-11.2-1.9z"/>
<path fill="#000306" stroke="#000306" d="M582.1 603.3l11.3 1.1 6.9 2.2-11.2-1z"/>
<path fill="#000204" stroke="#000204" d="M600.3 606.6l11.3 0.7 7 2-11.3-0.7z"/>
<path fill="#000000" stroke="#000000" d="M636.9 611.4l11.2 0.1 7.1 1.4-11.3-0.1z"/>
<path fill="#000000" stroke="#000000" d="M655.2 612.9l11.3-0.1 7 1.1-11.3 0.2z"/>
<path fill="#000000" stroke="#000000" d="M673.5 613.9l11.3-0.5 7.1 0.9-11.3 0.5z"/>
<path fill="#000000" stroke="#000000" d="M710.3 614.1l11.3-1 7.1 0.3-11.3 1.2z"/>
<path fill="#000000" stroke="#000000" d="M728.7 613.4l11.4-1.4 7.1 0.1-11.4 1.5z"/>
<path fill="#000000" stroke="#000000" d="M747.2 612.1l11.4-1.7 7.1-0.2-11.4 1.8z"/>
<path fill="#000000" stroke="#000000" d="M802.9 604.8l11.4-2.7 7.2-0.9-11.4 2.7z"/>
<path fill="#000000" stroke="#000000" d="M859 592.2l11.5-3.6 7.2-1.7-11.5 3.8z"/>
<path fill="#000000" stroke="#000000" d="M877.7 586.9l11.5-4 7.3-1.9-11.5 4.2z"/>
<path fill="#000000" stroke="#000000" d="M915.4 574.6l11.6-4.7 7.3-2.4-11.6 4.8z"/>
<path fill="#000000" stroke="#000000" d="M991.3 543l11.6-6.1 7.5-3.3-11.7 6.2z"/>
<path fill="#000000" stroke="#000000" d="M1010.4 533.6l11.6-6.4 7.5-3.5-11.7 6.5z"/>
<path fill="#000000" stroke="#000000" d="M1067.9 502.1l11.8-7.5 7.5-4.1-11.8 7.6z"/>
<path fill="#000000" stroke="#000000" d="M1087.2 490.5l11.8-7.9 7.5-4.4-11.8 8z"/>
<path fill="#000000" stroke="#000000" d="M934.3 567.5l11.6-5 7.3-2.6-11.6 5.2z"/>
<path fill="#000000" stroke="#000000" d="M828.8 600.1l11.4-3.1 7.3-1.3-11.5 3.2z"/>
<path fill="#000000" stroke="#000000" d="M960.6 557.2l11.6-5.5 7.4-2.9-11.6 5.6z"/>
<path fill="#000000" stroke="#000000" d="M1037 520.1l11.7-6.9 7.5-3.8-11.8 7z"/>
<path fill="#003532" stroke="#003532" d="M372.2 525.9l11.1 4.4 6.9 5.3-11.2-4.3z"/>
<path fill="#000306" stroke="#000306" d="M552.7 597.9l11.2 1.6 7 2.5-11.3-1.5z"/>
<path fill="#002d2e" stroke="#002d2e" d="M390.2 535.6l11.1 4.1 6.8 5-11.1-4z"/>
<path fill="#002528" stroke="#002528" d="M408.1 544.7l11.2 3.9 6.8 4.7-11.1-3.7z"/>
<path fill="#001d22" stroke="#001d22" d="M426.1 553.3l11.2 3.6 6.9 4.5-11.2-3.5z"/>
<path fill="#001116" stroke="#001116" d="M462.2 568.9l11.2 3 6.9 3.9-11.2-2.9z"/>
<path fill="#00090d" stroke="#00090d" d="M498.3 582.2l11.2 2.4 6.9 3.4-11.2-2.4z"/>
<path fill="#000508" stroke="#000508" d="M534.6 593.2l11.2 1.9 6.9 2.8-11.2-1.8z"/>
<path fill="#000103" stroke="#000103" d="M589.1 605.6l11.2 1 7 2-11.2-0.9z"/>
<path fill="#000001" stroke="#000001" d="M607.3 608.6l11.3 0.7 7 1.7-11.3-0.6z"/>
<path fill="#000000" stroke="#000000" d="M625.6 611l11.3 0.4 7 1.4-11.3-0.3z"/>
<path fill="#000000" stroke="#000000" d="M662.2 614.1l11.3-0.2 7.1 0.9-11.4 0.4z"/>
<path fill="#000000" stroke="#000000" d="M680.6 614.8l11.3-0.5 7 0.7-11.3 0.6z"/>
<path fill="#000000" stroke="#000000" d="M698.9 615l11.4-0.9 7.1 0.5-11.4 0.9z"/>
<path fill="#000000" stroke="#000000" d="M735.8 613.6l11.4-1.5 7.1-0.1-11.3 1.6z"/>
<path fill="#000000" stroke="#000000" d="M754.3 612l11.4-1.8 7.2-0.3-11.4 1.9z"/>
<path fill="#000000" stroke="#000000" d="M772.9 609.9l11.4-2.1 7.2-0.6-11.5 2.2z"/>
<path fill="#000000" stroke="#000000" d="M810.1 603.9l11.4-2.7 7.3-1.1-11.5 2.9z"/>
<path fill="#000000" stroke="#000000" d="M866.2 590.7l11.5-3.8 7.3-1.7-11.5 3.8z"/>
<path fill="#000000" stroke="#000000" d="M885 585.2l11.5-4.2 7.3-2-11.5 4.2z"/>
<path fill="#000000" stroke="#000000" d="M903.8 579l11.6-4.4 7.3-2.3-11.6 4.6z"/>
<path fill="#000000" stroke="#000000" d="M979.6 548.8l11.7-5.8 7.4-3.2-11.7 5.9z"/>
<path fill="#000000" stroke="#000000" d="M1017.8 530.2l11.7-6.5 7.5-3.6-11.8 6.6z"/>
<path fill="#000000" stroke="#000000" d="M1056.2 509.4l11.7-7.3 7.5-4-11.8 7.4z"/>
<path fill="#00171c" stroke="#00171c" d="M444.2 561.4l11.1 3.3 6.9 4.2-11.2-3.2z"/>
<path fill="#000c11" stroke="#000c11" d="M480.3 575.8l11.1 2.8 6.9 3.6-11.2-2.7z"/>
<path fill="#00060a" stroke="#00060a" d="M516.4 588l11.2 2.2 7 3-11.3-2.1z"/>
<path fill="#000000" stroke="#000000" d="M791.5 607.2l11.4-2.4 7.2-0.9-11.5 2.6z"/>
<path fill="#000204" stroke="#000204" d="M570.9 602l11.2 1.3 7 2.3-11.3-1.2z"/>
<path fill="#000000" stroke="#000000" d="M643.9 612.8l11.3 0.1 7 1.2-11.3 0z"/>
<path fill="#000000" stroke="#000000" d="M717.4 614.6l11.3-1.2 7.1 0.2-11.3 1.2z"/>
<path fill="#000000" stroke="#000000" d="M847.5 595.7l11.5-3.5 7.2-1.5-11.5 3.5z"/>
<path fill="#000000" stroke="#000000" d="M922.7 572.3l11.6-4.8 7.3-2.4-11.6 4.9z"/>
<path fill="#000000" stroke="#000000" d="M941.6 565.1l11.6-5.2 7.4-2.7-11.6 5.3z"/>
<path fill="#000000" stroke="#000000" d="M998.7 539.8l11.7-6.2 7.4-3.4-11.7 6.3z"/>
<path fill="#000000" stroke="#000000" d="M1075.4 498.1l11.8-7.6 7.5-4.3-11.8 7.8z"/>
<path fill="#000305" stroke="#000305" d="M541.5 596.1l11.2 1.8 6.9 2.6-11.2-1.7z"/>
<path fill="#000000" stroke="#000000" d="M596.1 607.7l11.2 0.9 7 1.8-11.3-0.8z"/>
<path fill="#000000" stroke="#000000" d="M669.2 615.2l11.4-0.4 7 0.8-11.3 0.4z"/>
<path fill="#000000" stroke="#000000" d="M743 613.6l11.3-1.6 7.2-0.2-11.4 1.7z"/>
<path fill="#000000" stroke="#000000" d="M817.3 603l11.5-2.9 7.2-1.2-11.5 3z"/>
<path fill="#000000" stroke="#000000" d="M873.5 589l11.5-3.8 7.3-2-11.6 4z"/>
<path fill="#000000" stroke="#000000" d="M968 554.4l11.6-5.6 7.4-3.1-11.7 5.7z"/>
<path fill="#000000" stroke="#000000" d="M1025.2 526.7l11.8-6.6 7.4-3.7-11.7 6.7z"/>
<path fill="#000000" stroke="#000000" d="M1044.4 516.4l11.8-7 7.4-3.9-11.7 7.1z"/>
<path fill="#002f2e" stroke="#002f2e" d="M379 531.3l11.2 4.3 6.8 5.1-11.1-4.2z"/>
<path fill="#002729" stroke="#002729" d="M397 540.7l11.1 4 6.9 4.9-11.2-4z"/>
<path fill="#001f22" stroke="#001f22" d="M415 549.6l11.1 3.7 6.9 4.6-11.2-3.7z"/>
<path fill="#001217" stroke="#001217" d="M451 565.7l11.2 3.2 6.9 4-11.2-3.2z"/>
<path fill="#00090d" stroke="#00090d" d="M487.1 579.5l11.2 2.7 6.9 3.4-11.2-2.6z"/>
<path fill="#000407" stroke="#000407" d="M523.3 591.1l11.3 2.1 6.9 2.9-11.2-2z"/>
<path fill="#000000" stroke="#000000" d="M798.6 606.5l11.5-2.6 7.2-0.9-11.5 2.6z"/>
<path fill="#00181c" stroke="#00181c" d="M433 557.9l11.2 3.5 6.8 4.3-11.1-3.4z"/>
<path fill="#000d11" stroke="#000d11" d="M469.1 572.9l11.2 2.9 6.8 3.7-11.1-2.8z"/>
<path fill="#00060a" stroke="#00060a" d="M505.2 585.6l11.2 2.4 6.9 3.1-11.2-2.2z"/>
<path fill="#000101" stroke="#000101" d="M577.8 604.4l11.3 1.2 7 2.1-11.3-1.2z"/>
<path fill="#000000" stroke="#000000" d="M614.3 610.4l11.3 0.6 7 1.5-11.3-0.5z"/>
<path fill="#000000" stroke="#000000" d="M632.6 612.5l11.3 0.3 7 1.3-11.3-0.2z"/>
<path fill="#000000" stroke="#000000" d="M650.9 614.1l11.3 0 7 1.1-11.3 0z"/>
<path fill="#000000" stroke="#000000" d="M687.6 615.6l11.3-0.6 7.1 0.5-11.3 0.7z"/>
<path fill="#000000" stroke="#000000" d="M706 615.5l11.4-0.9 7.1 0.2-11.4 1.1z"/>
<path fill="#000000" stroke="#000000" d="M724.5 614.8l11.3-1.2 7.2 0-11.4 1.3z"/>
<path fill="#000000" stroke="#000000" d="M761.5 611.8l11.4-1.9 7.1-0.5-11.4 2z"/>
<path fill="#000000" stroke="#000000" d="M780 609.4l11.5-2.2 7.1-0.7-11.4 2.3z"/>
<path fill="#000000" stroke="#000000" d="M836 598.9l11.5-3.2 7.2-1.5-11.5 3.3z"/>
<path fill="#000000" stroke="#000000" d="M854.7 594.2l11.5-3.5 7.3-1.7-11.6 3.6z"/>
<path fill="#000000" stroke="#000000" d="M892.3 583.2l11.5-4.2 7.3-2.1-11.6 4.3z"/>
<path fill="#000000" stroke="#000000" d="M911.1 576.9l11.6-4.6 7.3-2.3-11.6 4.6z"/>
<path fill="#000000" stroke="#000000" d="M930 570l11.6-4.9 7.4-2.6-11.6 4.9z"/>
<path fill="#000000" stroke="#000000" d="M949 562.5l11.6-5.3 7.4-2.8-11.7 5.3z"/>
<path fill="#000000" stroke="#000000" d="M987 545.7l11.7-5.9 7.4-3.3-11.7 6.1z"/>
<path fill="#000000" stroke="#000000" d="M1006.1 536.5l11.7-6.3 7.4-3.5-11.7 6.4z"/>
<path fill="#000000" stroke="#000000" d="M1063.6 505.5l11.8-7.4 7.5-4.1-11.8 7.4z"/>
<path fill="#000203" stroke="#000203" d="M559.6 600.5l11.3 1.5 6.9 2.4-11.2-1.4z"/>
<path fill="#000204" stroke="#000204" d="M530.3 594.1l11.2 2 6.9 2.7-11.2-1.9z"/>
<path fill="#000000" stroke="#000000" d="M805.8 605.6l11.5-2.6 7.2-1.1-11.5 2.7z"/>
<path fill="#002929" stroke="#002929" d="M385.9 536.5l11.1 4.2 6.8 4.9-11.1-4.1z"/>
<path fill="#002123" stroke="#002123" d="M403.8 545.6l11.2 4 6.8 4.6-11.1-3.9z"/>
<path fill="#001317" stroke="#001317" d="M439.9 562.3l11.1 3.4 6.9 4-11.2-3.3z"/>
<path fill="#000a0d" stroke="#000a0d" d="M476 576.7l11.1 2.8 6.9 3.5-11.2-2.7z"/>
<path fill="#000406" stroke="#000406" d="M512.1 588.9l11.2 2.2 7 3-11.3-2.2z"/>
<path fill="#000000" stroke="#000000" d="M584.8 606.5l11.3 1.2 6.9 1.9-11.3-1.1z"/>
<path fill="#000000" stroke="#000000" d="M603 609.6l11.3 0.8 7 1.6-11.3-0.7z"/>
<path fill="#000000" stroke="#000000" d="M639.6 613.9l11.3 0.2 7 1.1-11.3-0.1z"/>
<path fill="#000000" stroke="#000000" d="M657.9 615.2l11.3 0 7.1 0.8-11.4 0.2z"/>
<path fill="#000000" stroke="#000000" d="M676.3 616l11.3-0.4 7.1 0.6-11.4 0.5z"/>
<path fill="#000000" stroke="#000000" d="M713.1 615.9l11.4-1.1 7.1 0.1-11.4 1.2z"/>
<path fill="#000000" stroke="#000000" d="M731.6 614.9l11.4-1.3 7.1-0.1-11.5 1.4z"/>
<path fill="#000000" stroke="#000000" d="M750.1 613.5l11.4-1.7 7.1-0.4-11.4 1.8z"/>
<path fill="#000000" stroke="#000000" d="M787.2 608.8l11.4-2.3 7.2-0.9-11.5 2.4z"/>
<path fill="#000000" stroke="#000000" d="M843.2 597.5l11.5-3.3 7.2-1.6-11.5 3.4z"/>
<path fill="#000000" stroke="#000000" d="M861.9 592.6l11.6-3.6 7.2-1.8-11.5 3.7z"/>
<path fill="#000000" stroke="#000000" d="M880.7 587.2l11.6-4 7.2-2-11.5 4z"/>
<path fill="#000000" stroke="#000000" d="M918.4 574.6l11.6-4.6 7.4-2.6-11.7 4.8z"/>
<path fill="#000000" stroke="#000000" d="M937.4 567.4l11.6-4.9 7.3-2.8-11.6 5.1z"/>
<path fill="#000000" stroke="#000000" d="M975.3 551.4l11.7-5.7 7.4-3.1-11.7 5.7z"/>
<path fill="#000000" stroke="#000000" d="M994.4 542.6l11.7-6.1 7.4-3.4-11.7 6.1z"/>
<path fill="#000000" stroke="#000000" d="M1013.5 533.1l11.7-6.4 7.5-3.6-11.8 6.5z"/>
<path fill="#000000" stroke="#000000" d="M1032.7 523.1l11.7-6.7 7.5-3.8-11.8 6.8z"/>
<path fill="#000000" stroke="#000000" d="M1051.9 512.6l11.7-7.1 7.5-4.1-11.7 7.2z"/>
<path fill="#001a1d" stroke="#001a1d" d="M421.8 554.2l11.2 3.7 6.9 4.4-11.2-3.6z"/>
<path fill="#000e12" stroke="#000e12" d="M457.9 569.7l11.2 3.2 6.9 3.8-11.2-3.1z"/>
<path fill="#000609" stroke="#000609" d="M494 583l11.2 2.6 6.9 3.3-11.2-2.5z"/>
<path fill="#000000" stroke="#000000" d="M566.6 603l11.2 1.4 7 2.1-11.3-1.3z"/>
<path fill="#000102" stroke="#000102" d="M548.4 598.8l11.2 1.7 7 2.5-11.3-1.7z"/>
<path fill="#000000" stroke="#000000" d="M621.3 612l11.3 0.5 7 1.4-11.3-0.4z"/>
<path fill="#000000" stroke="#000000" d="M694.7 616.2l11.3-0.7 7.1 0.4-11.4 0.8z"/>
<path fill="#000000" stroke="#000000" d="M768.6 611.4l11.4-2 7.2-0.6-11.5 2.1z"/>
<path fill="#000000" stroke="#000000" d="M824.5 601.9l11.5-3 7.2-1.4-11.5 3.1z"/>
<path fill="#000000" stroke="#000000" d="M899.5 581.2l11.6-4.3 7.3-2.3-11.6 4.4z"/>
<path fill="#000000" stroke="#000000" d="M956.3 559.7l11.7-5.3 7.3-3-11.6 5.4z"/>
<path fill="#000203" stroke="#000203" d="M519 591.9l11.3 2.2 6.9 2.8-11.3-2.1z"/>
<path fill="#000000" stroke="#000000" d="M646.6 615.1l11.3 0.1 7 1-11.3 0z"/>
<path fill="#000000" stroke="#000000" d="M720.2 616.1l11.4-1.2 7 0-11.4 1.2z"/>
<path fill="#000000" stroke="#000000" d="M794.3 608l11.5-2.4 7.2-1-11.5 2.5z"/>
<path fill="#000000" stroke="#000000" d="M850.4 596l11.5-3.4 7.3-1.7-11.6 3.5z"/>
<path fill="#000000" stroke="#000000" d="M925.7 572.2l11.7-4.8 7.3-2.6-11.7 4.8z"/>
<path fill="#000000" stroke="#000000" d="M982.7 548.3l11.7-5.7 7.4-3.4-11.7 5.9z"/>
<path fill="#000000" stroke="#000000" d="M1001.8 539.2l11.7-6.1 7.4-3.5-11.7 6.2z"/>
<path fill="#002323" stroke="#002323" d="M392.7 541.5l11.1 4.1 6.9 4.7-11.2-4z"/>
<path fill="#001417" stroke="#001417" d="M428.7 558.7l11.2 3.6 6.8 4.1-11.2-3.5z"/>
<path fill="#000a0d" stroke="#000a0d" d="M464.8 573.6l11.2 3.1 6.8 3.6-11.2-3z"/>
<path fill="#000406" stroke="#000406" d="M500.9 586.4l11.2 2.5 6.9 3-11.2-2.4z"/>
<path fill="#000000" stroke="#000000" d="M573.5 605.2l11.3 1.3 6.9 2-11.2-1.2z"/>
<path fill="#001b1d" stroke="#001b1d" d="M410.7 550.3l11.1 3.9 6.9 4.5-11.2-3.8z"/>
<path fill="#000f12" stroke="#000f12" d="M446.7 566.4l11.2 3.3 6.9 3.9-11.2-3.2z"/>
<path fill="#000709" stroke="#000709" d="M482.8 580.3l11.2 2.7 6.9 3.4-11.2-2.7z"/>
<path fill="#000000" stroke="#000000" d="M555.3 601.3l11.3 1.7 6.9 2.2-11.2-1.5z"/>
<path fill="#000000" stroke="#000000" d="M591.7 608.5l11.3 1.1 7 1.7-11.3-0.9z"/>
<path fill="#000000" stroke="#000000" d="M610 611.3l11.3 0.7 7 1.5-11.3-0.7z"/>
<path fill="#000000" stroke="#000000" d="M628.3 613.5l11.3 0.4 7 1.2-11.3-0.3z"/>
<path fill="#000000" stroke="#000000" d="M664.9 616.2l11.4-0.2 7 0.7-11.4 0.3z"/>
<path fill="#000000" stroke="#000000" d="M683.3 616.7l11.4-0.5 7 0.5-11.4 0.5z"/>
<path fill="#000000" stroke="#000000" d="M701.7 616.7l11.4-0.8 7.1 0.2-11.4 0.9z"/>
<path fill="#000000" stroke="#000000" d="M738.6 614.9l11.5-1.4 7.1-0.3-11.5 1.5z"/>
<path fill="#000000" stroke="#000000" d="M757.2 613.2l11.4-1.8 7.1-0.5-11.4 1.8z"/>
<path fill="#000000" stroke="#000000" d="M775.7 610.9l11.5-2.1 7.1-0.8-11.4 2.2z"/>
<path fill="#000000" stroke="#000000" d="M831.7 600.6l11.5-3.1 7.2-1.5-11.5 3.2z"/>
<path fill="#000000" stroke="#000000" d="M869.2 590.9l11.5-3.7 7.3-2-11.6 3.8z"/>
<path fill="#000000" stroke="#000000" d="M888 585.2l11.5-4 7.3-2.2-11.6 4.1z"/>
<path fill="#000000" stroke="#000000" d="M906.8 579l11.6-4.4 7.3-2.4-11.6 4.4z"/>
<path fill="#000000" stroke="#000000" d="M944.7 564.8l11.6-5.1 7.4-2.9-11.7 5.2z"/>
<path fill="#000000" stroke="#000000" d="M1020.9 529.6l11.8-6.5 7.4-3.7-11.7 6.6z"/>
<path fill="#000000" stroke="#000000" d="M1040.1 519.4l11.8-6.8 7.5-4-11.8 6.9z"/>
<path fill="#000101" stroke="#000101" d="M537.2 596.9l11.2 1.9 6.9 2.5-11.2-1.8z"/>
<path fill="#000000" stroke="#000000" d="M813 604.6l11.5-2.7 7.2-1.3-11.5 2.8z"/>
<path fill="#000000" stroke="#000000" d="M963.7 556.8l11.6-5.4 7.4-3.1-11.7 5.5z"/>
<path fill="#000000" stroke="#000000" d="M990.1 545.1l11.7-5.9 7.4-3.4-11.7 6z"/>
<path fill="#000203" stroke="#000203" d="M507.8 589.5l11.2 2.4 6.9 2.9-11.2-2.3z"/>
<path fill="#001518" stroke="#001518" d="M417.5 554.9l11.2 3.8 6.8 4.2-11.2-3.7z"/>
<path fill="#000a0d" stroke="#000a0d" d="M453.6 570.4l11.2 3.2 6.8 3.7-11.2-3.1z"/>
<path fill="#000405" stroke="#000405" d="M489.7 583.7l11.2 2.7 6.9 3.1-11.2-2.6z"/>
<path fill="#000000" stroke="#000000" d="M562.3 603.7l11.2 1.5 7 2.1-11.3-1.4z"/>
<path fill="#000000" stroke="#000000" d="M617 612.8l11.3 0.7 7 1.3-11.4-0.6z"/>
<path fill="#000000" stroke="#000000" d="M635.3 614.8l11.3 0.3 7 1.1-11.4-0.3z"/>
<path fill="#000000" stroke="#000000" d="M653.6 616.2l11.3 0 7 0.8-11.3 0z"/>
<path fill="#000000" stroke="#000000" d="M690.3 617.2l11.4-0.5 7.1 0.3-11.4 0.6z"/>
<path fill="#000000" stroke="#000000" d="M708.8 617l11.4-0.9 7 0-11.4 1z"/>
<path fill="#000000" stroke="#000000" d="M727.2 616.1l11.4-1.2 7.1-0.2-11.4 1.3z"/>
<path fill="#000000" stroke="#000000" d="M764.3 612.7l11.4-1.8 7.2-0.7-11.5 1.9z"/>
<path fill="#000000" stroke="#000000" d="M782.9 610.2l11.4-2.2 7.2-0.9-11.5 2.2z"/>
<path fill="#000000" stroke="#000000" d="M838.9 599.2l11.5-3.2 7.2-1.6-11.5 3.2z"/>
<path fill="#000000" stroke="#000000" d="M857.6 594.4l11.6-3.5 7.2-1.9-11.6 3.6z"/>
<path fill="#000000" stroke="#000000" d="M895.2 583.1l11.6-4.1 7.3-2.4-11.6 4.3z"/>
<path fill="#000000" stroke="#000000" d="M914.1 576.6l11.6-4.4 7.3-2.6-11.6 4.6z"/>
<path fill="#000000" stroke="#000000" d="M933 569.6l11.7-4.8 7.3-2.8-11.6 4.9z"/>
<path fill="#000000" stroke="#000000" d="M1009.2 535.8l11.7-6.2 7.5-3.6-11.8 6.3z"/>
<path fill="#001c1e" stroke="#001c1e" d="M399.5 546.3l11.2 4 6.8 4.6-11.2-4z"/>
<path fill="#000f12" stroke="#000f12" d="M435.5 562.9l11.2 3.5 6.9 4-11.2-3.4z"/>
<path fill="#000709" stroke="#000709" d="M471.6 577.3l11.2 3 6.9 3.4-11.2-2.9z"/>
<path fill="#000000" stroke="#000000" d="M544.1 599.5l11.2 1.8 7 2.4-11.3-1.7z"/>
<path fill="#000000" stroke="#000000" d="M580.5 607.3l11.2 1.2 7 1.9-11.3-1.2z"/>
<path fill="#000000" stroke="#000000" d="M820.2 603.4l11.5-2.8 7.2-1.4-11.6 2.9z"/>
<path fill="#000000" stroke="#000000" d="M525.9 594.8l11.3 2.1 6.9 2.6-11.3-2z"/>
<path fill="#000000" stroke="#000000" d="M598.7 610.4l11.3 0.9 7 1.5-11.3-0.8z"/>
<path fill="#000000" stroke="#000000" d="M671.9 617l11.4-0.3 7 0.5-11.3 0.4z"/>
<path fill="#000000" stroke="#000000" d="M745.7 614.7l11.5-1.5 7.1-0.5-11.5 1.6z"/>
<path fill="#000000" stroke="#000000" d="M801.5 607.1l11.5-2.5 7.2-1.2-11.5 2.6z"/>
<path fill="#000000" stroke="#000000" d="M876.4 589l11.6-3.8 7.2-2.1-11.5 3.9z"/>
<path fill="#000000" stroke="#000000" d="M952 562l11.7-5.2 7.3-3-11.6 5.3z"/>
<path fill="#000000" stroke="#000000" d="M971 553.8l11.7-5.5 7.4-3.2-11.7 5.6z"/>
<path fill="#000000" stroke="#000000" d="M1028.4 526l11.7-6.6 7.5-3.9-11.8 6.7z"/>
<path fill="#000102" stroke="#000102" d="M496.6 586.9l11.2 2.6 6.9 3-11.3-2.5z"/>
<path fill="#000000" stroke="#000000" d="M623.9 614.2l11.4 0.6 6.9 1.1-11.3-0.4z"/>
<path fill="#000000" stroke="#000000" d="M697.4 617.6l11.4-0.6 7 0.1-11.4 0.7z"/>
<path fill="#000000" stroke="#000000" d="M771.4 612.1l11.5-1.9 7.1-0.9-11.5 2z"/>
<path fill="#000000" stroke="#000000" d="M902.5 580.9l11.6-4.3 7.3-2.4-11.6 4.3z"/>
<path fill="#000000" stroke="#000000" d="M997.5 541.8l11.7-6 7.4-3.5-11.7 6z"/>
<path fill="#001618" stroke="#001618" d="M406.3 550.9l11.2 4 6.8 4.3-11.1-3.9z"/>
<path fill="#000b0d" stroke="#000b0d" d="M442.4 567l11.2 3.4 6.8 3.8-11.2-3.4z"/>
<path fill="#000305" stroke="#000305" d="M478.5 580.8l11.2 2.9 6.9 3.2-11.3-2.7z"/>
<path fill="#000000" stroke="#000000" d="M551 602l11.3 1.7 6.9 2.2-11.3-1.7z"/>
<path fill="#000000" stroke="#000000" d="M827.3 602.1l11.6-2.9 7.2-1.6-11.6 3z"/>
<path fill="#001012" stroke="#001012" d="M424.3 559.2l11.2 3.7 6.9 4.1-11.2-3.6z"/>
<path fill="#000708" stroke="#000708" d="M460.4 574.2l11.2 3.1 6.9 3.5-11.2-3z"/>
<path fill="#000000" stroke="#000000" d="M532.8 597.5l11.3 2 6.9 2.5-11.3-2z"/>
<path fill="#000000" stroke="#000000" d="M569.2 605.9l11.3 1.4 6.9 1.9-11.3-1.3z"/>
<path fill="#000000" stroke="#000000" d="M605.7 612l11.3 0.8 6.9 1.4-11.3-0.7z"/>
<path fill="#000000" stroke="#000000" d="M642.2 615.9l11.4 0.3 7 0.8-11.4-0.1z"/>
<path fill="#000000" stroke="#000000" d="M660.6 617l11.3 0 7.1 0.6-11.4 0.2z"/>
<path fill="#000000" stroke="#000000" d="M679 617.6l11.3-0.4 7.1 0.4-11.4 0.5z"/>
<path fill="#000000" stroke="#000000" d="M715.8 617.1l11.4-1 7.1-0.1-11.4 1z"/>
<path fill="#000000" stroke="#000000" d="M734.3 616l11.4-1.3 7.1-0.4-11.4 1.4z"/>
<path fill="#000000" stroke="#000000" d="M752.8 614.3l11.5-1.6 7.1-0.6-11.5 1.7z"/>
<path fill="#000000" stroke="#000000" d="M808.7 606l11.5-2.6 7.1-1.3-11.5 2.6z"/>
<path fill="#000000" stroke="#000000" d="M846.1 597.6l11.5-3.2 7.2-1.8-11.5 3.3z"/>
<path fill="#000000" stroke="#000000" d="M864.8 592.6l11.6-3.6 7.3-2-11.6 3.7z"/>
<path fill="#000000" stroke="#000000" d="M883.7 587l11.5-3.9 7.3-2.2-11.6 4z"/>
<path fill="#000000" stroke="#000000" d="M921.4 574.2l11.6-4.6 7.4-2.7-11.7 4.7z"/>
<path fill="#000000" stroke="#000000" d="M940.4 566.9l11.6-4.9 7.4-2.9-11.7 5z"/>
<path fill="#000000" stroke="#000000" d="M959.4 559.1l11.6-5.3 7.4-3.1-11.7 5.4z"/>
<path fill="#000000" stroke="#000000" d="M978.4 550.7l11.7-5.6 7.4-3.3-11.7 5.7z"/>
<path fill="#000000" stroke="#000000" d="M1016.6 532.3l11.8-6.3 7.4-3.8-11.8 6.4z"/>
<path fill="#000000" stroke="#000000" d="M514.7 592.5l11.2 2.3 6.9 2.7-11.2-2.2z"/>
<path fill="#000000" stroke="#000000" d="M587.4 609.2l11.3 1.2 7 1.6-11.4-1.1z"/>
<path fill="#000000" stroke="#000000" d="M790 609.3l11.5-2.2 7.2-1.1-11.5 2.3z"/>
<path fill="#000101" stroke="#000101" d="M485.3 584.2l11.3 2.7 6.8 3.1-11.2-2.7z"/>
<path fill="#000b0d" stroke="#000b0d" d="M431.2 563.4l11.2 3.6 6.8 3.8-11.2-3.5z"/>
<path fill="#000304" stroke="#000304" d="M467.3 577.8l11.2 3 6.8 3.4-11.2-3z"/>
<path fill="#000000" stroke="#000000" d="M539.7 600l11.3 2 6.9 2.2-11.3-1.8z"/>
<path fill="#000000" stroke="#000000" d="M612.6 613.5l11.3 0.7 7 1.3-11.3-0.7z"/>
<path fill="#000000" stroke="#000000" d="M630.9 615.5l11.3 0.4 7 1-11.3-0.4z"/>
<path fill="#000000" stroke="#000000" d="M667.6 617.8l11.4-0.2 7 0.5-11.4 0.2z"/>
<path fill="#000000" stroke="#000000" d="M686 618.1l11.4-0.5 7 0.2-11.4 0.6z"/>
<path fill="#000000" stroke="#000000" d="M704.4 617.8l11.4-0.7 7.1-0.1-11.4 0.9z"/>
<path fill="#000000" stroke="#000000" d="M741.4 615.7l11.4-1.4 7.1-0.5-11.4 1.5z"/>
<path fill="#000000" stroke="#000000" d="M759.9 613.8l11.5-1.7 7.1-0.8-11.4 1.8z"/>
<path fill="#000000" stroke="#000000" d="M815.8 604.7l11.5-2.6 7.2-1.5-11.5 2.8z"/>
<path fill="#000000" stroke="#000000" d="M872.1 590.7l11.6-3.7 7.2-2.1-11.6 3.7z"/>
<path fill="#000000" stroke="#000000" d="M890.9 584.9l11.6-4 7.3-2.4-11.6 4.1z"/>
<path fill="#000000" stroke="#000000" d="M909.8 578.5l11.6-4.3 7.3-2.6-11.6 4.4z"/>
<path fill="#000000" stroke="#000000" d="M947.7 564.1l11.7-5 7.3-3-11.7 5.1z"/>
<path fill="#000000" stroke="#000000" d="M966.7 556.1l11.7-5.4 7.4-3.2-11.7 5.4z"/>
<path fill="#000000" stroke="#000000" d="M1004.9 538.3l11.7-6 7.4-3.7-11.7 6.1z"/>
<path fill="#001012" stroke="#001012" d="M413.2 555.3l11.1 3.9 6.9 4.2-11.2-3.8z"/>
<path fill="#000608" stroke="#000608" d="M449.2 570.8l11.2 3.4 6.9 3.6-11.3-3.3z"/>
<path fill="#000000" stroke="#000000" d="M521.6 595.3l11.2 2.2 6.9 2.5-11.2-2.1z"/>
<path fill="#000000" stroke="#000000" d="M557.9 604.2l11.3 1.7 6.9 2-11.3-1.6z"/>
<path fill="#000000" stroke="#000000" d="M594.3 610.9l11.4 1.1 6.9 1.5-11.3-1z"/>
<path fill="#000000" stroke="#000000" d="M834.5 600.6l11.6-3 7.2-1.7-11.6 3.1z"/>
<path fill="#000000" stroke="#000000" d="M503.4 590l11.3 2.5 6.9 2.8-11.3-2.4z"/>
<path fill="#000000" stroke="#000000" d="M576.1 607.9l11.3 1.3 6.9 1.7-11.3-1.2z"/>
<path fill="#000000" stroke="#000000" d="M649.2 616.9l11.4 0.1 7 0.8-11.4-0.1z"/>
<path fill="#000000" stroke="#000000" d="M722.9 617l11.4-1 7.1-0.3-11.4 1.1z"/>
<path fill="#000000" stroke="#000000" d="M778.5 611.3l11.5-2 7.2-1-11.5 2.1z"/>
<path fill="#000000" stroke="#000000" d="M797.2 608.3l11.5-2.3 7.1-1.3-11.5 2.5z"/>
<path fill="#000000" stroke="#000000" d="M853.3 595.9l11.5-3.3 7.3-1.9-11.6 3.4z"/>
<path fill="#000000" stroke="#000000" d="M928.7 571.6l11.7-4.7 7.3-2.8-11.7 4.8z"/>
<path fill="#000000" stroke="#000000" d="M985.8 547.5l11.7-5.7 7.4-3.5-11.8 5.8z"/>
<path fill="#000000" stroke="#000000" d="M474.1 581.2l11.2 3 6.9 3.1-11.2-2.9z"/>
<path fill="#000000" stroke="#000000" d="M674.6 618.3l11.4-0.2 7 0.3-11.4 0.3z"/>
<path fill="#000000" stroke="#000000" d="M748.5 615.3l11.4-1.5 7.2-0.7-11.5 1.6z"/>
<path fill="#000000" stroke="#000000" d="M879.3 588.6l11.6-3.7 7.3-2.3-11.7 3.8z"/>
<path fill="#000000" stroke="#000000" d="M955 561.2l11.7-5.1 7.4-3.2-11.8 5.2z"/>
<path fill="#000b0c" stroke="#000b0c" d="M420 559.6l11.2 3.8 6.8 3.9-11.2-3.7z"/>
<path fill="#000303" stroke="#000303" d="M456 574.5l11.3 3.3 6.8 3.4-11.2-3.2z"/>
<path fill="#000000" stroke="#000000" d="M528.5 597.9l11.2 2.1 6.9 2.4-11.3-2.1z"/>
<path fill="#000000" stroke="#000000" d="M601.3 612.5l11.3 1 7 1.3-11.4-0.9z"/>
<path fill="#000607" stroke="#000607" d="M438 567.3l11.2 3.5 6.8 3.7-11.2-3.4z"/>
<path fill="#000000" stroke="#000000" d="M510.3 592.9l11.3 2.4 6.9 2.6-11.3-2.3z"/>
<path fill="#000000" stroke="#000000" d="M546.6 602.4l11.3 1.8 6.9 2.1-11.3-1.8z"/>
<path fill="#000000" stroke="#000000" d="M583 609.7l11.3 1.2 7 1.6-11.3-1.2z"/>
<path fill="#000000" stroke="#000000" d="M619.6 614.8l11.3 0.7 7 1-11.4-0.6z"/>
<path fill="#000000" stroke="#000000" d="M637.9 616.5l11.3 0.4 7 0.8-11.3-0.3z"/>
<path fill="#000000" stroke="#000000" d="M656.2 617.7l11.4 0.1 7 0.5-11.4 0z"/>
<path fill="#000000" stroke="#000000" d="M693 618.4l11.4-0.6 7.1 0.1-11.4 0.6z"/>
<path fill="#000000" stroke="#000000" d="M711.5 617.9l11.4-0.9 7.1-0.2-11.5 1z"/>
<path fill="#000000" stroke="#000000" d="M730 616.8l11.4-1.1 7.1-0.4-11.5 1.2z"/>
<path fill="#000000" stroke="#000000" d="M785.7 610.4l11.5-2.1 7.1-1.1-11.5 2.2z"/>
<path fill="#000000" stroke="#000000" d="M804.3 607.2l11.5-2.5 7.2-1.3-11.5 2.5z"/>
<path fill="#000000" stroke="#000000" d="M823 603.4l11.5-2.8 7.2-1.6-11.5 2.8z"/>
<path fill="#000000" stroke="#000000" d="M860.5 594.1l11.6-3.4 7.2-2.1-11.6 3.5z"/>
<path fill="#000000" stroke="#000000" d="M898.2 582.6l11.6-4.1 7.3-2.5-11.7 4.2z"/>
<path fill="#000000" stroke="#000000" d="M917.1 576l11.6-4.4 7.3-2.7-11.6 4.5z"/>
<path fill="#000000" stroke="#000000" d="M936 568.9l11.7-4.8 7.3-2.9-11.7 4.8z"/>
<path fill="#000000" stroke="#000000" d="M974.1 552.9l11.7-5.4 7.3-3.4-11.7 5.5z"/>
<path fill="#000000" stroke="#000000" d="M492.2 587.3l11.2 2.7 6.9 2.9-11.2-2.6z"/>
<path fill="#000000" stroke="#000000" d="M564.8 606.3l11.3 1.6 6.9 1.8-11.3-1.5z"/>
<path fill="#000000" stroke="#000000" d="M841.7 599l11.6-3.1 7.2-1.8-11.6 3.1z"/>
<path fill="#000000" stroke="#000000" d="M767.1 613.1l11.4-1.8 7.2-0.9-11.5 1.9z"/>
<path fill="#000000" stroke="#000000" d="M993.1 544.1l11.8-5.8 7.4-3.6-11.8 5.9z"/>
<path fill="#000000" stroke="#000000" d="M462.9 578l11.2 3.2 6.9 3.2-11.3-3.1z"/>
<path fill="#000202" stroke="#000202" d="M444.8 571.1l11.2 3.4 6.9 3.5-11.3-3.3z"/>
<path fill="#000000" stroke="#000000" d="M517.2 595.6l11.3 2.3 6.8 2.4-11.2-2.2z"/>
<path fill="#000000" stroke="#000000" d="M590 611.3l11.3 1.2 6.9 1.4-11.3-1.1z"/>
<path fill="#000000" stroke="#000000" d="M644.9 617.4l11.3 0.3 7 0.6-11.4-0.2z"/>
<path fill="#000000" stroke="#000000" d="M663.2 618.3l11.4 0 7 0.4-11.4 0.1z"/>
<path fill="#000000" stroke="#000000" d="M681.6 618.7l11.4-0.3 7.1 0.1-11.5 0.4z"/>
<path fill="#000000" stroke="#000000" d="M718.5 617.8l11.5-1 7-0.3-11.4 1z"/>
<path fill="#000000" stroke="#000000" d="M737 616.5l11.5-1.2 7.1-0.6-11.5 1.3z"/>
<path fill="#000000" stroke="#000000" d="M792.8 609.4l11.5-2.2 7.2-1.3-11.6 2.3z"/>
<path fill="#000000" stroke="#000000" d="M867.7 592.1l11.6-3.5 7.2-2.2-11.6 3.6z"/>
<path fill="#000000" stroke="#000000" d="M886.5 586.4l11.7-3.8 7.2-2.4-11.6 3.9z"/>
<path fill="#000000" stroke="#000000" d="M924.4 573.4l11.6-4.5 7.3-2.9-11.7 4.6z"/>
<path fill="#000000" stroke="#000000" d="M943.3 566l11.7-4.8 7.3-3.1-11.7 4.9z"/>
<path fill="#000000" stroke="#000000" d="M962.3 558.1l11.8-5.2 7.3-3.3-11.7 5.3z"/>
<path fill="#000607" stroke="#000607" d="M426.8 563.6l11.2 3.7 6.8 3.8-11.2-3.6z"/>
<path fill="#000000" stroke="#000000" d="M499.1 590.3l11.2 2.6 6.9 2.7-11.3-2.6z"/>
<path fill="#000000" stroke="#000000" d="M535.3 600.3l11.3 2.1 6.9 2.1-11.3-1.9z"/>
<path fill="#000000" stroke="#000000" d="M571.7 608.2l11.3 1.5 7 1.6-11.4-1.4z"/>
<path fill="#000000" stroke="#000000" d="M608.2 613.9l11.4 0.9 6.9 1.1-11.3-0.8z"/>
<path fill="#000000" stroke="#000000" d="M848.9 597.2l11.6-3.1 7.2-2-11.6 3.3z"/>
<path fill="#000000" stroke="#000000" d="M481 584.4l11.2 2.9 6.9 3-11.3-2.8z"/>
<path fill="#000000" stroke="#000000" d="M553.5 604.5l11.3 1.8 6.9 1.9-11.3-1.7z"/>
<path fill="#000000" stroke="#000000" d="M626.5 615.9l11.4 0.6 7 0.9-11.4-0.5z"/>
<path fill="#000000" stroke="#000000" d="M700.1 618.5l11.4-0.6 7-0.1-11.4 0.7z"/>
<path fill="#000000" stroke="#000000" d="M755.6 614.7l11.5-1.6 7.1-0.8-11.5 1.6z"/>
<path fill="#000000" stroke="#000000" d="M774.2 612.3l11.5-1.9 7.1-1-11.5 1.9z"/>
<path fill="#000000" stroke="#000000" d="M811.5 605.9l11.5-2.5 7.2-1.6-11.6 2.6z"/>
<path fill="#000000" stroke="#000000" d="M830.2 601.8l11.5-2.8 7.2-1.8-11.6 3z"/>
<path fill="#000000" stroke="#000000" d="M905.4 580.2l11.7-4.2 7.3-2.6-11.7 4.2z"/>
<path fill="#000000" stroke="#000000" d="M981.4 549.6l11.7-5.5 7.4-3.5-11.7 5.6z"/>
<path fill="#000000" stroke="#000000" d="M451.6 574.7l11.3 3.3 6.8 3.3-11.2-3.2z"/>
<path fill="#000000" stroke="#000000" d="M651.8 618.1l11.4 0.2 7 0.5-11.4-0.1z"/>
<path fill="#000000" stroke="#000000" d="M725.6 617.5l11.4-1 7.1-0.5-11.5 1.1z"/>
<path fill="#000000" stroke="#000000" d="M931.6 570.6l11.7-4.6 7.3-3-11.7 4.7z"/>
<path fill="#000102" stroke="#000102" d="M433.6 567.5l11.2 3.6 6.8 3.6-11.2-3.6z"/>
<path fill="#000000" stroke="#000000" d="M505.9 593l11.3 2.6 6.9 2.5-11.3-2.5z"/>
<path fill="#000000" stroke="#000000" d="M578.6 609.9l11.4 1.4 6.9 1.5-11.3-1.3z"/>
<path fill="#000000" stroke="#000000" d="M856.1 595.4l11.6-3.3 7.2-2.1-11.6 3.3z"/>
<path fill="#000000" stroke="#000000" d="M487.8 587.5l11.3 2.8 6.8 2.7-11.3-2.7z"/>
<path fill="#000000" stroke="#000000" d="M524.1 598.1l11.2 2.2 6.9 2.3-11.3-2.2z"/>
<path fill="#000000" stroke="#000000" d="M542.2 602.6l11.3 1.9 6.9 2-11.3-1.8z"/>
<path fill="#000000" stroke="#000000" d="M560.4 606.5l11.3 1.7 6.9 1.7-11.3-1.6z"/>
<path fill="#000000" stroke="#000000" d="M596.9 612.8l11.3 1.1 7 1.2-11.4-1z"/>
<path fill="#000000" stroke="#000000" d="M615.2 615.1l11.3 0.8 7 1-11.4-0.7z"/>
<path fill="#000000" stroke="#000000" d="M633.5 616.9l11.4 0.5 6.9 0.7-11.3-0.4z"/>
<path fill="#000000" stroke="#000000" d="M670.2 618.8l11.4-0.1 7 0.2-11.4 0.2z"/>
<path fill="#000000" stroke="#000000" d="M688.6 618.9l11.5-0.4 7 0-11.4 0.5z"/>
<path fill="#000000" stroke="#000000" d="M707.1 618.5l11.4-0.7 7.1-0.3-11.5 0.8z"/>
<path fill="#000000" stroke="#000000" d="M762.7 613.9l11.5-1.6 7.1-1-11.5 1.8z"/>
<path fill="#000000" stroke="#000000" d="M781.3 611.3l11.5-1.9 7.1-1.2-11.5 2z"/>
<path fill="#000000" stroke="#000000" d="M799.9 608.2l11.6-2.3 7.1-1.5-11.5 2.4z"/>
<path fill="#000000" stroke="#000000" d="M837.3 600.2l11.6-3 7.2-1.8-11.6 3z"/>
<path fill="#000000" stroke="#000000" d="M874.9 590l11.6-3.6 7.3-2.3-11.6 3.6z"/>
<path fill="#000000" stroke="#000000" d="M893.8 584.1l11.6-3.9 7.3-2.6-11.7 4z"/>
<path fill="#000000" stroke="#000000" d="M912.7 577.6l11.7-4.2 7.2-2.8-11.6 4.3z"/>
<path fill="#000000" stroke="#000000" d="M950.6 563l11.7-4.9 7.4-3.2-11.7 5z"/>
<path fill="#000000" stroke="#000000" d="M969.7 554.9l11.7-5.3 7.4-3.4-11.8 5.4z"/>
<path fill="#000000" stroke="#000000" d="M469.7 581.3l11.3 3.1 6.8 3.1-11.3-3z"/>
<path fill="#000000" stroke="#000000" d="M744.1 616l11.5-1.3 7.1-0.8-11.5 1.5z"/>
<path fill="#000000" stroke="#000000" d="M818.6 604.4l11.6-2.6 7.1-1.6-11.5 2.7z"/>
<path fill="#000000" stroke="#000000" d="M440.4 571.1l11.2 3.6 6.9 3.4-11.3-3.5z"/>
<path fill="#000000" stroke="#000000" d="M494.6 590.3l11.3 2.7 6.9 2.6-11.3-2.6z"/>
<path fill="#000000" stroke="#000000" d="M549.1 604.7l11.3 1.8 6.9 1.8-11.3-1.7z"/>
<path fill="#000000" stroke="#000000" d="M567.3 608.3l11.3 1.6 7 1.6-11.4-1.5z"/>
<path fill="#000000" stroke="#000000" d="M585.6 611.5l11.3 1.3 6.9 1.3-11.3-1.2z"/>
<path fill="#000000" stroke="#000000" d="M622.1 616.2l11.4 0.7 7 0.8-11.4-0.6z"/>
<path fill="#000000" stroke="#000000" d="M640.5 617.7l11.3 0.4 7 0.6-11.4-0.4z"/>
<path fill="#000000" stroke="#000000" d="M658.8 618.7l11.4 0.1 7 0.3-11.4 0z"/>
<path fill="#000000" stroke="#000000" d="M695.7 619l11.4-0.5 7-0.2-11.4 0.6z"/>
<path fill="#000000" stroke="#000000" d="M714.1 618.3l11.5-0.8 7-0.4-11.4 0.9z"/>
<path fill="#000000" stroke="#000000" d="M769.8 613.1l11.5-1.8 7.1-1.1-11.5 1.8z"/>
<path fill="#000000" stroke="#000000" d="M844.5 598.4l11.6-3 7.2-2.1-11.6 3.1z"/>
<path fill="#000000" stroke="#000000" d="M863.3 593.3l11.6-3.3 7.3-2.3-11.7 3.5z"/>
<path fill="#000000" stroke="#000000" d="M901 581.6l11.7-4 7.3-2.7-11.7 4.1z"/>
<path fill="#000000" stroke="#000000" d="M920 574.9l11.6-4.3 7.3-2.9-11.7 4.4z"/>
<path fill="#000000" stroke="#000000" d="M938.9 567.7l11.7-4.7 7.4-3.1-11.8 4.8z"/>
<path fill="#000000" stroke="#000000" d="M458.5 578.1l11.2 3.2 6.8 3.2-11.2-3.2z"/>
<path fill="#000000" stroke="#000000" d="M476.5 584.5l11.3 3 6.8 2.8-11.2-2.9z"/>
<path fill="#000000" stroke="#000000" d="M512.8 595.6l11.3 2.5 6.8 2.3-11.3-2.3z"/>
<path fill="#000000" stroke="#000000" d="M530.9 600.4l11.3 2.2 6.9 2.1-11.3-2.1z"/>
<path fill="#000000" stroke="#000000" d="M603.8 614.1l11.4 1 6.9 1.1-11.3-1z"/>
<path fill="#000000" stroke="#000000" d="M677.2 619.1l11.4-0.2 7.1 0.1-11.5 0.2z"/>
<path fill="#000000" stroke="#000000" d="M732.6 617.1l11.5-1.1 7.1-0.6-11.5 1.1z"/>
<path fill="#000000" stroke="#000000" d="M751.2 615.4l11.5-1.5 7.1-0.8-11.5 1.5z"/>
<path fill="#000000" stroke="#000000" d="M788.4 610.2l11.5-2 7.2-1.4-11.6 2.1z"/>
<path fill="#000000" stroke="#000000" d="M807.1 606.8l11.5-2.4 7.2-1.5-11.6 2.4z"/>
<path fill="#000000" stroke="#000000" d="M825.8 602.9l11.5-2.7 7.2-1.8-11.6 2.7z"/>
<path fill="#000000" stroke="#000000" d="M882.2 587.7l11.6-3.6 7.2-2.5-11.6 3.8z"/>
<path fill="#000000" stroke="#000000" d="M958 559.9l11.7-5 7.3-3.3-11.7 5.1z"/>
<path fill="#000000" stroke="#000000" d="M556 606.6l11.3 1.7 6.9 1.7-11.3-1.7z"/>
<path fill="#000000" stroke="#000000" d="M629.1 617.1l11.4 0.6 6.9 0.6-11.4-0.5z"/>
<path fill="#000000" stroke="#000000" d="M702.7 618.9l11.4-0.6 7.1-0.3-11.5 0.6z"/>
<path fill="#000000" stroke="#000000" d="M908.3 579l11.7-4.1 7.2-2.8-11.6 4.2z"/>
<path fill="#000000" stroke="#000000" d="M465.3 581.3l11.2 3.2 6.9 2.9-11.3-3.1z"/>
<path fill="#000000" stroke="#000000" d="M483.4 587.4l11.2 2.9 6.9 2.7-11.3-2.8z"/>
<path fill="#000000" stroke="#000000" d="M501.5 593l11.3 2.6 6.8 2.5-11.3-2.6z"/>
<path fill="#000000" stroke="#000000" d="M537.8 602.6l11.3 2.1 6.9 1.9-11.3-2z"/>
<path fill="#000000" stroke="#000000" d="M574.2 610l11.4 1.5 6.9 1.4-11.4-1.4z"/>
<path fill="#000000" stroke="#000000" d="M610.8 615.2l11.3 1 7 0.9-11.4-0.9z"/>
<path fill="#000000" stroke="#000000" d="M647.4 618.3l11.4 0.4 7 0.4-11.4-0.3z"/>
<path fill="#000000" stroke="#000000" d="M665.8 619.1l11.4 0 7 0.1-11.4 0.1z"/>
<path fill="#000000" stroke="#000000" d="M684.2 619.2l11.5-0.2 7-0.1-11.5 0.3z"/>
<path fill="#000000" stroke="#000000" d="M739.7 616.5l11.5-1.1 7.1-0.8-11.5 1.2z"/>
<path fill="#000000" stroke="#000000" d="M758.3 614.6l11.5-1.5 7.1-1.1-11.6 1.6z"/>
<path fill="#000000" stroke="#000000" d="M776.9 612l11.5-1.8 7.1-1.3-11.5 1.9z"/>
<path fill="#000000" stroke="#000000" d="M814.2 605.3l11.6-2.4 7.1-1.8-11.5 2.6z"/>
<path fill="#000000" stroke="#000000" d="M832.9 601.1l11.6-2.7 7.2-2-11.6 2.9z"/>
<path fill="#000000" stroke="#000000" d="M851.7 596.4l11.6-3.1 7.2-2.1-11.6 3.2z"/>
<path fill="#000000" stroke="#000000" d="M889.4 585.4l11.6-3.8 7.3-2.6-11.7 3.9z"/>
<path fill="#000000" stroke="#000000" d="M927.2 572.1l11.7-4.4 7.3-3-11.7 4.5z"/>
<path fill="#000000" stroke="#000000" d="M946.2 564.7l11.8-4.8 7.3-3.2-11.7 4.8z"/>
<path fill="#000000" stroke="#000000" d="M447.2 574.6l11.3 3.5 6.8 3.2-11.3-3.4z"/>
<path fill="#000000" stroke="#000000" d="M519.6 598.1l11.3 2.3 6.9 2.2-11.3-2.3z"/>
<path fill="#000000" stroke="#000000" d="M592.5 612.9l11.3 1.2 7 1.1-11.4-1.1z"/>
<path fill="#000000" stroke="#000000" d="M721.2 618l11.4-0.9 7.1-0.6-11.5 1z"/>
<path fill="#000000" stroke="#000000" d="M795.5 608.9l11.6-2.1 7.1-1.5-11.6 2.2z"/>
<path fill="#000000" stroke="#000000" d="M870.5 591.2l11.7-3.5 7.2-2.3-11.7 3.5z"/>
<path fill="#000000" stroke="#000000" d="M472.1 584.3l11.3 3.1 6.8 2.8-11.3-3z"/>
<path fill="#000000" stroke="#000000" d="M544.7 604.6l11.3 2 6.9 1.7-11.4-1.9z"/>
<path fill="#000000" stroke="#000000" d="M617.7 616.2l11.4 0.9 6.9 0.7-11.4-0.8z"/>
<path fill="#000000" stroke="#000000" d="M672.8 619.3l11.4-0.1 7 0-11.4 0.2z"/>
<path fill="#000000" stroke="#000000" d="M691.2 619.2l11.5-0.3 7-0.3-11.5 0.5z"/>
<path fill="#000000" stroke="#000000" d="M746.8 615.8l11.5-1.2 7-1-11.5 1.4z"/>
<path fill="#000000" stroke="#000000" d="M821.4 603.7l11.5-2.6 7.2-1.8-11.6 2.6z"/>
<path fill="#000000" stroke="#000000" d="M896.6 582.9l11.7-3.9 7.3-2.7-11.7 3.9z"/>
<path fill="#000000" stroke="#000000" d="M915.6 576.3l11.6-4.2 7.3-2.9-11.7 4.2z"/>
<path fill="#000000" stroke="#000000" d="M454 577.9l11.3 3.4 6.8 3-11.3-3.3z"/>
<path fill="#000000" stroke="#000000" d="M490.2 590.2l11.3 2.8 6.8 2.5-11.3-2.7z"/>
<path fill="#000000" stroke="#000000" d="M508.3 595.5l11.3 2.6 6.9 2.2-11.3-2.5z"/>
<path fill="#000000" stroke="#000000" d="M526.5 600.3l11.3 2.3 6.9 2-11.4-2.2z"/>
<path fill="#000000" stroke="#000000" d="M562.9 608.3l11.3 1.7 6.9 1.5-11.3-1.7z"/>
<path fill="#000000" stroke="#000000" d="M581.1 611.5l11.4 1.4 6.9 1.2-11.4-1.3z"/>
<path fill="#000000" stroke="#000000" d="M599.4 614.1l11.4 1.1 6.9 1-11.4-1z"/>
<path fill="#000000" stroke="#000000" d="M636 617.8l11.4 0.5 7 0.5-11.4-0.4z"/>
<path fill="#000000" stroke="#000000" d="M654.4 618.8l11.4 0.3 7 0.2-11.4-0.2z"/>
<path fill="#000000" stroke="#000000" d="M709.7 618.6l11.5-0.6 7-0.5-11.5 0.8z"/>
<path fill="#000000" stroke="#000000" d="M728.2 617.5l11.5-1 7.1-0.7-11.5 1.1z"/>
<path fill="#000000" stroke="#000000" d="M765.3 613.6l11.6-1.6 7.1-1.2-11.6 1.7z"/>
<path fill="#000000" stroke="#000000" d="M784 610.8l11.5-1.9 7.1-1.4-11.5 2z"/>
<path fill="#000000" stroke="#000000" d="M802.6 607.5l11.6-2.2 7.2-1.6-11.6 2.3z"/>
<path fill="#000000" stroke="#000000" d="M840.1 599.3l11.6-2.9 7.2-2-11.6 2.9z"/>
<path fill="#000000" stroke="#000000" d="M858.9 594.4l11.6-3.2 7.2-2.3-11.6 3.3z"/>
<path fill="#000000" stroke="#000000" d="M877.7 588.9l11.7-3.5 7.2-2.5-11.6 3.6z"/>
<path fill="#000000" stroke="#000000" d="M934.5 569.2l11.7-4.5 7.4-3.2-11.8 4.6z"/>
<path fill="#000000" stroke="#000000" d="M679.8 619.4l11.4-0.2 7-0.1-11.4 0.2z"/>
<path fill="#000000" stroke="#000000" d="M460.8 581l11.3 3.3 6.8 2.9-11.3-3.2z"/>
<path fill="#000000" stroke="#000000" d="M478.9 587.2l11.3 3 6.8 2.6-11.3-3z"/>
<path fill="#000000" stroke="#000000" d="M515.2 597.8l11.3 2.5 6.8 2.1-11.3-2.4z"/>
<path fill="#000000" stroke="#000000" d="M533.3 602.4l11.4 2.2 6.8 1.8-11.3-2.1z"/>
<path fill="#000000" stroke="#000000" d="M551.5 606.4l11.4 1.9 6.9 1.5-11.4-1.8z"/>
<path fill="#000000" stroke="#000000" d="M569.8 609.8l11.3 1.7 6.9 1.3-11.3-1.6z"/>
<path fill="#000000" stroke="#000000" d="M588 612.8l11.4 1.3 6.9 1.1-11.4-1.3z"/>
<path fill="#000000" stroke="#000000" d="M606.3 615.2l11.4 1 6.9 0.8-11.4-0.9z"/>
<path fill="#000000" stroke="#000000" d="M624.6 617l11.4 0.8 7 0.6-11.4-0.7z"/>
<path fill="#000000" stroke="#000000" d="M643 618.4l11.4 0.4 7 0.3-11.5-0.3z"/>
<path fill="#000000" stroke="#000000" d="M661.4 619.1l11.4 0.2 7 0.1-11.5-0.1z"/>
<path fill="#000000" stroke="#000000" d="M716.7 618.3l11.5-0.8 7.1-0.6-11.5 0.8z"/>
<path fill="#000000" stroke="#000000" d="M735.3 616.9l11.5-1.1 7-0.8-11.5 1.1z"/>
<path fill="#000000" stroke="#000000" d="M753.8 615l11.5-1.4 7.1-1.1-11.5 1.5z"/>
<path fill="#000000" stroke="#000000" d="M791.1 609.5l11.5-2 7.2-1.5-11.6 2.1z"/>
<path fill="#000000" stroke="#000000" d="M809.8 606l11.6-2.3 7.1-1.8-11.6 2.4z"/>
<path fill="#000000" stroke="#000000" d="M828.5 601.9l11.6-2.6 7.2-2-11.6 2.7z"/>
<path fill="#000000" stroke="#000000" d="M866.1 592.2l11.6-3.3 7.3-2.4-11.7 3.3z"/>
<path fill="#000000" stroke="#000000" d="M885 586.5l11.6-3.6 7.3-2.7-11.7 3.7z"/>
<path fill="#000000" stroke="#000000" d="M903.9 580.2l11.7-3.9 7.2-2.9-11.7 4.1z"/>
<path fill="#000000" stroke="#000000" d="M922.8 573.4l11.7-4.2 7.3-3.1-11.7 4.4z"/>
<path fill="#000000" stroke="#000000" d="M497 592.8l11.3 2.7 6.9 2.3-11.3-2.6z"/>
<path fill="#000000" stroke="#000000" d="M698.2 619.1l11.5-0.5 7-0.3-11.5 0.5z"/>
<path fill="#000000" stroke="#000000" d="M772.4 612.5l11.6-1.7 7.1-1.3-11.6 1.8z"/>
<path fill="#000000" stroke="#000000" d="M847.3 597.3l11.6-2.9 7.2-2.2-11.6 3z"/>
<path fill="#000000" stroke="#000000" d="M522 600l11.3 2.4 6.9 1.9-11.3-2.3z"/>
<path fill="#000000" stroke="#000000" d="M576.7 611.2l11.3 1.6 6.9 1.1-11.4-1.4z"/>
<path fill="#000000" stroke="#000000" d="M594.9 613.9l11.4 1.3 6.9 0.9-11.4-1.2z"/>
<path fill="#000000" stroke="#000000" d="M613.2 616.1l11.4 0.9 7 0.7-11.4-0.9z"/>
<path fill="#000000" stroke="#000000" d="M649.9 618.8l11.5 0.3 6.9 0.2-11.4-0.3z"/>
<path fill="#000000" stroke="#000000" d="M668.3 619.3l11.5 0.1 7-0.1-11.5 0z"/>
<path fill="#000000" stroke="#000000" d="M723.8 617.7l11.5-0.8 7-0.8-11.5 0.9z"/>
<path fill="#000000" stroke="#000000" d="M798.2 608.1l11.6-2.1 7.1-1.7-11.6 2.2z"/>
<path fill="#000000" stroke="#000000" d="M873.3 589.8l11.7-3.3 7.2-2.6-11.7 3.5z"/>
<path fill="#000000" stroke="#000000" d="M892.2 583.9l11.7-3.7 7.2-2.7-11.7 3.7z"/>
<path fill="#000000" stroke="#000000" d="M467.6 584l11.3 3.2 6.8 2.6-11.3-3.1z"/>
<path fill="#000000" stroke="#000000" d="M485.7 589.8l11.3 3 6.9 2.4-11.3-2.9z"/>
<path fill="#000000" stroke="#000000" d="M503.9 595.2l11.3 2.6 6.8 2.2-11.3-2.6z"/>
<path fill="#000000" stroke="#000000" d="M540.2 604.3l11.3 2.1 6.9 1.6-11.3-2z"/>
<path fill="#000000" stroke="#000000" d="M558.4 608l11.4 1.8 6.9 1.4-11.4-1.7z"/>
<path fill="#000000" stroke="#000000" d="M631.6 617.7l11.4 0.7 6.9 0.4-11.4-0.6z"/>
<path fill="#000000" stroke="#000000" d="M686.8 619.3l11.4-0.2 7-0.3-11.4 0.3z"/>
<path fill="#000000" stroke="#000000" d="M705.2 618.8l11.5-0.5 7.1-0.6-11.5 0.6z"/>
<path fill="#000000" stroke="#000000" d="M742.3 616.1l11.5-1.1 7.1-1-11.5 1.2z"/>
<path fill="#000000" stroke="#000000" d="M760.9 614l11.5-1.5 7.1-1.2-11.5 1.5z"/>
<path fill="#000000" stroke="#000000" d="M779.5 611.3l11.6-1.8 7.1-1.4-11.6 1.8z"/>
<path fill="#000000" stroke="#000000" d="M816.9 604.3l11.6-2.4 7.2-1.9-11.6 2.5z"/>
<path fill="#000000" stroke="#000000" d="M835.7 600l11.6-2.7 7.2-2.1-11.7 2.8z"/>
<path fill="#000000" stroke="#000000" d="M854.5 595.2l11.6-3 7.2-2.4-11.6 3.1z"/>
<path fill="#000000" stroke="#000000" d="M911.1 577.5l11.7-4.1 7.3-2.9-11.7 4.1z"/>
<path fill="#000000" stroke="#000000" d="M583.5 612.5l11.4 1.4 6.9 1-11.4-1.4z"/>
<path fill="#000000" stroke="#000000" d="M656.9 619l11.4 0.3 7 0-11.4-0.2z"/>
<path fill="#000000" stroke="#000000" d="M492.6 592.3l11.3 2.9 6.8 2.2-11.3-2.8z"/>
<path fill="#000000" stroke="#000000" d="M510.7 597.4l11.3 2.6 6.9 2-11.4-2.5z"/>
<path fill="#000000" stroke="#000000" d="M528.9 602l11.3 2.3 6.9 1.7-11.4-2.2z"/>
<path fill="#000000" stroke="#000000" d="M565.3 609.5l11.4 1.7 6.8 1.3-11.3-1.7z"/>
<path fill="#000000" stroke="#000000" d="M601.8 614.9l11.4 1.2 7 0.7-11.5-1.1z"/>
<path fill="#000000" stroke="#000000" d="M638.5 618.2l11.4 0.6 7 0.2-11.5-0.5z"/>
<path fill="#000000" stroke="#000000" d="M693.8 619.1l11.4-0.3 7.1-0.5-11.5 0.4z"/>
<path fill="#000000" stroke="#000000" d="M712.3 618.3l11.5-0.6 7-0.7-11.5 0.7z"/>
<path fill="#000000" stroke="#000000" d="M730.8 617l11.5-0.9 7.1-0.9-11.6 1z"/>
<path fill="#000000" stroke="#000000" d="M768 612.8l11.5-1.5 7.1-1.4-11.5 1.6z"/>
<path fill="#000000" stroke="#000000" d="M786.6 609.9l11.6-1.8 7.1-1.6-11.6 1.9z"/>
<path fill="#000000" stroke="#000000" d="M805.3 606.5l11.6-2.2 7.2-1.8-11.7 2.2z"/>
<path fill="#000000" stroke="#000000" d="M842.8 598l11.7-2.8 7.2-2.3-11.7 2.9z"/>
<path fill="#000000" stroke="#000000" d="M861.7 592.9l11.6-3.1 7.2-2.4-11.7 3.2z"/>
<path fill="#000000" stroke="#000000" d="M880.5 587.4l11.7-3.5 7.2-2.7-11.7 3.6z"/>
<path fill="#000000" stroke="#000000" d="M474.4 586.7l11.3 3.1 6.9 2.5-11.4-3z"/>
<path fill="#000000" stroke="#000000" d="M547.1 606l11.3 2 6.9 1.5-11.4-1.9z"/>
<path fill="#000000" stroke="#000000" d="M620.2 616.8l11.4 0.9 6.9 0.5-11.4-0.8z"/>
<path fill="#000000" stroke="#000000" d="M675.3 619.3l11.5 0 7-0.2-11.5 0.1z"/>
<path fill="#000000" stroke="#000000" d="M749.4 615.2l11.5-1.2 7.1-1.2-11.6 1.3z"/>
<path fill="#000000" stroke="#000000" d="M824.1 602.5l11.6-2.5 7.1-2-11.6 2.5z"/>
<path fill="#000000" stroke="#000000" d="M899.4 581.2l11.7-3.7 7.3-2.9-11.7 3.8z"/>
<path fill="#000000" stroke="#000000" d="M499.4 594.6l11.3 2.8 6.8 2.1-11.3-2.7z"/>
<path fill="#000000" stroke="#000000" d="M572.2 610.8l11.3 1.7 6.9 1-11.4-1.6z"/>
<path fill="#000000" stroke="#000000" d="M645.4 618.5l11.5 0.5 7 0.1-11.5-0.4z"/>
<path fill="#000000" stroke="#000000" d="M700.8 618.7l11.5-0.4 7-0.6-11.5 0.5z"/>
<path fill="#000000" stroke="#000000" d="M775.1 611.5l11.5-1.6 7.1-1.5-11.6 1.7z"/>
<path fill="#000000" stroke="#000000" d="M850 595.8l11.7-2.9 7.1-2.3-11.6 2.9z"/>
<path fill="#000000" stroke="#000000" d="M481.2 589.3l11.4 3 6.8 2.3-11.4-2.9z"/>
<path fill="#000000" stroke="#000000" d="M517.5 599.5l11.4 2.5 6.8 1.8-11.3-2.4z"/>
<path fill="#000000" stroke="#000000" d="M535.7 603.8l11.4 2.2 6.8 1.6-11.3-2.2z"/>
<path fill="#000000" stroke="#000000" d="M553.9 607.6l11.4 1.9 6.9 1.3-11.4-1.9z"/>
<path fill="#000000" stroke="#000000" d="M590.4 613.5l11.4 1.4 6.9 0.8-11.4-1.3z"/>
<path fill="#000000" stroke="#000000" d="M608.7 615.7l11.5 1.1 6.9 0.6-11.4-1z"/>
<path fill="#000000" stroke="#000000" d="M627.1 617.4l11.4 0.8 6.9 0.3-11.4-0.7z"/>
<path fill="#000000" stroke="#000000" d="M663.9 619.1l11.4 0.2 7-0.1-11.5-0.2z"/>
<path fill="#000000" stroke="#000000" d="M682.3 619.2l11.5-0.1 7-0.4-11.5 0.2z"/>
<path fill="#000000" stroke="#000000" d="M719.3 617.7l11.5-0.7 7-0.8-11.5 0.7z"/>
<path fill="#000000" stroke="#000000" d="M737.8 616.2l11.6-1 7-1.1-11.5 1.1z"/>
<path fill="#000000" stroke="#000000" d="M756.4 614.1l11.6-1.3 7.1-1.3-11.6 1.4z"/>
<path fill="#000000" stroke="#000000" d="M793.7 608.4l11.6-1.9 7.1-1.8-11.6 2z"/>
<path fill="#000000" stroke="#000000" d="M812.4 604.7l11.7-2.2 7.1-2-11.6 2.4z"/>
<path fill="#000000" stroke="#000000" d="M831.2 600.5l11.6-2.5 7.2-2.2-11.6 2.7z"/>
<path fill="#000000" stroke="#000000" d="M868.8 590.6l11.7-3.2 7.2-2.6-11.7 3.3z"/>
<path fill="#000000" stroke="#000000" d="M887.7 584.8l11.7-3.6 7.3-2.8-11.8 3.7z"/>
<path fill="#000000" stroke="#000000" d="M488 591.7l11.4 2.9 6.8 2.2-11.4-2.9z"/>
<path fill="#000000" stroke="#000000" d="M506.2 596.8l11.3 2.7 6.9 1.9-11.4-2.6z"/>
<path fill="#000000" stroke="#000000" d="M542.6 605.4l11.3 2.2 6.9 1.3-11.4-2z"/>
<path fill="#000000" stroke="#000000" d="M560.8 608.9l11.4 1.9 6.8 1.1-11.4-1.7z"/>
<path fill="#000000" stroke="#000000" d="M579 611.9l11.4 1.6 6.9 0.9-11.4-1.5z"/>
<path fill="#000000" stroke="#000000" d="M597.3 614.4l11.4 1.3 7 0.7-11.5-1.3z"/>
<path fill="#000000" stroke="#000000" d="M615.7 616.4l11.4 1 6.9 0.4-11.4-0.9z"/>
<path fill="#000000" stroke="#000000" d="M634 617.8l11.4 0.7 7 0.2-11.5-0.7z"/>
<path fill="#000000" stroke="#000000" d="M670.8 619l11.5 0.2 7-0.3-11.5-0.1z"/>
<path fill="#000000" stroke="#000000" d="M689.3 618.9l11.5-0.2 7-0.5-11.5 0.2z"/>
<path fill="#000000" stroke="#000000" d="M707.8 618.2l11.5-0.5 7-0.8-11.5 0.6z"/>
<path fill="#000000" stroke="#000000" d="M744.9 615.2l11.5-1.1 7.1-1.2-11.6 1.2z"/>
<path fill="#000000" stroke="#000000" d="M763.5 612.9l11.6-1.4 7-1.4-11.5 1.5z"/>
<path fill="#000000" stroke="#000000" d="M782.1 610.1l11.6-1.7 7.1-1.7-11.6 1.8z"/>
<path fill="#000000" stroke="#000000" d="M819.6 602.9l11.6-2.4 7.2-2-11.7 2.4z"/>
<path fill="#000000" stroke="#000000" d="M838.4 598.5l11.6-2.7 7.2-2.3-11.7 2.7z"/>
<path fill="#000000" stroke="#000000" d="M857.2 593.5l11.6-2.9 7.2-2.5-11.6 3z"/>
<path fill="#000000" stroke="#000000" d="M524.4 601.4l11.3 2.4 6.9 1.6-11.4-2.3z"/>
<path fill="#000000" stroke="#000000" d="M652.4 618.7l11.5 0.4 6.9-0.1-11.5-0.3z"/>
<path fill="#000000" stroke="#000000" d="M726.3 616.9l11.5-0.7 7.1-1-11.6 0.8z"/>
<path fill="#000000" stroke="#000000" d="M800.8 606.7l11.6-2 7.2-1.8-11.6 2.1z"/>
<path fill="#000000" stroke="#000000" d="M876 588.1l11.7-3.3 7.2-2.7-11.7 3.3z"/>
<path fill="#000000" stroke="#000000" d="M549.4 606.9l11.4 2 6.8 1.3-11.3-2z"/>
<path fill="#000000" stroke="#000000" d="M604.2 615.1l11.5 1.3 6.9 0.5-11.5-1.2z"/>
<path fill="#000000" stroke="#000000" d="M622.6 616.9l11.4 0.9 6.9 0.2-11.4-0.8z"/>
<path fill="#000000" stroke="#000000" d="M677.8 618.8l11.5 0.1 7-0.5-11.5 0.1z"/>
<path fill="#000000" stroke="#000000" d="M751.9 614.1l11.6-1.2 7.1-1.3-11.6 1.2z"/>
<path fill="#000000" stroke="#000000" d="M826.7 600.9l11.7-2.4 7.1-2.3-11.6 2.5z"/>
<path fill="#000000" stroke="#000000" d="M494.8 593.9l11.4 2.9 6.8 2-11.4-2.8z"/>
<path fill="#000000" stroke="#000000" d="M513 598.8l11.4 2.6 6.8 1.7-11.4-2.5z"/>
<path fill="#000000" stroke="#000000" d="M531.2 603.1l11.4 2.3 6.8 1.5-11.4-2.3z"/>
<path fill="#000000" stroke="#000000" d="M567.6 610.2l11.4 1.7 6.9 1-11.4-1.7z"/>
<path fill="#000000" stroke="#000000" d="M585.9 612.9l11.4 1.5 6.9 0.7-11.4-1.4z"/>
<path fill="#000000" stroke="#000000" d="M659.3 618.7l11.5 0.3 7-0.2-11.5-0.2z"/>
<path fill="#000000" stroke="#000000" d="M696.3 618.4l11.5-0.2 7-0.7-11.5 0.3z"/>
<path fill="#000000" stroke="#000000" d="M714.8 617.5l11.5-0.6 7-0.9-11.5 0.7z"/>
<path fill="#000000" stroke="#000000" d="M733.3 616l11.6-0.8 7-1.1-11.5 0.9z"/>
<path fill="#000000" stroke="#000000" d="M770.6 611.6l11.5-1.5 7.1-1.6-11.6 1.6z"/>
<path fill="#000000" stroke="#000000" d="M789.2 608.5l11.6-1.8 7.2-1.7-11.7 1.8z"/>
<path fill="#000000" stroke="#000000" d="M808 605l11.6-2.1 7.1-2-11.6 2.1z"/>
<path fill="#000000" stroke="#000000" d="M845.5 596.2l11.7-2.7 7.2-2.4-11.7 2.8z"/>
<path fill="#000000" stroke="#000000" d="M864.4 591.1l11.6-3 7.2-2.7-11.7 3.1z"/>
<path fill="#000000" stroke="#000000" d="M640.9 618l11.5 0.7 6.9 0-11.4-0.6z"/>
<path fill="#000000" stroke="#000000" d="M611.1 615.7l11.5 1.2 6.9 0.3-11.5-1.1z"/>
<path fill="#000000" stroke="#000000" d="M519.8 600.6l11.4 2.5 6.8 1.5-11.4-2.4z"/>
<path fill="#000000" stroke="#000000" d="M538 604.6l11.4 2.3 6.9 1.3-11.4-2.2z"/>
<path fill="#000000" stroke="#000000" d="M556.3 608.2l11.3 2 6.9 1-11.4-1.9z"/>
<path fill="#000000" stroke="#000000" d="M592.8 613.7l11.4 1.4 6.9 0.6-11.4-1.3z"/>
<path fill="#000000" stroke="#000000" d="M666.3 618.6l11.5 0.2 7-0.3-11.5-0.2z"/>
<path fill="#000000" stroke="#000000" d="M721.8 616.7l11.5-0.7 7.1-1-11.6 0.7z"/>
<path fill="#000000" stroke="#000000" d="M740.4 615l11.5-0.9 7.1-1.3-11.6 1z"/>
<path fill="#000000" stroke="#000000" d="M759 612.8l11.6-1.2 7-1.5-11.6 1.3z"/>
<path fill="#000000" stroke="#000000" d="M796.3 606.8l11.7-1.8 7.1-2-11.7 2z"/>
<path fill="#000000" stroke="#000000" d="M815.1 603l11.6-2.1 7.2-2.2-11.7 2.3z"/>
<path fill="#000000" stroke="#000000" d="M833.9 598.7l11.6-2.5 7.2-2.3-11.7 2.6z"/>
<path fill="#000000" stroke="#000000" d="M501.6 596l11.4 2.8 6.8 1.8-11.3-2.8z"/>
<path fill="#000000" stroke="#000000" d="M574.5 611.2l11.4 1.7 6.9 0.8-11.4-1.6z"/>
<path fill="#000000" stroke="#000000" d="M629.5 617.2l11.4 0.8 7 0.1-11.5-0.7z"/>
<path fill="#000000" stroke="#000000" d="M647.9 618.1l11.4 0.6 7-0.1-11.5-0.5z"/>
<path fill="#000000" stroke="#000000" d="M684.8 618.5l11.5-0.1 7-0.6-11.6 0.1z"/>
<path fill="#000000" stroke="#000000" d="M703.3 617.8l11.5-0.3 7-0.8-11.5 0.4z"/>
<path fill="#000000" stroke="#000000" d="M777.6 610.1l11.6-1.6 7.1-1.7-11.6 1.6z"/>
<path fill="#000000" stroke="#000000" d="M852.7 593.9l11.7-2.8 7.1-2.6-11.7 2.9z"/>
<path fill="#000000" stroke="#000000" d="M526.6 602.2l11.4 2.4 6.9 1.4-11.4-2.4z"/>
<path fill="#000000" stroke="#000000" d="M599.7 614.4l11.4 1.3 6.9 0.4-11.4-1.2z"/>
<path fill="#000000" stroke="#000000" d="M728.8 615.7l11.6-0.7 7-1.2-11.6 0.8z"/>
<path fill="#000000" stroke="#000000" d="M803.4 605l11.7-2 7.1-2-11.7 2z"/>
<path fill="#000000" stroke="#000000" d="M508.5 597.8l11.3 2.8 6.8 1.6-11.3-2.7z"/>
<path fill="#000000" stroke="#000000" d="M544.9 606l11.4 2.2 6.8 1.1-11.4-2.1z"/>
<path fill="#000000" stroke="#000000" d="M563.1 609.3l11.4 1.9 6.9 0.9-11.4-1.8z"/>
<path fill="#000000" stroke="#000000" d="M581.4 612.1l11.4 1.6 6.9 0.7-11.5-1.6z"/>
<path fill="#000000" stroke="#000000" d="M618 616.1l11.5 1.1 6.9 0.2-11.5-1z"/>
<path fill="#000000" stroke="#000000" d="M636.4 617.4l11.5 0.7 6.9 0-11.5-0.7z"/>
<path fill="#000000" stroke="#000000" d="M654.8 618.1l11.5 0.5 7-0.3-11.5-0.4z"/>
<path fill="#000000" stroke="#000000" d="M673.3 618.3l11.5 0.2 6.9-0.6-11.5-0.1z"/>
<path fill="#000000" stroke="#000000" d="M691.7 617.9l11.6-0.1 7-0.7-11.6 0.2z"/>
<path fill="#000000" stroke="#000000" d="M710.3 617.1l11.5-0.4 7-1-11.5 0.5z"/>
<path fill="#000000" stroke="#000000" d="M747.4 613.8l11.6-1 7-1.4-11.6 1.1z"/>
<path fill="#000000" stroke="#000000" d="M766 611.4l11.6-1.3 7.1-1.7-11.6 1.4z"/>
<path fill="#000000" stroke="#000000" d="M784.7 608.4l11.6-1.6 7.1-1.8-11.6 1.7z"/>
<path fill="#000000" stroke="#000000" d="M822.2 601l11.7-2.3 7.1-2.2-11.7 2.3z"/>
<path fill="#000000" stroke="#000000" d="M841 596.5l11.7-2.6 7.1-2.5-11.7 2.7z"/>
<path fill="#000000" stroke="#000000" d="M515.3 599.5l11.3 2.7 6.9 1.4-11.4-2.5z"/>
<path fill="#000000" stroke="#000000" d="M533.5 603.6l11.4 2.4 6.8 1.2-11.4-2.3z"/>
<path fill="#000000" stroke="#000000" d="M570 610.3l11.4 1.8 6.8 0.7-11.4-1.7z"/>
<path fill="#000000" stroke="#000000" d="M588.2 612.8l11.5 1.6 6.9 0.5-11.5-1.5z"/>
<path fill="#000000" stroke="#000000" d="M624.9 616.4l11.5 1 6.9 0-11.5-0.9z"/>
<path fill="#000000" stroke="#000000" d="M643.3 617.4l11.5 0.7 7-0.2-11.6-0.6z"/>
<path fill="#000000" stroke="#000000" d="M661.8 617.9l11.5 0.4 6.9-0.5-11.5-0.3z"/>
<path fill="#000000" stroke="#000000" d="M698.7 617.3l11.6-0.2 7-0.9-11.6 0.3z"/>
<path fill="#000000" stroke="#000000" d="M717.3 616.2l11.5-0.5 7-1.1-11.5 0.6z"/>
<path fill="#000000" stroke="#000000" d="M735.8 614.6l11.6-0.8 7-1.3-11.5 0.9z"/>
<path fill="#000000" stroke="#000000" d="M773.1 609.8l11.6-1.4 7.1-1.7-11.6 1.5z"/>
<path fill="#000000" stroke="#000000" d="M791.8 606.7l11.6-1.7 7.1-2-11.6 1.8z"/>
<path fill="#000000" stroke="#000000" d="M810.5 603l11.7-2 7.1-2.2-11.7 2.1z"/>
<path fill="#000000" stroke="#000000" d="M551.7 607.2l11.4 2.1 6.9 1-11.5-2z"/>
<path fill="#000000" stroke="#000000" d="M606.6 614.9l11.4 1.2 6.9 0.3-11.4-1.2z"/>
<path fill="#000000" stroke="#000000" d="M680.2 617.8l11.5 0.1 7-0.6-11.5 0z"/>
<path fill="#000000" stroke="#000000" d="M754.4 612.5l11.6-1.1 7.1-1.6-11.6 1.2z"/>
<path fill="#000000" stroke="#000000" d="M829.3 598.8l11.7-2.3 7.1-2.4-11.6 2.4z"/>
<path fill="#000000" stroke="#000000" d="M576.8 611.1l11.4 1.7 6.9 0.6-11.4-1.6z"/>
<path fill="#000000" stroke="#000000" d="M631.8 616.5l11.5 0.9 6.9-0.1-11.5-0.8z"/>
<path fill="#000000" stroke="#000000" d="M705.7 616.5l11.6-0.3 7-1-11.6 0.3z"/>
<path fill="#000000" stroke="#000000" d="M780.2 608.2l11.6-1.5 7.1-1.9-11.7 1.6z"/>
<path fill="#000000" stroke="#000000" d="M522.1 601.1l11.4 2.5 6.8 1.3-11.4-2.4z"/>
<path fill="#000000" stroke="#000000" d="M540.3 604.9l11.4 2.3 6.8 1.1-11.4-2.2z"/>
<path fill="#000000" stroke="#000000" d="M558.5 608.3l11.5 2 6.8 0.8-11.4-1.9z"/>
<path fill="#000000" stroke="#000000" d="M613.5 615.2l11.4 1.2 6.9 0.1-11.4-1.1z"/>
<path fill="#000000" stroke="#000000" d="M650.2 617.3l11.6 0.6 6.9-0.4-11.5-0.5z"/>
<path fill="#000000" stroke="#000000" d="M687.2 617.3l11.5 0 7-0.8-11.6 0z"/>
<path fill="#000000" stroke="#000000" d="M724.3 615.2l11.5-0.6 7.1-1.2-11.6 0.6z"/>
<path fill="#000000" stroke="#000000" d="M742.9 613.4l11.5-0.9 7.1-1.5-11.6 1z"/>
<path fill="#000000" stroke="#000000" d="M761.5 611l11.6-1.2 7.1-1.6-11.7 1.2z"/>
<path fill="#000000" stroke="#000000" d="M798.9 604.8l11.6-1.8 7.1-2.1-11.6 1.9z"/>
<path fill="#000000" stroke="#000000" d="M817.6 600.9l11.7-2.1 7.2-2.3-11.7 2.2z"/>
<path fill="#000000" stroke="#000000" d="M595.1 613.4l11.5 1.5 6.9 0.3-11.5-1.4z"/>
<path fill="#000000" stroke="#000000" d="M668.7 617.5l11.5 0.3 7-0.5-11.6-0.3z"/>
<path fill="#000000" stroke="#000000" d="M547.1 606.1l11.4 2.2 6.9 0.9-11.5-2.2z"/>
<path fill="#000000" stroke="#000000" d="M565.4 609.2l11.4 1.9 6.9 0.7-11.5-1.9z"/>
<path fill="#000000" stroke="#000000" d="M620.4 615.4l11.4 1.1 6.9 0-11.4-1.1z"/>
<path fill="#000000" stroke="#000000" d="M694.1 616.5l11.6 0 7-1-11.6 0.2z"/>
<path fill="#000000" stroke="#000000" d="M749.9 612l11.6-1 7-1.6-11.6 1.1z"/>
<path fill="#000000" stroke="#000000" d="M768.5 609.4l11.7-1.2 7-1.8-11.6 1.3z"/>
<path fill="#000000" stroke="#000000" d="M787.2 606.4l11.7-1.6 7.1-2-11.7 1.6z"/>
<path fill="#000000" stroke="#000000" d="M528.9 602.5l11.4 2.4 6.8 1.2-11.4-2.4z"/>
<path fill="#000000" stroke="#000000" d="M583.7 611.8l11.4 1.6 6.9 0.4-11.5-1.5z"/>
<path fill="#000000" stroke="#000000" d="M602 613.8l11.5 1.4 6.9 0.2-11.5-1.3z"/>
<path fill="#000000" stroke="#000000" d="M638.7 616.5l11.5 0.8 7-0.3-11.5-0.7z"/>
<path fill="#000000" stroke="#000000" d="M657.2 617l11.5 0.5 6.9-0.5-11.5-0.4z"/>
<path fill="#000000" stroke="#000000" d="M675.6 617l11.6 0.3 6.9-0.8-11.5-0.1z"/>
<path fill="#000000" stroke="#000000" d="M712.7 615.5l11.6-0.3 7-1.2-11.6 0.4z"/>
<path fill="#000000" stroke="#000000" d="M731.3 614l11.6-0.6 7-1.4-11.6 0.7z"/>
<path fill="#000000" stroke="#000000" d="M806 602.8l11.6-1.9 7.2-2.2-11.7 1.9z"/>
<path fill="#000000" stroke="#000000" d="M553.9 607l11.5 2.2 6.8 0.7-11.4-2.1z"/>
<path fill="#000000" stroke="#000000" d="M756.9 610.5l11.6-1.1 7.1-1.7-11.6 1.1z"/>
<path fill="#000000" stroke="#000000" d="M535.7 603.7l11.4 2.4 6.8 0.9-11.4-2.3z"/>
<path fill="#000000" stroke="#000000" d="M590.5 612.3l11.5 1.5 6.9 0.3-11.5-1.5z"/>
<path fill="#000000" stroke="#000000" d="M608.9 614.1l11.5 1.3 6.9 0-11.5-1.2z"/>
<path fill="#000000" stroke="#000000" d="M627.3 615.4l11.4 1.1 7-0.2-11.6-1z"/>
<path fill="#000000" stroke="#000000" d="M645.7 616.3l11.5 0.7 6.9-0.4-11.5-0.7z"/>
<path fill="#000000" stroke="#000000" d="M664.1 616.6l11.5 0.4 7-0.6-11.6-0.4z"/>
<path fill="#000000" stroke="#000000" d="M682.6 616.4l11.5 0.1 7-0.8-11.5-0.1z"/>
<path fill="#000000" stroke="#000000" d="M701.1 615.7l11.6-0.2 7-1.1-11.6 0.3z"/>
<path fill="#000000" stroke="#000000" d="M719.7 614.4l11.6-0.4 7-1.3-11.6 0.5z"/>
<path fill="#000000" stroke="#000000" d="M738.3 612.7l11.6-0.7 7-1.5-11.6 0.8z"/>
<path fill="#000000" stroke="#000000" d="M775.6 607.7l11.6-1.3 7.1-2-11.6 1.4z"/>
<path fill="#000000" stroke="#000000" d="M794.3 604.4l11.7-1.6 7.1-2.2-11.7 1.8z"/>
<path fill="#000000" stroke="#000000" d="M572.2 609.9l11.5 1.9 6.8 0.5-11.4-1.8z"/>
<path fill="#000000" stroke="#000000" d="M542.5 604.7l11.4 2.3 6.9 0.8-11.5-2.2z"/>
<path fill="#000000" stroke="#000000" d="M597.4 612.6l11.5 1.5 6.9 0.1-11.5-1.4z"/>
<path fill="#000000" stroke="#000000" d="M652.6 615.9l11.5 0.7 6.9-0.6-11.5-0.6z"/>
<path fill="#000000" stroke="#000000" d="M671 616l11.6 0.4 7-0.8-11.6-0.3z"/>
<path fill="#000000" stroke="#000000" d="M689.6 615.6l11.5 0.1 7-1-11.6 0z"/>
<path fill="#000000" stroke="#000000" d="M726.7 613.2l11.6-0.5 7-1.4-11.6 0.6z"/>
<path fill="#000000" stroke="#000000" d="M745.3 611.3l11.6-0.8 7.1-1.7-11.7 0.9z"/>
<path fill="#000000" stroke="#000000" d="M764 608.8l11.6-1.1 7.1-1.9-11.7 1.2z"/>
<path fill="#000000" stroke="#000000" d="M560.8 607.8l11.4 2.1 6.9 0.6-11.5-2z"/>
<path fill="#000000" stroke="#000000" d="M579.1 610.5l11.4 1.8 6.9 0.3-11.5-1.7z"/>
<path fill="#000000" stroke="#000000" d="M615.8 614.2l11.5 1.2 6.8-0.1-11.5-1.1z"/>
<path fill="#000000" stroke="#000000" d="M634.1 615.3l11.6 1 6.9-0.4-11.5-0.8z"/>
<path fill="#000000" stroke="#000000" d="M708.1 614.7l11.6-0.3 7-1.2-11.6 0.3z"/>
<path fill="#000000" stroke="#000000" d="M782.7 605.8l11.6-1.4 7.1-2-11.7 1.5z"/>
<path fill="#000000" stroke="#000000" d="M659.5 615.4l11.5 0.6 7-0.7-11.6-0.5z"/>
<path fill="#000000" stroke="#000000" d="M733.7 611.9l11.6-0.6 7-1.6-11.6 0.7z"/>
<path fill="#000000" stroke="#000000" d="M567.6 608.5l11.5 2 6.8 0.4-11.5-1.9z"/>
<path fill="#000000" stroke="#000000" d="M585.9 610.9l11.5 1.7 6.9 0.2-11.5-1.6z"/>
<path fill="#000000" stroke="#000000" d="M604.3 612.8l11.5 1.4 6.8 0-11.5-1.4z"/>
<path fill="#000000" stroke="#000000" d="M641.1 615.1l11.5 0.8 6.9-0.5-11.5-0.8z"/>
<path fill="#000000" stroke="#000000" d="M678 615.3l11.6 0.3 6.9-0.9-11.6-0.3z"/>
<path fill="#000000" stroke="#000000" d="M715.1 613.5l11.6-0.3 7-1.3-11.6 0.3z"/>
<path fill="#000000" stroke="#000000" d="M752.3 609.7l11.7-0.9 7-1.8-11.7 1z"/>
<path fill="#000000" stroke="#000000" d="M771 607l11.7-1.2 7-1.9-11.6 1.2z"/>
<path fill="#000000" stroke="#000000" d="M549.3 605.6l11.5 2.2 6.8 0.7-11.5-2.2z"/>
<path fill="#000000" stroke="#000000" d="M622.6 614.2l11.5 1.1 7-0.2-11.6-1.1z"/>
<path fill="#000000" stroke="#000000" d="M696.5 614.7l11.6 0 7-1.2-11.6 0.1z"/>
<path fill="#000000" stroke="#000000" d="M574.4 609l11.5 1.9 6.9 0.3-11.5-1.9z"/>
<path fill="#000000" stroke="#000000" d="M648 614.6l11.5 0.8 6.9-0.6-11.5-0.7z"/>
<path fill="#000000" stroke="#000000" d="M722.1 612.2l11.6-0.3 7-1.5-11.6 0.4z"/>
<path fill="#000000" stroke="#000000" d="M556.1 606.3l11.5 2.2 6.8 0.5-11.4-2.1z"/>
<path fill="#000000" stroke="#000000" d="M592.8 611.2l11.5 1.6 6.8 0-11.5-1.5z"/>
<path fill="#000000" stroke="#000000" d="M611.1 612.8l11.5 1.4 6.9-0.2-11.5-1.3z"/>
<path fill="#000000" stroke="#000000" d="M629.5 614l11.6 1.1 6.9-0.5-11.6-1z"/>
<path fill="#000000" stroke="#000000" d="M666.4 614.8l11.6 0.5 6.9-0.9-11.5-0.4z"/>
<path fill="#000000" stroke="#000000" d="M684.9 614.4l11.6 0.3 7-1.1-11.6-0.1z"/>
<path fill="#000000" stroke="#000000" d="M703.5 613.6l11.6-0.1 7-1.3-11.6 0.2z"/>
<path fill="#000000" stroke="#000000" d="M740.7 610.4l11.6-0.7 7-1.7-11.6 0.7z"/>
<path fill="#000000" stroke="#000000" d="M759.3 608l11.7-1 7.1-1.9-11.7 1.1z"/>
<path fill="#000000" stroke="#000000" d="M563 606.9l11.4 2.1 6.9 0.3-11.5-2z"/>
<path fill="#000000" stroke="#000000" d="M581.3 609.3l11.5 1.9 6.8 0.1-11.5-1.8z"/>
<path fill="#000000" stroke="#000000" d="M618 612.7l11.5 1.3 6.9-0.4-11.5-1.1z"/>
<path fill="#000000" stroke="#000000" d="M636.4 613.6l11.6 1 6.9-0.5-11.6-0.9z"/>
<path fill="#000000" stroke="#000000" d="M654.9 614.1l11.5 0.7 7-0.8-11.6-0.6z"/>
<path fill="#000000" stroke="#000000" d="M673.4 614l11.5 0.4 7-0.9-11.6-0.4z"/>
<path fill="#000000" stroke="#000000" d="M691.9 613.5l11.6 0.1 7-1.2-11.7-0.1z"/>
<path fill="#000000" stroke="#000000" d="M710.5 612.4l11.6-0.2 7-1.4-11.7 0.2z"/>
<path fill="#000000" stroke="#000000" d="M729.1 610.8l11.6-0.4 7-1.7-11.7 0.6z"/>
<path fill="#000000" stroke="#000000" d="M747.7 608.7l11.6-0.7 7.1-1.8-11.7 0.8z"/>
<path fill="#000000" stroke="#000000" d="M599.6 611.3l11.5 1.5 6.9-0.1-11.5-1.5z"/>
<path fill="#000000" stroke="#000000" d="M624.9 612.5l11.5 1.1 6.9-0.4-11.5-1.2z"/>
<path fill="#000000" stroke="#000000" d="M680.3 613.1l11.6 0.4 6.9-1.2-11.6-0.2z"/>
<path fill="#000000" stroke="#000000" d="M698.8 612.3l11.7 0.1 6.9-1.4-11.6 0.1z"/>
<path fill="#000101" stroke="#000101" d="M717.4 611l11.7-0.2 6.9-1.5-11.6 0.3z"/>
<path fill="#000000" stroke="#000000" d="M569.8 607.3l11.5 2 6.8 0.2-11.5-1.9z"/>
<path fill="#000000" stroke="#000000" d="M588.1 609.5l11.5 1.8 6.9-0.1-11.5-1.6z"/>
<path fill="#000000" stroke="#000000" d="M606.5 611.2l11.5 1.5 6.9-0.2-11.6-1.4z"/>
<path fill="#000000" stroke="#000000" d="M643.3 613.2l11.6 0.9 6.9-0.7-11.6-0.9z"/>
<path fill="#000000" stroke="#000000" d="M661.8 613.4l11.6 0.6 6.9-0.9-11.6-0.6z"/>
<path fill="#000303" stroke="#000303" d="M736 609.3l11.7-0.6 7-1.7-11.6 0.6z"/>
<path fill="#000102" stroke="#000102" d="M687.2 612.1l11.6 0.2 7-1.2-11.6-0.2z"/>
<path fill="#000000" stroke="#000000" d="M595 609.6l11.5 1.6 6.8-0.1-11.5-1.6z"/>
<path fill="#000000" stroke="#000000" d="M613.3 611.1l11.6 1.4 6.9-0.5-11.6-1.3z"/>
<path fill="#000000" stroke="#000000" d="M631.8 612l11.5 1.2 6.9-0.7-11.6-1z"/>
<path fill="#000000" stroke="#000000" d="M668.7 612.5l11.6 0.6 6.9-1-11.6-0.5z"/>
<path fill="#000404" stroke="#000404" d="M705.8 611.1l11.6-0.1 7-1.4-11.6 0.1z"/>
<path fill="#000000" stroke="#000000" d="M576.6 607.6l11.5 1.9 6.9 0.1-11.6-1.9z"/>
<path fill="#000000" stroke="#000000" d="M650.2 612.5l11.6 0.9 6.9-0.9-11.6-0.7z"/>
<path fill="#000707" stroke="#000707" d="M724.4 609.6l11.6-0.3 7.1-1.7-11.7 0.4z"/>
<path fill="#000000" stroke="#000000" d="M601.8 609.5l11.5 1.6 6.9-0.4-11.6-1.5z"/>
<path fill="#000304" stroke="#000304" d="M675.6 611.6l11.6 0.5 7-1.2-11.6-0.4z"/>
<path fill="#000000" stroke="#000000" d="M583.4 607.7l11.6 1.9 6.8-0.1-11.5-1.8z"/>
<path fill="#000000" stroke="#000000" d="M620.2 610.7l11.6 1.3 6.8-0.5-11.5-1.3z"/>
<path fill="#000000" stroke="#000000" d="M638.6 611.5l11.6 1 6.9-0.7-11.6-1z"/>
<path fill="#000101" stroke="#000101" d="M657.1 611.8l11.6 0.7 6.9-0.9-11.6-0.7z"/>
<path fill="#000607" stroke="#000607" d="M694.2 610.9l11.6 0.2 7-1.4-11.7-0.2z"/>
<path fill="#000a0a" stroke="#000a0a" d="M712.8 609.7l11.6-0.1 7-1.6-11.7 0.1z"/>
<path fill="#000000" stroke="#000000" d="M590.3 607.7l11.5 1.8 6.8-0.3-11.5-1.7z"/>
<path fill="#000000" stroke="#000000" d="M608.6 609.2l11.6 1.5 6.9-0.5-11.6-1.4z"/>
<path fill="#000303" stroke="#000303" d="M645.5 610.8l11.6 1 6.9-0.9-11.6-0.9z"/>
<path fill="#000505" stroke="#000505" d="M664 610.9l11.6 0.7 7-1.1-11.7-0.7z"/>
<path fill="#000809" stroke="#000809" d="M682.6 610.5l11.6 0.4 6.9-1.4-11.6-0.3z"/>
<path fill="#000c0c" stroke="#000c0c" d="M701.1 609.5l11.7 0.2 6.9-1.6-11.6 0z"/>
<path fill="#000101" stroke="#000101" d="M627.1 610.2l11.5 1.3 6.9-0.7-11.6-1.2z"/>
<path fill="#000707" stroke="#000707" d="M652.4 610l11.6 0.9 6.9-1.1-11.6-0.8z"/>
<path fill="#000000" stroke="#000000" d="M597.1 607.5l11.5 1.7 6.9-0.4-11.6-1.7z"/>
<path fill="#000202" stroke="#000202" d="M615.5 608.8l11.6 1.4 6.8-0.6-11.5-1.3z"/>
<path fill="#000404" stroke="#000404" d="M633.9 609.6l11.6 1.2 6.9-0.8-11.6-1.1z"/>
<path fill="#000a0a" stroke="#000a0a" d="M670.9 609.8l11.7 0.7 6.9-1.3-11.6-0.5z"/>
<path fill="#000e0e" stroke="#000e0e" d="M689.5 609.2l11.6 0.3 7-1.4-11.7-0.3z"/>
<path fill="#000505" stroke="#000505" d="M622.4 608.3l11.5 1.3 6.9-0.7-11.6-1.3z"/>
<path fill="#000808" stroke="#000808" d="M640.8 608.9l11.6 1.1 6.9-1-11.6-1z"/>
<path fill="#000b0b" stroke="#000b0b" d="M659.3 609l11.6 0.8 7-1.1-11.7-0.8z"/>
<path fill="#000303" stroke="#000303" d="M603.9 607.1l11.6 1.7 6.9-0.5-11.6-1.6z"/>
<path fill="#000f0f" stroke="#000f0f" d="M677.9 608.7l11.6 0.5 6.9-1.4-11.6-0.4z"/>
<path fill="#000909" stroke="#000909" d="M629.2 607.6l11.6 1.3 6.9-0.9-11.6-1.2z"/>
<path fill="#000606" stroke="#000606" d="M610.8 606.7l11.6 1.6 6.8-0.7-11.6-1.5z"/>
<path fill="#000c0c" stroke="#000c0c" d="M647.7 608l11.6 1 6.9-1.1-11.6-0.9z"/>
<path fill="#00100f" stroke="#00100f" d="M666.2 607.9l11.7 0.8 6.9-1.3-11.7-0.7z"/>
<path fill="#000a09" stroke="#000a09" d="M617.6 606.1l11.6 1.5 6.9-0.8-11.6-1.5z"/>
<path fill="#000c0c" stroke="#000c0c" d="M636.1 606.8l11.6 1.2 6.9-1-11.6-1.2z"/>
<path fill="#001010" stroke="#001010" d="M654.6 607l11.6 0.9 6.9-1.2-11.6-0.9z"/>
<path fill="#000d0c" stroke="#000d0c" d="M624.5 605.3l11.6 1.5 6.9-1-11.7-1.4z"/>
<path fill="#001010" stroke="#001010" d="M643 605.8l11.6 1.2 6.9-1.2-11.7-1.1z"/>
<path fill="#00110f" stroke="#00110f" d="M631.3 604.4l11.7 1.4 6.8-1.1-11.6-1.3z"/>
</g>
<path d="M226.8,364.7L235,369.4L243.2,374.1L251.4,378.7L259.6,383.2L267.8,387.6L276,391.9L284.2,396.1L292.3,400.2L300.5,404.2L308.7,408.1L316.9,411.9L325,415.6L333.2,419.2L341.4,422.6L349.5,426L357.7,429.2L365.8,432.4L373.9,435.4L382.1,438.4L390.2,441.2L398.4,443.9L406.5,446.5L414.6,449L422.7,451.4L430.9,453.6L439,455.8L447.1,457.8L455.2,459.7L463.3,461.5L471.4,463.2L479.5,464.7L487.6,466.2L495.7,467.5L503.8,468.7L511.9,469.8L520,470.7L528.1,471.6L536.2,472.3L544.3,472.9L552.3,473.4L560.4,473.7L568.5,473.9L576.6,474L584.7,474L592.8,473.8L600.8,473.6L608.9,473.1L617,472.6L625.1,471.9L633.1,471.1L641.2,470.2L649.3,469.1L657.4,467.9L665.4,466.6L673.5,465.2L681.6,463.6L689.6,461.8L697.7,460L705.8,458L713.9,455.9L721.9,453.6L730,451.2L738.1,448.6L746.2,446L754.3,443.2L762.3,440.2L770.4,437.1L778.5,433.9L786.6,430.5L794.7,427L802.8,423.4L810.9,419.6L819,415.6L827.1,411.6L835.2,407.3L843.3,403L851.4,398.5L859.5,393.8L867.6,389L875.7,384.1M875.7,384.1L881.5,386.4L887.3,388.7L893.1,390.8L898.9,392.8L904.7,394.7L910.5,396.5L916.3,398.1L922.1,399.7L927.9,401.2L933.7,402.5L939.5,403.7L945.3,404.9L951.1,405.9L956.9,406.8L962.7,407.6L968.5,408.3L974.3,408.9L980.1,409.4L985.9,409.8L991.7,410.1L997.5,410.3L1003.3,410.4L1009.1,410.3L1014.9,410.2L1020.7,410L1026.6,409.7L1032.4,409.2L1038.2,408.7L1044,408.1L1049.8,407.3L1055.7,406.5L1061.5,405.6L1067.3,404.6L1073.2,403.5L1079,402.2L1084.8,400.9L1090.7,399.5L1096.5,398L1102.3,396.4L1108.2,394.7L1114,393L1119.9,391.1L1125.7,389.1L1131.6,387.1L1137.4,384.9L1143.3,382.7L1149.2,380.4L1155,378L1160.9,375.5L1166.8,372.9L1172.6,370.3L1178.5,367.5L1184.4,364.7L1190.2,361.8L1196.1,358.8L1202,355.7L1207.9,352.5L1213.8,349.3L1219.7,346L1225.6,342.6L1231.5,339.1L1237.4,335.5L1243.3,331.9L1249.2,328.2L1255.1,324.4L1261,320.6L1266.9,316.6L1272.8,312.6L1278.7,308.6L1284.7,304.4L1290.6,300.2L1296.5,295.9L1302.5,291.6L1308.4,287.2L1314.3,282.7L1320.3,278.2L1326.2,273.6L1332.2,268.9L1338.1,264.2L1344.1,259.4M638.2,603.4L646.9,604.4L655.7,605.3L664.4,606L673.1,606.7L681.9,607.2L690.6,607.6L699.3,607.9L708.1,608.1L716.8,608.1L725.6,608.1L734.3,607.9L743.1,607.6L751.8,607.2L760.5,606.6L769.3,605.9L778.1,605.1L786.8,604.2L795.6,603.1L804.3,602L813.1,600.6L821.8,599.2L830.6,597.6L839.4,595.9L848.1,594.1L856.9,592.1L865.7,590L874.5,587.8L883.2,585.4L892,582.9L900.8,580.3L909.6,577.5L918.4,574.6L927.2,571.5L936,568.3L944.8,565L953.6,561.5L962.4,557.9L971.2,554.2L980,550.3L988.8,546.2L997.6,542L1006.4,537.7L1015.2,533.2L1024,528.6L1032.9,523.8L1041.7,518.9L1050.5,513.8L1059.4,508.6L1068.2,503.2L1077,497.7L1085.9,492.1L1094.7,486.2L1103.6,480.3L1112.4,474.1L1121.3,467.9L1130.1,461.4L1139,454.9L1147.9,448.1L1156.8,441.2L1165.6,434.2L1174.5,427L1183.4,419.6L1192.3,412.1L1201.2,404.4L1210.1,396.5L1219,388.5L1227.9,380.4L1236.8,372L1245.7,363.5L1254.6,354.9L1263.5,346.1L1272.5,337.1L1281.4,328L1290.3,318.7L1299.3,309.2L1308.2,299.6L1317.2,289.8L1326.1,279.8L1335.1,269.7L1344.1,259.4M226.8,364.7L232,372L237.3,379.3L242.6,386.4L247.8,393.4L253.1,400.3L258.3,407.1L263.5,413.7L268.8,420.2L274,426.6L279.2,432.9L284.4,439.1L289.6,445.1L294.8,451.1L300,456.9L305.2,462.5L310.4,468.1L315.5,473.6L320.7,478.9L325.9,484.1L331,489.2L336.2,494.2L341.3,499.1L346.5,503.8L351.6,508.4L356.8,513L361.9,517.4L367.1,521.7L372.2,525.9L377.3,529.9L382.4,533.9L387.6,537.7L392.7,541.5L397.8,545.1L402.9,548.6L408,552L413.2,555.3L418.3,558.5L423.4,561.6L428.5,564.6L433.6,567.5L438.7,570.2L443.8,572.9L448.9,575.5L454,577.9L459.1,580.3L464.2,582.5L469.3,584.7L474.4,586.7L479.5,588.7L484.6,590.5L489.7,592.3L494.8,593.9L499.9,595.5L505.1,596.9L510.2,598.3L515.3,599.5L520.4,600.7L525.5,601.8L530.6,602.8L535.7,603.7L540.8,604.5L545.9,605.2L551,605.8L556.1,606.3L561.2,606.8L566.4,607.1L571.5,607.4L576.6,607.6L581.7,607.7L586.8,607.7L592,607.6L597.1,607.5L602.2,607.2L607.4,606.9L612.5,606.5L617.6,606.1L622.8,605.5L627.9,604.9L633.1,604.2L638.2,603.4" fill="none" stroke="#101010" stroke-width="1.0" stroke-linejoin="round"/>
<ellipse cx="768" cy="577" rx="8" ry="7" fill="#e00000"/>
<text transform="translate(62,658) rotate(-90)" font-family="Liberation Serif, serif" font-size="62" textLength="403" lengthAdjust="spacingAndGlyphs">displacement/mm</text>
<text x="105.5" y="988.5" font-family="Liberation Serif, serif" font-size="60" transform="translate(105.5 988.5) scale(0.98 1.05) translate(-105.5 -988.5)"><tspan font-style="italic">x</tspan><tspan font-size="30">3</tspan>/mm</text>
<text x="1057" y="1036.8" font-family="Liberation Serif, serif" font-size="60" transform="translate(1057 1036.8) scale(0.98 1.05) translate(-1057 -1036.8)"><tspan font-style="italic">x</tspan><tspan font-size="30">2</tspan>/mm</text>
</svg>
</body></html>
